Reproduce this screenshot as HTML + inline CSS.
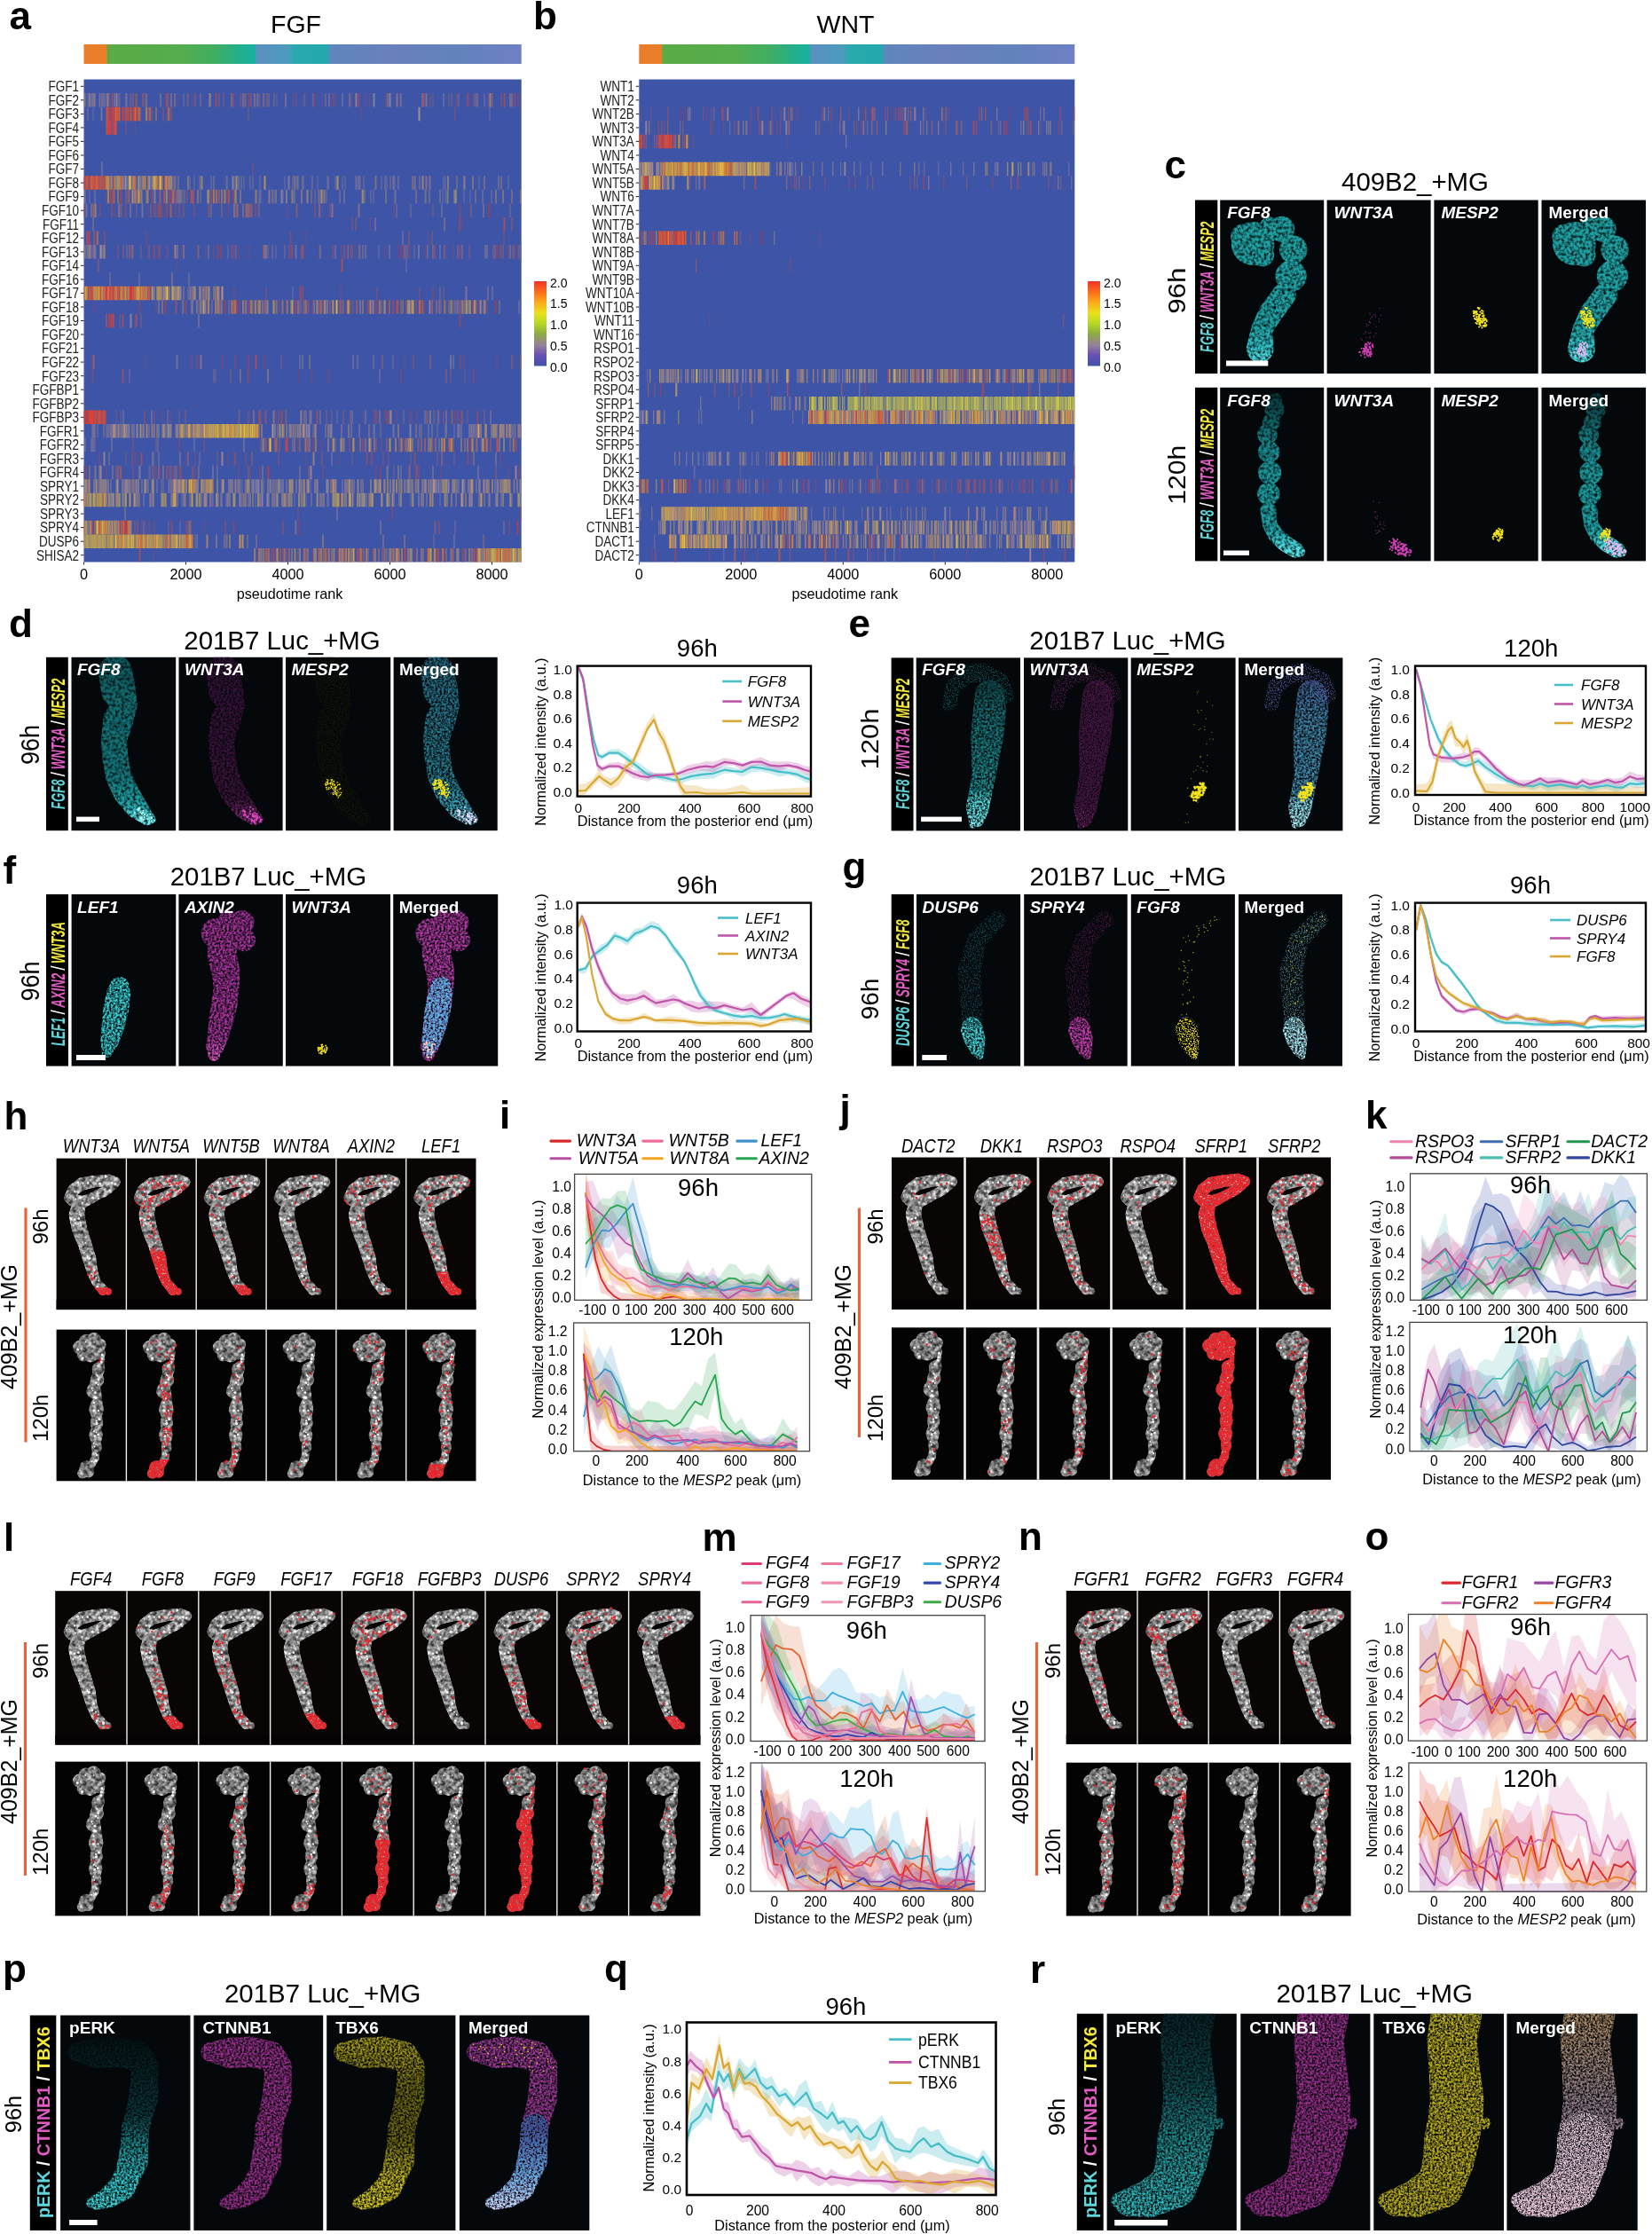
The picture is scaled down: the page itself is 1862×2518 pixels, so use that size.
<!DOCTYPE html><html><head><meta charset="utf-8"><title>Figure</title><style>html,body{margin:0;padding:0;background:#fff}svg{display:block}text{font-family:"Liberation Sans", sans-serif}</style></head><body><svg width="1862" height="2518" viewBox="0 0 1862 2518"><defs><filter id="hb" x="-1%" y="-3%" width="102%" height="106%"><feGaussianBlur stdDeviation="0.45 0"/></filter><linearGradient id="gac" x1="0" x2="1" y1="0" y2="0"><stop offset="0" stop-color="#e87d2a"/><stop offset="0.052" stop-color="#e87d2a"/><stop offset="0.054" stop-color="#5aab46"/><stop offset="0.22" stop-color="#55ad4c"/><stop offset="0.30" stop-color="#3fae62"/><stop offset="0.36" stop-color="#20b08e"/><stop offset="0.392" stop-color="#1ab0a0"/><stop offset="0.394" stop-color="#5b8fc0"/><stop offset="0.47" stop-color="#4a9cbc"/><stop offset="0.48" stop-color="#2aa8ae"/><stop offset="0.555" stop-color="#22a9ac"/><stop offset="0.565" stop-color="#5f86bd"/><stop offset="0.70" stop-color="#6a80bf"/><stop offset="0.85" stop-color="#6282bd"/><stop offset="1" stop-color="#6f80c4"/></linearGradient><linearGradient id="gbc" x1="0" x2="1" y1="0" y2="0"><stop offset="0" stop-color="#e87d2a"/><stop offset="0.052" stop-color="#e87d2a"/><stop offset="0.054" stop-color="#5aab46"/><stop offset="0.22" stop-color="#55ad4c"/><stop offset="0.30" stop-color="#3fae62"/><stop offset="0.36" stop-color="#20b08e"/><stop offset="0.392" stop-color="#1ab0a0"/><stop offset="0.394" stop-color="#5b8fc0"/><stop offset="0.47" stop-color="#4a9cbc"/><stop offset="0.48" stop-color="#2aa8ae"/><stop offset="0.555" stop-color="#22a9ac"/><stop offset="0.565" stop-color="#5f86bd"/><stop offset="0.70" stop-color="#6a80bf"/><stop offset="0.85" stop-color="#6282bd"/><stop offset="1" stop-color="#6f80c4"/></linearGradient><linearGradient id="lg1" x1="0" x2="0" y1="0" y2="1"><stop offset="0.000" stop-color="#f03228"/><stop offset="0.125" stop-color="#fa6e1e"/><stop offset="0.250" stop-color="#faaa1e"/><stop offset="0.375" stop-color="#ebe11e"/><stop offset="0.500" stop-color="#b4d728"/><stop offset="0.625" stop-color="#8caa46"/><stop offset="0.750" stop-color="#968296"/><stop offset="0.875" stop-color="#6950b4"/><stop offset="1.000" stop-color="#3e54a6"/></linearGradient><linearGradient id="lg2" x1="0" x2="0" y1="0" y2="1"><stop offset="0.000" stop-color="#f03228"/><stop offset="0.125" stop-color="#fa6e1e"/><stop offset="0.250" stop-color="#faaa1e"/><stop offset="0.375" stop-color="#ebe11e"/><stop offset="0.500" stop-color="#b4d728"/><stop offset="0.625" stop-color="#8caa46"/><stop offset="0.750" stop-color="#968296"/><stop offset="0.875" stop-color="#6950b4"/><stop offset="1.000" stop-color="#3e54a6"/></linearGradient><clipPath id="cp1"><rect x="650.7" y="750.6" width="263.3" height="147.0"/></clipPath><clipPath id="cp2"><rect x="1595.0" y="750.6" width="260.0" height="145.4"/></clipPath><clipPath id="cp3"><rect x="650.7" y="1017.6" width="263.3" height="144.9"/></clipPath><clipPath id="cp4"><rect x="1595.0" y="1017.6" width="260.0" height="144.9"/></clipPath><clipPath id="cp5"><rect x="774.0" y="2279.5" width="348.5" height="194.5"/></clipPath><clipPath id="cp6"><rect x="647.6" y="1323.4" width="267.2" height="142.0"/></clipPath><clipPath id="cp7"><rect x="646.6" y="1491.0" width="265.9" height="144.7"/></clipPath><clipPath id="cp8"><rect x="1589.5" y="1322.8" width="266.9" height="142.6"/></clipPath><clipPath id="cp9"><rect x="1588.9" y="1490.4" width="267.5" height="145.3"/></clipPath><clipPath id="cp10"><rect x="846.0" y="1820.7" width="264.0" height="141.8"/></clipPath><clipPath id="cp11"><rect x="846.0" y="1987.0" width="264.4" height="144.7"/></clipPath><clipPath id="cp12"><rect x="1587.4" y="1819.5" width="269.0" height="142.6"/></clipPath><clipPath id="cp13"><rect x="1587.9" y="1987.0" width="267.9" height="145.1"/></clipPath><filter id="sp" x="-10%" y="-5%" width="120%" height="110%" color-interpolation-filters="sRGB"><feTurbulence type="fractalNoise" baseFrequency="0.42" numOctaves="2" seed="4" result="n"/><feColorMatrix in="n" type="matrix" values="0 0 0 0 1 0 0 0 0 1 0 0 0 0 1 0 0 0 2.6 -0.72" result="m"/><feComposite in="SourceGraphic" in2="m" operator="in"/></filter><filter id="sf" x="-10%" y="-5%" width="120%" height="110%" color-interpolation-filters="sRGB"><feTurbulence type="fractalNoise" baseFrequency="0.3" numOctaves="2" seed="11" result="n"/><feColorMatrix in="n" type="matrix" values="0 0 0 0 1 0 0 0 0 1 0 0 0 0 1 0 0 0 2.2 -0.35" result="m"/><feComposite in="SourceGraphic" in2="m" operator="in"/></filter><filter id="sp2" x="-10%" y="-5%" width="120%" height="110%" color-interpolation-filters="sRGB"><feTurbulence type="fractalNoise" baseFrequency="0.7" numOctaves="2" seed="9" result="n"/><feColorMatrix in="n" type="matrix" values="0 0 0 0 1 0 0 0 0 1 0 0 0 0 1 0 0 0 5 -2.4" result="m"/><feComposite in="SourceGraphic" in2="m" operator="in"/></filter><filter id="sg" x="-5%" y="-5%" width="110%" height="110%" color-interpolation-filters="sRGB"><feTurbulence type="fractalNoise" baseFrequency="0.2" numOctaves="2" seed="7" result="n"/><feColorMatrix in="n" type="matrix" values="1.6 0 0 0 -0.3 1.6 0 0 0 -0.3 1.6 0 0 0 -0.3 0 0 0 0 1" result="m"/><feComposite in="SourceGraphic" in2="m" operator="arithmetic" k1="1.7" k2="0.25" k3="0" k4="0" result="t"/><feComposite in="t" in2="SourceGraphic" operator="in"/></filter><g id="c96"><circle cx="36.9" cy="49.0" r="24.4"/><circle cx="26.0" cy="41.0" r="14.0"/><circle cx="48.0" cy="62.0" r="13.0"/><circle cx="69.5" cy="32.7" r="14.5"/><circle cx="56.0" cy="31.0" r="12.0"/><circle cx="82.6" cy="55.8" r="15.8"/><circle cx="79.9" cy="85.6" r="17.6"/><circle cx="72.0" cy="107.0" r="13.6"/><circle cx="69.0" cy="111.1" r="13.6"/><circle cx="65.9" cy="115.3" r="13.6"/><circle cx="62.9" cy="119.4" r="13.6"/><circle cx="59.8" cy="123.6" r="13.6"/><circle cx="56.8" cy="127.7" r="13.6"/><circle cx="54.3" cy="132.2" r="13.2"/><circle cx="51.8" cy="136.8" r="12.8"/><circle cx="49.3" cy="141.3" r="12.4"/><circle cx="46.8" cy="145.8" r="12.0"/><circle cx="46.3" cy="151.2" r="12.8"/><circle cx="45.9" cy="156.7" r="13.7"/><circle cx="45.5" cy="162.1" r="14.6"/><circle cx="45.0" cy="167.5" r="15.4"/></g><g id="c96t"><circle cx="46.5" cy="150.0" r="12.0"/><circle cx="46.0" cy="155.8" r="13.0"/><circle cx="45.5" cy="161.7" r="14.0"/><circle cx="45.0" cy="167.5" r="15.0"/></g><g id="c120"><circle cx="62.0" cy="14.0" r="8.0"/><circle cx="61.3" cy="25.0" r="11.0"/><circle cx="57.5" cy="39.0" r="10.0"/><circle cx="53.2" cy="52.6" r="11.3"/><circle cx="55.0" cy="72.5" r="12.2"/><circle cx="55.9" cy="96.0" r="13.1"/><circle cx="54.5" cy="119.6" r="12.7"/><circle cx="54.1" cy="138.0" r="9.0"/><circle cx="54.5" cy="142.2" r="8.8"/><circle cx="55.0" cy="146.4" r="8.6"/><circle cx="55.5" cy="150.6" r="8.3"/><circle cx="55.9" cy="154.8" r="8.1"/><circle cx="58.3" cy="158.7" r="8.4"/><circle cx="60.7" cy="162.7" r="8.7"/><circle cx="63.1" cy="166.6" r="9.0"/><circle cx="66.4" cy="169.6" r="9.2"/><circle cx="69.8" cy="172.6" r="9.3"/><circle cx="73.1" cy="175.6" r="9.5"/><circle cx="77.0" cy="178.0" r="9.3"/><circle cx="80.9" cy="180.5" r="9.2"/><circle cx="84.8" cy="182.9" r="9.0"/><circle cx="90.0" cy="185.0" r="6.0"/></g><g id="d"><circle cx="49.5" cy="16.6" r="19.0"/><circle cx="50.4" cy="21.7" r="19.1"/><circle cx="51.2" cy="26.8" r="19.2"/><circle cx="52.0" cy="31.8" r="19.4"/><circle cx="52.9" cy="36.9" r="19.5"/><circle cx="55.2" cy="42.6" r="17.8"/><circle cx="57.4" cy="48.2" r="16.2"/><circle cx="59.7" cy="53.9" r="14.5"/><circle cx="57.4" cy="59.5" r="15.3"/><circle cx="55.2" cy="65.2" r="16.2"/><circle cx="52.9" cy="70.8" r="17.0"/><circle cx="51.6" cy="76.3" r="16.4"/><circle cx="50.3" cy="81.8" r="15.8"/><circle cx="49.1" cy="87.4" r="15.1"/><circle cx="47.8" cy="92.9" r="14.5"/><circle cx="48.2" cy="98.0" r="14.5"/><circle cx="48.6" cy="103.1" r="14.5"/><circle cx="49.1" cy="108.1" r="14.5"/><circle cx="49.5" cy="113.2" r="14.5"/><circle cx="50.4" cy="118.3" r="14.5"/><circle cx="51.2" cy="123.4" r="14.5"/><circle cx="52.0" cy="128.5" r="14.5"/><circle cx="52.9" cy="133.6" r="14.5"/><circle cx="55.0" cy="138.2" r="14.5"/><circle cx="57.1" cy="142.9" r="14.5"/><circle cx="59.3" cy="147.5" r="14.5"/><circle cx="61.4" cy="152.2" r="14.5"/><circle cx="64.3" cy="156.4" r="14.0"/><circle cx="67.3" cy="160.7" r="13.5"/><circle cx="70.2" cy="164.9" r="13.0"/><circle cx="73.2" cy="169.2" r="12.5"/><circle cx="77.2" cy="173.1" r="11.2"/><circle cx="81.1" cy="177.1" r="9.8"/><circle cx="85.1" cy="181.0" r="8.5"/><circle cx="90.2" cy="182.7" r="5.0"/></g><g id="e"><circle cx="82.8" cy="41.8" r="16.7"/><circle cx="82.8" cy="47.8" r="17.3"/><circle cx="82.8" cy="53.9" r="17.9"/><circle cx="82.8" cy="59.9" r="18.5"/><circle cx="82.2" cy="65.3" r="18.5"/><circle cx="81.7" cy="70.7" r="18.5"/><circle cx="81.1" cy="76.2" r="18.5"/><circle cx="80.6" cy="81.6" r="18.5"/><circle cx="80.0" cy="87.0" r="18.5"/><circle cx="79.6" cy="92.4" r="17.9"/><circle cx="79.1" cy="97.8" r="17.3"/><circle cx="78.7" cy="103.3" r="16.6"/><circle cx="78.2" cy="108.7" r="16.0"/><circle cx="77.8" cy="114.1" r="15.4"/><circle cx="77.2" cy="120.1" r="14.8"/><circle cx="76.6" cy="126.2" r="14.2"/><circle cx="76.0" cy="132.2" r="13.6"/><circle cx="74.9" cy="138.2" r="13.4"/><circle cx="73.9" cy="144.3" r="13.3"/><circle cx="72.8" cy="150.3" r="13.1"/><circle cx="71.6" cy="156.3" r="13.1"/><circle cx="70.4" cy="162.4" r="13.1"/><circle cx="69.2" cy="168.4" r="13.1"/><circle cx="68.5" cy="175.2" r="11.1"/><circle cx="67.8" cy="182.0" r="9.0"/><circle cx="64.2" cy="188.3" r="4.0"/></g><g id="eh"><circle cx="37.0" cy="52.0" r="8.0"/><circle cx="38.2" cy="47.0" r="8.2"/><circle cx="39.5" cy="42.0" r="8.5"/><circle cx="40.8" cy="37.0" r="8.8"/><circle cx="42.0" cy="32.0" r="9.0"/><circle cx="46.0" cy="28.5" r="9.2"/><circle cx="50.0" cy="25.0" r="9.5"/><circle cx="54.0" cy="21.5" r="9.8"/><circle cx="58.0" cy="18.0" r="10.0"/><circle cx="64.0" cy="17.7" r="10.3"/><circle cx="70.0" cy="17.3" r="10.7"/><circle cx="76.0" cy="17.0" r="11.0"/><circle cx="80.5" cy="19.8" r="11.0"/><circle cx="85.0" cy="22.5" r="11.0"/><circle cx="89.5" cy="25.2" r="11.0"/><circle cx="94.0" cy="28.0" r="11.0"/><circle cx="96.0" cy="32.7" r="10.7"/><circle cx="98.0" cy="37.3" r="10.3"/><circle cx="100.0" cy="42.0" r="10.0"/></g><g id="et"><circle cx="71.0" cy="158.0" r="13.0"/><circle cx="70.1" cy="163.2" r="13.1"/><circle cx="69.2" cy="168.4" r="13.1"/><circle cx="68.7" cy="172.9" r="11.7"/><circle cx="68.3" cy="177.5" r="10.4"/><circle cx="67.8" cy="182.0" r="9.0"/><circle cx="64.2" cy="188.3" r="4.0"/></g><g id="f"><circle cx="42.2" cy="44.0" r="17.0"/><circle cx="71.8" cy="31.5" r="13.4"/><circle cx="73.6" cy="51.2" r="13.0"/><circle cx="54.8" cy="27.0" r="9.8"/><circle cx="58.0" cy="45.0" r="14.0"/><circle cx="49.0" cy="62.0" r="16.5"/><circle cx="49.0" cy="69.1" r="16.5"/><circle cx="50.3" cy="75.1" r="16.3"/><circle cx="51.7" cy="81.0" r="16.2"/><circle cx="53.0" cy="87.0" r="16.0"/><circle cx="53.3" cy="93.0" r="15.4"/><circle cx="53.6" cy="98.9" r="14.9"/><circle cx="53.9" cy="104.9" r="14.3"/><circle cx="53.1" cy="110.9" r="14.5"/><circle cx="52.4" cy="116.8" r="14.6"/><circle cx="51.6" cy="122.8" r="14.8"/><circle cx="50.4" cy="128.8" r="14.5"/><circle cx="49.3" cy="134.7" r="14.2"/><circle cx="48.1" cy="140.7" r="13.9"/><circle cx="46.9" cy="146.7" r="13.3"/><circle cx="45.7" cy="152.6" r="12.6"/><circle cx="44.5" cy="158.6" r="12.0"/><circle cx="42.7" cy="165.3" r="11.2"/><circle cx="40.9" cy="172.0" r="10.3"/><circle cx="39.6" cy="181.0" r="7.0"/></g><g id="fl"><circle cx="54.0" cy="104.0" r="11.0"/><circle cx="53.0" cy="112.0" r="13.5"/><circle cx="52.0" cy="118.0" r="13.8"/><circle cx="51.0" cy="124.0" r="14.2"/><circle cx="50.0" cy="130.0" r="14.5"/><circle cx="49.0" cy="136.0" r="14.0"/><circle cx="48.0" cy="142.0" r="13.5"/><circle cx="47.0" cy="148.0" r="13.0"/><circle cx="45.7" cy="153.7" r="12.2"/><circle cx="44.3" cy="159.3" r="11.3"/><circle cx="43.0" cy="165.0" r="10.5"/><circle cx="41.5" cy="171.5" r="8.2"/><circle cx="40.0" cy="178.0" r="6.0"/></g><g id="ft"><circle cx="41.5" cy="170.0" r="9.0"/><circle cx="40.5" cy="175.0" r="8.0"/><circle cx="39.6" cy="180.0" r="7.0"/></g><g id="g"><circle cx="62.0" cy="148.0" r="10.0"/><circle cx="62.4" cy="152.3" r="12.5"/><circle cx="64.0" cy="157.7" r="12.2"/><circle cx="65.5" cy="163.1" r="12.0"/><circle cx="66.8" cy="168.4" r="10.2"/><circle cx="68.2" cy="173.8" r="8.5"/><circle cx="69.8" cy="177.9" r="6.2"/><circle cx="71.3" cy="181.9" r="4.0"/></g><g id="gb"><circle cx="62.8" cy="140.0" r="12.0"/><circle cx="62.4" cy="133.4" r="12.1"/><circle cx="61.9" cy="126.8" r="12.2"/><circle cx="61.5" cy="120.1" r="12.4"/><circle cx="61.0" cy="113.5" r="12.5"/><circle cx="60.6" cy="106.9" r="12.6"/><circle cx="60.2" cy="100.2" r="12.8"/><circle cx="59.7" cy="93.6" r="12.9"/><circle cx="59.3" cy="87.0" r="13.0"/><circle cx="60.8" cy="81.0" r="12.7"/><circle cx="62.3" cy="75.1" r="12.3"/><circle cx="63.8" cy="69.1" r="12.0"/><circle cx="65.2" cy="63.1" r="11.7"/><circle cx="66.7" cy="57.2" r="11.3"/><circle cx="68.2" cy="51.2" r="11.0"/><circle cx="72.7" cy="46.7" r="10.8"/><circle cx="77.2" cy="42.2" r="10.6"/><circle cx="81.6" cy="37.8" r="10.4"/><circle cx="86.1" cy="33.3" r="10.2"/><circle cx="90.6" cy="28.8" r="10.0"/></g><g id="p"><circle cx="19.3" cy="41.4" r="11.1"/><circle cx="26.7" cy="41.7" r="13.2"/><circle cx="34.2" cy="42.0" r="15.3"/><circle cx="41.6" cy="42.3" r="17.4"/><circle cx="49.1" cy="41.9" r="17.4"/><circle cx="56.5" cy="41.6" r="17.4"/><circle cx="64.0" cy="41.2" r="17.4"/><circle cx="71.5" cy="42.8" r="17.1"/><circle cx="78.9" cy="44.3" r="16.9"/><circle cx="86.4" cy="45.9" r="16.7"/><circle cx="90.9" cy="52.0" r="15.9"/><circle cx="95.4" cy="58.2" r="15.1"/><circle cx="95.1" cy="64.3" r="15.3"/><circle cx="94.8" cy="70.5" r="15.6"/><circle cx="94.4" cy="78.0" r="15.9"/><circle cx="94.1" cy="85.4" r="16.3"/><circle cx="93.7" cy="92.9" r="16.7"/><circle cx="91.5" cy="101.3" r="16.1"/><circle cx="89.2" cy="109.7" r="15.6"/><circle cx="87.0" cy="118.1" r="15.6"/><circle cx="84.7" cy="126.5" r="15.6"/><circle cx="84.2" cy="134.0" r="15.7"/><circle cx="83.8" cy="141.4" r="15.8"/><circle cx="83.3" cy="148.9" r="15.8"/><circle cx="82.6" cy="156.2" r="16.5"/><circle cx="81.9" cy="163.4" r="17.1"/><circle cx="79.7" cy="170.1" r="16.1"/><circle cx="77.4" cy="176.8" r="15.1"/><circle cx="74.8" cy="182.4" r="15.1"/><circle cx="72.2" cy="188.0" r="15.1"/><circle cx="69.6" cy="193.6" r="15.1"/><circle cx="64.8" cy="197.3" r="14.1"/><circle cx="59.9" cy="201.1" r="13.1"/><circle cx="55.1" cy="204.8" r="12.1"/><circle cx="48.4" cy="207.6" r="10.5"/><circle cx="41.6" cy="210.4" r="9.0"/><circle cx="34.9" cy="211.0" r="6.0"/></g><g id="pt"><circle cx="84.7" cy="126.5" r="15.6"/><circle cx="84.2" cy="134.0" r="15.7"/><circle cx="83.8" cy="141.4" r="15.8"/><circle cx="83.3" cy="148.9" r="15.8"/><circle cx="82.6" cy="156.2" r="16.5"/><circle cx="81.9" cy="163.4" r="17.1"/><circle cx="79.7" cy="170.1" r="16.1"/><circle cx="77.4" cy="176.8" r="15.1"/><circle cx="74.8" cy="182.4" r="15.1"/><circle cx="72.2" cy="188.0" r="15.1"/><circle cx="69.6" cy="193.6" r="15.1"/><circle cx="64.8" cy="197.3" r="14.1"/><circle cx="59.9" cy="201.1" r="13.1"/><circle cx="55.1" cy="204.8" r="12.1"/><circle cx="48.4" cy="207.6" r="10.5"/><circle cx="41.6" cy="210.4" r="9.0"/><circle cx="34.9" cy="211.0" r="6.0"/></g><g id="ph"><circle cx="19.3" cy="41.4" r="11.1"/><circle cx="26.7" cy="41.7" r="13.2"/><circle cx="34.2" cy="42.0" r="15.3"/><circle cx="41.6" cy="42.3" r="17.4"/><circle cx="49.1" cy="41.9" r="17.4"/><circle cx="56.5" cy="41.6" r="17.4"/><circle cx="64.0" cy="41.2" r="17.4"/><circle cx="71.5" cy="42.8" r="17.1"/><circle cx="78.9" cy="44.3" r="16.9"/><circle cx="86.4" cy="45.9" r="16.7"/><circle cx="90.9" cy="52.0" r="15.9"/><circle cx="95.4" cy="58.2" r="15.1"/></g><g id="r"><circle cx="93.3" cy="0.0" r="28.8"/><circle cx="91.6" cy="10.0" r="28.6"/><circle cx="89.9" cy="19.9" r="28.4"/><circle cx="88.2" cy="29.9" r="28.2"/><circle cx="88.9" cy="38.4" r="28.4"/><circle cx="89.6" cy="46.8" r="28.5"/><circle cx="90.3" cy="55.2" r="28.6"/><circle cx="91.0" cy="63.7" r="28.8"/><circle cx="91.7" cy="72.2" r="29.2"/><circle cx="92.5" cy="80.7" r="29.6"/><circle cx="93.2" cy="89.1" r="30.1"/><circle cx="93.9" cy="97.6" r="30.5"/><circle cx="93.1" cy="108.9" r="30.8"/><circle cx="92.2" cy="120.2" r="31.0"/><circle cx="90.0" cy="131.4" r="31.0"/><circle cx="87.7" cy="142.7" r="31.0"/><circle cx="86.0" cy="154.0" r="30.0"/><circle cx="84.3" cy="165.3" r="29.0"/><circle cx="81.5" cy="174.7" r="28.0"/><circle cx="78.6" cy="184.1" r="27.0"/><circle cx="75.8" cy="193.5" r="26.0"/><circle cx="66.4" cy="198.4" r="24.5"/><circle cx="57.0" cy="203.3" r="22.9"/><circle cx="47.6" cy="208.2" r="21.4"/><circle cx="36.3" cy="210.4" r="18.6"/><circle cx="25.0" cy="212.7" r="15.8"/><circle cx="13.8" cy="210.4" r="9.0"/><circle cx="125.0" cy="123.5" r="7.0"/></g><g id="rt"><circle cx="87.7" cy="142.7" r="31.0"/><circle cx="86.0" cy="154.0" r="30.0"/><circle cx="84.3" cy="165.3" r="29.0"/><circle cx="81.5" cy="174.7" r="28.0"/><circle cx="78.6" cy="184.1" r="27.0"/><circle cx="75.8" cy="193.5" r="26.0"/><circle cx="66.4" cy="198.4" r="24.5"/><circle cx="57.0" cy="203.3" r="22.9"/><circle cx="47.6" cy="208.2" r="21.4"/><circle cx="36.3" cy="210.4" r="18.6"/><circle cx="25.0" cy="212.7" r="15.8"/><circle cx="13.8" cy="210.4" r="9.0"/></g><clipPath id="pc1"><rect x="1375.2" y="225.5" width="117.0" height="195.6"/></clipPath><clipPath id="pc2"><rect x="1495.6" y="225.5" width="117.0" height="195.6"/></clipPath><clipPath id="pc3"><rect x="1616.4" y="225.5" width="117.3" height="195.6"/></clipPath><clipPath id="pc4"><rect x="1737.5" y="225.5" width="117.5" height="195.6"/></clipPath><clipPath id="pc5"><rect x="1375.2" y="436.8" width="117.0" height="195.6"/></clipPath><clipPath id="pc6"><rect x="1495.6" y="436.8" width="117.0" height="195.6"/></clipPath><clipPath id="pc7"><rect x="1616.4" y="436.8" width="117.3" height="195.6"/></clipPath><clipPath id="pc8"><rect x="1737.5" y="436.8" width="117.5" height="195.6"/></clipPath><linearGradient id="vg9" gradientUnits="userSpaceOnUse" x1="0" x2="0" y1="20" y2="185"><stop offset="0" stop-color="#1f9fa0"/><stop offset="0.75" stop-color="#1fa3a6"/><stop offset="0.9" stop-color="#34c4c8"/><stop offset="1" stop-color="#58e6ea"/></linearGradient><linearGradient id="vg10" gradientUnits="userSpaceOnUse" x1="0" x2="0" y1="10" y2="190"><stop offset="0" stop-color="#0a3a3e"/><stop offset="0.2" stop-color="#136a6e"/><stop offset="0.35" stop-color="#1a9093"/><stop offset="0.85" stop-color="#1fa3a6"/><stop offset="0.95" stop-color="#50e0e4"/><stop offset="1" stop-color="#60ecf0"/></linearGradient><clipPath id="pc11"><rect x="80.5" y="740.8" width="117.7" height="195.4"/></clipPath><clipPath id="pc12"><rect x="201.5" y="740.8" width="117.1" height="195.4"/></clipPath><clipPath id="pc13"><rect x="322.0" y="740.8" width="118.2" height="195.4"/></clipPath><clipPath id="pc14"><rect x="443.6" y="740.8" width="117.1" height="195.4"/></clipPath><linearGradient id="vg15" gradientUnits="userSpaceOnUse" x1="0" x2="0" y1="20" y2="185"><stop offset="0" stop-color="#0f5c60"/><stop offset="0.15" stop-color="#126c70"/><stop offset="0.7" stop-color="#14767a"/><stop offset="0.9" stop-color="#22a8ac"/><stop offset="1" stop-color="#6cecee"/></linearGradient><linearGradient id="vg16" gradientUnits="userSpaceOnUse" x1="0" x2="0" y1="20" y2="185"><stop offset="0" stop-color="#35103a"/><stop offset="0.85" stop-color="#3c123c"/><stop offset="1" stop-color="#a0308c"/></linearGradient><linearGradient id="vg17" gradientUnits="userSpaceOnUse" x1="0" x2="0" y1="20" y2="185"><stop offset="0" stop-color="#256f86"/><stop offset="0.7" stop-color="#25788a"/><stop offset="0.9" stop-color="#3aa8c0"/><stop offset="1" stop-color="#9adcf0"/></linearGradient><clipPath id="pc18"><rect x="1032.7" y="741.4" width="117.3" height="195.0"/></clipPath><clipPath id="pc19"><rect x="1154.0" y="741.4" width="117.3" height="195.0"/></clipPath><clipPath id="pc20"><rect x="1274.7" y="741.4" width="117.9" height="195.0"/></clipPath><clipPath id="pc21"><rect x="1396.0" y="741.4" width="117.4" height="195.0"/></clipPath><linearGradient id="vg22" gradientUnits="userSpaceOnUse" x1="0" x2="0" y1="20" y2="190"><stop offset="0" stop-color="#0a3c40"/><stop offset="0.25" stop-color="#146e72"/><stop offset="0.75" stop-color="#1a8e92"/><stop offset="0.83" stop-color="#50d8de"/><stop offset="1" stop-color="#80f0f4"/></linearGradient><linearGradient id="vg23" gradientUnits="userSpaceOnUse" x1="0" x2="0" y1="20" y2="190"><stop offset="0" stop-color="#5a1c54"/><stop offset="0.85" stop-color="#6a2062"/><stop offset="1" stop-color="#d040b8"/></linearGradient><linearGradient id="vg24" gradientUnits="userSpaceOnUse" x1="0" x2="0" y1="20" y2="190"><stop offset="0" stop-color="#3a5a90"/><stop offset="0.3" stop-color="#3f80a6"/><stop offset="0.78" stop-color="#3f8cae"/><stop offset="0.86" stop-color="#8fe0f0"/><stop offset="1" stop-color="#a8ecf6"/></linearGradient><clipPath id="pc25"><rect x="80.6" y="1008.0" width="117.7" height="193.6"/></clipPath><clipPath id="pc26"><rect x="201.4" y="1008.0" width="117.4" height="193.6"/></clipPath><clipPath id="pc27"><rect x="322.0" y="1008.0" width="118.0" height="193.6"/></clipPath><clipPath id="pc28"><rect x="443.2" y="1008.0" width="118.0" height="193.6"/></clipPath><linearGradient id="vg29" gradientUnits="userSpaceOnUse" x1="0" x2="0" y1="20" y2="185"><stop offset="0" stop-color="#a8329c"/><stop offset="0.85" stop-color="#a8329c"/><stop offset="1" stop-color="#ea60d0"/></linearGradient><clipPath id="pc30"><rect x="1033.0" y="1008.0" width="117.1" height="193.6"/></clipPath><clipPath id="pc31"><rect x="1154.2" y="1008.0" width="116.5" height="193.6"/></clipPath><clipPath id="pc32"><rect x="1274.8" y="1008.0" width="117.1" height="193.6"/></clipPath><clipPath id="pc33"><rect x="1396.0" y="1008.0" width="117.0" height="193.6"/></clipPath><clipPath id="pc34"><rect x="68.1" y="2271.5" width="146.4" height="242.5"/></clipPath><clipPath id="pc35"><rect x="218.4" y="2271.5" width="145.8" height="242.5"/></clipPath><clipPath id="pc36"><rect x="368.2" y="2271.5" width="145.2" height="242.5"/></clipPath><clipPath id="pc37"><rect x="517.9" y="2271.5" width="146.4" height="242.5"/></clipPath><linearGradient id="vg38" gradientUnits="userSpaceOnUse" x1="0" x2="0" y1="20" y2="225"><stop offset="0" stop-color="#041012"/><stop offset="0.45" stop-color="#0a3a3e"/><stop offset="0.62" stop-color="#1a8c90"/><stop offset="0.8" stop-color="#30c4c8"/><stop offset="1" stop-color="#44dce0"/></linearGradient><linearGradient id="vg39" gradientUnits="userSpaceOnUse" x1="0" x2="0" y1="20" y2="225"><stop offset="0" stop-color="#b0a41c"/><stop offset="0.3" stop-color="#6e6810"/><stop offset="0.6" stop-color="#6e6810"/><stop offset="0.8" stop-color="#c4b81e"/><stop offset="1" stop-color="#d8cc22"/></linearGradient><linearGradient id="vg40" gradientUnits="userSpaceOnUse" x1="0" x2="0" y1="130" y2="225"><stop offset="0" stop-color="#3060a0"/><stop offset="0.5" stop-color="#50b0e0"/><stop offset="1" stop-color="#d0f0ff"/></linearGradient><clipPath id="pc41"><rect x="1247.6" y="2269.7" width="146.2" height="244.3"/></clipPath><clipPath id="pc42"><rect x="1398.3" y="2269.7" width="146.1" height="244.3"/></clipPath><clipPath id="pc43"><rect x="1548.3" y="2269.7" width="146.7" height="244.3"/></clipPath><clipPath id="pc44"><rect x="1698.4" y="2269.7" width="147.3" height="244.3"/></clipPath><linearGradient id="vg45" gradientUnits="userSpaceOnUse" x1="0" x2="0" y1="0" y2="225"><stop offset="0" stop-color="#082428"/><stop offset="0.35" stop-color="#0d4a4e"/><stop offset="0.6" stop-color="#1b888a"/><stop offset="1" stop-color="#32bcc0"/></linearGradient><clipPath id="pc46"><rect x="1247.6" y="2269.7" width="146.2" height="244.3"/></clipPath><clipPath id="pc47"><rect x="1398.3" y="2269.7" width="146.1" height="244.3"/></clipPath><clipPath id="pc48"><rect x="1548.3" y="2269.7" width="146.7" height="244.3"/></clipPath><clipPath id="pc49"><rect x="1698.4" y="2269.7" width="147.3" height="244.3"/></clipPath><linearGradient id="vg50" gradientUnits="userSpaceOnUse" x1="0" x2="0" y1="0" y2="225"><stop offset="0" stop-color="#a88860"/><stop offset="0.45" stop-color="#907c88"/><stop offset="0.7" stop-color="#a890a8"/><stop offset="1" stop-color="#e0b8d0"/></linearGradient><filter id="rr" x="-5%" y="-5%" width="110%" height="110%" color-interpolation-filters="sRGB"><feTurbulence type="fractalNoise" baseFrequency="0.5" numOctaves="2" seed="3" result="n"/><feColorMatrix in="n" type="matrix" values="0 0 0 0 1 0 0 0 0 1 0 0 0 0 1 0 0 0 4 -0.85" result="m"/><feComposite in="SourceGraphic" in2="m" operator="in"/></filter><g id="E96"><g fill="#7c7c7c" filter="url(#sg)"><circle cx="17.0" cy="43.0" r="7.0"/><circle cx="18.3" cy="40.0" r="7.0"/><circle cx="19.7" cy="37.0" r="7.0"/><circle cx="21.0" cy="34.0" r="7.0"/><circle cx="24.0" cy="31.8" r="7.2"/><circle cx="27.0" cy="29.7" r="7.3"/><circle cx="30.0" cy="27.5" r="7.5"/><circle cx="33.0" cy="26.9" r="7.4"/><circle cx="36.0" cy="26.3" r="7.3"/><circle cx="39.0" cy="25.7" r="7.2"/><circle cx="42.0" cy="25.1" r="7.1"/><circle cx="45.0" cy="24.5" r="7.0"/><circle cx="48.0" cy="24.2" r="7.0"/><circle cx="51.0" cy="23.9" r="7.0"/><circle cx="54.0" cy="23.6" r="7.0"/><circle cx="57.0" cy="23.3" r="7.0"/><circle cx="60.0" cy="23.0" r="7.0"/><circle cx="64.0" cy="24.0" r="6.5"/><circle cx="68.0" cy="25.0" r="6.0"/><circle cx="68.0" cy="27.0" r="5.0"/><circle cx="65.2" cy="29.0" r="5.2"/><circle cx="62.5" cy="31.0" r="5.5"/><circle cx="59.8" cy="33.0" r="5.8"/><circle cx="57.0" cy="35.0" r="6.0"/><circle cx="53.8" cy="36.8" r="6.0"/><circle cx="50.5" cy="38.5" r="6.0"/><circle cx="47.2" cy="40.2" r="6.0"/><circle cx="44.0" cy="42.0" r="6.0"/><circle cx="41.0" cy="43.4" r="6.2"/><circle cx="38.0" cy="44.8" r="6.5"/><circle cx="35.0" cy="46.1" r="6.8"/><circle cx="32.0" cy="47.5" r="7.0"/><circle cx="29.0" cy="47.1" r="7.0"/><circle cx="26.0" cy="46.8" r="7.0"/><circle cx="23.0" cy="46.4" r="7.0"/><circle cx="20.0" cy="46.0" r="7.0"/><circle cx="27.0" cy="50.0" r="8.0"/><circle cx="26.4" cy="53.0" r="8.2"/><circle cx="25.7" cy="56.1" r="8.5"/><circle cx="25.0" cy="59.2" r="8.8"/><circle cx="24.4" cy="62.2" r="9.0"/><circle cx="25.0" cy="65.3" r="9.0"/><circle cx="25.6" cy="68.5" r="9.0"/><circle cx="26.3" cy="71.6" r="9.0"/><circle cx="26.9" cy="74.8" r="9.0"/><circle cx="27.5" cy="77.9" r="9.0"/><circle cx="28.6" cy="80.8" r="8.8"/><circle cx="29.6" cy="83.7" r="8.7"/><circle cx="30.6" cy="86.6" r="8.5"/><circle cx="31.7" cy="89.4" r="8.3"/><circle cx="32.8" cy="92.3" r="8.2"/><circle cx="33.8" cy="95.2" r="8.0"/><circle cx="34.8" cy="98.4" r="8.0"/><circle cx="35.7" cy="101.5" r="8.0"/><circle cx="36.7" cy="104.7" r="8.0"/><circle cx="37.6" cy="107.8" r="8.0"/><circle cx="38.6" cy="111.0" r="8.0"/><circle cx="39.4" cy="114.5" r="7.6"/><circle cx="40.2" cy="118.0" r="7.2"/><circle cx="40.9" cy="121.6" r="6.9"/><circle cx="41.7" cy="125.1" r="6.5"/><circle cx="42.9" cy="128.2" r="6.2"/><circle cx="44.0" cy="131.4" r="6.0"/><circle cx="45.2" cy="134.5" r="5.8"/><circle cx="46.4" cy="137.7" r="5.5"/><circle cx="48.4" cy="140.1" r="5.6"/><circle cx="50.3" cy="142.4" r="5.8"/><circle cx="52.3" cy="144.8" r="5.9"/><circle cx="54.3" cy="147.2" r="6.0"/><circle cx="60.0" cy="148.7" r="4.0"/></g><g fill="#fff" fill-opacity="0.9"><circle cx="28.8" cy="42.8" r="1.5"/><circle cx="55.1" cy="145.3" r="1.5"/><circle cx="31.4" cy="26.5" r="1.1"/><circle cx="30.9" cy="48.6" r="0.9"/><circle cx="42.5" cy="43.0" r="1.5"/><circle cx="34.5" cy="93.8" r="0.8"/><circle cx="38.8" cy="111.2" r="1.5"/><circle cx="47.9" cy="36.2" r="0.8"/><circle cx="61.6" cy="34.7" r="1.2"/><circle cx="49.0" cy="44.0" r="0.9"/><circle cx="30.6" cy="92.8" r="0.8"/><circle cx="67.8" cy="27.4" r="1.4"/><circle cx="13.6" cy="40.7" r="0.8"/><circle cx="29.3" cy="73.9" r="1.0"/><circle cx="41.1" cy="128.6" r="0.9"/><circle cx="22.4" cy="36.1" r="1.1"/><circle cx="32.9" cy="104.7" r="0.7"/><circle cx="25.9" cy="25.8" r="1.6"/><circle cx="57.2" cy="18.6" r="1.5"/><circle cx="20.9" cy="74.3" r="0.9"/><circle cx="44.2" cy="124.2" r="1.4"/><circle cx="31.8" cy="54.3" r="0.8"/><circle cx="22.5" cy="71.3" r="0.8"/><circle cx="23.2" cy="44.3" r="1.0"/><circle cx="22.5" cy="67.5" r="1.3"/><circle cx="27.5" cy="59.1" r="0.7"/><circle cx="55.0" cy="146.9" r="1.4"/><circle cx="28.8" cy="71.0" r="1.1"/><circle cx="37.1" cy="26.4" r="1.4"/><circle cx="26.8" cy="66.5" r="1.4"/><circle cx="57.0" cy="19.8" r="0.8"/><circle cx="36.7" cy="108.8" r="1.1"/><circle cx="64.0" cy="26.2" r="1.5"/><circle cx="47.7" cy="143.3" r="1.4"/><circle cx="42.4" cy="131.2" r="1.5"/><circle cx="50.5" cy="27.0" r="1.6"/><circle cx="46.4" cy="133.3" r="1.1"/><circle cx="49.1" cy="136.5" r="1.0"/></g></g><g id="E96r" fill="#e8262c"><circle cx="17.0" cy="43.0" r="7.0"/><circle cx="18.3" cy="40.0" r="7.0"/><circle cx="19.7" cy="37.0" r="7.0"/><circle cx="21.0" cy="34.0" r="7.0"/><circle cx="24.0" cy="31.8" r="7.2"/><circle cx="27.0" cy="29.7" r="7.3"/><circle cx="30.0" cy="27.5" r="7.5"/><circle cx="33.0" cy="26.9" r="7.4"/><circle cx="36.0" cy="26.3" r="7.3"/><circle cx="39.0" cy="25.7" r="7.2"/><circle cx="42.0" cy="25.1" r="7.1"/><circle cx="45.0" cy="24.5" r="7.0"/><circle cx="48.0" cy="24.2" r="7.0"/><circle cx="51.0" cy="23.9" r="7.0"/><circle cx="54.0" cy="23.6" r="7.0"/><circle cx="57.0" cy="23.3" r="7.0"/><circle cx="60.0" cy="23.0" r="7.0"/><circle cx="64.0" cy="24.0" r="6.5"/><circle cx="68.0" cy="25.0" r="6.0"/><circle cx="68.0" cy="27.0" r="5.0"/><circle cx="65.2" cy="29.0" r="5.2"/><circle cx="62.5" cy="31.0" r="5.5"/><circle cx="59.8" cy="33.0" r="5.8"/><circle cx="57.0" cy="35.0" r="6.0"/><circle cx="53.8" cy="36.8" r="6.0"/><circle cx="50.5" cy="38.5" r="6.0"/><circle cx="47.2" cy="40.2" r="6.0"/><circle cx="44.0" cy="42.0" r="6.0"/><circle cx="41.0" cy="43.4" r="6.2"/><circle cx="38.0" cy="44.8" r="6.5"/><circle cx="35.0" cy="46.1" r="6.8"/><circle cx="32.0" cy="47.5" r="7.0"/><circle cx="29.0" cy="47.1" r="7.0"/><circle cx="26.0" cy="46.8" r="7.0"/><circle cx="23.0" cy="46.4" r="7.0"/><circle cx="20.0" cy="46.0" r="7.0"/><circle cx="27.0" cy="50.0" r="8.0"/><circle cx="26.4" cy="53.0" r="8.2"/><circle cx="25.7" cy="56.1" r="8.5"/><circle cx="25.0" cy="59.2" r="8.8"/><circle cx="24.4" cy="62.2" r="9.0"/><circle cx="25.0" cy="65.3" r="9.0"/><circle cx="25.6" cy="68.5" r="9.0"/><circle cx="26.3" cy="71.6" r="9.0"/><circle cx="26.9" cy="74.8" r="9.0"/><circle cx="27.5" cy="77.9" r="9.0"/><circle cx="28.6" cy="80.8" r="8.8"/><circle cx="29.6" cy="83.7" r="8.7"/><circle cx="30.6" cy="86.6" r="8.5"/><circle cx="31.7" cy="89.4" r="8.3"/><circle cx="32.8" cy="92.3" r="8.2"/><circle cx="33.8" cy="95.2" r="8.0"/><circle cx="34.8" cy="98.4" r="8.0"/><circle cx="35.7" cy="101.5" r="8.0"/><circle cx="36.7" cy="104.7" r="8.0"/><circle cx="37.6" cy="107.8" r="8.0"/><circle cx="38.6" cy="111.0" r="8.0"/><circle cx="39.4" cy="114.5" r="7.6"/><circle cx="40.2" cy="118.0" r="7.2"/><circle cx="40.9" cy="121.6" r="6.9"/><circle cx="41.7" cy="125.1" r="6.5"/><circle cx="42.9" cy="128.2" r="6.2"/><circle cx="44.0" cy="131.4" r="6.0"/><circle cx="45.2" cy="134.5" r="5.8"/><circle cx="46.4" cy="137.7" r="5.5"/><circle cx="48.4" cy="140.1" r="5.6"/><circle cx="50.3" cy="142.4" r="5.8"/><circle cx="52.3" cy="144.8" r="5.9"/><circle cx="54.3" cy="147.2" r="6.0"/><circle cx="60.0" cy="148.7" r="4.0"/></g><g id="E120"><g fill="#707070" filter="url(#sg)"><circle cx="26.0" cy="19.0" r="8.0"/><circle cx="33.0" cy="12.0" r="8.0"/><circle cx="42.0" cy="10.0" r="8.0"/><circle cx="49.0" cy="16.0" r="7.0"/><circle cx="47.0" cy="25.0" r="8.0"/><circle cx="38.0" cy="27.0" r="9.0"/><circle cx="30.0" cy="28.0" r="7.0"/><circle cx="36.0" cy="18.0" r="9.0"/><circle cx="52.0" cy="28.0" r="2.5"/><circle cx="51.5" cy="32.0" r="2.8"/><circle cx="51.0" cy="36.0" r="3.0"/><circle cx="49.0" cy="39.5" r="5.2"/><circle cx="47.0" cy="43.0" r="7.5"/><circle cx="46.5" cy="46.5" r="6.8"/><circle cx="46.0" cy="50.0" r="6.0"/><circle cx="45.8" cy="53.0" r="7.0"/><circle cx="45.5" cy="56.0" r="8.0"/><circle cx="44.2" cy="59.0" r="7.0"/><circle cx="43.0" cy="62.0" r="6.0"/><circle cx="42.2" cy="65.0" r="7.2"/><circle cx="41.5" cy="68.0" r="8.5"/><circle cx="43.0" cy="70.7" r="7.3"/><circle cx="44.5" cy="73.3" r="6.2"/><circle cx="46.0" cy="76.0" r="5.0"/><circle cx="45.5" cy="79.5" r="6.0"/><circle cx="45.0" cy="83.0" r="7.0"/><circle cx="44.8" cy="86.0" r="7.8"/><circle cx="44.5" cy="89.0" r="8.5"/><circle cx="44.8" cy="93.0" r="7.2"/><circle cx="45.0" cy="97.0" r="6.0"/><circle cx="45.0" cy="100.5" r="6.8"/><circle cx="45.0" cy="104.0" r="7.5"/><circle cx="44.8" cy="107.5" r="6.5"/><circle cx="44.5" cy="111.0" r="5.5"/><circle cx="44.2" cy="114.5" r="6.8"/><circle cx="44.0" cy="118.0" r="8.0"/><circle cx="44.2" cy="122.0" r="6.8"/><circle cx="44.5" cy="126.0" r="5.5"/><circle cx="44.8" cy="129.0" r="5.8"/><circle cx="45.0" cy="132.0" r="6.0"/><circle cx="44.5" cy="135.0" r="5.2"/><circle cx="44.0" cy="138.0" r="4.5"/><circle cx="43.5" cy="141.0" r="4.8"/><circle cx="43.0" cy="144.0" r="5.0"/><circle cx="41.5" cy="147.0" r="4.8"/><circle cx="40.0" cy="150.0" r="4.5"/><circle cx="33.8" cy="155.0" r="8.7"/><circle cx="29.0" cy="161.0" r="6.0"/><circle cx="36.0" cy="160.0" r="6.0"/></g><g fill="#fff" fill-opacity="0.9"><circle cx="43.3" cy="70.0" r="1.4"/><circle cx="43.3" cy="75.0" r="1.5"/><circle cx="46.1" cy="51.4" r="1.0"/><circle cx="40.7" cy="67.5" r="0.7"/><circle cx="44.5" cy="114.8" r="0.9"/><circle cx="44.4" cy="58.9" r="1.4"/><circle cx="44.1" cy="75.8" r="1.5"/><circle cx="41.8" cy="90.0" r="1.5"/><circle cx="39.6" cy="147.6" r="1.0"/><circle cx="50.7" cy="31.9" r="1.5"/><circle cx="44.7" cy="101.8" r="1.3"/><circle cx="47.0" cy="90.2" r="1.2"/><circle cx="45.2" cy="140.3" r="1.2"/><circle cx="44.0" cy="138.6" r="0.9"/><circle cx="41.6" cy="127.1" r="0.9"/><circle cx="44.3" cy="146.7" r="1.6"/><circle cx="48.0" cy="53.4" r="0.8"/><circle cx="46.3" cy="39.8" r="1.1"/><circle cx="42.0" cy="75.6" r="1.2"/><circle cx="45.2" cy="50.1" r="1.0"/><circle cx="47.1" cy="55.4" r="1.3"/><circle cx="43.3" cy="118.8" r="1.3"/><circle cx="29.0" cy="31.4" r="1.6"/><circle cx="46.7" cy="61.0" r="1.1"/><circle cx="42.5" cy="119.8" r="0.8"/><circle cx="42.7" cy="130.9" r="0.9"/><circle cx="51.2" cy="27.3" r="1.5"/><circle cx="23.6" cy="21.2" r="1.5"/><circle cx="46.6" cy="117.4" r="1.5"/><circle cx="41.8" cy="81.3" r="1.1"/><circle cx="47.9" cy="100.0" r="1.6"/><circle cx="50.1" cy="35.4" r="1.6"/><circle cx="45.0" cy="104.7" r="1.6"/><circle cx="39.5" cy="65.1" r="1.1"/><circle cx="32.7" cy="12.8" r="0.9"/><circle cx="43.0" cy="5.0" r="0.7"/><circle cx="42.1" cy="113.6" r="1.1"/><circle cx="42.1" cy="12.9" r="0.8"/></g></g><g id="E120r" fill="#e8262c"><circle cx="26.0" cy="19.0" r="8.0"/><circle cx="33.0" cy="12.0" r="8.0"/><circle cx="42.0" cy="10.0" r="8.0"/><circle cx="49.0" cy="16.0" r="7.0"/><circle cx="47.0" cy="25.0" r="8.0"/><circle cx="38.0" cy="27.0" r="9.0"/><circle cx="30.0" cy="28.0" r="7.0"/><circle cx="36.0" cy="18.0" r="9.0"/><circle cx="52.0" cy="28.0" r="2.5"/><circle cx="51.5" cy="32.0" r="2.8"/><circle cx="51.0" cy="36.0" r="3.0"/><circle cx="49.0" cy="39.5" r="5.2"/><circle cx="47.0" cy="43.0" r="7.5"/><circle cx="46.5" cy="46.5" r="6.8"/><circle cx="46.0" cy="50.0" r="6.0"/><circle cx="45.8" cy="53.0" r="7.0"/><circle cx="45.5" cy="56.0" r="8.0"/><circle cx="44.2" cy="59.0" r="7.0"/><circle cx="43.0" cy="62.0" r="6.0"/><circle cx="42.2" cy="65.0" r="7.2"/><circle cx="41.5" cy="68.0" r="8.5"/><circle cx="43.0" cy="70.7" r="7.3"/><circle cx="44.5" cy="73.3" r="6.2"/><circle cx="46.0" cy="76.0" r="5.0"/><circle cx="45.5" cy="79.5" r="6.0"/><circle cx="45.0" cy="83.0" r="7.0"/><circle cx="44.8" cy="86.0" r="7.8"/><circle cx="44.5" cy="89.0" r="8.5"/><circle cx="44.8" cy="93.0" r="7.2"/><circle cx="45.0" cy="97.0" r="6.0"/><circle cx="45.0" cy="100.5" r="6.8"/><circle cx="45.0" cy="104.0" r="7.5"/><circle cx="44.8" cy="107.5" r="6.5"/><circle cx="44.5" cy="111.0" r="5.5"/><circle cx="44.2" cy="114.5" r="6.8"/><circle cx="44.0" cy="118.0" r="8.0"/><circle cx="44.2" cy="122.0" r="6.8"/><circle cx="44.5" cy="126.0" r="5.5"/><circle cx="44.8" cy="129.0" r="5.8"/><circle cx="45.0" cy="132.0" r="6.0"/><circle cx="44.5" cy="135.0" r="5.2"/><circle cx="44.0" cy="138.0" r="4.5"/><circle cx="43.5" cy="141.0" r="4.8"/><circle cx="43.0" cy="144.0" r="5.0"/><circle cx="41.5" cy="147.0" r="4.8"/><circle cx="40.0" cy="150.0" r="4.5"/><circle cx="33.8" cy="155.0" r="8.7"/><circle cx="29.0" cy="161.0" r="6.0"/><circle cx="36.0" cy="160.0" r="6.0"/></g><clipPath id="rc51"><rect x="62.0" y="1451.2" width="78.0" height="14.6"/></clipPath><clipPath id="rc52"><rect x="140.8" y="1410.4" width="78.0" height="55.4"/></clipPath><clipPath id="rc53"><rect x="142.8" y="1645.0" width="78.0" height="25.7"/></clipPath><clipPath id="rc54"><rect x="219.6" y="1448.3" width="78.0" height="17.5"/></clipPath><clipPath id="rc55"><rect x="456.1" y="1433.7" width="78.0" height="32.1"/></clipPath><clipPath id="rc56"><rect x="458.1" y="1650.2" width="78.0" height="20.5"/></clipPath><clipPath id="rc57"><rect x="1335.2" y="1319.5" width="78.0" height="145.7"/></clipPath><clipPath id="rc58"><rect x="1337.2" y="1497.8" width="78.0" height="171.0"/></clipPath><clipPath id="rc59"><rect x="142.4" y="1934.5" width="78.0" height="20.4"/></clipPath><clipPath id="rc60"><rect x="304.0" y="1931.5" width="78.0" height="23.3"/></clipPath><clipPath id="rc61"><rect x="386.8" y="2073.8" width="78.0" height="85.5"/></clipPath><clipPath id="rc62"><rect x="546.4" y="1937.4" width="78.0" height="17.5"/></clipPath><clipPath id="rc63"><rect x="548.4" y="2039.5" width="78.0" height="119.7"/></clipPath><clipPath id="rc64"><rect x="708.0" y="1934.5" width="78.0" height="20.4"/></clipPath></defs><rect x="94.5" y="50.0" width="493.2" height="22.0" fill="url(#gac)"/>
<rect x="94.5" y="89.5" width="493.2" height="544.0" fill="#3e54a6"/>
<g filter="url(#hb)" fill="none" stroke-width="15.54">
<path stroke="#a09090" d="M94.5 112.8h1M471.5 128.4h2M171.5 206.1h1m17 0h2M148.5 221.6h2M112.5 283.8h2m357 0h1M173.5 330.4h1m6 0h1m9 0h1M249.5 346.0h1m45 0h1m39 0h1m17 0h1m3 0h1m47 0h1m26 0h1M138.5 485.8h1m22 0h1m160 0h1m12 0h1m192 0h1m4 0h1m22 0h1m2 0h1M421.5 501.4h1m140 0h1M117.5 548.0h1m13 0h2m29 0h2m34 0h1m1 0h1m3 0h1m15 0h1m8 0h1m27 0h1m31 0h1m131 0h1m63 0h1m5 0h1m28 0h2m23 0h1m25 0h1m10 0h1M152.5 563.6h1m105 0h1m49 0h1m3 0h1m97 0h1m24 0h1m40 0h1m81 0h1m16 0h1M328.5 625.7h1m109 0h1"/>
<path stroke="#808090" d="M95.5 112.8h1M369.5 206.1h1m63 0h1M173.5 221.6h2m32 0h1m335 0h1M97.5 283.8h1m402 0h1M123.5 314.9h1M230.5 346.0h2m280 0h1M420.5 408.1h1M190.5 485.8h1m135 0h1m155 0h1M295.5 501.4h1M122.5 516.9h1m55 0h1M94.5 548.0h1m281 0h1m80 0h1m32 0h1M222.5 563.6h1m133 0h1M212.5 594.6h1m354 0h1M294.5 625.7h1m119 0h1m24 0h2m74 0h2"/>
<path stroke="#7070a0" d="M98.5 112.8h1m3 0h3m6 0h2m33 0h1m59 0h1m84 0h1m10 0h1m213 0h1M113.5 128.4h2m436 0h1M197.5 206.1h1m15 0h1m41 0h1m36 0h1m27 0h1m20 0h1m35 0h1m7 0h1m14 0h2m7 0h1m19 0h1m5 0h1m6 0h2m55 0h1m1 0h1m70 0h1M100.5 221.6h1m207 0h1m9 0h1m48 0h1m52 0h1m23 0h2m52 0h1m2 0h1m20 0h1M96.5 237.2h2m61 0h2M98.5 283.8h2m42 0h1m113 0h1m8 0h1m44 0h1m21 0h2m92 0h1m31 0h1m7 0h1m48 0h1m68 0h1M457.5 299.3h1M329.5 330.4h1M198.5 408.1h2M240.5 423.7h1M379.5 470.3h1M105.5 485.8h1m17 0h1m1 0h1m10 0h1m283 0h1m21 0h2m57 0h1m9 0h1m4 0h2m53 0h1m7 0h2M106.5 501.4h1M168.5 532.5h1m22 0h1m243 0h1M189.5 548.0h2m78 0h2m1 0h1m76 0h1m111 0h2m86 0h1m15 0h1M204.5 563.6h1m34 0h1m14 0h2m31 0h1m43 0h1m12 0h1m23 0h1m23 0h1m69 0h1m32 0h1M161.5 594.6h1m40 0h1m309 0h1"/>
<path stroke="#d0a060" d="M100.5 112.8h1M243.5 221.6h1M219.5 330.4h1M417.5 346.0h1M337.5 485.8h1m232 0h1M452.5 501.4h1m8 0h2M113.5 548.0h1M357.5 563.6h1M355.5 625.7h1m96 0h1m10 0h1m75 0h2m6 0h1m33 0h1"/>
<path stroke="#a08080" d="M105.5 112.8h1m8 0h1m65 0h1m54 0h1m24 0h1m313 0h1M158.5 206.1h1m32 0h1m212 0h1m159 0h1M198.5 221.6h1m107 0h1M102.5 237.2h1m170 0h1M500.5 252.7h1M101.5 283.8h1m94 0h2m289 0h1M193.5 314.9h1M213.5 330.4h1m2 0h1m15 0h1M178.5 346.0h1m37 0h1m27 0h1m130 0h1m110 0h1M223.5 361.5h1M348.5 408.1h1M270.5 423.7h1M104.5 485.8h1m32 0h1m6 0h1m19 0h2m5 0h1m27 0h1m6 0h2m11 0h1m99 0h1m9 0h1m54 0h1m30 0h1m115 0h1M331.5 501.4h1m14 0h1m64 0h1m39 0h1m38 0h1M100.5 532.5h1m11 0h2M116.5 548.0h1m22 0h1m4 0h1m57 0h1m107 0h1m95 0h1m1 0h1m87 0h1m76 0h2M168.5 563.6h1m38 0h1m5 0h1m6 0h1m43 0h1m14 0h1m39 0h3m57 0h1m61 0h2m96 0h1m5 0h1M232.5 610.2h2m197 0h1M354.5 625.7h1m21 0h1m49 0h1m49 0h1m32 0h1"/>
<path stroke="#908090" d="M106.5 112.8h1m13 0h2m8 0h2m164 0h1m73 0h1m29 0h2m34 0h1m1 0h2m35 0h1m75 0h2m23 0h1M135.5 206.1h1m34 0h1m22 0h1m131 0h1m8 0h1M95.5 221.6h1m99 0h1m8 0h1m48 0h1m110 0h1m22 0h1m107 0h1m16 0h1M106.5 237.2h2m170 0h1m3 0h1m261 0h1M104.5 252.7h1m317 0h1M106.5 283.8h1m41 0h1m262 0h1m26 0h1m107 0h1m1 0h1m25 0h1M202.5 330.4h2m2 0h1m7 0h1m2 0h1m28 0h1m302 0h1M215.5 346.0h1m67 0h1m17 0h1m213 0h1m6 0h1m17 0h1M340.5 408.1h1m61 0h1M170.5 470.3h1m167 0h2m4 0h1m15 0h1m191 0h1M124.5 485.8h1m35 0h1m6 0h1m18 0h1m4 0h2m132 0h1m12 0h1m7 0h1m19 0h1m6 0h1m30 0h1m110 0h1m3 0h1m10 0h1m34 0h2m10 0h1M102.5 501.4h1m22 0h1m331 0h1m36 0h1m12 0h1m34 0h1M116.5 516.9h2m53 0h1m30 0h1m330 0h1M111.5 532.5h1m44 0h1m21 0h1m158 0h1m98 0h1m50 0h1M111.5 548.0h1m6 0h2m4 0h1m17 0h2m2 0h1m12 0h1m47 0h1m13 0h1m8 0h1m105 0h2m3 0h1m56 0h1m3 0h2m21 0h1m26 0h1m69 0h1m6 0h2m1 0h1m24 0h1m9 0h1m17 0h2M132.5 563.6h2m3 0h1m33 0h1m20 0h1m6 0h1m26 0h1m5 0h1m12 0h1m3 0h1m19 0h2m31 0h1m25 0h1m67 0h2m14 0h1m17 0h1m12 0h1m84 0h2m20 0h1M140.5 579.1h1M428.5 594.6h1M252.5 610.2h1m35 0h1M445.5 625.7h1"/>
<path stroke="#9080a0" d="M116.5 112.8h1m11 0h1m12 0h1m251 0h1M114.5 190.5h1M156.5 206.1h1M359.5 237.2h1M114.5 283.8h1m276 0h1M205.5 346.0h1m277 0h2m99 0h1M146.5 361.5h2M427.5 470.3h1M150.5 485.8h1m49 0h1m129 0h1m9 0h1m6 0h2m213 0h1m12 0h1M274.5 501.4h1M558.5 516.9h1M239.5 532.5h1m109 0h2m187 0h1M152.5 548.0h2m125 0h1m3 0h1m3 0h1m28 0h1m5 0h1m10 0h1m11 0h1m10 0h2m9 0h2m25 0h1m89 0h1m19 0h2m34 0h1M206.5 563.6h1m37 0h1m49 0h2m4 0h2m147 0h1m71 0h1m42 0h1M379.5 579.1h1"/>
<path stroke="#8070a0" d="M118.5 112.8h1m14 0h1m401 0h1m9 0h1M291.5 221.6h1M373.5 237.2h2m71 0h1M103.5 283.8h1M524.5 330.4h2M514.5 346.0h1M442.5 408.1h1M145.5 423.7h1M224.5 516.9h1M183.5 548.0h1m319 0h1M238.5 563.6h1m70 0h1m155 0h1M432.5 625.7h1"/>
<path stroke="#906060" d="M122.5 112.8h1M190.5 128.4h1M169.5 237.2h1M285.5 346.0h1m187 0h1m36 0h1M130.5 532.5h1"/>
<path stroke="#905070" d="M125.5 112.8h2m35 0h1m23 0h2m73 0h2m139 0h1m1 0h1m45 0h1m116 0h2M512.5 128.4h1M141.5 143.9h1M284.5 190.5h1M192.5 221.6h2m45 0h1m15 0h1M141.5 237.2h1m30 0h1m5 0h1m18 0h1m20 0h1m15 0h1m52 0h1M396.5 252.7h1M107.5 268.2h1m459 0h1M132.5 283.8h1m40 0h1m89 0h1m76 0h2m63 0h1m48 0h2m127 0h1M299.5 330.4h1m124 0h1m47 0h1M197.5 346.0h2m64 0h1m11 0h1m4 0h2m64 0h2m42 0h1m146 0h1M137.5 361.5h2M280.5 408.1h1M137.5 423.7h2M173.5 470.3h1m119 0h1m5 0h1m13 0h1m42 0h2m63 0h1m93 0h1M149.5 501.4h1m152 0h1m152 0h1m33 0h1m90 0h2M148.5 516.9h1m9 0h2m153 0h1m105 0h1m11 0h1m5 0h1M131.5 532.5h1m2 0h1m14 0h1m51 0h1m266 0h2m1 0h1m112 0h1M335.5 579.1h1m250 0h1M167.5 594.6h1m25 0h1m379 0h1M156.5 625.7h2m149 0h2m14 0h1m167 0h1"/>
<path stroke="#806080" d="M134.5 112.8h1m116 0h1m256 0h1M171.5 221.6h1M149.5 283.8h1m8 0h1m20 0h1M206.5 346.0h1m70 0h1m18 0h1m45 0h1m71 0h1m33 0h1m47 0h1m21 0h1M158.5 361.5h1M242.5 423.7h1M298.5 470.3h1m74 0h1M175.5 501.4h1m401 0h1M443.5 532.5h1M151.5 594.6h1m37 0h1M335.5 625.7h1m27 0h1m158 0h1"/>
<path stroke="#807090" d="M142.5 112.8h1m132 0h1m32 0h1m33 0h1m9 0h1m93 0h2m31 0h2M98.5 128.4h1M224.5 206.1h1m12 0h1m43 0h1m2 0h1m44 0h1m5 0h1m67 0h1m19 0h1m42 0h2m11 0h2m2 0h2M407.5 221.6h1m9 0h1m60 0h1m74 0h1M237.5 237.2h1m53 0h1m111 0h2m57 0h1m111 0h1M107.5 283.8h1m193 0h1m18 0h1m135 0h1M211.5 330.4h1m14 0h1m268 0h1M338.5 346.0h1m44 0h1m144 0h1m15 0h1M225.5 408.1h2M188.5 470.3h1m118 0h2m39 0h3m87 0h1m15 0h1M103.5 485.8h1m5 0h1m87 0h1m154 0h1m139 0h1M177.5 501.4h1m199 0h1M172.5 516.9h1M106.5 532.5h2m24 0h1m63 0h1m1 0h1M110.5 548.0h1m70 0h1m285 0h1m55 0h1m54 0h2M338.5 563.6h2m236 0h1M219.5 610.2h1"/>
<path stroke="#805080" d="M147.5 112.8h1m185 0h1m192 0h2m52 0h1M154.5 221.6h1m41 0h2M134.5 237.2h1m5 0h1m140 0h1m8 0h1M416.5 252.7h1M164.5 268.2h1M188.5 283.8h1m71 0h2m113 0h1m8 0h1m9 0h2m121 0h2m39 0h1m6 0h1M314.5 346.0h1m16 0h3m50 0h2m32 0h1m52 0h1M522.5 408.1h1M512.5 470.3h1m5 0h1M429.5 501.4h1M219.5 516.9h1m192 0h2m3 0h1m109 0h1M94.5 532.5h1m41 0h1m155 0h1M159.5 594.6h1m3 0h1M290.5 625.7h1m19 0h1m68 0h1m10 0h1"/>
<path stroke="#a06060" d="M149.5 112.8h1m10 0h1m139 0h1M127.5 221.6h2m12 0h1m43 0h1M104.5 237.2h2m143 0h1m16 0h2m8 0h2m252 0h1M167.5 283.8h1m128 0h2M110.5 299.3h1M246.5 346.0h1m18 0h1m70 0h1m34 0h1m10 0h1m134 0h1M430.5 408.1h1m53 0h1m101 0h1M502.5 423.7h1M394.5 470.3h1m85 0h1m39 0h1M385.5 501.4h1m49 0h1m13 0h1m6 0h1M283.5 516.9h1M135.5 532.5h1m51 0h1m159 0h1M292.5 625.7h1m76 0h1m120 0h1m19 0h1"/>
<path stroke="#806070" d="M152.5 112.8h2m240 0h1m110 0h1m47 0h2M279.5 128.4h1M143.5 221.6h2m91 0h1M174.5 237.2h1m31 0h1m28 0h1m97 0h2m152 0h1M486.5 268.2h1M222.5 283.8h2m342 0h1M499.5 330.4h1M223.5 346.0h2m172 0h1m59 0h2M134.5 361.5h1M507.5 423.7h1M201.5 470.3h1m77 0h1m202 0h1m25 0h2M298.5 501.4h1m171 0h2m26 0h1M333.5 594.6h1M298.5 625.7h1m94 0h2m46 0h1m46 0h1"/>
<path stroke="#705080" d="M154.5 112.8h1m44 0h1m17 0h1m74 0h1m37 0h1m12 0h1m18 0h1m11 0h2m19 0h1m15 0h1m4 0h1m161 0h2M406.5 128.4h1M152.5 143.9h1M128.5 237.2h1m37 0h1m9 0h1m5 0h1m2 0h1m7 0h1m9 0h1m119 0h1m193 0h2M326.5 268.2h2m16 0h1m137 0h1M166.5 283.8h1m20 0h1m16 0h1m26 0h1m8 0h1m3 0h2m22 0h1m11 0h1m118 0h1m33 0h1m26 0h2M198.5 299.3h1M486.5 330.4h1m1 0h1M156.5 346.0h2m17 0h1m113 0h1m133 0h2m123 0h1M102.5 408.1h1m60 0h1m57 0h1m55 0h1m177 0h1m103 0h1m17 0h1M103.5 423.7h2M182.5 470.3h1m97 0h1m29 0h1m29 0h1m68 0h1m15 0h1m37 0h1m30 0h1m18 0h1M256.5 516.9h1m6 0h1m80 0h1m36 0h1m84 0h1m32 0h1m31 0h1M97.5 532.5h1m120 0h1m2 0h1m46 0h1m227 0h1M155.5 594.6h1m54 0h1m18 0h1m32 0h2M172.5 625.7h1m144 0h2"/>
<path stroke="#a08090" d="M164.5 112.8h1m27 0h1m3 0h1m76 0h1M152.5 206.1h1m8 0h1M146.5 237.2h1M95.5 283.8h1m103 0h1m99 0h1M170.5 330.4h1m12 0h2m12 0h1m1 0h1M439.5 470.3h2m61 0h1M121.5 485.8h1m4 0h1M104.5 501.4h1m243 0h1m37 0h1M249.5 516.9h2M126.5 532.5h1m56 0h1m396 0h2M194.5 548.0h1m4 0h1m31 0h1m236 0h1m78 0h1M169.5 563.6h1m192 0h1m188 0h1M384.5 625.7h2m145 0h1"/>
<path stroke="#906070" d="M188.5 112.8h1m22 0h1m7 0h1m26 0h1m29 0h1m5 0h1m267 0h1M179.5 221.6h2M153.5 237.2h1m37 0h2m72 0h1m13 0h2M400.5 252.7h1m175 0h1M460.5 268.2h1M138.5 283.8h1m189 0h1m10 0h1m47 0h1m140 0h1m26 0h1m1 0h1m19 0h1M341.5 346.0h1m22 0h1m29 0h1m47 0h1m52 0h1m25 0h1M104.5 408.1h2m210 0h1m259 0h1M259.5 423.7h1M208.5 470.3h1m158 0h1m18 0h1m158 0h1M314.5 501.4h1m222 0h1M492.5 516.9h1M171.5 532.5h1m107 0h1m180 0h2m96 0h1M213.5 594.6h2M321.5 625.7h1m82 0h2"/>
<path stroke="#805070" d="M189.5 112.8h1m89 0h2m72 0h1m23 0h1m56 0h1m90 0h1M167.5 128.4h1M119.5 221.6h1m14 0h3M177.5 237.2h1m2 0h2m5 0h2m254 0h1M172.5 283.8h1m201 0h1m113 0h1m21 0h1m61 0h1M263.5 330.4h1m119 0h1M186.5 346.0h1m21 0h2m23 0h1m18 0h1m140 0h1m28 0h1M517.5 361.5h2M222.5 408.1h1M278.5 423.7h2m70 0h1m19 0h1M191.5 470.3h1m243 0h2m9 0h1m14 0h1m7 0h1m20 0h1m46 0h2M335.5 501.4h1m18 0h1m98 0h1M209.5 516.9h1m316 0h1m36 0h1M96.5 532.5h1m22 0h1m73 0h2m7 0h1m78 0h1m290 0h1M173.5 594.6h1m18 0h1M495.5 625.7h1m24 0h2"/>
<path stroke="#706080" d="M210.5 112.8h1m86 0h1m13 0h1m172 0h1m2 0h1M205.5 221.6h1M135.5 237.2h2m64 0h1M396.5 283.8h1M362.5 346.0h1m63 0h1M523.5 423.7h1M130.5 470.3h1m4 0h1m132 0h2m51 0h2m203 0h1M293.5 501.4h2M141.5 516.9h1m102 0h1m151 0h1m65 0h1m48 0h1M167.5 532.5h1m5 0h1M489.5 594.6h2"/>
<path stroke="#907080" d="M225.5 112.8h1m140 0h1M439.5 206.1h1M474.5 485.8h1M211.5 516.9h1M148.5 548.0h2m411 0h1M377.5 563.6h1M544.5 610.2h1"/>
<path stroke="#b09070" d="M236.5 112.8h1M522.5 206.1h1M200.5 221.6h1m21 0h1m343 0h1M117.5 283.8h1M228.5 330.4h1M300.5 346.0h1m22 0h1m184 0h1M507.5 408.1h1M301.5 423.7h1M132.5 485.8h1m21 0h1m18 0h1m8 0h1m15 0h1m28 0h1m81 0h1m44 0h1m37 0h1m171 0h1M526.5 501.4h1M115.5 548.0h1m5 0h1m15 0h1m33 0h2m103 0h1m69 0h2m48 0h1m58 0h1m83 0h1M101.5 563.6h2m47 0h2m20 0h1m101 0h1m52 0h1m12 0h1m75 0h1m1 0h1m19 0h1M95.5 594.6h1m3 0h1M243.5 610.2h1M291.5 625.7h1m10 0h1m8 0h1m150 0h1"/>
<path stroke="#905060" d="M242.5 112.8h2m270 0h1M123.5 221.6h2M94.5 237.2h1m17 0h1M248.5 283.8h1m110 0h1M337.5 330.4h2M235.5 346.0h1m241 0h1M264.5 408.1h1m253 0h1M451.5 423.7h1M316.5 470.3h2M229.5 501.4h1M276.5 516.9h1M363.5 532.5h1M287.5 625.7h1"/>
<path stroke="#a05060" d="M270.5 112.8h1m205 0h2m55 0h1m30 0h1M170.5 128.4h1m12 0h1m4 0h1M190.5 221.6h1m19 0h1m5 0h1m20 0h1M125.5 237.2h1m53 0h1m103 0h1m70 0h1m16 0h1M517.5 252.7h1m49 0h2M117.5 268.2h1M325.5 283.8h1m163 0h1m73 0h1m15 0h1M384.5 299.3h2M340.5 330.4h1M352.5 346.0h1m115 0h1M152.5 361.5h2M287.5 408.1h2m176 0h1M162.5 470.3h1m128 0h2m130 0h1m75 0h1M299.5 501.4h1m93 0h1M264.5 516.9h1m97 0h1m104 0h1M203.5 532.5h1m12 0h1M154.5 594.6h1m54 0h1m43 0h1m64 0h1m175 0h1M300.5 625.7h1m4 0h1m223 0h1m6 0h2"/>
<path stroke="#b08080" d="M286.5 112.8h1m34 0h1M133.5 237.2h1M105.5 283.8h1m100 0h1M276.5 346.0h1M285.5 470.3h1M226.5 485.8h1m1 0h1m308 0h1M97.5 548.0h1m94 0h1m10 0h1m45 0h1m176 0h1m82 0h1M147.5 594.6h1M469.5 625.7h1"/>
<path stroke="#908080" d="M289.5 112.8h1m247 0h1M200.5 206.1h1m360 0h1M164.5 221.6h1m166 0h1m13 0h2m136 0h1m51 0h1M94.5 283.8h1m50 0h1m258 0h1M225.5 330.4h1M257.5 346.0h1m304 0h1M116.5 485.8h1m2 0h1m15 0h1m5 0h2m191 0h1m36 0h1m23 0h1M387.5 501.4h1M352.5 516.9h2M295.5 532.5h1M112.5 548.0h1m1 0h1m15 0h1m33 0h1m1 0h1m97 0h2m40 0h1m1 0h1m29 0h1m94 0h1m29 0h1m99 0h2M182.5 563.6h1m135 0h1m31 0h1m129 0h1m78 0h2M502.5 625.7h1m4 0h1"/>
<path stroke="#804070" d="M354.5 112.8h1M390.5 283.8h1m57 0h1m70 0h1M436.5 346.0h1M336.5 423.7h1M467.5 625.7h1"/>
<path stroke="#8080a0" d="M385.5 112.8h1m34 0h2m29 0h1m47 0h1M142.5 206.1h1m14 0h1m82 0h1m20 0h2m5 0h1m55 0h1m123 0h1m23 0h1m50 0h1M106.5 221.6h1m209 0h2m41 0h1m22 0h1M497.5 237.2h1M453.5 268.2h1M234.5 283.8h1m63 0h1m61 0h1m16 0h1m30 0h1m72 0h1m13 0h1m24 0h1M156.5 314.9h1m55 0h1M554.5 330.4h1M225.5 346.0h2m11 0h1m127 0h1m52 0h2m73 0h1m29 0h1M337.5 408.1h1m59 0h1m112 0h1M427.5 423.7h1M138.5 470.3h1m203 0h1m53 0h1m14 0h1m66 0h1m14 0h1M106.5 485.8h1m22 0h2m12 0h1m1 0h1m37 0h1m128 0h1m31 0h2m75 0h1m39 0h2m9 0h1m13 0h1m48 0h1M95.5 501.4h1M373.5 516.9h1M157.5 532.5h1m65 0h1m20 0h1m206 0h1M140.5 548.0h1m4 0h1m24 0h1m5 0h1m90 0h1m16 0h2m2 0h1m1 0h2m4 0h1m6 0h2m7 0h2m64 0h1m6 0h1m91 0h2m14 0h2m16 0h1m4 0h1m19 0h1m22 0h2M121.5 563.6h1m3 0h2m34 0h1m86 0h1m120 0h1m38 0h1m91 0h1m29 0h1M332.5 594.6h1M221.5 610.2h1m289 0h1"/>
<path stroke="#a04060" d="M583.5 112.8h1M125.5 221.6h1m44 0h1M146.5 283.8h1m30 0h1m149 0h1m123 0h1M402.5 346.0h1m10 0h1m29 0h1M250.5 408.1h1M533.5 423.7h1M201.5 501.4h1m328 0h1M151.5 516.9h1M179.5 532.5h1m9 0h1m111 0h2m125 0h1M441.5 579.1h1M582.5 594.6h2M341.5 625.7h1m10 0h1m146 0h2"/>
<path stroke="#6070a0" d="M104.5 128.4h1M218.5 206.1h1m6 0h1m106 0h1m24 0h1m47 0h1M292.5 221.6h2m235 0h1M586.5 283.8h1M488.5 470.3h1"/>
<path stroke="#d05040" d="M119.5 128.4h2M119.5 143.9h2m3 0h1m1 0h1M95.5 206.1h1m15 0h1m2 0h1m1 0h1M102.5 330.4h3m7 0h2m53 0h2M94.5 470.3h1m15 0h3M559.5 501.4h2M103.5 594.6h1M483.5 625.7h1m65 0h1"/>
<path stroke="#e05030" d="M121.5 128.4h1m9 0h2M129.5 143.9h2M96.5 206.1h1m1 0h1m5 0h2m4 0h1m4 0h1m1 0h1M184.5 221.6h1m32 0h1M118.5 330.4h1m8 0h2m4 0h1m8 0h1M119.5 361.5h1m6 0h1M99.5 470.3h1m14 0h1M102.5 594.6h1M315.5 625.7h1m65 0h1m20 0h1m163 0h1"/>
<path stroke="#e04030" d="M122.5 128.4h1m2 0h1m2 0h1m9 0h1m3 0h1M99.5 206.1h1M98.5 268.2h1M150.5 330.4h1M100.5 470.3h5m3 0h1m4 0h1M499.5 501.4h1"/>
<path stroke="#d04040" d="M124.5 128.4h1m1 0h2m9 0h1m1 0h1m9 0h1m3 0h1m12 0h1M121.5 143.9h3m3 0h1M94.5 206.1h1m5 0h1M101.5 330.4h1m21 0h1m10 0h1m3 0h1m26 0h1M122.5 361.5h1m4 0h1M98.5 470.3h1m16 0h1m1 0h2M322.5 501.4h2M546.5 625.7h1"/>
<path stroke="#e06030" d="M129.5 128.4h2M97.5 206.1h1m4 0h2m32 0h2M98.5 330.4h1M116.5 470.3h1M478.5 501.4h1M94.5 563.6h1M120.5 594.6h1M344.5 625.7h1m228 0h2"/>
<path stroke="#d06040" d="M133.5 128.4h2m6 0h1m5 0h1m9 0h1M101.5 206.1h1m5 0h3m3 0h1m74 0h1M94.5 330.4h1m50 0h1M163.5 610.2h1m45 0h1M299.5 625.7h1m268 0h2"/>
<path stroke="#c05040" d="M143.5 128.4h2M100.5 268.2h1M107.5 470.3h1"/>
<path stroke="#f05020" d="M146.5 128.4h1M106.5 206.1h1M148.5 330.4h2"/>
<path stroke="#f04020" d="M150.5 128.4h1M152.5 330.4h1M481.5 625.7h1"/>
<path stroke="#f06020" d="M151.5 128.4h2M262.5 346.0h1M138.5 594.6h2M158.5 610.2h2M559.5 625.7h2"/>
<path stroke="#e07030" d="M155.5 128.4h1M150.5 206.1h2M106.5 330.4h1m8 0h1M106.5 594.6h1m5 0h2m3 0h2M132.5 610.2h1"/>
<path stroke="#d07040" d="M156.5 128.4h1M177.5 206.1h1m4 0h1M143.5 330.4h1m13 0h1m3 0h2m3 0h1M298.5 346.0h1m61 0h1m77 0h1m36 0h1m15 0h1M405.5 501.4h1m54 0h1M111.5 594.6h1m18 0h1m15 0h1M136.5 610.2h1m66 0h1M325.5 625.7h1m60 0h1"/>
<path stroke="#e0b040" d="M164.5 128.4h1M187.5 221.6h1M378.5 346.0h2m149 0h1M189.5 485.8h1m39 0h2m2 0h1m2 0h1m21 0h1m26 0h1m1 0h1M500.5 501.4h1M205.5 548.0h1m3 0h1m27 0h1m40 0h1m167 0h1m55 0h1m65 0h1M118.5 563.6h1m8 0h1m55 0h1m59 0h1m149 0h2m7 0h1m81 0h1M116.5 594.6h1M103.5 610.2h1m10 0h1m5 0h1m5 0h1m18 0h1m1 0h2m29 0h1m15 0h1M489.5 625.7h1m60 0h1m3 0h2m8 0h2m9 0h1m9 0h1"/>
<path stroke="#b09050" d="M168.5 128.4h1M307.5 346.0h2M578.5 501.4h1"/>
<path stroke="#c08050" d="M175.5 128.4h1"/>
<path stroke="#d08040" d="M189.5 128.4h1M162.5 206.1h1M117.5 330.4h1M247.5 485.8h1m24 0h1M398.5 501.4h1M239.5 548.0h1M110.5 594.6h1M206.5 610.2h1M359.5 625.7h1m13 0h1"/>
<path stroke="#b05050" d="M192.5 128.4h1M359.5 346.0h1m86 0h2M321.5 501.4h1m101 0h1m61 0h1m60 0h2M407.5 625.7h1m13 0h1m112 0h1"/>
<path stroke="#f04030" d="M128.5 143.9h1M152.5 221.6h1M131.5 330.4h1"/>
<path stroke="#c06040" d="M112.5 206.1h1m5 0h1m8 0h2M505.5 501.4h2"/>
<path stroke="#e0a030" d="M119.5 206.1h1m11 0h1M151.5 221.6h1M95.5 330.4h2m13 0h2m13 0h1m4 0h1m22 0h2M463.5 346.0h1M264.5 485.8h1m11 0h2M133.5 610.2h1M361.5 625.7h1m20 0h1m99 0h1"/>
<path stroke="#f09030" d="M120.5 206.1h1"/>
<path stroke="#e0a040" d="M121.5 206.1h1M155.5 330.4h2M445.5 501.4h1M232.5 548.0h1"/>
<path stroke="#f09020" d="M122.5 206.1h1M215.5 610.2h1M570.5 625.7h1"/>
<path stroke="#b09080" d="M124.5 206.1h1m13 0h1m5 0h1m36 0h1M202.5 221.6h1m30 0h1M185.5 330.4h1m9 0h1m2 0h1m2 0h1m33 0h1M484.5 470.3h1M139.5 485.8h2m62 0h1m12 0h1m4 0h2m2 0h1m327 0h1M296.5 501.4h1M235.5 548.0h1m14 0h2m136 0h1m1 0h1m36 0h2m10 0h1m2 0h1m44 0h3m10 0h1M194.5 563.6h1m61 0h1m19 0h1m4 0h1m10 0h1m67 0h1m3 0h1m22 0h1m120 0h1M123.5 594.6h1M342.5 625.7h1m27 0h1m24 0h1"/>
<path stroke="#c09070" d="M125.5 206.1h1M100.5 283.8h1m15 0h1M242.5 330.4h1M260.5 346.0h1m280 0h1M127.5 485.8h2m102 0h1m62 0h1m46 0h2m198 0h1m43 0h1M141.5 548.0h1m53 0h3m24 0h1m131 0h1m19 0h2m67 0h1m31 0h1m51 0h1m16 0h1m3 0h1M154.5 563.6h1m76 0h1m4 0h1m282 0h2m10 0h1m10 0h1M131.5 594.6h1M446.5 625.7h2"/>
<path stroke="#c0b050" d="M129.5 206.1h1M234.5 221.6h1m278 0h1M176.5 330.4h1M269.5 485.8h1M567.5 501.4h1M134.5 563.6h1m128 0h1m114 0h1m30 0h1m54 0h1M100.5 610.2h1m83 0h1m11 0h1"/>
<path stroke="#e0a050" d="M132.5 206.1h1m16 0h1M365.5 346.0h1M538.5 485.8h2m7 0h1m25 0h1M218.5 548.0h1m335 0h1M98.5 563.6h1m10 0h1m86 0h2m231 0h1M154.5 610.2h1m17 0h1m7 0h1m12 0h1"/>
<path stroke="#d09060" d="M133.5 206.1h1M567.5 485.8h1M369.5 501.4h1m45 0h2M259.5 548.0h1m117 0h1m54 0h1M422.5 625.7h1m118 0h1"/>
<path stroke="#c0a050" d="M134.5 206.1h1M265.5 221.6h1M291.5 346.0h1m36 0h2m103 0h1m30 0h2m54 0h1M563.5 485.8h1M355.5 501.4h1m176 0h1M417.5 548.0h1M104.5 563.6h2m2 0h1m1 0h1m2 0h1m17 0h1m83 0h2m172 0h1M121.5 594.6h1M96.5 610.2h1m4 0h1m5 0h1m2 0h2m1 0h1m2 0h1m52 0h1m1 0h1m23 0h1m8 0h1m3 0h1m49 0h1M484.5 625.7h2m66 0h2m7 0h1m5 0h1m15 0h2"/>
<path stroke="#9090a0" d="M140.5 206.1h2m25 0h2M153.5 485.8h1m24 0h1m9 0h1m183 0h1M318.5 548.0h1m141 0h1M124.5 563.6h1m279 0h2m65 0h1m114 0h1"/>
<path stroke="#f0c040" d="M145.5 206.1h2m39 0h1M238.5 485.8h1M326.5 548.0h1M195.5 563.6h1M133.5 594.6h1M562.5 625.7h1"/>
<path stroke="#c09060" d="M147.5 206.1h1m63 0h1m168 0h1M339.5 221.6h1M231.5 330.4h1m12 0h2M245.5 346.0h1m162 0h1m124 0h2M133.5 485.8h1m80 0h1m2 0h2m5 0h1m102 0h1m27 0h1m13 0h1m78 0h1m125 0h1M548.5 501.4h1M100.5 548.0h1m118 0h1m172 0h2m88 0h1m29 0h1m53 0h1M130.5 563.6h1m250 0h1m2 0h2m88 0h1M125.5 594.6h2m9 0h1m6 0h1M269.5 610.2h2M296.5 625.7h1m177 0h1m97 0h1m6 0h2"/>
<path stroke="#d0b040" d="M155.5 206.1h1M287.5 346.0h1M223.5 485.8h1m26 0h3m8 0h2m2 0h1m2 0h1m9 0h2m1 0h2M397.5 501.4h1m99 0h1M226.5 548.0h1m101 0h1M114.5 594.6h2m12 0h1M95.5 610.2h1m2 0h1m26 0h1m11 0h1m3 0h1m18 0h1m21 0h1"/>
<path stroke="#d0a050" d="M160.5 206.1h1m11 0h3m17 0h1M155.5 221.6h2M181.5 330.4h1m4 0h1m47 0h1M273.5 346.0h1m117 0h1M209.5 485.8h1m1 0h3m40 0h4m297 0h1M96.5 548.0h1m2 0h1m55 0h1m56 0h2m100 0h1m27 0h1m79 0h1m13 0h1m22 0h1m19 0h1m18 0h1M97.5 563.6h1m24 0h1m62 0h1m125 0h1m64 0h1m74 0h1m49 0h1m72 0h1M97.5 594.6h1m47 0h1M94.5 610.2h1m4 0h1m9 0h1m12 0h1m4 0h1m7 0h1m4 0h1m14 0h1m9 0h2m8 0h3m10 0h1m3 0h1m14 0h1m5 0h2M286.5 625.7h1m110 0h2m99 0h1m58 0h1"/>
<path stroke="#e09030" d="M163.5 206.1h1M109.5 330.4h1M264.5 346.0h1M234.5 485.8h1m24 0h2M217.5 548.0h1m15 0h1M116.5 563.6h2M123.5 610.2h1m40 0h1M366.5 625.7h1"/>
<path stroke="#d09040" d="M166.5 206.1h1M100.5 330.4h1m28 0h1m10 0h2m9 0h1m25 0h1M282.5 346.0h1m144 0h1M288.5 485.8h3M519.5 501.4h1M234.5 548.0h1M111.5 563.6h1M156.5 610.2h2m15 0h2m11 0h1"/>
<path stroke="#d0b050" d="M175.5 206.1h1M408.5 221.6h1M178.5 330.4h1M237.5 485.8h1m5 0h1m5 0h1m3 0h1m13 0h1M201.5 548.0h1m34 0h1m186 0h1M221.5 563.6h1m103 0h1M96.5 594.6h1M102.5 610.2h1m1 0h1m3 0h1m9 0h1m24 0h2m4 0h2m17 0h1m36 0h1M545.5 625.7h1"/>
<path stroke="#e08030" d="M176.5 206.1h1M136.5 330.4h2m1 0h1m18 0h2m3 0h1M472.5 346.0h1m27 0h1M216.5 548.0h1M94.5 594.6h1m49 0h1M216.5 610.2h1M406.5 625.7h1"/>
<path stroke="#f0c030" d="M179.5 206.1h2M171.5 330.4h1m15 0h2m4 0h1M286.5 485.8h1M303.5 501.4h2M290.5 563.6h1m293 0h1M108.5 594.6h2M106.5 610.2h1m22 0h2m81 0h1M392.5 625.7h1"/>
<path stroke="#f06030" d="M185.5 206.1h1M120.5 330.4h3m9 0h1M185.5 610.2h1m24 0h2"/>
<path stroke="#f08020" d="M187.5 206.1h1M189.5 610.2h2"/>
<path stroke="#807080" d="M195.5 206.1h2m66 0h1m10 0h1M354.5 221.6h1m3 0h1M428.5 485.8h1M254.5 610.2h2"/>
<path stroke="#a08070" d="M226.5 206.1h2m103 0h1m132 0h1m10 0h2m68 0h1M153.5 221.6h1m5 0h1m205 0h1m102 0h1m107 0h1M229.5 330.4h1M290.5 346.0h1m254 0h2M170.5 485.8h1m297 0h1m33 0h1m54 0h2m24 0h1M417.5 501.4h1m105 0h1M150.5 548.0h1m117 0h1m70 0h1M123.5 563.6h1m32 0h1m36 0h1m14 0h1m20 0h1m42 0h1m50 0h1m91 0h1m70 0h2m25 0h1M455.5 610.2h1M293.5 625.7h1"/>
<path stroke="#707090" d="M254.5 206.1h1m113 0h1m19 0h1m55 0h1m94 0h1M488.5 610.2h1"/>
<path stroke="#a09070" d="M265.5 206.1h2M310.5 221.6h1m200 0h1M182.5 346.0h1m144 0h1m199 0h1M148.5 485.8h1m8 0h2m155 0h2m16 0h1M383.5 501.4h2M107.5 548.0h2m260 0h1m129 0h1m1 0h1m8 0h1m3 0h1m54 0h2M119.5 563.6h1m18 0h1m167 0h1m67 0h2M375.5 625.7h1"/>
<path stroke="#7080a0" d="M271.5 206.1h1M218.5 501.4h1"/>
<path stroke="#b09060" d="M297.5 206.1h2m233 0h1M158.5 221.6h1m98 0h1m12 0h1m90 0h2m195 0h1m27 0h1M196.5 330.4h1m21 0h1m21 0h1M344.5 346.0h1M176.5 485.8h1m140 0h2M438.5 501.4h2m103 0h2M280.5 548.0h1m20 0h1m23 0h1m123 0h1m1 0h1m98 0h1m21 0h1M140.5 563.6h1m4 0h2m137 0h1m32 0h1m99 0h1m85 0h1m20 0h1M272.5 610.2h2m89 0h1M346.5 625.7h1m6 0h1m107 0h1m52 0h1"/>
<path stroke="#808080" d="M340.5 206.1h1M479.5 221.6h1m23 0h2"/>
<path stroke="#907090" d="M351.5 206.1h1M302.5 221.6h2M306.5 283.8h1M497.5 516.9h1M471.5 548.0h1"/>
<path stroke="#c0a060" d="M379.5 206.1h1m124 0h1M322.5 221.6h1M224.5 330.4h1M228.5 346.0h2M239.5 485.8h2m305 0h1M294.5 548.0h1M407.5 563.6h1M122.5 594.6h1m6 0h1M131.5 610.2h1m35 0h1m33 0h2M337.5 625.7h1m190 0h1m14 0h1"/>
<path stroke="#908070" d="M422.5 206.1h1m91 0h1M287.5 221.6h2m39 0h2m20 0h1m59 0h1M311.5 346.0h1M291.5 485.8h1M278.5 610.2h1"/>
<path stroke="#f0b030" d="M121.5 221.6h1M105.5 330.4h1m1 0h1m6 0h1M392.5 346.0h1m66 0h1M273.5 485.8h1m9 0h2M508.5 501.4h1M206.5 548.0h1M95.5 563.6h1M101.5 594.6h1M198.5 610.2h2M538.5 625.7h1"/>
<path stroke="#b05060" d="M126.5 221.6h1M408.5 501.4h1M413.5 625.7h1"/>
<path stroke="#c09050" d="M132.5 221.6h1m131 0h1M356.5 346.0h1m178 0h1M464.5 501.4h1m66 0h1"/>
<path stroke="#b06050" d="M145.5 221.6h1M105.5 268.2h1M322.5 346.0h1M510.5 501.4h1m41 0h1M358.5 625.7h1m28 0h1m42 0h1m77 0h1m24 0h1"/>
<path stroke="#a08060" d="M165.5 221.6h2M331.5 625.7h2"/>
<path stroke="#f07030" d="M194.5 221.6h1M571.5 625.7h1"/>
<path stroke="#b04050" d="M214.5 221.6h1m41 0h1m5 0h1M185.5 346.0h1m67 0h1m12 0h1m207 0h1m10 0h1M345.5 501.4h1"/>
<path stroke="#a07060" d="M215.5 221.6h1m30 0h1M261.5 346.0h1m81 0h1m17 0h1m89 0h1m53 0h1M311.5 501.4h1m17 0h1m13 0h2m29 0h1m199 0h1M420.5 625.7h1m12 0h1"/>
<path stroke="#907070" d="M225.5 221.6h1M310.5 346.0h1m6 0h2m67 0h1M337.5 501.4h1M319.5 625.7h2m88 0h1"/>
<path stroke="#f0a020" d="M240.5 221.6h1M241.5 485.8h1M138.5 610.2h2m30 0h1M389.5 625.7h1m168 0h1"/>
<path stroke="#c04040" d="M244.5 221.6h1M99.5 330.4h1M124.5 361.5h2M97.5 470.3h1M134.5 594.6h2m5 0h2M563.5 625.7h1"/>
<path stroke="#e09040" d="M249.5 221.6h1M144.5 330.4h1"/>
<path stroke="#c09040" d="M252.5 221.6h1"/>
<path stroke="#904060" d="M258.5 221.6h1M550.5 237.2h2M247.5 283.8h1m231 0h1m80 0h1M557.5 346.0h2M297.5 408.1h1M433.5 470.3h1"/>
<path stroke="#a09060" d="M434.5 221.6h1M507.5 346.0h1M464.5 548.0h1"/>
<path stroke="#904070" d="M257.5 237.2h1m103 0h1M519.5 252.7h1M501.5 283.8h1M269.5 346.0h1m23 0h1m238 0h1M215.5 408.1h1M352.5 501.4h1m175 0h1M111.5 516.9h1M175.5 532.5h1m247 0h1M336.5 594.6h1"/>
<path stroke="#a09080" d="M263.5 237.2h1M221.5 346.0h1M448.5 532.5h1"/>
<path stroke="#c05050" d="M97.5 268.2h1M367.5 625.7h1"/>
<path stroke="#f08030" d="M109.5 268.2h1M160.5 330.4h1M548.5 625.7h1"/>
<path stroke="#d0a040" d="M97.5 330.4h1m10 0h1m26 0h1m28 0h1m14 0h1M202.5 485.8h1m2 0h1m14 0h1m11 0h1m13 0h1m1 0h1m14 0h1m16 0h1M227.5 548.0h1m10 0h1M114.5 563.6h1M121.5 610.2h1m20 0h1m9 0h1m26 0h1m1 0h1M312.5 625.7h1m99 0h1"/>
<path stroke="#f07020" d="M116.5 330.4h1"/>
<path stroke="#f03030" d="M119.5 330.4h1m6 0h1M105.5 470.3h1"/>
<path stroke="#f05030" d="M124.5 330.4h1M106.5 470.3h1M309.5 501.4h1M493.5 625.7h1"/>
<path stroke="#e03030" d="M146.5 330.4h2M95.5 470.3h2M140.5 594.6h1"/>
<path stroke="#e0c040" d="M194.5 330.4h1m5 0h1M525.5 346.0h1M204.5 485.8h1m30 0h1m6 0h1m27 0h2m2 0h2M375.5 501.4h1M100.5 563.6h1m40 0h1m82 0h1m111 0h1m5 0h1m76 0h1m16 0h1m104 0h1M97.5 610.2h1m17 0h1m8 0h1m36 0h1M556.5 625.7h1m20 0h2"/>
<path stroke="#c09080" d="M249.5 330.4h2M95.5 548.0h1M230.5 563.6h1"/>
<path stroke="#804080" d="M105.5 346.0h1M361.5 501.4h1"/>
<path stroke="#e0b050" d="M234.5 346.0h1M184.5 485.8h1M112.5 610.2h1m84 0h1"/>
<path stroke="#f0a030" d="M242.5 346.0h1m131 0h1M134.5 610.2h1m11 0h1m6 0h1M586.5 625.7h1"/>
<path stroke="#b07050" d="M247.5 346.0h1M310.5 501.4h1m163 0h1M364.5 625.7h1m70 0h1m6 0h2m4 0h2"/>
<path stroke="#b0a060" d="M292.5 346.0h1M459.5 501.4h1M244.5 548.0h1m225 0h1M181.5 563.6h1m4 0h1m75 0h1m303 0h1m16 0h1M459.5 625.7h1"/>
<path stroke="#b09090" d="M368.5 346.0h1M306.5 485.8h2M482.5 501.4h1M105.5 548.0h1m155 0h1m67 0h1"/>
<path stroke="#b07060" d="M401.5 346.0h1M486.5 501.4h1m49 0h1M524.5 625.7h1"/>
<path stroke="#e08040" d="M416.5 346.0h1"/>
<path stroke="#b06060" d="M429.5 346.0h1m93 0h1M301.5 625.7h1"/>
<path stroke="#b08050" d="M453.5 346.0h1"/>
<path stroke="#a090a0" d="M460.5 346.0h2"/>
<path stroke="#907060" d="M501.5 346.0h1"/>
<path stroke="#d05030" d="M109.5 470.3h1"/>
<path stroke="#e0b030" d="M244.5 485.8h2M214.5 548.0h2M112.5 563.6h1M119.5 594.6h1M105.5 610.2h1m11 0h1m44 0h1"/>
<path stroke="#f0b040" d="M266.5 485.8h1M531.5 548.0h1"/>
<path stroke="#b08070" d="M584.5 485.8h1M228.5 548.0h1m143 0h1M124.5 594.6h1"/>
<path stroke="#b0a050" d="M484.5 501.4h1"/>
<path stroke="#e0c030" d="M106.5 563.6h1m273 0h1"/>
<path stroke="#c04050" d="M455.5 625.7h2"/>
</g>
<text transform="translate(89.0 103.1) scale(0.83 1)" font-size="16.3" text-anchor="end" fill="#222">FGF1</text>
<line x1="91.0" y1="97.3" x2="94.5" y2="97.3" stroke="#222" stroke-width="1"/>
<text transform="translate(89.0 118.6) scale(0.83 1)" font-size="16.3" text-anchor="end" fill="#222">FGF2</text>
<line x1="91.0" y1="112.8" x2="94.5" y2="112.8" stroke="#222" stroke-width="1"/>
<text transform="translate(89.0 134.2) scale(0.83 1)" font-size="16.3" text-anchor="end" fill="#222">FGF3</text>
<line x1="91.0" y1="128.4" x2="94.5" y2="128.4" stroke="#222" stroke-width="1"/>
<text transform="translate(89.0 149.7) scale(0.83 1)" font-size="16.3" text-anchor="end" fill="#222">FGF4</text>
<line x1="91.0" y1="143.9" x2="94.5" y2="143.9" stroke="#222" stroke-width="1"/>
<text transform="translate(89.0 165.2) scale(0.83 1)" font-size="16.3" text-anchor="end" fill="#222">FGF5</text>
<line x1="91.0" y1="159.4" x2="94.5" y2="159.4" stroke="#222" stroke-width="1"/>
<text transform="translate(89.0 180.8) scale(0.83 1)" font-size="16.3" text-anchor="end" fill="#222">FGF6</text>
<line x1="91.0" y1="175.0" x2="94.5" y2="175.0" stroke="#222" stroke-width="1"/>
<text transform="translate(89.0 196.3) scale(0.83 1)" font-size="16.3" text-anchor="end" fill="#222">FGF7</text>
<line x1="91.0" y1="190.5" x2="94.5" y2="190.5" stroke="#222" stroke-width="1"/>
<text transform="translate(89.0 211.9) scale(0.83 1)" font-size="16.3" text-anchor="end" fill="#222">FGF8</text>
<line x1="91.0" y1="206.1" x2="94.5" y2="206.1" stroke="#222" stroke-width="1"/>
<text transform="translate(89.0 227.4) scale(0.83 1)" font-size="16.3" text-anchor="end" fill="#222">FGF9</text>
<line x1="91.0" y1="221.6" x2="94.5" y2="221.6" stroke="#222" stroke-width="1"/>
<text transform="translate(89.0 243.0) scale(0.83 1)" font-size="16.3" text-anchor="end" fill="#222">FGF10</text>
<line x1="91.0" y1="237.2" x2="94.5" y2="237.2" stroke="#222" stroke-width="1"/>
<text transform="translate(89.0 258.5) scale(0.83 1)" font-size="16.3" text-anchor="end" fill="#222">FGF11</text>
<line x1="91.0" y1="252.7" x2="94.5" y2="252.7" stroke="#222" stroke-width="1"/>
<text transform="translate(89.0 274.0) scale(0.83 1)" font-size="16.3" text-anchor="end" fill="#222">FGF12</text>
<line x1="91.0" y1="268.2" x2="94.5" y2="268.2" stroke="#222" stroke-width="1"/>
<text transform="translate(89.0 289.6) scale(0.83 1)" font-size="16.3" text-anchor="end" fill="#222">FGF13</text>
<line x1="91.0" y1="283.8" x2="94.5" y2="283.8" stroke="#222" stroke-width="1"/>
<text transform="translate(89.0 305.1) scale(0.83 1)" font-size="16.3" text-anchor="end" fill="#222">FGF14</text>
<line x1="91.0" y1="299.3" x2="94.5" y2="299.3" stroke="#222" stroke-width="1"/>
<text transform="translate(89.0 320.7) scale(0.83 1)" font-size="16.3" text-anchor="end" fill="#222">FGF16</text>
<line x1="91.0" y1="314.9" x2="94.5" y2="314.9" stroke="#222" stroke-width="1"/>
<text transform="translate(89.0 336.2) scale(0.83 1)" font-size="16.3" text-anchor="end" fill="#222">FGF17</text>
<line x1="91.0" y1="330.4" x2="94.5" y2="330.4" stroke="#222" stroke-width="1"/>
<text transform="translate(89.0 351.8) scale(0.83 1)" font-size="16.3" text-anchor="end" fill="#222">FGF18</text>
<line x1="91.0" y1="346.0" x2="94.5" y2="346.0" stroke="#222" stroke-width="1"/>
<text transform="translate(89.0 367.3) scale(0.83 1)" font-size="16.3" text-anchor="end" fill="#222">FGF19</text>
<line x1="91.0" y1="361.5" x2="94.5" y2="361.5" stroke="#222" stroke-width="1"/>
<text transform="translate(89.0 382.8) scale(0.83 1)" font-size="16.3" text-anchor="end" fill="#222">FGF20</text>
<line x1="91.0" y1="377.0" x2="94.5" y2="377.0" stroke="#222" stroke-width="1"/>
<text transform="translate(89.0 398.4) scale(0.83 1)" font-size="16.3" text-anchor="end" fill="#222">FGF21</text>
<line x1="91.0" y1="392.6" x2="94.5" y2="392.6" stroke="#222" stroke-width="1"/>
<text transform="translate(89.0 413.9) scale(0.83 1)" font-size="16.3" text-anchor="end" fill="#222">FGF22</text>
<line x1="91.0" y1="408.1" x2="94.5" y2="408.1" stroke="#222" stroke-width="1"/>
<text transform="translate(89.0 429.5) scale(0.83 1)" font-size="16.3" text-anchor="end" fill="#222">FGF23</text>
<line x1="91.0" y1="423.7" x2="94.5" y2="423.7" stroke="#222" stroke-width="1"/>
<text transform="translate(89.0 445.0) scale(0.83 1)" font-size="16.3" text-anchor="end" fill="#222">FGFBP1</text>
<line x1="91.0" y1="439.2" x2="94.5" y2="439.2" stroke="#222" stroke-width="1"/>
<text transform="translate(89.0 460.6) scale(0.83 1)" font-size="16.3" text-anchor="end" fill="#222">FGFBP2</text>
<line x1="91.0" y1="454.8" x2="94.5" y2="454.8" stroke="#222" stroke-width="1"/>
<text transform="translate(89.0 476.1) scale(0.83 1)" font-size="16.3" text-anchor="end" fill="#222">FGFBP3</text>
<line x1="91.0" y1="470.3" x2="94.5" y2="470.3" stroke="#222" stroke-width="1"/>
<text transform="translate(89.0 491.6) scale(0.83 1)" font-size="16.3" text-anchor="end" fill="#222">FGFR1</text>
<line x1="91.0" y1="485.8" x2="94.5" y2="485.8" stroke="#222" stroke-width="1"/>
<text transform="translate(89.0 507.2) scale(0.83 1)" font-size="16.3" text-anchor="end" fill="#222">FGFR2</text>
<line x1="91.0" y1="501.4" x2="94.5" y2="501.4" stroke="#222" stroke-width="1"/>
<text transform="translate(89.0 522.7) scale(0.83 1)" font-size="16.3" text-anchor="end" fill="#222">FGFR3</text>
<line x1="91.0" y1="516.9" x2="94.5" y2="516.9" stroke="#222" stroke-width="1"/>
<text transform="translate(89.0 538.3) scale(0.83 1)" font-size="16.3" text-anchor="end" fill="#222">FGFR4</text>
<line x1="91.0" y1="532.5" x2="94.5" y2="532.5" stroke="#222" stroke-width="1"/>
<text transform="translate(89.0 553.8) scale(0.83 1)" font-size="16.3" text-anchor="end" fill="#222">SPRY1</text>
<line x1="91.0" y1="548.0" x2="94.5" y2="548.0" stroke="#222" stroke-width="1"/>
<text transform="translate(89.0 569.4) scale(0.83 1)" font-size="16.3" text-anchor="end" fill="#222">SPRY2</text>
<line x1="91.0" y1="563.6" x2="94.5" y2="563.6" stroke="#222" stroke-width="1"/>
<text transform="translate(89.0 584.9) scale(0.83 1)" font-size="16.3" text-anchor="end" fill="#222">SPRY3</text>
<line x1="91.0" y1="579.1" x2="94.5" y2="579.1" stroke="#222" stroke-width="1"/>
<text transform="translate(89.0 600.4) scale(0.83 1)" font-size="16.3" text-anchor="end" fill="#222">SPRY4</text>
<line x1="91.0" y1="594.6" x2="94.5" y2="594.6" stroke="#222" stroke-width="1"/>
<text transform="translate(89.0 616.0) scale(0.83 1)" font-size="16.3" text-anchor="end" fill="#222">DUSP6</text>
<line x1="91.0" y1="610.2" x2="94.5" y2="610.2" stroke="#222" stroke-width="1"/>
<text transform="translate(89.0 631.5) scale(0.83 1)" font-size="16.3" text-anchor="end" fill="#222">SHISA2</text>
<line x1="91.0" y1="625.7" x2="94.5" y2="625.7" stroke="#222" stroke-width="1"/>
<line x1="94.5" y1="633.5" x2="94.5" y2="636.5" stroke="#222" stroke-width="1"/>
<text transform="translate(94.5 652.5)" font-size="16.3" text-anchor="middle">0</text>
<line x1="209.5" y1="633.5" x2="209.5" y2="636.5" stroke="#222" stroke-width="1"/>
<text transform="translate(209.5 652.5)" font-size="16.3" text-anchor="middle">2000</text>
<line x1="324.5" y1="633.5" x2="324.5" y2="636.5" stroke="#222" stroke-width="1"/>
<text transform="translate(324.5 652.5)" font-size="16.3" text-anchor="middle">4000</text>
<line x1="439.5" y1="633.5" x2="439.5" y2="636.5" stroke="#222" stroke-width="1"/>
<text transform="translate(439.5 652.5)" font-size="16.3" text-anchor="middle">6000</text>
<line x1="554.5" y1="633.5" x2="554.5" y2="636.5" stroke="#222" stroke-width="1"/>
<text transform="translate(554.5 652.5)" font-size="16.3" text-anchor="middle">8000</text>
<text transform="translate(326.5 674.5)" font-size="16.2" text-anchor="middle">pseudotime rank</text>
<text transform="translate(333.5 36.7)" font-size="28.5" text-anchor="middle">FGF</text>
<rect x="720.3" y="50.0" width="491.0" height="22.0" fill="url(#gbc)"/>
<rect x="720.3" y="89.5" width="491.0" height="544.0" fill="#3e54a6"/>
<g filter="url(#hb)" fill="none" stroke-width="15.54">
<path stroke="#705080" d="M722.3 128.4h1m73 0h1m17 0h1m54 0h2m8 0h2m55 0h2m18 0h1m24 0h1m4 0h1m20 0h1m61 0h1M741.3 143.9h2m72 0h1m29 0h1m90 0h1m46 0h1m35 0h2m28 0h1m32 0h1m89 0h1M781.3 159.4h1m104 0h1M891.3 206.1h1m296 0h1M845.3 268.2h1m77 0h1M799.3 361.5h1M1156.3 423.7h2M829.3 439.2h1M815.3 548.0h1m14 0h2m20 0h1m26 0h1m9 0h1m19 0h1m30 0h1m49 0h1m8 0h1m12 0h1m22 0h4m11 0h1m5 0h1m5 0h1m87 0h1m1 0h4m3 0h2m47 0h1M734.3 625.7h1m103 0h2m13 0h1m235 0h1m42 0h1"/>
<path stroke="#805080" d="M733.3 128.4h1m58 0h1m8 0h1m96 0h1m113 0h2m180 0h2M870.3 143.9h1m228 0h2M929.3 206.1h1m26 0h1m83 0h1m105 0h2M1073.3 423.7h2M1161.3 439.2h1M859.3 548.0h2m106 0h1m42 0h1m22 0h1m7 0h1m30 0h1m18 0h1m7 0h1m16 0h2m30 0h1M920.3 610.2h1m20 0h1m7 0h1m35 0h1M799.3 625.7h1m79 0h1m109 0h1m23 0h1"/>
<path stroke="#a05060" d="M752.3 128.4h1m60 0h1m74 0h1m111 0h1m153 0h1M895.3 206.1h1M1037.3 423.7h2m30 0h1m40 0h1m33 0h1m30 0h1m25 0h2m4 0h2M827.3 439.2h1m18 0h1m261 0h1M872.3 516.9h1M767.3 548.0h1m137 0h1m186 0h1m15 0h2m17 0h1M738.3 625.7h1m190 0h2"/>
<path stroke="#804070" d="M766.3 128.4h1m4 0h1m366 0h1M1192.3 143.9h1M857.3 268.2h2M836.3 548.0h1m339 0h1M1175.3 625.7h1"/>
<path stroke="#908090" d="M775.3 128.4h1m43 0h2m146 0h1m155 0h1M837.3 143.9h1m20 0h2m59 0h1m124 0h1m125 0h1m8 0h1M739.3 190.5h1m144 0h1m11 0h1m41 0h1m12 0h2m144 0h1m79 0h1M749.3 206.1h1m9 0h1M751.3 423.7h3m21 0h1m3 0h1m33 0h2m29 0h1m26 0h1m83 0h1m66 0h1m73 0h1m45 0h2m15 0h1m33 0h1M907.3 454.8h1M723.3 470.3h2m4 0h1m18 0h1m203 0h2m2 0h2m41 0h2m61 0h1m80 0h2m37 0h1m16 0h1m8 0h1M760.3 516.9h1m49 0h2m170 0h1m20 0h1m4 0h1m21 0h1m25 0h1m33 0h1m3 0h1m32 0h1m7 0h2m60 0h1M851.3 548.0h1m93 0h1m37 0h1m25 0h1m197 0h1M720.3 579.1h1m257 0h1m12 0h2m164 0h1M742.3 594.6h1m32 0h1m16 0h1m3 0h2m18 0h1m4 0h1m23 0h2m41 0h1m11 0h1m31 0h1m6 0h1m46 0h1m12 0h1m63 0h1m64 0h2m3 0h1m13 0h1m2 0h1m33 0h1M793.3 610.2h1m37 0h1m118 0h1m11 0h1m1 0h2m101 0h1m3 0h2m33 0h1m16 0h1m36 0h2m7 0h1m13 0h1m22 0h1"/>
<path stroke="#a08090" d="M777.3 128.4h1M1037.3 143.9h1M725.3 190.5h1m153 0h1M774.3 423.7h1m174 0h1M1171.3 439.2h1M896.3 454.8h2M928.3 470.3h1m17 0h1m13 0h1m65 0h1m46 0h1m76 0h1m58 0h1M1063.3 516.9h1m97 0h1m48 0h1M893.3 579.1h1m236 0h1M805.3 594.6h1m224 0h1m3 0h1m19 0h1M759.3 610.2h2m16 0h1m315 0h1m48 0h1M1160.3 625.7h2"/>
<path stroke="#7070a0" d="M804.3 128.4h1M766.3 143.9h1m55 0h1m149 0h2m153 0h1m68 0h1M867.3 190.5h1m25 0h1m53 0h1m21 0h1m11 0h1m53 0h1m21 0h1m146 0h1M787.3 206.1h2M729.3 423.7h1m203 0h2m40 0h1M889.3 454.8h1M725.3 470.3h1m64 0h1M792.3 516.9h1m3 0h1m43 0h1m6 0h1m195 0h1m102 0h2M795.3 548.0h1m48 0h1m33 0h1m1 0h1m30 0h1m45 0h1m27 0h1M721.3 579.1h1m192 0h1m13 0h2m69 0h1m178 0h1M802.3 594.6h1m57 0h1m50 0h1m110 0h2m35 0h1m74 0h1m14 0h1m15 0h1M737.3 610.2h1m300 0h1m31 0h1M815.3 625.7h1"/>
<path stroke="#905070" d="M815.3 128.4h1m110 0h1m70 0h1m17 0h1m1 0h1m85 0h1m106 0h1M827.3 143.9h1m137 0h1m99 0h1m30 0h2m33 0h1m25 0h1M725.3 159.4h2m12 0h2M850.3 206.1h2m329 0h1M736.3 268.2h1M1000.3 423.7h1m9 0h1m20 0h2M737.3 439.2h1M818.3 548.0h1m3 0h1m256 0h2m7 0h1m8 0h2m26 0h1m14 0h1m65 0h1M910.3 610.2h1m92 0h2M955.3 625.7h2m4 0h1m18 0h1"/>
<path stroke="#805070" d="M846.3 128.4h1m195 0h1m19 0h1m95 0h1M748.3 143.9h1m51 0h1m1 0h1m53 0h1m18 0h1m73 0h1m243 0h1M1025.3 206.1h1m37 0h1m54 0h1M890.3 299.3h1M1080.3 423.7h1m39 0h1M1106.3 439.2h2m33 0h1M816.3 548.0h1m18 0h1m112 0h2m25 0h1m4 0h1m6 0h3m26 0h1m4 0h3m31 0h1m9 0h1m37 0h2m17 0h1m13 0h1m46 0h2M891.3 610.2h1m16 0h1M760.3 625.7h1m291 0h1m123 0h1m22 0h2"/>
<path stroke="#904060" d="M853.3 128.4h1m119 0h1M1007.3 548.0h1"/>
<path stroke="#806070" d="M854.3 128.4h1m38 0h1M962.3 143.9h1m162 0h1M771.3 159.4h1M1030.3 206.1h1m58 0h1M731.3 268.2h1M1198.3 361.5h1M1111.3 423.7h1m80 0h1M835.3 439.2h1M834.3 548.0h1M927.3 610.2h1M941.3 625.7h1"/>
<path stroke="#8080a0" d="M883.3 128.4h2m134 0h2m155 0h1M885.3 143.9h2m63 0h2M953.3 159.4h1M887.3 190.5h1m2 0h1m180 0h1m49 0h1M757.3 206.1h1m434 0h1M830.3 423.7h1m5 0h2m103 0h2m30 0h1m32 0h1m4 0h1m113 0h1M968.3 439.2h1M789.3 454.8h1m85 0h1m8 0h1M721.3 470.3h1m299 0h1m69 0h1M773.3 516.9h1m24 0h2m19 0h2m109 0h1m146 0h1m30 0h1M1039.3 548.0h1m86 0h1M1064.3 579.1h2m42 0h2M773.3 594.6h1m5 0h1m11 0h1m17 0h1m10 0h1m32 0h1m35 0h1m32 0h1m74 0h1m62 0h1m54 0h2m14 0h1m7 0h1m14 0h1m2 0h1m2 0h2M918.3 610.2h1m51 0h1m28 0h2m18 0h2m63 0h1m63 0h2m47 0h1"/>
<path stroke="#a08080" d="M891.3 128.4h1m91 0h1m47 0h1m29 0h1M731.3 143.9h1m136 0h1m188 0h1M741.3 190.5h1m109 0h2m7 0h1m3 0h1m15 0h1m269 0h1m7 0h2M761.3 423.7h1m5 0h1m4 0h1m47 0h1m8 0h1m70 0h1m20 0h1m61 0h2m44 0h1m14 0h1m5 0h1M869.3 454.8h1M736.3 470.3h1m180 0h1m49 0h1m26 0h1m51 0h1m20 0h1m37 0h1m26 0h1m4 0h1m47 0h2m5 0h1M780.3 516.9h1m21 0h1m68 0h1m108 0h1m171 0h1m27 0h1M934.3 548.0h2m72 0h1M763.3 579.1h2m140 0h2m2 0h1m67 0h1m122 0h2m42 0h1M744.3 594.6h1m69 0h1m16 0h1m22 0h1m11 0h1m28 0h1m23 0h2m80 0h1m23 0h1m18 0h1m31 0h1m1 0h1m14 0h1m64 0h2m13 0h1m17 0h1m6 0h1m8 0h1M784.3 610.2h2m30 0h1m56 0h2m69 0h1m8 0h1m105 0h1m55 0h1m51 0h1m42 0h1M997.3 625.7h1"/>
<path stroke="#807090" d="M928.3 128.4h2m3 0h1m172 0h1m65 0h1M840.3 143.9h2m104 0h1m30 0h1m4 0h1m57 0h1m42 0h1M878.3 190.5h1m206 0h1m77 0h1M784.3 206.1h1m115 0h1m306 0h1M1068.3 423.7h1m128 0h2m1 0h1M879.3 454.8h2m9 0h1M787.3 470.3h1m105 0h1M800.3 516.9h2m3 0h2m5 0h1m20 0h2m1 0h1m15 0h1m10 0h1m3 0h1m172 0h1M819.3 548.0h1m12 0h1m20 0h1M950.3 579.1h1m52 0h1m22 0h1m105 0h2m14 0h1m21 0h1m1 0h1M766.3 594.6h1m70 0h1m67 0h2m31 0h1m1 0h1m104 0h2m19 0h1M837.3 610.2h1m209 0h1m49 0h2"/>
<path stroke="#a06060" d="M947.3 128.4h1m37 0h1m37 0h1m2 0h1m83 0h1M752.3 143.9h1m235 0h1m88 0h2M793.3 206.1h2m117 0h1m226 0h1M720.3 268.2h1m73 0h1M1019.3 423.7h1m50 0h2m132 0h3M730.3 439.2h1m156 0h1m60 0h1m210 0h1M988.3 532.5h1M720.3 548.0h1m1 0h2m65 0h1m14 0h1m176 0h1m75 0h1m24 0h1m7 0h1m72 0h1m25 0h1m1 0h1M882.3 610.2h2m45 0h1m8 0h2"/>
<path stroke="#906060" d="M975.3 128.4h1M769.3 143.9h1m391 0h1M983.3 206.1h1M877.3 625.7h2"/>
<path stroke="#a04060" d="M982.3 128.4h1M970.3 143.9h1m162 0h2m27 0h1M733.3 268.2h2m68 0h2M1195.3 423.7h2M744.3 439.2h1m230 0h1M1210.3 532.5h1M761.3 625.7h1"/>
<path stroke="#905060" d="M1009.3 128.4h1m94 0h1m51 0h2M855.3 143.9h1m10 0h1m12 0h1m138 0h1M963.3 206.1h1M787.3 548.0h1m15 0h1m142 0h1m227 0h1"/>
<path stroke="#9080a0" d="M1030.3 128.4h1M727.3 143.9h2M891.3 190.5h1M1046.3 206.1h1M746.3 423.7h1m16 0h1m29 0h1m32 0h1m13 0h1m24 0h1m32 0h1m46 0h1m6 0h1m56 0h1M1022.3 470.3h2m7 0h1m19 0h1m25 0h1m12 0h1m28 0h1m10 0h1m2 0h1m26 0h1m9 0h1m32 0h1M1006.3 516.9h1m24 0h1m25 0h1m52 0h2M799.3 548.0h1m40 0h1m89 0h2M767.3 594.6h2m21 0h1m21 0h1m4 0h1m145 0h1m101 0h1m34 0h1m7 0h1M846.3 610.2h1m10 0h2m38 0h1m90 0h2m47 0h1m35 0h1m34 0h1m95 0h1"/>
<path stroke="#808090" d="M1040.3 128.4h1M1150.3 143.9h1m30 0h1M994.3 190.5h1M751.3 206.1h1M872.3 268.2h1M750.3 423.7h1m112 0h1m114 0h1m111 0h1m73 0h1m21 0h1M883.3 454.8h1M727.3 470.3h1M1193.3 516.9h1M821.3 548.0h1m75 0h2m61 0h1M734.3 579.1h1M785.3 594.6h2m177 0h1m104 0h2m105 0h2m5 0h1M1103.3 610.2h1M1007.3 625.7h1"/>
<path stroke="#706080" d="M1065.3 128.4h1M922.3 143.9h2m192 0h2M777.3 206.1h1m255 0h1M834.3 268.2h1M1034.3 423.7h1M821.3 439.2h1M834.3 532.5h1"/>
<path stroke="#906070" d="M1066.3 128.4h1M831.3 143.9h1m189 0h2m27 0h1m158 0h1M737.3 159.4h1m19 0h1m2 0h2M1195.3 206.1h1M809.3 268.2h2m17 0h1M784.3 299.3h1M1085.3 423.7h1m7 0h1m67 0h1M805.3 439.2h1m386 0h1M788.3 548.0h1m19 0h1m249 0h1m70 0h1M884.3 610.2h1m28 0h1m16 0h1m63 0h1M827.3 625.7h2"/>
<path stroke="#806080" d="M745.3 143.9h1m142 0h2m269 0h1M728.3 159.4h1M897.3 206.1h1m79 0h1M723.3 268.2h1m3 0h2M1114.3 423.7h1M730.3 548.0h1m42 0h1m217 0h1M887.3 610.2h1m72 0h1M890.3 625.7h1"/>
<path stroke="#908080" d="M832.3 143.9h1M926.3 190.5h1m35 0h1m51 0h1m97 0h1m52 0h1m13 0h1m4 0h1M855.3 423.7h1m47 0h1m191 0h1m80 0h1M878.3 454.8h1m21 0h2M765.3 516.9h1m71 0h2m131 0h1m4 0h1m98 0h1m25 0h1m13 0h1m36 0h1m44 0h1M893.3 548.0h1M1032.3 579.1h1m6 0h1m2 0h1m63 0h1m53 0h2M819.3 594.6h1m19 0h2m40 0h1m22 0h1m84 0h1m18 0h1m1 0h1m30 0h1m46 0h1m35 0h1M850.3 610.2h1m156 0h2m60 0h1m58 0h1m12 0h1m39 0h1"/>
<path stroke="#a09080" d="M998.3 143.9h1m154 0h1M1182.3 423.7h1M911.3 610.2h1"/>
<path stroke="#b08080" d="M1183.3 143.9h1M734.3 190.5h2m97 0h1m24 0h1M850.3 423.7h1m297 0h1M921.3 470.3h1m25 0h1m210 0h1M889.3 516.9h1m194 0h1m82 0h1M939.3 548.0h1M1155.3 594.6h1m31 0h1M814.3 610.2h2m65 0h1m135 0h1m30 0h1m160 0h1"/>
<path stroke="#f06020" d="M720.3 159.4h1M780.3 190.5h1M763.3 268.2h1M1015.3 470.3h1m179 0h1"/>
<path stroke="#c04040" d="M721.3 159.4h1m1 0h1m22 0h1M914.3 470.3h1"/>
<path stroke="#f05030" d="M722.3 159.4h1m25 0h1M969.3 470.3h1"/>
<path stroke="#e05030" d="M742.3 159.4h1m1 0h1m4 0h1M744.3 268.2h1m33 0h1M974.3 470.3h2m14 0h1M745.3 548.0h2"/>
<path stroke="#d05040" d="M743.3 159.4h1M726.3 206.1h1M760.3 268.2h1m6 0h1M964.3 470.3h1m33 0h1M881.3 516.9h2m3 0h1M728.3 548.0h1"/>
<path stroke="#d04040" d="M745.3 159.4h1m8 0h1M727.3 206.1h3M750.3 268.2h2m2 0h1m2 0h1M885.3 516.9h1m27 0h1"/>
<path stroke="#f03030" d="M747.3 159.4h1"/>
<path stroke="#d06040" d="M750.3 159.4h1M746.3 190.5h1m74 0h1M724.3 206.1h2M748.3 268.2h2m5 0h1M950.3 470.3h2m57 0h1m8 0h1m123 0h1M866.3 579.1h1m2 0h1"/>
<path stroke="#f05020" d="M751.3 159.4h1M742.3 268.2h2m20 0h2m2 0h3"/>
<path stroke="#f04030" d="M752.3 159.4h2M929.3 470.3h1"/>
<path stroke="#e04030" d="M755.3 159.4h2M744.3 206.1h1M912.3 470.3h1m2 0h1m24 0h1m24 0h1M1014.3 610.2h1"/>
<path stroke="#c05050" d="M759.3 159.4h1"/>
<path stroke="#c08050" d="M764.3 159.4h1M1139.3 423.7h1M892.3 610.2h2"/>
<path stroke="#e0a030" d="M765.3 159.4h1M943.3 470.3h1m67 0h1m124 0h1M884.3 516.9h1M770.3 548.0h1M856.3 579.1h2m23 0h1M767.3 610.2h1"/>
<path stroke="#b05050" d="M769.3 159.4h1M1057.3 423.7h1m51 0h1M753.3 548.0h1M943.3 610.2h1m35 0h2m3 0h1"/>
<path stroke="#e09030" d="M773.3 159.4h2M765.3 190.5h1m13 0h1M739.3 268.2h1m53 0h1M1017.3 470.3h1m14 0h1m26 0h1m19 0h1m48 0h1M811.3 579.1h2m1 0h1m48 0h1M1210.3 594.6h1"/>
<path stroke="#d0a060" d="M721.3 190.5h1m106 0h1M886.3 423.7h2m91 0h1m80 0h1m31 0h1M968.3 470.3h1m68 0h1m69 0h1m8 0h2M915.3 516.9h1M800.3 579.1h1m35 0h1m9 0h2m4 0h1m41 0h1M952.3 594.6h1m100 0h1m17 0h2M1031.3 610.2h1m36 0h1m130 0h1"/>
<path stroke="#c09060" d="M723.3 190.5h1m108 0h1m5 0h1m9 0h1M733.3 206.1h2m7 0h2m14 0h1M732.3 423.7h1m121 0h1m20 0h1m12 0h1m27 0h1m103 0h1m85 0h1m55 0h1M945.3 470.3h1m49 0h1M922.3 516.9h1m28 0h2m63 0h1m33 0h1m10 0h1m25 0h2m10 0h1M745.3 579.1h1m5 0h2m9 0h1m6 0h1m1 0h1m4 0h1m28 0h1m15 0h1m1 0h3m3 0h2m8 0h4m45 0h1m8 0h1M935.3 594.6h2m20 0h1m7 0h1m8 0h2m24 0h1m12 0h1m107 0h1m67 0h2m17 0h1M786.3 610.2h1m25 0h1m29 0h1m8 0h1m13 0h2m130 0h1m51 0h1m12 0h2m35 0h2"/>
<path stroke="#c0a060" d="M724.3 190.5h1M722.3 206.1h2m29 0h1M927.3 470.3h1m6 0h1m271 0h1M909.3 516.9h1m192 0h1M765.3 579.1h1m24 0h2m42 0h1m10 0h1M1026.3 594.6h1m70 0h1M923.3 610.2h1m155 0h1"/>
<path stroke="#d0a050" d="M726.3 190.5h3m33 0h1m96 0h1m2 0h2M731.3 206.1h1m14 0h1M764.3 423.7h1m367 0h1m13 0h1M978.3 470.3h1m1 0h1m62 0h1m5 0h1m49 0h2m8 0h1m51 0h1M898.3 516.9h1m9 0h1m25 0h1m10 0h1m26 0h1m24 0h2m1 0h1m38 0h1m8 0h1m79 0h1M772.3 579.1h1m4 0h1m2 0h1m4 0h2m14 0h1m15 0h2m12 0h1m1 0h1m55 0h2M844.3 594.6h1m191 0h1m62 0h1m105 0h1M754.3 610.2h2m25 0h1m57 0h1m77 0h1m48 0h1m49 0h1m13 0h1m35 0h1m38 0h1m44 0h2"/>
<path stroke="#a09090" d="M729.3 190.5h3m10 0h1M788.3 423.7h1m18 0h1m17 0h1m5 0h1m138 0h2m9 0h1m51 0h1m22 0h1m8 0h1m64 0h1M741.3 470.3h1m206 0h1m47 0h1m91 0h1m23 0h2m8 0h1m3 0h1M1142.3 516.9h2M899.3 594.6h1m23 0h1m10 0h1m69 0h1m105 0h2m31 0h1M778.3 610.2h2m155 0h1m256 0h1"/>
<path stroke="#c09070" d="M732.3 190.5h1m121 0h1m2 0h1M721.3 206.1h1M755.3 423.7h1m1 0h1m144 0h1m36 0h1m99 0h2m4 0h1m33 0h1M933.3 470.3h1m28 0h2m171 0h1m17 0h1m21 0h1m11 0h3m6 0h1M1025.3 516.9h1M749.3 579.1h1m6 0h4m27 0h3m113 0h1M778.3 594.6h1m28 0h2m15 0h1m76 0h1m82 0h1m92 0h1m85 0h1m37 0h1m4 0h1M789.3 610.2h1m7 0h1m11 0h2m16 0h2m78 0h1m118 0h1m6 0h1m10 0h1m9 0h1m40 0h1m8 0h1m69 0h1"/>
<path stroke="#b09080" d="M733.3 190.5h1m6 0h1m3 0h1m85 0h2m4 0h1m29 0h1M747.3 206.1h1m4 0h1M796.3 423.7h1m3 0h1m56 0h1m103 0h1m6 0h1m103 0h1m50 0h2m35 0h1M742.3 470.3h1m175 0h1m19 0h1m2 0h1m46 0h1m24 0h1m26 0h1m19 0h1m5 0h1m2 0h2m13 0h1m19 0h1m9 0h1m62 0h2M918.3 516.9h1m43 0h2m85 0h1m88 0h1M754.3 579.1h1m132 0h1m3 0h2m2 0h1m3 0h1m8 0h1M755.3 594.6h1m8 0h1m22 0h2m38 0h2m7 0h1m24 0h1m65 0h1m216 0h1m43 0h1M783.3 610.2h1m8 0h1m13 0h1m68 0h2m57 0h1m121 0h1m44 0h1m94 0h1m8 0h1"/>
<path stroke="#d08040" d="M745.3 190.5h1m35 0h2m1 0h1m17 0h1m19 0h1M1185.3 423.7h1M1027.3 470.3h1m73 0h1M763.3 548.0h1M776.3 610.2h1m14 0h1m209 0h1"/>
<path stroke="#c0a050" d="M747.3 190.5h1m52 0h1m24 0h1m314 0h2M818.3 423.7h1m3 0h1m280 0h1m37 0h1M936.3 470.3h1m48 0h1m1 0h1m92 0h2m47 0h1M1010.3 516.9h1M724.3 548.0h1M748.3 579.1h1m17 0h1m17 0h1m22 0h1m35 0h1m58 0h1M798.3 594.6h2m55 0h1m91 0h1m39 0h2m51 0h1m16 0h1m137 0h1M799.3 610.2h2m10 0h1m68 0h1m18 0h1m75 0h1m29 0h1m21 0h1m129 0h1m19 0h1"/>
<path stroke="#f08030" d="M748.3 190.5h1m17 0h1M1047.3 470.3h1M880.3 516.9h1M770.3 579.1h1m96 0h1M889.3 610.2h1m35 0h2"/>
<path stroke="#d07040" d="M749.3 190.5h1m48 0h1m25 0h1M745.3 268.2h1M920.3 470.3h1m103 0h1m102 0h1M897.3 516.9h1m4 0h1M803.3 579.1h1m28 0h1m53 0h1"/>
<path stroke="#f0b020" d="M750.3 190.5h1M1034.3 470.3h1"/>
<path stroke="#e0b040" d="M751.3 190.5h1m3 0h1m12 0h1m9 0h1m7 0h3m21 0h5m12 0h1m6 0h1m7 0h2m2 0h1M815.3 423.7h1m138 0h1m160 0h1m58 0h1M926.3 470.3h1m44 0h1m7 0h1m48 0h1m56 0h1M899.3 516.9h1m6 0h1m94 0h1m113 0h1m53 0h1m29 0h1M759.3 548.0h2M755.3 579.1h1m19 0h1m7 0h1m20 0h1m10 0h2M908.3 594.6h1m45 0h2m38 0h2m9 0h1m180 0h1m12 0h1M768.3 610.2h2m12 0h1m7 0h1m88 0h1m211 0h1m67 0h1m15 0h1m3 0h2"/>
<path stroke="#d0b040" d="M752.3 190.5h1m8 0h1m34 0h1M1007.3 423.7h2M1033.3 470.3h1m4 0h2m8 0h1m19 0h1m5 0h2m2 0h1m24 0h1m19 0h2m27 0h1m20 0h1m10 0h1M900.3 516.9h2m1 0h2m154 0h1m99 0h1M746.3 579.1h1m34 0h1m26 0h1m98 0h1M937.3 594.6h1m259 0h1M761.3 610.2h1m41 0h1m273 0h2"/>
<path stroke="#d09040" d="M753.3 190.5h2m30 0h1m3 0h2m10 0h1M772.3 268.2h1m39 0h1M1017.3 423.7h1m181 0h1M976.3 470.3h1m31 0h1M826.3 579.1h2m20 0h1m11 0h1m1 0h1m7 0h1m5 0h1m1 0h1M756.3 610.2h1m16 0h2"/>
<path stroke="#d0a040" d="M756.3 190.5h3m10 0h1m36 0h1m30 0h1m9 0h1m13 0h1M739.3 206.1h2M1151.3 423.7h1M924.3 470.3h2m103 0h1m33 0h1m67 0h1m42 0h1M773.3 579.1h2m21 0h1m23 0h1m7 0h1m29 0h2M1200.3 594.6h1M766.3 610.2h1m40 0h2m248 0h1"/>
<path stroke="#e07030" d="M759.3 190.5h1m15 0h2m15 0h1M982.3 470.3h1m222 0h1M905.3 516.9h1m5 0h2M1002.3 610.2h1"/>
<path stroke="#f0b030" d="M760.3 190.5h1m10 0h2m18 0h1m2 0h2M732.3 206.1h1M1062.3 423.7h1M923.3 470.3h1m30 0h1m50 0h1m92 0h1m42 0h1m6 0h2m21 0h2m31 0h1M792.3 579.1h1"/>
<path stroke="#e08030" d="M763.3 190.5h1m33 0h1m18 0h2M919.3 470.3h1m50 0h1m15 0h1m49 0h1m55 0h1M879.3 516.9h1M865.3 579.1h1m11 0h1m5 0h1"/>
<path stroke="#d0b050" d="M764.3 190.5h1m8 0h2m8 0h1m19 0h1m25 0h1M743.3 423.7h1m40 0h2m151 0h1m19 0h1m68 0h1m21 0h1m26 0h1m21 0h2M1093.3 470.3h1m1 0h1m15 0h1M877.3 516.9h1m146 0h1M782.3 579.1h1m30 0h1M774.3 594.6h1m203 0h1M787.3 610.2h1m6 0h1m106 0h1"/>
<path stroke="#f07020" d="M767.3 190.5h1m50 0h1M752.3 268.2h2M961.3 470.3h1m90 0h1m34 0h1M910.3 516.9h1M861.3 579.1h1"/>
<path stroke="#f0c030" d="M770.3 190.5h1m38 0h1m39 0h2m2 0h1M736.3 206.1h2M1002.3 423.7h1M1179.3 470.3h2M750.3 579.1h1m100 0h1M1203.3 594.6h1M770.3 610.2h2m32 0h1m359 0h1"/>
<path stroke="#f0a030" d="M777.3 190.5h1M1013.3 423.7h1M1191.3 470.3h1M806.3 579.1h1m2 0h1m58 0h1m2 0h2m11 0h1"/>
<path stroke="#e0b030" d="M793.3 190.5h1M935.3 470.3h1m30 0h1m14 0h1m89 0h2m23 0h1m5 0h1M802.3 579.1h1m46 0h2M802.3 610.2h1"/>
<path stroke="#f06030" d="M799.3 190.5h1M931.3 470.3h2m56 0h1"/>
<path stroke="#e0c040" d="M804.3 190.5h1m51 0h1M741.3 206.1h1M1149.3 423.7h1M911.3 470.3h1m4 0h1m20 0h1m11 0h1m23 0h1m46 0h1m135 0h1m33 0h1m6 0h2m11 0h1M888.3 516.9h1M753.3 579.1h1m24 0h2m17 0h1m37 0h1m19 0h1m40 0h1M1091.3 594.6h1"/>
<path stroke="#f08020" d="M805.3 190.5h1"/>
<path stroke="#f0c040" d="M807.3 190.5h1m7 0h1M1153.3 423.7h1M944.3 470.3h1M1112.3 516.9h1M1178.3 594.6h1"/>
<path stroke="#e0a040" d="M808.3 190.5h1M955.3 470.3h1M822.3 579.1h1m21 0h1m28 0h2"/>
<path stroke="#f09030" d="M819.3 190.5h1M766.3 548.0h1"/>
<path stroke="#f0a020" d="M820.3 190.5h1M738.3 206.1h1M942.3 470.3h1M853.3 579.1h1m10 0h1M795.3 610.2h2"/>
<path stroke="#e06030" d="M823.3 190.5h1M756.3 268.2h1m1 0h1M991.3 470.3h3m41 0h1M772.3 548.0h1M879.3 579.1h2m4 0h1"/>
<path stroke="#c0b050" d="M826.3 190.5h1m17 0h2M1188.3 423.7h1M1013.3 454.8h1m132 0h3M939.3 470.3h1M878.3 516.9h1m15 0h1M793.3 579.1h2m4 0h1M1202.3 610.2h1"/>
<path stroke="#d09060" d="M835.3 190.5h1m4 0h1M1003.3 470.3h2m142 0h1M834.3 594.6h2m305 0h1m9 0h1M1082.3 610.2h1m7 0h1"/>
<path stroke="#b09070" d="M839.3 190.5h1m63 0h1M735.3 206.1h1m38 0h2M781.3 423.7h1m64 0h1m57 0h1m4 0h1m125 0h1m68 0h2M761.3 439.2h2M743.3 470.3h1m228 0h1m37 0h1m33 0h1m10 0h1m62 0h1m19 0h1M1173.3 516.9h1m17 0h1M969.3 548.0h1M747.3 579.1h1m12 0h2m6 0h1m389 0h1M772.3 594.6h1m86 0h1m30 0h1m24 0h1m1 0h1m58 0h1m40 0h1m1 0h2m68 0h2m28 0h1m12 0h1m31 0h1m10 0h1m18 0h1M772.3 610.2h1m25 0h1m48 0h1m173 0h2m123 0h1"/>
<path stroke="#e0b050" d="M855.3 190.5h1M728.3 470.3h1m254 0h1m80 0h1m41 0h1m100 0h1M1075.3 516.9h1M1032.3 594.6h1m160 0h1m10 0h1M817.3 610.2h2m112 0h1m58 0h1"/>
<path stroke="#e0c030" d="M865.3 190.5h1M937.3 516.9h1M810.3 579.1h1"/>
<path stroke="#a08070" d="M875.3 190.5h1m13 0h1m140 0h1M802.3 423.7h1m67 0h1m34 0h1m59 0h1m156 0h1m56 0h1M872.3 454.8h2M940.3 516.9h1m25 0h2m50 0h1m170 0h1M983.3 579.1h1m38 0h1m156 0h1M838.3 594.6h1m30 0h1m61 0h1m27 0h1m49 0h1m71 0h2m1 0h1M869.3 610.2h1m103 0h1m76 0h1m59 0h1m47 0h1m7 0h1"/>
<path stroke="#907080" d="M916.3 190.5h1m194 0h1M838.3 206.1h1m47 0h1M810.3 423.7h1m115 0h1M1123.3 579.1h1M1138.3 594.6h1M1136.3 610.2h2"/>
<path stroke="#707090" d="M1041.3 190.5h1M832.3 454.8h1M904.3 470.3h1M854.3 516.9h1M933.3 579.1h1m37 0h1m43 0h1m135 0h1"/>
<path stroke="#808080" d="M1110.3 190.5h1"/>
<path stroke="#8070a0" d="M1123.3 190.5h2M748.3 423.7h1m41 0h1m3 0h1M964.3 516.9h2m71 0h1m47 0h1m71 0h2M782.3 532.5h1M837.3 548.0h1m347 0h1M1070.3 579.1h1M862.3 594.6h2m281 0h1M1043.3 610.2h1m95 0h2M977.3 625.7h1"/>
<path stroke="#b0a060" d="M1135.3 190.5h1M969.3 423.7h1m77 0h1m13 0h1M1020.3 516.9h1m144 0h1m13 0h1M801.3 594.6h1M1034.3 610.2h1m99 0h2m26 0h1"/>
<path stroke="#a09070" d="M1147.3 190.5h1M1076.3 423.7h2M926.3 516.9h1m27 0h2m51 0h1m52 0h1m30 0h1M771.3 594.6h1m17 0h1m75 0h1m36 0h1m80 0h1m1 0h1m69 0h1M861.3 610.2h1m264 0h1"/>
<path stroke="#907090" d="M1175.3 190.5h1M939.3 579.1h1M944.3 594.6h1"/>
<path stroke="#908070" d="M1183.3 190.5h1M1194.3 423.7h1M876.3 454.8h1M803.3 516.9h1M941.3 579.1h1M829.3 610.2h1"/>
<path stroke="#904070" d="M905.3 206.1h1m135 0h1M1054.3 423.7h1m33 0h2M866.3 439.2h1m21 0h1M776.3 548.0h2m86 0h1m45 0h1m8 0h1m33 0h1m24 0h1m225 0h1"/>
<path stroke="#b06050" d="M725.3 268.2h1m59 0h1M1030.3 423.7h1m53 0h1"/>
<path stroke="#a09060" d="M726.3 268.2h1M747.3 423.7h1m364 0h1m50 0h1M764.3 470.3h1M953.3 516.9h1M924.3 594.6h1m18 0h1m106 0h1M1051.3 610.2h1"/>
<path stroke="#d05030" d="M746.3 268.2h2"/>
<path stroke="#e03030" d="M761.3 268.2h2"/>
<path stroke="#c06040" d="M766.3 268.2h1M1097.3 470.3h1m57 0h1M765.3 548.0h1M882.3 579.1h1"/>
<path stroke="#d03040" d="M771.3 268.2h1"/>
<path stroke="#b06060" d="M784.3 268.2h1M1082.3 423.7h1M933.3 610.2h1"/>
<path stroke="#c09040" d="M787.3 268.2h1"/>
<path stroke="#b07050" d="M814.3 268.2h2m11 0h1M1126.3 423.7h1m57 0h1M768.3 548.0h1"/>
<path stroke="#b04050" d="M829.3 268.2h1M1134.3 423.7h2"/>
<path stroke="#b08050" d="M830.3 268.2h1M1059.3 423.7h1M725.3 548.0h1"/>
<path stroke="#b09060" d="M745.3 423.7h1m13 0h1m51 0h1m33 0h1m10 0h1m71 0h2m5 0h1m26 0h1m24 0h1m40 0h1m37 0h2m82 0h1M847.3 470.3h1M1021.3 516.9h1m149 0h1m15 0h2M762.3 548.0h1M767.3 579.1h1m323 0h1M748.3 594.6h2m9 0h1m66 0h1m47 0h2m6 0h1m2 0h1m55 0h2M835.3 610.2h1m210 0h1m108 0h2"/>
<path stroke="#a090a0" d="M821.3 423.7h1M1168.3 470.3h2M992.3 516.9h1M942.3 610.2h1m39 0h1"/>
<path stroke="#e0a050" d="M974.3 423.7h1m183 0h1M958.3 470.3h1M1181.3 516.9h2M854.3 579.1h1M1085.3 594.6h1m106 0h1M1171.3 610.2h2"/>
<path stroke="#b05060" d="M1001.3 423.7h1m97 0h1"/>
<path stroke="#b09050" d="M1014.3 423.7h1m157 0h1m18 0h1M1085.3 610.2h2"/>
<path stroke="#c09050" d="M1064.3 423.7h1m113 0h1M869.3 516.9h1"/>
<path stroke="#907070" d="M1100.3 423.7h2"/>
<path stroke="#b08070" d="M1170.3 423.7h1M1153.3 516.9h1m23 0h1m5 0h1M1142.3 579.1h2M757.3 610.2h2"/>
<path stroke="#b07060" d="M1173.3 423.7h1M892.3 516.9h1M726.3 548.0h1"/>
<path stroke="#9090a0" d="M1177.3 423.7h1M1042.3 470.3h1m10 0h1m11 0h1m99 0h1m34 0h1M1175.3 516.9h1M747.3 594.6h1m100 0h1m69 0h1m39 0h1m69 0h1m20 0h1m44 0h1M859.3 610.2h1"/>
<path stroke="#a07060" d="M1187.3 423.7h1"/>
<path stroke="#807080" d="M906.3 454.8h1M821.3 516.9h1"/>
<path stroke="#d0d040" d="M912.3 454.8h1m27 0h1m15 0h1m25 0h1m11 0h1m11 0h1m17 0h2m1 0h1m3 0h2m11 0h1m1 0h1m24 0h1m11 0h2m55 0h2m16 0h2m6 0h3m3 0h1m6 0h1m13 0h1m1 0h1m9 0h2"/>
<path stroke="#c0c050" d="M914.3 454.8h3m2 0h1m3 0h1m11 0h1m2 0h2m1 0h1m7 0h1m9 0h1m2 0h4m4 0h1m3 0h1m1 0h1m3 0h1m3 0h2m4 0h1m8 0h2m1 0h1m9 0h1m3 0h1m1 0h1m2 0h1m12 0h2m1 0h3m7 0h1m2 0h2m1 0h3m4 0h1m3 0h1m7 0h1m1 0h3m2 0h1m7 0h2m8 0h2m13 0h1m3 0h1m1 0h1m1 0h1m1 0h1m3 0h2m2 0h1m2 0h3m2 0h2m9 0h2m2 0h1m1 0h1m1 0h1m15 0h1m3 0h2m3 0h1m2 0h1m3 0h2m9 0h2m1 0h2m5 0h1"/>
<path stroke="#d0c040" d="M917.3 454.8h1m48 0h1m44 0h1m3 0h1m20 0h1m52 0h2m32 0h1m84 0h1"/>
<path stroke="#b0b060" d="M918.3 454.8h1m3 0h1m1 0h1m17 0h2m34 0h1m7 0h3m2 0h3m4 0h1m2 0h1m1 0h1m3 0h2m5 0h1m5 0h1m2 0h1m2 0h1m3 0h1m2 0h1m6 0h1m1 0h1m18 0h1m7 0h2m14 0h1m5 0h1m8 0h2m2 0h1m1 0h1m2 0h3m12 0h1m4 0h1m6 0h2m14 0h1m18 0h1m15 0h1m6 0h1m1 0h2"/>
<path stroke="#e0d040" d="M925.3 454.8h1m3 0h1m49 0h1m37 0h1m81 0h1m2 0h1m88 0h2m16 0h1"/>
<path stroke="#d0c050" d="M926.3 454.8h1m5 0h1m38 0h1m3 0h1m65 0h1m3 0h1m34 0h1m64 0h1m10 0h1m27 0h1"/>
<path stroke="#b0b050" d="M934.3 454.8h1m2 0h1m8 0h1m11 0h1m18 0h1m5 0h1m5 0h1m6 0h1m13 0h1m32 0h1m8 0h1m5 0h1m4 0h1m3 0h2m12 0h2m9 0h1m28 0h1m20 0h2m16 0h1m2 0h2m15 0h2m4 0h1m1 0h1m9 0h1m3 0h1m4 0h1"/>
<path stroke="#a0a070" d="M951.3 454.8h1m121 0h1m31 0h1m8 0h1m2 0h1m51 0h2"/>
<path stroke="#a0a060" d="M955.3 454.8h1m4 0h2m5 0h2m3 0h1m36 0h1m9 0h1m2 0h1m5 0h1m20 0h1m15 0h1m11 0h2m7 0h1m6 0h1m2 0h1m10 0h1m7 0h1m45 0h2m12 0h1m7 0h1"/>
<path stroke="#a0b060" d="M957.3 454.8h1m46 0h1m24 0h1m27 0h1m1 0h1m2 0h1m31 0h2m7 0h1m9 0h1m11 0h1m5 0h2m11 0h1m9 0h1m10 0h1m33 0h1"/>
<path stroke="#d09070" d="M740.3 470.3h1M765.3 594.6h1"/>
<path stroke="#e08040" d="M913.3 470.3h1"/>
<path stroke="#f09020" d="M922.3 470.3h1m61 0h1m60 0h1m4 0h1m150 0h2M819.3 579.1h1m17 0h1"/>
<path stroke="#e09040" d="M1006.3 470.3h2M875.3 579.1h1"/>
<path stroke="#c09080" d="M1012.3 470.3h1M746.3 594.6h1"/>
<path stroke="#f07030" d="M1163.3 470.3h1M883.3 516.9h1M912.3 610.2h1"/>
<path stroke="#6070a0" d="M786.3 516.9h2"/>
<path stroke="#b0a050" d="M1072.3 516.9h1M739.3 548.0h1M1053.3 610.2h1m149 0h1"/>
<path stroke="#c07050" d="M729.3 548.0h1"/>
<path stroke="#804080" d="M903.3 548.0h1"/>
<path stroke="#b09090" d="M897.3 594.6h1m32 0h1m106 0h2m23 0h1M834.3 610.2h1"/>
<path stroke="#b08060" d="M957.3 610.2h2"/>
</g>
<text transform="translate(714.8 103.1) scale(0.83 1)" font-size="16.3" text-anchor="end" fill="#222">WNT1</text>
<line x1="716.8" y1="97.3" x2="720.3" y2="97.3" stroke="#222" stroke-width="1"/>
<text transform="translate(714.8 118.6) scale(0.83 1)" font-size="16.3" text-anchor="end" fill="#222">WNT2</text>
<line x1="716.8" y1="112.8" x2="720.3" y2="112.8" stroke="#222" stroke-width="1"/>
<text transform="translate(714.8 134.2) scale(0.83 1)" font-size="16.3" text-anchor="end" fill="#222">WNT2B</text>
<line x1="716.8" y1="128.4" x2="720.3" y2="128.4" stroke="#222" stroke-width="1"/>
<text transform="translate(714.8 149.7) scale(0.83 1)" font-size="16.3" text-anchor="end" fill="#222">WNT3</text>
<line x1="716.8" y1="143.9" x2="720.3" y2="143.9" stroke="#222" stroke-width="1"/>
<text transform="translate(714.8 165.2) scale(0.83 1)" font-size="16.3" text-anchor="end" fill="#222">WNT3A</text>
<line x1="716.8" y1="159.4" x2="720.3" y2="159.4" stroke="#222" stroke-width="1"/>
<text transform="translate(714.8 180.8) scale(0.83 1)" font-size="16.3" text-anchor="end" fill="#222">WNT4</text>
<line x1="716.8" y1="175.0" x2="720.3" y2="175.0" stroke="#222" stroke-width="1"/>
<text transform="translate(714.8 196.3) scale(0.83 1)" font-size="16.3" text-anchor="end" fill="#222">WNT5A</text>
<line x1="716.8" y1="190.5" x2="720.3" y2="190.5" stroke="#222" stroke-width="1"/>
<text transform="translate(714.8 211.9) scale(0.83 1)" font-size="16.3" text-anchor="end" fill="#222">WNT5B</text>
<line x1="716.8" y1="206.1" x2="720.3" y2="206.1" stroke="#222" stroke-width="1"/>
<text transform="translate(714.8 227.4) scale(0.83 1)" font-size="16.3" text-anchor="end" fill="#222">WNT6</text>
<line x1="716.8" y1="221.6" x2="720.3" y2="221.6" stroke="#222" stroke-width="1"/>
<text transform="translate(714.8 243.0) scale(0.83 1)" font-size="16.3" text-anchor="end" fill="#222">WNT7A</text>
<line x1="716.8" y1="237.2" x2="720.3" y2="237.2" stroke="#222" stroke-width="1"/>
<text transform="translate(714.8 258.5) scale(0.83 1)" font-size="16.3" text-anchor="end" fill="#222">WNT7B</text>
<line x1="716.8" y1="252.7" x2="720.3" y2="252.7" stroke="#222" stroke-width="1"/>
<text transform="translate(714.8 274.0) scale(0.83 1)" font-size="16.3" text-anchor="end" fill="#222">WNT8A</text>
<line x1="716.8" y1="268.2" x2="720.3" y2="268.2" stroke="#222" stroke-width="1"/>
<text transform="translate(714.8 289.6) scale(0.83 1)" font-size="16.3" text-anchor="end" fill="#222">WNT8B</text>
<line x1="716.8" y1="283.8" x2="720.3" y2="283.8" stroke="#222" stroke-width="1"/>
<text transform="translate(714.8 305.1) scale(0.83 1)" font-size="16.3" text-anchor="end" fill="#222">WNT9A</text>
<line x1="716.8" y1="299.3" x2="720.3" y2="299.3" stroke="#222" stroke-width="1"/>
<text transform="translate(714.8 320.7) scale(0.83 1)" font-size="16.3" text-anchor="end" fill="#222">WNT9B</text>
<line x1="716.8" y1="314.9" x2="720.3" y2="314.9" stroke="#222" stroke-width="1"/>
<text transform="translate(714.8 336.2) scale(0.83 1)" font-size="16.3" text-anchor="end" fill="#222">WNT10A</text>
<line x1="716.8" y1="330.4" x2="720.3" y2="330.4" stroke="#222" stroke-width="1"/>
<text transform="translate(714.8 351.8) scale(0.83 1)" font-size="16.3" text-anchor="end" fill="#222">WNT10B</text>
<line x1="716.8" y1="346.0" x2="720.3" y2="346.0" stroke="#222" stroke-width="1"/>
<text transform="translate(714.8 367.3) scale(0.83 1)" font-size="16.3" text-anchor="end" fill="#222">WNT11</text>
<line x1="716.8" y1="361.5" x2="720.3" y2="361.5" stroke="#222" stroke-width="1"/>
<text transform="translate(714.8 382.8) scale(0.83 1)" font-size="16.3" text-anchor="end" fill="#222">WNT16</text>
<line x1="716.8" y1="377.0" x2="720.3" y2="377.0" stroke="#222" stroke-width="1"/>
<text transform="translate(714.8 398.4) scale(0.83 1)" font-size="16.3" text-anchor="end" fill="#222">RSPO1</text>
<line x1="716.8" y1="392.6" x2="720.3" y2="392.6" stroke="#222" stroke-width="1"/>
<text transform="translate(714.8 413.9) scale(0.83 1)" font-size="16.3" text-anchor="end" fill="#222">RSPO2</text>
<line x1="716.8" y1="408.1" x2="720.3" y2="408.1" stroke="#222" stroke-width="1"/>
<text transform="translate(714.8 429.5) scale(0.83 1)" font-size="16.3" text-anchor="end" fill="#222">RSPO3</text>
<line x1="716.8" y1="423.7" x2="720.3" y2="423.7" stroke="#222" stroke-width="1"/>
<text transform="translate(714.8 445.0) scale(0.83 1)" font-size="16.3" text-anchor="end" fill="#222">RSPO4</text>
<line x1="716.8" y1="439.2" x2="720.3" y2="439.2" stroke="#222" stroke-width="1"/>
<text transform="translate(714.8 460.6) scale(0.83 1)" font-size="16.3" text-anchor="end" fill="#222">SFRP1</text>
<line x1="716.8" y1="454.8" x2="720.3" y2="454.8" stroke="#222" stroke-width="1"/>
<text transform="translate(714.8 476.1) scale(0.83 1)" font-size="16.3" text-anchor="end" fill="#222">SFRP2</text>
<line x1="716.8" y1="470.3" x2="720.3" y2="470.3" stroke="#222" stroke-width="1"/>
<text transform="translate(714.8 491.6) scale(0.83 1)" font-size="16.3" text-anchor="end" fill="#222">SFRP4</text>
<line x1="716.8" y1="485.8" x2="720.3" y2="485.8" stroke="#222" stroke-width="1"/>
<text transform="translate(714.8 507.2) scale(0.83 1)" font-size="16.3" text-anchor="end" fill="#222">SFRP5</text>
<line x1="716.8" y1="501.4" x2="720.3" y2="501.4" stroke="#222" stroke-width="1"/>
<text transform="translate(714.8 522.7) scale(0.83 1)" font-size="16.3" text-anchor="end" fill="#222">DKK1</text>
<line x1="716.8" y1="516.9" x2="720.3" y2="516.9" stroke="#222" stroke-width="1"/>
<text transform="translate(714.8 538.3) scale(0.83 1)" font-size="16.3" text-anchor="end" fill="#222">DKK2</text>
<line x1="716.8" y1="532.5" x2="720.3" y2="532.5" stroke="#222" stroke-width="1"/>
<text transform="translate(714.8 553.8) scale(0.83 1)" font-size="16.3" text-anchor="end" fill="#222">DKK3</text>
<line x1="716.8" y1="548.0" x2="720.3" y2="548.0" stroke="#222" stroke-width="1"/>
<text transform="translate(714.8 569.4) scale(0.83 1)" font-size="16.3" text-anchor="end" fill="#222">DKK4</text>
<line x1="716.8" y1="563.6" x2="720.3" y2="563.6" stroke="#222" stroke-width="1"/>
<text transform="translate(714.8 584.9) scale(0.83 1)" font-size="16.3" text-anchor="end" fill="#222">LEF1</text>
<line x1="716.8" y1="579.1" x2="720.3" y2="579.1" stroke="#222" stroke-width="1"/>
<text transform="translate(714.8 600.4) scale(0.83 1)" font-size="16.3" text-anchor="end" fill="#222">CTNNB1</text>
<line x1="716.8" y1="594.6" x2="720.3" y2="594.6" stroke="#222" stroke-width="1"/>
<text transform="translate(714.8 616.0) scale(0.83 1)" font-size="16.3" text-anchor="end" fill="#222">DACT1</text>
<line x1="716.8" y1="610.2" x2="720.3" y2="610.2" stroke="#222" stroke-width="1"/>
<text transform="translate(714.8 631.5) scale(0.83 1)" font-size="16.3" text-anchor="end" fill="#222">DACT2</text>
<line x1="716.8" y1="625.7" x2="720.3" y2="625.7" stroke="#222" stroke-width="1"/>
<line x1="720.3" y1="633.5" x2="720.3" y2="636.5" stroke="#222" stroke-width="1"/>
<text transform="translate(720.3 652.5)" font-size="16.3" text-anchor="middle">0</text>
<line x1="835.3" y1="633.5" x2="835.3" y2="636.5" stroke="#222" stroke-width="1"/>
<text transform="translate(835.3 652.5)" font-size="16.3" text-anchor="middle">2000</text>
<line x1="950.3" y1="633.5" x2="950.3" y2="636.5" stroke="#222" stroke-width="1"/>
<text transform="translate(950.3 652.5)" font-size="16.3" text-anchor="middle">4000</text>
<line x1="1065.3" y1="633.5" x2="1065.3" y2="636.5" stroke="#222" stroke-width="1"/>
<text transform="translate(1065.3 652.5)" font-size="16.3" text-anchor="middle">6000</text>
<line x1="1180.3" y1="633.5" x2="1180.3" y2="636.5" stroke="#222" stroke-width="1"/>
<text transform="translate(1180.3 652.5)" font-size="16.3" text-anchor="middle">8000</text>
<text transform="translate(952.3 674.5)" font-size="16.2" text-anchor="middle">pseudotime rank</text>
<text transform="translate(953.0 36.7)" font-size="28.5" text-anchor="middle">WNT</text>
<rect x="602.0" y="317.0" width="14.0" height="95.5" fill="url(#lg1)"/>
<text transform="translate(620.0 323.5)" font-size="14">2.0</text>
<text transform="translate(620.0 347.4)" font-size="14">1.5</text>
<text transform="translate(620.0 371.2)" font-size="14">1.0</text>
<text transform="translate(620.0 395.1)" font-size="14">0.5</text>
<text transform="translate(620.0 419.0)" font-size="14">0.0</text>
<rect x="1226.0" y="317.0" width="14.0" height="95.5" fill="url(#lg2)"/>
<text transform="translate(1244.0 323.5)" font-size="14">2.0</text>
<text transform="translate(1244.0 347.4)" font-size="14">1.5</text>
<text transform="translate(1244.0 371.2)" font-size="14">1.0</text>
<text transform="translate(1244.0 395.1)" font-size="14">0.5</text>
<text transform="translate(1244.0 419.0)" font-size="14">0.0</text>
<path d="M651.7 747.3L657.9 764.8L664.1 804.9L669.2 829.2L674.4 848.4L678.5 850.3L686.7 845.0L697.0 844.0L705.3 848.4L713.5 856.3L721.7 860.7L729.9 866.9L738.2 872.0L750.5 874.7L760.8 876.8L769.0 872.7L779.3 870.5L791.7 867.2L804.0 866.0L816.4 863.1L826.7 865.0L837.0 867.5L847.3 862.5L857.5 860.5L867.8 863.0L878.1 864.7L888.4 866.6L898.7 868.2L906.9 872.0L914.1 873.1L914.1 883.3L906.9 881.4L898.7 875.9L888.4 873.8L878.1 875.5L867.8 871.7L857.5 869.6L847.3 870.4L837.0 875.5L826.7 871.4L816.4 871.8L804.0 877.6L791.7 878.3L779.3 879.0L769.0 882.6L760.8 882.2L750.5 881.1L738.2 878.1L729.9 877.9L721.7 870.3L713.5 865.2L705.3 857.6L697.0 851.6L686.7 850.9L678.5 856.3L674.4 856.8L669.2 839.1L664.1 810.3L657.9 771.9L651.7 753.9Z" fill="#48bec8" fill-opacity="0.28" clip-path="url(#cp1)"/>
<path d="M651.7 747.3L656.9 760.6L662.0 796.7L668.2 835.3L673.4 859.7L678.5 863.7L686.7 860.0L697.0 859.0L705.3 861.8L713.5 868.0L721.7 869.0L729.9 870.0L738.2 870.9L750.5 871.0L764.9 869.2L775.2 862.4L787.6 860.2L795.8 857.9L804.0 858.8L816.4 854.3L826.7 856.0L837.0 860.3L847.3 856.8L857.5 853.2L867.8 857.9L878.1 858.6L888.4 858.3L898.7 859.9L906.9 863.2L914.1 864.2L914.1 874.5L906.9 872.5L898.7 867.7L888.4 865.6L878.1 869.3L867.8 866.5L857.5 862.4L847.3 864.7L837.0 868.3L826.7 862.4L816.4 863.0L804.0 870.4L795.8 869.1L787.6 868.7L775.2 872.3L764.9 874.6L750.5 877.4L738.2 877.1L729.9 881.0L721.7 878.6L713.5 876.9L705.3 871.0L697.0 866.6L686.7 865.9L678.5 869.7L673.4 868.1L668.2 845.3L662.0 802.0L656.9 767.8L651.7 753.9Z" fill="#be55aa" fill-opacity="0.28" clip-path="url(#cp1)"/>
<path d="M651.7 884.1L660.0 882.9L668.2 878.0L675.4 865.9L680.6 874.9L688.8 877.2L697.0 873.4L705.3 857.1L713.5 854.6L721.7 832.7L729.9 814.1L737.1 803.5L742.3 819.9L748.5 827.6L754.6 843.4L760.8 867.1L767.0 880.2L772.1 884.7L785.5 885.6L795.8 888.8L816.4 889.7L837.0 884.3L847.3 891.0L914.1 886.9L914.1 898.3L847.3 898.4L837.0 899.0L816.4 898.0L795.8 903.0L785.5 900.5L772.1 898.1L767.0 894.4L760.8 879.8L754.6 860.2L748.5 843.6L742.3 832.5L737.1 814.7L729.9 824.8L721.7 848.3L713.5 863.4L705.3 873.2L697.0 885.4L688.8 889.4L680.6 885.3L675.4 879.8L668.2 887.1L660.0 894.9L651.7 899.5Z" fill="#daa832" fill-opacity="0.28" clip-path="url(#cp1)"/>
<path d="M651.7 751.5L657.9 767.9L664.1 807.0L669.2 833.8L674.4 851.3L678.5 853.3L686.7 848.6L697.0 848.6L705.3 854.4L713.5 860.1L721.7 866.7L729.9 872.9L738.2 874.9L750.5 877.0L760.8 879.5L769.0 878.0L779.3 874.9L791.7 872.9L804.0 871.8L816.4 867.7L826.7 869.2L837.0 869.8L847.3 864.6L857.5 865.7L867.8 867.7L878.1 869.8L888.4 870.8L898.7 872.9L906.9 876.6L914.1 878.6" fill="none" stroke="#48bec8" stroke-width="2.2" stroke-linejoin="round" clip-path="url(#cp1)"/>
<path d="M651.7 751.5L656.9 763.8L662.0 798.8L668.2 839.9L673.4 862.6L678.5 866.7L686.7 863.6L697.0 863.6L705.3 867.7L713.5 871.8L721.7 874.9L729.9 876.0L738.2 873.9L750.5 873.3L764.9 871.8L775.2 867.7L787.6 864.6L795.8 863.6L804.0 864.6L816.4 858.9L826.7 860.1L837.0 862.6L847.3 858.9L857.5 858.5L867.8 862.6L878.1 863.6L888.4 862.6L898.7 864.6L906.9 867.7L914.1 869.8" fill="none" stroke="#be55aa" stroke-width="2.2" stroke-linejoin="round" clip-path="url(#cp1)"/>
<path d="M651.7 891.4L660.0 891.0L668.2 882.1L675.4 874.9L680.6 879.0L688.8 884.2L697.0 877.0L705.3 864.6L713.5 858.5L721.7 839.9L729.9 821.4L737.1 811.1L742.3 825.5L748.5 835.8L754.6 852.3L760.8 870.8L767.0 886.3L772.1 893.5L785.5 893.0L795.8 894.5L816.4 894.5L837.0 893.0L847.3 894.5L914.1 894.5" fill="none" stroke="#daa832" stroke-width="2.2" stroke-linejoin="round" clip-path="url(#cp1)"/>
<rect x="650.7" y="750.6" width="263.3" height="147.0" fill="none" stroke="#000" stroke-width="2.4"/>
<text transform="translate(785.8 740.0)" font-size="27.5" text-anchor="middle">96h</text>
<text transform="translate(645.0 760.4)" font-size="15.5" text-anchor="end">1.0</text>
<text transform="translate(645.0 787.9)" font-size="15.5" text-anchor="end">0.8</text>
<text transform="translate(645.0 815.4)" font-size="15.5" text-anchor="end">0.6</text>
<text transform="translate(645.0 842.8)" font-size="15.5" text-anchor="end">0.4</text>
<text transform="translate(645.0 870.3)" font-size="15.5" text-anchor="end">0.2</text>
<text transform="translate(645.0 897.8)" font-size="15.5" text-anchor="end">0.0</text>
<text transform="translate(651.7 915.5)" font-size="15.5" text-anchor="middle">0</text>
<text transform="translate(709.0 915.5)" font-size="15.5" text-anchor="middle">200</text>
<text transform="translate(777.7 915.5)" font-size="15.5" text-anchor="middle">400</text>
<text transform="translate(844.4 915.5)" font-size="15.5" text-anchor="middle">600</text>
<text transform="translate(917.0 915.5)" font-size="15.5" text-anchor="end">800</text>
<text transform="translate(614.5 836.1) rotate(-90)" font-size="16.3" text-anchor="middle">Normalized intensity (a.u.)</text>
<text transform="translate(783.4 931.1)" font-size="16.3" text-anchor="middle">Distance from the posterior end (μm)</text>
<line x1="814.3" y1="768.0" x2="836.0" y2="768.0" stroke="#48bec8" stroke-width="2.6"/>
<text transform="translate(842.7 774.0)" font-size="17" font-style="italic">FGF8</text>
<line x1="814.3" y1="790.6" x2="836.0" y2="790.6" stroke="#be55aa" stroke-width="2.6"/>
<text transform="translate(842.7 796.6)" font-size="17" font-style="italic">WNT3A</text>
<line x1="814.3" y1="812.8" x2="836.0" y2="812.8" stroke="#daa832" stroke-width="2.6"/>
<text transform="translate(842.7 818.8)" font-size="17" font-style="italic">MESP2</text>
<path d="M1596.1 750.4L1604.3 779.2L1612.6 809.0L1620.8 827.1L1629.0 843.3L1637.3 852.4L1645.5 858.0L1651.7 858.6L1657.8 855.6L1666.1 853.6L1674.3 858.7L1686.6 866.9L1699.0 877.1L1711.3 881.9L1719.6 882.6L1727.8 880.9L1736.0 878.8L1744.3 880.6L1758.7 878.3L1769.0 881.6L1777.2 883.6L1783.4 883.0L1791.6 886.2L1801.9 881.0L1812.2 880.5L1820.4 882.2L1828.6 883.4L1836.9 878.5L1845.1 879.2L1854.4 877.2L1854.4 887.5L1845.1 888.6L1836.9 886.2L1828.6 890.7L1820.4 893.0L1812.2 889.2L1801.9 890.1L1791.6 894.1L1783.4 891.0L1777.2 890.0L1769.0 890.3L1758.7 890.0L1744.3 891.7L1736.0 887.2L1727.8 890.8L1719.6 888.0L1711.3 888.3L1699.0 883.3L1686.6 877.9L1674.3 868.3L1666.1 862.5L1657.8 864.8L1651.7 866.2L1645.5 863.9L1637.3 858.4L1629.0 851.6L1620.8 837.0L1612.6 814.4L1604.3 786.3L1596.1 757.0Z" fill="#48bec8" fill-opacity="0.28" clip-path="url(#cp2)"/>
<path d="M1596.1 752.5L1601.2 769.6L1606.4 803.4L1611.5 835.2L1615.6 847.7L1624.9 851.5L1637.3 851.8L1649.6 848.3L1655.8 848.7L1661.9 842.2L1667.1 842.5L1674.3 850.8L1686.6 862.6L1699.0 873.2L1711.3 879.5L1717.5 879.2L1727.8 878.7L1736.0 875.3L1744.3 876.4L1758.7 876.5L1769.0 879.3L1777.2 880.9L1783.4 876.6L1791.6 878.4L1801.9 879.3L1812.2 876.2L1820.4 877.8L1828.6 876.5L1836.9 869.5L1845.1 872.7L1854.4 874.0L1854.4 883.1L1845.1 880.8L1836.9 877.7L1828.6 885.4L1820.4 886.3L1812.2 883.5L1801.9 884.8L1791.6 887.4L1783.4 885.2L1777.2 890.2L1769.0 888.0L1758.7 885.9L1744.3 887.5L1736.0 882.0L1727.8 884.7L1717.5 888.6L1711.3 886.5L1699.0 879.2L1686.6 869.6L1674.3 857.9L1667.1 849.9L1661.9 852.1L1655.8 856.5L1649.6 856.2L1637.3 859.4L1624.9 859.4L1615.6 855.2L1611.5 842.1L1606.4 813.0L1601.2 777.4L1596.1 757.4Z" fill="#be55aa" fill-opacity="0.28" clip-path="url(#cp2)"/>
<path d="M1596.1 884.2L1608.4 882.7L1614.6 870.9L1620.8 846.8L1627.0 827.0L1632.1 815.1L1636.2 811.2L1640.3 827.4L1645.5 833.2L1649.6 835.8L1653.7 826.1L1656.8 838.8L1661.9 861.7L1668.1 875.4L1674.3 883.0L1686.6 883.3L1854.4 887.1L1854.4 903.9L1686.6 900.3L1674.3 902.5L1668.1 885.2L1661.9 874.4L1656.8 852.0L1653.7 844.5L1649.6 849.3L1645.5 841.8L1640.3 841.9L1636.2 826.8L1632.1 831.9L1627.0 840.4L1620.8 861.9L1614.6 890.3L1608.4 895.7L1596.1 901.9Z" fill="#daa832" fill-opacity="0.28" clip-path="url(#cp2)"/>
<path d="M1596.1 754.5L1604.3 782.3L1612.6 811.1L1620.8 831.7L1629.0 846.1L1637.3 855.4L1645.5 861.6L1651.7 863.2L1657.8 861.6L1666.1 857.4L1674.3 864.6L1686.6 872.9L1699.0 880.1L1711.3 884.2L1719.6 885.2L1727.8 886.3L1736.0 883.2L1744.3 886.3L1758.7 884.2L1769.0 886.3L1777.2 887.7L1783.4 885.2L1791.6 888.3L1801.9 886.3L1812.2 885.2L1820.4 887.3L1828.6 887.7L1836.9 883.2L1845.1 883.8L1854.4 882.8" fill="none" stroke="#48bec8" stroke-width="2.2" stroke-linejoin="round" clip-path="url(#cp2)"/>
<path d="M1596.1 754.5L1601.2 772.0L1606.4 807.0L1611.5 839.9L1615.6 850.2L1624.9 853.9L1637.3 854.8L1649.6 853.3L1655.8 851.3L1661.9 847.1L1667.1 847.1L1674.3 853.3L1686.6 866.7L1699.0 877.0L1711.3 883.2L1717.5 885.2L1727.8 881.1L1736.0 877.4L1744.3 882.1L1758.7 880.1L1769.0 882.1L1777.2 884.2L1783.4 880.1L1791.6 884.2L1801.9 882.1L1812.2 879.0L1820.4 882.1L1828.6 880.7L1836.9 875.3L1845.1 878.0L1854.4 877.4" fill="none" stroke="#be55aa" stroke-width="2.2" stroke-linejoin="round" clip-path="url(#cp2)"/>
<path d="M1596.1 891.4L1608.4 891.8L1614.6 881.1L1620.8 852.3L1627.0 835.8L1632.1 823.5L1636.2 819.4L1640.3 831.7L1645.5 836.9L1649.6 842.0L1653.7 834.8L1656.8 844.1L1661.9 868.8L1668.1 881.1L1674.3 892.4L1686.6 893.5L1854.4 893.5" fill="none" stroke="#daa832" stroke-width="2.2" stroke-linejoin="round" clip-path="url(#cp2)"/>
<rect x="1595.0" y="750.6" width="260.0" height="145.4" fill="none" stroke="#000" stroke-width="2.4"/>
<text transform="translate(1725.7 740.0)" font-size="27.5" text-anchor="middle">120h</text>
<text transform="translate(1589.0 760.0)" font-size="15.5" text-anchor="end">1.0</text>
<text transform="translate(1589.0 787.7)" font-size="15.5" text-anchor="end">0.8</text>
<text transform="translate(1589.0 815.4)" font-size="15.5" text-anchor="end">0.6</text>
<text transform="translate(1589.0 843.1)" font-size="15.5" text-anchor="end">0.4</text>
<text transform="translate(1589.0 870.8)" font-size="15.5" text-anchor="end">0.2</text>
<text transform="translate(1589.0 898.5)" font-size="15.5" text-anchor="end">0.0</text>
<text transform="translate(1596.0 914.5)" font-size="15.5" text-anchor="middle">0</text>
<text transform="translate(1639.3 914.5)" font-size="15.5" text-anchor="middle">200</text>
<text transform="translate(1691.2 914.5)" font-size="15.5" text-anchor="middle">400</text>
<text transform="translate(1743.2 914.5)" font-size="15.5" text-anchor="middle">600</text>
<text transform="translate(1795.7 914.5)" font-size="15.5" text-anchor="middle">800</text>
<text transform="translate(1860.0 914.5)" font-size="15.5" text-anchor="end">1000</text>
<text transform="translate(1554.5 835.3) rotate(-90)" font-size="16.3" text-anchor="middle">Normalized intensity (a.u.)</text>
<text transform="translate(1726.0 929.5)" font-size="16.3" text-anchor="middle">Distance from the posterior end (μm)</text>
<line x1="1752.0" y1="772.0" x2="1773.0" y2="772.0" stroke="#48bec8" stroke-width="2.6"/>
<text transform="translate(1782.0 778.0)" font-size="17" font-style="italic">FGF8</text>
<line x1="1752.0" y1="793.5" x2="1773.0" y2="793.5" stroke="#be55aa" stroke-width="2.6"/>
<text transform="translate(1782.0 799.5)" font-size="17" font-style="italic">WNT3A</text>
<line x1="1752.0" y1="815.0" x2="1773.0" y2="815.0" stroke="#daa832" stroke-width="2.6"/>
<text transform="translate(1782.0 821.0)" font-size="17" font-style="italic">MESP2</text>
<path d="M651.7 1091.3L660.0 1088.7L668.2 1073.9L676.4 1065.4L684.7 1060.8L692.9 1049.6L699.1 1054.2L707.3 1056.6L715.5 1047.1L723.8 1045.3L734.1 1038.0L742.3 1040.7L750.5 1051.0L758.8 1064.8L764.9 1070.1L771.1 1080.8L777.3 1093.6L783.5 1105.1L789.6 1117.0L797.9 1127.4L806.1 1133.1L816.4 1139.2L826.7 1142.3L837.0 1143.6L847.3 1139.1L857.5 1145.1L867.8 1144.5L878.1 1143.0L884.3 1140.8L892.5 1143.3L902.8 1144.7L914.1 1147.5L914.1 1156.0L902.8 1152.9L892.5 1151.3L884.3 1145.0L878.1 1147.2L867.8 1149.9L857.5 1151.1L847.3 1148.3L837.0 1148.3L826.7 1149.3L816.4 1144.2L806.1 1141.2L797.9 1137.5L789.6 1126.2L783.5 1115.3L777.3 1099.6L771.1 1085.6L764.9 1078.8L758.8 1072.8L750.5 1058.1L742.3 1049.2L734.1 1047.1L723.8 1052.3L715.5 1056.8L707.3 1065.8L699.1 1060.9L692.9 1058.8L684.7 1069.7L676.4 1076.2L668.2 1079.8L660.0 1097.3L651.7 1096.8Z" fill="#48bec8" fill-opacity="0.28" clip-path="url(#cp3)"/>
<path d="M651.7 1041.3L655.9 1029.3L661.0 1040.2L667.2 1061.9L674.4 1084.5L682.6 1101.9L690.8 1116.3L699.1 1120.5L707.3 1120.8L717.6 1120.4L725.8 1115.2L732.0 1119.6L739.2 1126.3L748.5 1126.1L758.8 1120.3L764.9 1124.4L771.1 1128.1L779.3 1127.6L787.6 1130.1L795.8 1128.1L806.1 1129.1L816.4 1129.6L826.7 1132.9L837.0 1135.4L847.3 1129.4L857.5 1141.0L865.8 1134.5L878.1 1126.0L886.4 1119.7L894.6 1116.6L902.8 1121.2L914.1 1126.3L914.1 1136.9L902.8 1131.4L894.6 1126.6L886.4 1124.9L878.1 1131.3L865.8 1141.3L857.5 1148.4L847.3 1140.8L837.0 1141.2L826.7 1141.6L816.4 1135.9L806.1 1139.4L795.8 1140.8L787.6 1141.5L779.3 1140.3L771.1 1135.5L764.9 1130.4L758.8 1131.2L748.5 1136.0L739.2 1135.1L732.0 1130.2L725.8 1126.6L717.6 1129.1L707.3 1133.0L699.1 1131.8L690.8 1124.7L682.6 1113.3L674.4 1095.7L667.2 1075.5L661.0 1047.5L655.9 1040.0L651.7 1048.3Z" fill="#be55aa" fill-opacity="0.28" clip-path="url(#cp3)"/>
<path d="M651.7 1040.8L655.9 1030.3L661.0 1052.2L667.2 1095.6L674.4 1126.9L682.6 1139.0L690.8 1145.6L699.1 1147.6L709.4 1146.2L717.6 1146.1L725.8 1141.8L732.0 1144.5L739.2 1148.5L754.6 1145.3L771.1 1147.6L787.6 1151.1L806.1 1149.7L816.4 1149.0L837.0 1149.6L847.3 1150.2L857.5 1151.9L865.8 1153.4L878.1 1145.8L888.4 1145.3L898.7 1145.9L906.9 1146.9L914.1 1149.7L914.1 1156.1L906.9 1152.8L898.7 1150.7L888.4 1152.7L878.1 1153.0L865.8 1157.4L857.5 1159.1L847.3 1156.9L837.0 1155.8L816.4 1156.7L806.1 1155.2L787.6 1157.3L771.1 1152.8L754.6 1154.1L739.2 1152.5L732.0 1151.1L725.8 1148.1L717.6 1151.2L709.4 1154.0L699.1 1154.5L690.8 1151.9L682.6 1145.4L674.4 1131.3L667.2 1099.5L661.0 1059.6L655.9 1037.5L651.7 1047.7Z" fill="#daa832" fill-opacity="0.28" clip-path="url(#cp3)"/>
<path d="M651.7 1093.6L660.0 1091.5L668.2 1077.1L676.4 1071.0L684.7 1064.8L692.9 1054.5L699.1 1056.6L707.3 1060.7L715.5 1052.4L723.8 1049.4L734.1 1043.8L742.3 1046.3L750.5 1054.5L758.8 1066.8L764.9 1075.1L771.1 1083.3L777.3 1095.7L783.5 1110.1L789.6 1122.4L797.9 1132.7L806.1 1138.9L816.4 1142.0L826.7 1144.6L837.0 1146.1L847.3 1145.0L857.5 1147.5L867.8 1147.1L878.1 1145.0L884.3 1143.0L892.5 1145.5L902.8 1148.1L914.1 1150.2" fill="none" stroke="#48bec8" stroke-width="2.2" stroke-linejoin="round" clip-path="url(#cp3)"/>
<path d="M651.7 1044.2L655.9 1032.9L661.0 1044.2L667.2 1068.9L674.4 1089.5L682.6 1108.0L690.8 1119.3L699.1 1125.5L707.3 1127.6L717.6 1125.5L725.8 1122.4L732.0 1126.5L739.2 1130.6L748.5 1128.6L758.8 1126.5L764.9 1127.6L771.1 1130.6L779.3 1133.7L787.6 1136.8L795.8 1134.8L806.1 1136.4L816.4 1133.1L826.7 1135.8L837.0 1138.5L847.3 1136.8L857.5 1144.0L865.8 1137.8L878.1 1128.6L886.4 1122.4L894.6 1119.3L902.8 1125.5L914.1 1129.6" fill="none" stroke="#be55aa" stroke-width="2.2" stroke-linejoin="round" clip-path="url(#cp3)"/>
<path d="M651.7 1044.2L655.9 1033.9L661.0 1056.6L667.2 1097.7L674.4 1128.6L682.6 1143.0L690.8 1148.1L699.1 1150.2L709.4 1150.2L717.6 1148.1L725.8 1146.1L732.0 1147.5L739.2 1150.2L754.6 1149.6L771.1 1150.8L787.6 1152.9L806.1 1153.7L816.4 1152.9L837.0 1153.3L847.3 1153.7L857.5 1156.4L865.8 1154.9L878.1 1150.2L888.4 1148.8L898.7 1148.1L906.9 1150.2L914.1 1152.3" fill="none" stroke="#daa832" stroke-width="2.2" stroke-linejoin="round" clip-path="url(#cp3)"/>
<rect x="650.7" y="1017.6" width="263.3" height="144.9" fill="none" stroke="#000" stroke-width="2.4"/>
<text transform="translate(785.8 1006.5)" font-size="27.5" text-anchor="middle">96h</text>
<text transform="translate(646.0 1025.0)" font-size="15.5" text-anchor="end">1.0</text>
<text transform="translate(646.0 1052.8)" font-size="15.5" text-anchor="end">0.8</text>
<text transform="translate(646.0 1080.6)" font-size="15.5" text-anchor="end">0.6</text>
<text transform="translate(646.0 1108.4)" font-size="15.5" text-anchor="end">0.4</text>
<text transform="translate(646.0 1136.2)" font-size="15.5" text-anchor="end">0.2</text>
<text transform="translate(646.0 1164.0)" font-size="15.5" text-anchor="end">0.0</text>
<text transform="translate(651.7 1181.0)" font-size="15.5" text-anchor="middle">0</text>
<text transform="translate(709.0 1181.0)" font-size="15.5" text-anchor="middle">200</text>
<text transform="translate(777.7 1181.0)" font-size="15.5" text-anchor="middle">400</text>
<text transform="translate(844.4 1181.0)" font-size="15.5" text-anchor="middle">600</text>
<text transform="translate(917.0 1181.0)" font-size="15.5" text-anchor="end">800</text>
<text transform="translate(614.5 1102.0) rotate(-90)" font-size="16.3" text-anchor="middle">Normalized intensity (a.u.)</text>
<text transform="translate(783.4 1196.0)" font-size="16.3" text-anchor="middle">Distance from the posterior end (μm)</text>
<line x1="809.0" y1="1034.5" x2="832.0" y2="1034.5" stroke="#48bec8" stroke-width="2.6"/>
<text transform="translate(840.0 1040.5)" font-size="17" font-style="italic">LEF1</text>
<line x1="809.0" y1="1054.5" x2="832.0" y2="1054.5" stroke="#be55aa" stroke-width="2.6"/>
<text transform="translate(840.0 1060.5)" font-size="17" font-style="italic">AXIN2</text>
<line x1="809.0" y1="1075.0" x2="832.0" y2="1075.0" stroke="#daa832" stroke-width="2.6"/>
<text transform="translate(840.0 1081.0)" font-size="17" font-style="italic">WNT3A</text>
<path d="M1596.1 1046.1L1601.2 1017.0L1606.4 1030.6L1612.6 1054.8L1618.7 1071.6L1624.9 1081.5L1632.1 1087.1L1639.3 1094.1L1647.5 1106.1L1655.8 1117.3L1664.0 1129.4L1670.2 1136.2L1678.4 1143.5L1686.6 1147.2L1696.9 1149.5L1711.3 1150.3L1727.8 1151.1L1748.4 1152.1L1769.0 1151.0L1781.3 1154.7L1789.5 1156.3L1801.9 1154.6L1820.4 1154.9L1841.0 1153.7L1854.4 1152.9L1854.4 1157.1L1841.0 1159.4L1820.4 1159.7L1801.9 1158.4L1789.5 1160.9L1781.3 1158.9L1769.0 1156.8L1748.4 1157.3L1727.8 1157.0L1711.3 1155.2L1696.9 1154.7L1686.6 1153.5L1678.4 1146.7L1670.2 1140.2L1664.0 1135.1L1655.8 1120.9L1647.5 1110.5L1639.3 1100.4L1632.1 1089.9L1624.9 1086.7L1618.7 1076.7L1612.6 1058.3L1606.4 1036.2L1601.2 1023.2L1596.1 1049.8Z" fill="#48bec8" fill-opacity="0.28" clip-path="url(#cp4)"/>
<path d="M1596.1 1047.0L1601.2 1019.0L1606.4 1035.8L1612.6 1072.1L1618.7 1104.3L1624.9 1120.9L1633.1 1128.8L1641.4 1135.7L1649.6 1138.9L1657.8 1134.7L1666.1 1134.3L1674.3 1138.3L1682.5 1139.4L1690.8 1143.7L1699.0 1145.9L1709.3 1141.3L1719.6 1146.7L1729.9 1147.5L1740.2 1147.6L1748.4 1150.6L1758.7 1150.5L1771.0 1150.2L1779.3 1152.1L1785.4 1151.3L1791.6 1145.3L1797.8 1143.3L1806.0 1145.4L1820.4 1144.5L1834.8 1144.5L1847.2 1144.2L1854.4 1145.0L1854.4 1150.7L1847.2 1149.3L1834.8 1149.6L1820.4 1150.0L1806.0 1150.8L1797.8 1147.9L1791.6 1148.8L1785.4 1156.9L1779.3 1157.5L1771.0 1156.0L1758.7 1155.9L1748.4 1156.5L1740.2 1154.6L1729.9 1151.6L1719.6 1150.4L1709.3 1147.1L1699.0 1150.2L1690.8 1147.4L1682.5 1143.8L1674.3 1142.8L1666.1 1139.0L1657.8 1140.9L1649.6 1143.8L1641.4 1140.7L1633.1 1133.5L1624.9 1125.8L1618.7 1109.0L1612.6 1076.4L1606.4 1041.8L1601.2 1023.9L1596.1 1050.1Z" fill="#be55aa" fill-opacity="0.28" clip-path="url(#cp4)"/>
<path d="M1596.1 1047.0L1601.2 1019.0L1606.4 1035.8L1612.6 1072.1L1618.7 1098.2L1624.9 1109.6L1633.1 1117.5L1641.4 1122.4L1649.6 1129.0L1657.8 1130.6L1666.1 1133.5L1674.3 1138.3L1682.5 1140.4L1690.8 1145.1L1699.0 1146.5L1709.3 1141.7L1719.6 1146.7L1729.9 1146.2L1740.2 1147.2L1748.4 1150.0L1758.7 1149.1L1771.0 1149.6L1779.3 1151.5L1785.4 1151.3L1791.6 1147.0L1797.8 1145.3L1806.0 1147.5L1820.4 1147.0L1834.8 1145.5L1847.2 1145.8L1854.4 1146.0L1854.4 1151.7L1847.2 1150.9L1834.8 1150.6L1820.4 1152.5L1806.0 1152.8L1797.8 1149.9L1791.6 1150.4L1785.4 1156.9L1779.3 1156.9L1771.0 1155.4L1758.7 1154.5L1748.4 1155.9L1740.2 1154.2L1729.9 1150.4L1719.6 1150.4L1709.3 1147.5L1699.0 1150.8L1690.8 1148.9L1682.5 1144.8L1674.3 1142.8L1666.1 1138.1L1657.8 1136.8L1649.6 1133.9L1641.4 1127.3L1633.1 1122.2L1624.9 1114.5L1618.7 1102.9L1612.6 1076.4L1606.4 1041.8L1601.2 1023.9L1596.1 1050.1Z" fill="#daa832" fill-opacity="0.28" clip-path="url(#cp4)"/>
<path d="M1596.1 1048.3L1601.2 1020.5L1606.4 1033.9L1612.6 1056.6L1618.7 1075.1L1624.9 1084.3L1632.1 1088.5L1639.3 1097.7L1647.5 1108.0L1655.8 1119.3L1664.0 1131.7L1670.2 1138.9L1678.4 1145.0L1686.6 1150.2L1696.9 1152.9L1711.3 1152.9L1727.8 1154.3L1748.4 1154.9L1769.0 1154.3L1781.3 1156.4L1789.5 1158.4L1801.9 1157.0L1820.4 1156.4L1841.0 1157.4L1854.4 1155.8" fill="none" stroke="#48bec8" stroke-width="2.2" stroke-linejoin="round" clip-path="url(#cp4)"/>
<path d="M1596.1 1048.3L1601.2 1020.5L1606.4 1038.0L1612.6 1075.1L1618.7 1105.9L1624.9 1122.4L1633.1 1130.6L1641.4 1138.9L1649.6 1140.5L1657.8 1137.8L1666.1 1137.2L1674.3 1139.9L1682.5 1142.0L1690.8 1146.1L1699.0 1148.1L1709.3 1145.0L1719.6 1148.1L1729.9 1148.8L1740.2 1151.2L1748.4 1152.9L1758.7 1152.3L1771.0 1152.3L1779.3 1154.3L1785.4 1154.9L1791.6 1147.1L1797.8 1145.0L1806.0 1148.1L1820.4 1147.1L1834.8 1148.1L1847.2 1147.5L1854.4 1147.1" fill="none" stroke="#be55aa" stroke-width="2.2" stroke-linejoin="round" clip-path="url(#cp4)"/>
<path d="M1596.1 1048.3L1601.2 1020.5L1606.4 1038.0L1612.6 1075.1L1618.7 1099.8L1624.9 1111.1L1633.1 1119.3L1641.4 1125.5L1649.6 1130.6L1657.8 1133.7L1666.1 1136.4L1674.3 1139.9L1682.5 1143.0L1690.8 1147.5L1699.0 1148.8L1709.3 1145.5L1719.6 1148.1L1729.9 1147.5L1740.2 1150.8L1748.4 1152.3L1758.7 1150.8L1771.0 1151.6L1779.3 1153.7L1785.4 1154.9L1791.6 1148.8L1797.8 1147.1L1806.0 1150.2L1820.4 1149.6L1834.8 1149.2L1847.2 1149.2L1854.4 1148.1" fill="none" stroke="#daa832" stroke-width="2.2" stroke-linejoin="round" clip-path="url(#cp4)"/>
<rect x="1595.0" y="1017.6" width="260.0" height="144.9" fill="none" stroke="#000" stroke-width="2.4"/>
<text transform="translate(1725.0 1006.5)" font-size="27.5" text-anchor="middle">96h</text>
<text transform="translate(1589.0 1025.5)" font-size="15.5" text-anchor="end">1.0</text>
<text transform="translate(1589.0 1053.3)" font-size="15.5" text-anchor="end">0.8</text>
<text transform="translate(1589.0 1081.1)" font-size="15.5" text-anchor="end">0.6</text>
<text transform="translate(1589.0 1108.9)" font-size="15.5" text-anchor="end">0.4</text>
<text transform="translate(1589.0 1136.7)" font-size="15.5" text-anchor="end">0.2</text>
<text transform="translate(1589.0 1164.5)" font-size="15.5" text-anchor="end">0.0</text>
<text transform="translate(1596.0 1181.0)" font-size="15.5" text-anchor="middle">0</text>
<text transform="translate(1653.5 1181.0)" font-size="15.5" text-anchor="middle">200</text>
<text transform="translate(1720.5 1181.0)" font-size="15.5" text-anchor="middle">400</text>
<text transform="translate(1788.0 1181.0)" font-size="15.5" text-anchor="middle">600</text>
<text transform="translate(1860.0 1181.0)" font-size="15.5" text-anchor="end">800</text>
<text transform="translate(1554.5 1102.0) rotate(-90)" font-size="16.3" text-anchor="middle">Normalized intensity (a.u.)</text>
<text transform="translate(1726.0 1196.0)" font-size="16.3" text-anchor="middle">Distance from the posterior end (μm)</text>
<line x1="1747.0" y1="1037.0" x2="1770.0" y2="1037.0" stroke="#48bec8" stroke-width="2.6"/>
<text transform="translate(1777.0 1043.0)" font-size="17" font-style="italic">DUSP6</text>
<line x1="1747.0" y1="1057.5" x2="1770.0" y2="1057.5" stroke="#be55aa" stroke-width="2.6"/>
<text transform="translate(1777.0 1063.5)" font-size="17" font-style="italic">SPRY4</text>
<line x1="1747.0" y1="1078.0" x2="1770.0" y2="1078.0" stroke="#daa832" stroke-width="2.6"/>
<text transform="translate(1777.0 1084.0)" font-size="17" font-style="italic">FGF8</text>
<path d="M773.8 2400.3L779.4 2379.2L789.1 2370.2L796.1 2354.3L801.6 2366.7L810.0 2318.4L815.6 2341.3L821.1 2327.2L826.7 2339.0L833.1 2319.2L839.2 2327.0L844.8 2331.8L850.9 2321.0L857.3 2339.8L864.3 2342.9L869.9 2339.7L878.2 2358.2L885.2 2352.7L894.9 2364.5L900.5 2350.5L908.8 2344.1L917.2 2370.2L925.5 2367.4L932.5 2381.6L938.1 2368.3L945.0 2387.4L950.6 2386.2L959.0 2387.3L965.9 2389.0L974.3 2401.5L981.2 2394.2L986.8 2391.4L993.8 2383.8L1000.7 2395.8L1009.1 2409.8L1017.4 2410.7L1025.8 2418.3L1034.1 2398.9L1041.1 2396.6L1049.5 2402.7L1057.8 2399.5L1067.6 2417.1L1075.9 2420.5L1087.0 2425.8L1095.4 2428.9L1102.4 2432.7L1107.9 2422.6L1114.9 2431.2L1121.9 2443.3L1121.9 2465.3L1114.9 2457.0L1107.9 2437.4L1102.4 2443.4L1095.4 2441.9L1087.0 2441.0L1075.9 2438.1L1067.6 2437.0L1057.8 2432.3L1049.5 2428.8L1041.1 2426.6L1034.1 2428.2L1025.8 2434.3L1017.4 2429.7L1009.1 2438.2L1000.7 2417.8L993.8 2407.8L986.8 2422.3L981.2 2425.8L974.3 2414.6L965.9 2410.8L959.0 2414.5L950.6 2399.7L945.0 2402.4L938.1 2397.7L932.5 2404.5L925.5 2396.7L917.2 2383.7L908.8 2375.6L900.5 2373.8L894.9 2377.6L885.2 2364.5L878.2 2374.8L869.9 2360.9L864.3 2369.2L857.3 2352.1L850.9 2347.2L844.8 2352.0L839.2 2348.0L833.1 2349.4L826.7 2361.0L821.1 2351.4L815.6 2356.8L810.0 2343.5L801.6 2391.6L796.1 2386.4L789.1 2393.6L779.4 2402.3L773.8 2426.3Z" fill="#48bec8" fill-opacity="0.28" clip-path="url(#cp5)"/>
<path d="M773.8 2320.2L778.0 2311.3L784.9 2318.5L791.9 2322.7L798.8 2341.4L804.4 2352.1L810.0 2349.6L815.6 2369.0L821.1 2370.0L826.7 2389.6L830.9 2388.5L836.4 2404.5L844.8 2399.6L851.8 2410.1L858.7 2417.0L867.1 2423.7L874.0 2437.4L883.8 2438.3L892.1 2439.1L897.7 2434.3L906.1 2437.2L914.4 2444.4L922.8 2442.4L931.1 2451.5L936.7 2444.2L945.0 2450.3L956.2 2452.9L967.3 2445.9L978.5 2452.8L992.4 2452.8L1006.3 2447.1L1020.2 2446.4L1034.1 2453.7L1048.1 2447.8L1062.0 2451.3L1075.9 2449.2L1089.8 2451.7L1103.8 2443.0L1121.9 2447.1L1121.9 2467.6L1103.8 2463.5L1089.8 2463.5L1075.9 2465.4L1062.0 2471.9L1048.1 2472.4L1034.1 2470.2L1020.2 2463.1L1006.3 2472.1L992.4 2463.0L978.5 2461.7L967.3 2460.8L956.2 2464.8L945.0 2461.4L936.7 2464.1L931.1 2459.4L922.8 2464.6L914.4 2459.5L906.1 2451.1L897.7 2458.9L892.1 2448.7L883.8 2453.5L874.0 2448.6L867.1 2438.6L858.7 2433.3L851.8 2426.8L844.8 2413.5L836.4 2415.2L830.9 2410.1L826.7 2402.2L821.1 2391.3L815.6 2382.8L810.0 2356.9L804.4 2368.8L798.8 2356.4L791.9 2341.6L784.9 2335.4L778.0 2333.4L773.8 2341.9Z" fill="#be55aa" fill-opacity="0.28" clip-path="url(#cp5)"/>
<path d="M773.8 2385.9L779.4 2335.9L787.7 2342.3L796.1 2318.4L803.0 2331.7L810.8 2292.2L815.6 2326.9L821.1 2316.6L826.7 2340.7L833.1 2324.3L839.2 2335.5L844.8 2342.7L851.8 2343.0L858.7 2356.5L867.1 2361.7L875.4 2372.5L883.8 2385.5L892.1 2390.3L899.1 2385.4L906.1 2386.9L913.0 2384.3L920.0 2402.0L928.3 2404.9L936.7 2409.2L945.0 2411.0L952.0 2414.9L960.4 2423.2L967.9 2404.1L974.3 2425.2L981.2 2434.8L988.2 2432.1L994.6 2423.6L1002.1 2436.8L1009.1 2440.7L1014.6 2448.0L1025.8 2447.9L1036.9 2452.2L1048.1 2447.0L1062.0 2451.4L1075.9 2444.8L1089.8 2447.0L1103.8 2451.2L1114.9 2454.1L1121.9 2459.0L1121.9 2477.9L1114.9 2471.8L1103.8 2465.3L1089.8 2464.8L1075.9 2472.7L1062.0 2466.5L1048.1 2473.7L1036.9 2470.2L1025.8 2470.5L1014.6 2462.2L1009.1 2466.7L1002.1 2452.8L994.6 2444.0L988.2 2453.6L981.2 2454.5L974.3 2444.7L967.9 2428.9L960.4 2432.6L952.0 2433.8L945.0 2426.8L936.7 2418.4L928.3 2420.8L920.0 2417.2L913.0 2403.8L906.1 2412.5L899.1 2395.8L892.1 2408.9L883.8 2400.9L875.4 2386.1L867.1 2385.3L858.7 2367.0L851.8 2362.9L844.8 2356.3L839.2 2355.9L833.1 2343.7L826.7 2366.9L821.1 2332.2L815.6 2338.0L810.8 2316.6L803.0 2346.9L796.1 2342.3L787.7 2361.3L779.4 2351.8L773.8 2401.4Z" fill="#daa832" fill-opacity="0.28" clip-path="url(#cp5)"/>
<path d="M773.8 2412.9L779.4 2393.4L789.1 2385.1L796.1 2371.1L801.6 2380.9L810.0 2334.9L815.6 2346.1L821.1 2337.7L826.7 2355.8L833.1 2332.2L839.2 2343.3L844.8 2337.7L850.9 2331.6L857.3 2347.5L864.3 2354.4L869.9 2351.7L878.2 2362.8L885.2 2360.0L894.9 2372.5L900.5 2367.0L908.8 2358.6L917.2 2376.7L925.5 2382.3L932.5 2387.9L938.1 2380.9L945.0 2393.4L950.6 2390.6L959.0 2403.2L965.9 2396.2L974.3 2408.7L981.2 2411.5L986.8 2407.3L993.8 2392.0L1000.7 2412.9L1009.1 2421.3L1017.4 2424.1L1025.8 2425.4L1034.1 2415.7L1041.1 2410.1L1049.5 2419.9L1057.8 2415.7L1067.6 2425.4L1075.9 2429.6L1087.0 2432.4L1095.4 2435.2L1102.4 2438.0L1107.9 2431.0L1114.9 2443.5L1121.9 2447.7" fill="none" stroke="#48bec8" stroke-width="2.3" stroke-linejoin="round" clip-path="url(#cp5)"/>
<path d="M773.8 2329.4L778.0 2321.6L784.9 2329.4L791.9 2334.9L798.8 2351.7L804.4 2364.2L810.0 2353.0L815.6 2376.7L821.1 2382.3L826.7 2399.0L830.9 2400.4L836.4 2408.7L844.8 2407.3L851.8 2415.7L858.7 2425.4L867.1 2432.4L874.0 2440.8L883.8 2443.5L892.1 2444.9L897.7 2446.3L906.1 2447.7L914.4 2449.1L922.8 2453.3L931.1 2456.1L936.7 2453.3L945.0 2454.7L956.2 2456.1L967.3 2457.5L978.5 2458.0L992.4 2458.0L1006.3 2459.7L1020.2 2458.0L1034.1 2459.7L1048.1 2460.3L1062.0 2459.7L1075.9 2458.9L1089.8 2456.9L1103.8 2455.2L1121.9 2456.9" fill="none" stroke="#be55aa" stroke-width="2.3" stroke-linejoin="round" clip-path="url(#cp5)"/>
<path d="M773.8 2396.2L779.4 2347.5L787.7 2354.4L796.1 2332.2L803.0 2343.3L810.8 2305.7L815.6 2330.8L821.1 2325.2L826.7 2354.4L833.1 2334.9L839.2 2348.9L844.8 2347.5L851.8 2351.7L858.7 2362.8L867.1 2371.1L875.4 2382.3L883.8 2389.2L892.1 2396.2L899.1 2392.0L906.1 2400.4L913.0 2396.2L920.0 2407.3L928.3 2417.1L936.7 2414.3L945.0 2421.3L952.0 2419.9L960.4 2426.8L967.9 2417.1L974.3 2431.0L981.2 2440.8L988.2 2446.3L994.6 2436.6L1002.1 2443.5L1009.1 2454.7L1014.6 2457.5L1025.8 2458.9L1036.9 2458.0L1048.1 2460.8L1062.0 2462.5L1075.9 2458.9L1089.8 2460.3L1103.8 2458.0L1114.9 2461.6L1121.9 2464.4" fill="none" stroke="#daa832" stroke-width="2.3" stroke-linejoin="round" clip-path="url(#cp5)"/>
<rect x="774" y="2279.5" width="348.5" height="194.5" fill="none" stroke="#000" stroke-width="2.6"/>
<text transform="translate(953.4 2271.0)" font-size="27.5" text-anchor="middle">96h</text>
<text transform="translate(768.0 2292.3)" font-size="15.4" text-anchor="end">1.0</text>
<text transform="translate(768.0 2328.5)" font-size="15.4" text-anchor="end">0.8</text>
<text transform="translate(768.0 2364.7)" font-size="15.4" text-anchor="end">0.6</text>
<text transform="translate(768.0 2400.9)" font-size="15.4" text-anchor="end">0.4</text>
<text transform="translate(768.0 2437.1)" font-size="15.4" text-anchor="end">0.2</text>
<text transform="translate(768.0 2473.3)" font-size="15.4" text-anchor="end">0.0</text>
<text transform="translate(777.1 2496.5)" font-size="15.6" text-anchor="middle">0</text>
<text transform="translate(854.0 2496.5)" font-size="15.6" text-anchor="middle">200</text>
<text transform="translate(940.0 2496.5)" font-size="15.6" text-anchor="middle">400</text>
<text transform="translate(1026.3 2496.5)" font-size="15.6" text-anchor="middle">600</text>
<text transform="translate(1112.7 2496.5)" font-size="15.6" text-anchor="middle">800</text>
<text transform="translate(737.0 2376.0) rotate(-90)" font-size="16.3" text-anchor="middle">Normalized intensity (a.u.)</text>
<text transform="translate(938.0 2513.7)" font-size="16.3" text-anchor="middle">Distance from the posterior end (μm)</text>
<line x1="1002.0" y1="2298.7" x2="1027.5" y2="2298.7" stroke="#48bec8" stroke-width="2.8"/>
<text transform="translate(1035.0 2305.5) scale(0.9 1)" font-size="19.5">pERK</text>
<line x1="1002.0" y1="2324.4" x2="1027.5" y2="2324.4" stroke="#be55aa" stroke-width="2.8"/>
<text transform="translate(1035.0 2331.2) scale(0.9 1)" font-size="19.5">CTNNB1</text>
<line x1="1002.0" y1="2347.5" x2="1027.5" y2="2347.5" stroke="#daa832" stroke-width="2.8"/>
<text transform="translate(1035.0 2354.3) scale(0.9 1)" font-size="19.5">TBX6</text>
<path d="M660.0 1329.1L665.1 1365.0L671.3 1400.5L677.5 1435.6L684.7 1447.0L691.9 1450.0L699.1 1456.8L713.5 1458.9L734.1 1458.9L750.5 1456.2L760.8 1453.3L769.0 1455.9L775.2 1461.0L900.8 1457.5L900.8 1465.4L775.2 1465.4L769.0 1465.4L760.8 1464.7L750.5 1465.4L734.1 1465.4L713.5 1465.4L699.1 1465.4L691.9 1465.4L684.7 1459.6L677.5 1457.8L671.3 1429.5L665.1 1407.6L660.0 1367.1Z" fill="#d72828" fill-opacity="0.2" clip-path="url(#cp6)"/>
<path d="M660.0 1317.5L666.1 1348.4L672.3 1383.0L680.6 1406.6L688.8 1415.4L697.0 1434.0L705.3 1428.5L713.5 1446.1L721.7 1451.1L734.1 1456.2L742.3 1458.5L750.5 1449.7L760.8 1451.0L775.2 1457.9L795.8 1455.3L816.4 1456.7L878.1 1456.8L900.8 1457.1L900.8 1465.4L878.1 1465.4L816.4 1465.4L795.8 1465.4L775.2 1465.4L760.8 1465.4L750.5 1465.4L742.3 1465.4L734.1 1465.4L721.7 1465.1L713.5 1461.9L705.3 1455.4L697.0 1449.3L688.8 1442.4L680.6 1447.9L672.3 1430.9L666.1 1407.1L660.0 1375.2Z" fill="#f5a51e" fill-opacity="0.2" clip-path="url(#cp6)"/>
<path d="M660.0 1332.1L668.2 1330.6L678.5 1357.5L688.8 1359.9L697.0 1375.1L705.3 1370.3L713.5 1380.7L721.7 1401.4L729.9 1419.6L738.2 1431.6L746.4 1437.8L754.6 1437.0L764.9 1440.4L775.2 1419.5L783.5 1437.6L793.7 1441.5L804.0 1427.9L812.3 1448.9L820.5 1456.7L828.7 1450.7L837.0 1440.3L847.3 1447.9L857.5 1447.3L865.8 1429.8L876.1 1445.5L886.4 1444.2L892.5 1443.6L900.8 1443.4L900.8 1457.9L892.5 1459.8L886.4 1462.3L876.1 1458.3L865.8 1457.2L857.5 1460.3L847.3 1465.4L837.0 1462.3L828.7 1465.4L820.5 1465.4L812.3 1464.7L804.0 1453.9L793.7 1464.3L783.5 1459.5L775.2 1443.3L764.9 1456.6L754.6 1453.1L746.4 1451.9L738.2 1461.2L729.9 1457.9L721.7 1436.4L713.5 1415.6L705.3 1411.5L697.0 1419.8L688.8 1392.5L678.5 1398.0L668.2 1394.3L660.0 1359.5Z" fill="#b950a5" fill-opacity="0.2" clip-path="url(#cp6)"/>
<path d="M660.0 1321.7L666.1 1349.3L674.4 1375.4L682.6 1410.1L690.8 1410.3L697.0 1425.1L705.3 1427.8L713.5 1429.6L721.7 1435.9L732.0 1442.9L742.3 1436.4L754.6 1445.3L764.9 1442.8L775.2 1437.5L785.5 1445.3L795.8 1438.6L806.1 1446.4L816.4 1442.8L826.7 1441.2L837.0 1443.8L847.3 1442.3L857.5 1446.2L865.8 1432.6L874.0 1441.6L884.3 1449.0L892.5 1440.2L900.8 1443.0L900.8 1461.5L892.5 1462.9L884.3 1460.9L874.0 1465.4L865.8 1451.5L857.5 1457.6L847.3 1462.5L837.0 1462.3L826.7 1459.0L816.4 1462.4L806.1 1460.6L795.8 1455.7L785.5 1460.1L775.2 1457.2L764.9 1457.0L754.6 1465.2L742.3 1454.0L732.0 1458.6L721.7 1457.4L713.5 1449.8L705.3 1450.7L697.0 1448.0L690.8 1452.1L682.6 1427.6L674.4 1429.4L666.1 1393.3L660.0 1367.2Z" fill="#eb6e96" fill-opacity="0.2" clip-path="url(#cp6)"/>
<path d="M660.0 1419.8L669.2 1373.3L678.5 1368.7L686.7 1367.9L695.0 1347.5L704.2 1357.5L713.5 1325.9L721.7 1365.5L729.9 1388.8L736.1 1420.2L742.3 1430.9L752.6 1440.6L760.8 1443.7L769.0 1435.8L781.4 1436.0L793.7 1439.3L804.0 1436.2L814.3 1442.1L824.6 1448.3L837.0 1443.1L847.3 1440.4L857.5 1444.2L865.8 1439.5L876.1 1452.0L884.3 1446.2L891.5 1438.6L896.6 1445.6L900.8 1446.7L900.8 1464.5L896.6 1465.4L891.5 1454.2L884.3 1465.4L876.1 1465.4L865.8 1458.3L857.5 1465.4L847.3 1461.0L837.0 1457.0L824.6 1464.0L814.3 1463.7L804.0 1464.3L793.7 1463.5L781.4 1454.2L769.0 1455.2L760.8 1455.3L752.6 1456.7L742.3 1455.7L736.1 1455.2L729.9 1429.2L721.7 1418.1L713.5 1390.2L704.2 1399.4L695.0 1392.6L686.7 1407.0L678.5 1406.2L669.2 1418.0L660.0 1440.5Z" fill="#4191cd" fill-opacity="0.2" clip-path="url(#cp6)"/>
<path d="M660.0 1370.2L669.2 1362.3L678.5 1350.5L687.8 1351.2L696.0 1342.4L705.3 1342.1L710.4 1359.3L715.5 1404.8L722.7 1422.3L734.1 1416.8L742.3 1433.5L750.5 1434.0L758.8 1434.8L767.0 1434.5L775.2 1432.7L784.5 1438.9L793.7 1432.9L803.0 1447.6L812.3 1437.1L821.5 1424.6L828.7 1424.9L839.0 1437.1L848.3 1434.8L857.5 1438.3L865.8 1424.4L875.0 1437.7L884.3 1447.7L891.5 1446.7L900.8 1438.9L900.8 1460.2L891.5 1465.4L884.3 1460.7L875.0 1460.7L865.8 1446.4L857.5 1460.3L848.3 1459.0L839.0 1455.9L828.7 1454.9L821.5 1451.2L812.3 1458.2L803.0 1458.2L793.7 1455.5L784.5 1456.9L775.2 1450.5L767.0 1455.3L758.8 1457.3L750.5 1452.3L742.3 1452.5L734.1 1455.4L722.7 1438.4L715.5 1425.5L710.4 1397.1L705.3 1382.8L696.0 1380.6L687.8 1377.9L678.5 1405.7L669.2 1401.3L660.0 1431.0Z" fill="#28a550" fill-opacity="0.2" clip-path="url(#cp6)"/>
<path d="M660.0 1344.4L665.1 1383.5L671.3 1420.5L677.5 1441.1L684.7 1453.5L691.9 1460.7L699.1 1464.8L713.5 1465.4L734.1 1465.4L750.5 1462.7L760.8 1461.3L769.0 1463.7L775.2 1465.4L900.8 1465.4" fill="none" stroke="#d72828" stroke-width="1.8" stroke-linejoin="round" clip-path="url(#cp6)"/>
<path d="M660.0 1344.4L666.1 1375.3L672.3 1402.0L680.6 1422.6L688.8 1434.9L697.0 1441.1L705.3 1445.2L713.5 1455.5L721.7 1458.6L734.1 1461.7L742.3 1464.8L750.5 1458.6L760.8 1460.7L775.2 1464.8L795.8 1463.7L816.4 1465.0L878.1 1464.2L900.8 1465.0" fill="none" stroke="#f5a51e" stroke-width="1.8" stroke-linejoin="round" clip-path="url(#cp6)"/>
<path d="M660.0 1348.5L668.2 1360.8L678.5 1369.1L688.8 1379.4L697.0 1391.7L705.3 1401.0L713.5 1405.1L721.7 1422.6L729.9 1438.0L738.2 1443.2L746.4 1446.3L754.6 1448.3L764.9 1447.3L775.2 1434.9L783.5 1443.2L793.7 1449.3L804.0 1444.2L812.3 1456.5L820.5 1463.7L828.7 1458.6L837.0 1453.5L847.3 1455.5L857.5 1453.5L865.8 1446.3L876.1 1454.5L886.4 1452.4L892.5 1448.3L900.8 1453.5" fill="none" stroke="#b950a5" stroke-width="1.8" stroke-linejoin="round" clip-path="url(#cp6)"/>
<path d="M660.0 1346.4L666.1 1375.3L674.4 1402.0L682.6 1418.5L690.8 1428.8L697.0 1434.9L705.3 1441.1L713.5 1440.1L721.7 1445.2L732.0 1450.4L742.3 1449.3L754.6 1454.5L764.9 1450.4L775.2 1450.4L785.5 1451.4L795.8 1450.4L806.1 1453.5L816.4 1454.5L826.7 1453.5L837.0 1451.4L847.3 1454.5L857.5 1452.4L865.8 1444.2L874.0 1453.5L884.3 1454.5L892.5 1452.4L900.8 1454.5" fill="none" stroke="#eb6e96" stroke-width="1.8" stroke-linejoin="round" clip-path="url(#cp6)"/>
<path d="M660.0 1428.8L669.2 1402.0L678.5 1386.6L686.7 1387.6L695.0 1379.4L704.2 1367.0L713.5 1356.7L721.7 1385.5L729.9 1416.4L736.1 1437.0L742.3 1444.2L752.6 1448.3L760.8 1450.4L769.0 1447.3L781.4 1449.3L793.7 1452.4L804.0 1450.4L814.3 1454.5L824.6 1452.4L837.0 1449.3L847.3 1451.4L857.5 1452.4L865.8 1450.4L876.1 1457.6L884.3 1454.5L891.5 1447.3L896.6 1454.5L900.8 1452.4" fill="none" stroke="#4191cd" stroke-width="1.8" stroke-linejoin="round" clip-path="url(#cp6)"/>
<path d="M660.0 1402.0L669.2 1391.7L678.5 1375.3L687.8 1361.9L696.0 1358.4L705.3 1361.9L710.4 1387.6L715.5 1414.4L722.7 1430.8L734.1 1437.0L742.3 1440.1L750.5 1443.2L758.8 1444.2L767.0 1446.3L775.2 1440.7L784.5 1445.2L793.7 1446.3L803.0 1452.4L812.3 1446.3L821.5 1440.7L828.7 1441.1L839.0 1446.9L848.3 1445.6L857.5 1447.7L865.8 1437.0L875.0 1448.3L884.3 1452.4L891.5 1454.5L900.8 1452.4" fill="none" stroke="#28a550" stroke-width="1.8" stroke-linejoin="round" clip-path="url(#cp6)"/>
<rect x="647.6" y="1323.4" width="267.2" height="142.0" fill="none" stroke="#444" stroke-width="1.3"/>
<text transform="translate(787.0 1347.5)" font-size="27.5" text-anchor="middle">96h</text>
<text transform="translate(644.0 1343.4)" font-size="15.6" text-anchor="end">1.0</text>
<text transform="translate(644.0 1368.4)" font-size="15.6" text-anchor="end">0.8</text>
<text transform="translate(644.0 1393.4)" font-size="15.6" text-anchor="end">0.6</text>
<text transform="translate(644.0 1418.3)" font-size="15.6" text-anchor="end">0.4</text>
<text transform="translate(644.0 1443.3)" font-size="15.6" text-anchor="end">0.2</text>
<text transform="translate(644.0 1468.3)" font-size="15.6" text-anchor="end">0.0</text>
<text transform="translate(667.8 1481.8)" font-size="15.6" text-anchor="middle">-100</text>
<text transform="translate(694.3 1481.8)" font-size="15.6" text-anchor="middle">0</text>
<text transform="translate(717.0 1481.8)" font-size="15.6" text-anchor="middle">100</text>
<text transform="translate(749.7 1481.8)" font-size="15.6" text-anchor="middle">200</text>
<text transform="translate(782.8 1481.8)" font-size="15.6" text-anchor="middle">300</text>
<text transform="translate(816.4 1481.8)" font-size="15.6" text-anchor="middle">400</text>
<text transform="translate(849.3 1481.8)" font-size="15.6" text-anchor="middle">500</text>
<text transform="translate(881.8 1481.8)" font-size="15.6" text-anchor="middle">600</text>
<path d="M657.9 1537.1L666.1 1552.4L673.4 1569.1L681.6 1532.2L690.8 1544.5L701.1 1561.3L711.4 1585.9L720.7 1591.3L729.9 1578.8L742.3 1580.7L751.6 1588.3L759.8 1589.0L767.0 1580.8L775.2 1569.2L783.5 1556.7L790.7 1562.8L797.9 1531.8L806.1 1524.6L813.3 1574.4L820.5 1589.5L828.7 1604.7L835.9 1598.0L844.2 1615.3L852.4 1620.8L859.6 1624.9L867.8 1625.3L875.0 1614.4L882.2 1598.2L890.5 1611.1L898.7 1615.4L898.7 1632.6L890.5 1627.7L882.2 1624.3L875.0 1631.7L867.8 1635.7L859.6 1635.7L852.4 1634.6L844.2 1629.7L835.9 1624.4L828.7 1627.2L820.5 1628.7L813.3 1617.3L806.1 1568.1L797.9 1600.7L790.7 1595.2L783.5 1593.9L775.2 1613.9L767.0 1611.6L759.8 1627.6L751.6 1619.8L742.3 1612.6L729.9 1623.0L720.7 1625.8L711.4 1606.8L701.1 1599.7L690.8 1591.7L681.6 1599.0L673.4 1600.4L666.1 1587.9L657.9 1566.9Z" fill="#28a550" fill-opacity="0.2" clip-path="url(#cp7)"/>
<path d="M657.9 1582.3L666.1 1538.9L674.4 1517.2L681.6 1531.0L688.8 1515.7L697.0 1545.3L705.3 1573.6L713.5 1607.3L721.7 1603.9L729.9 1611.5L738.2 1614.7L746.4 1607.5L758.8 1620.3L771.1 1614.2L783.5 1615.1L795.8 1617.3L808.2 1616.7L820.5 1618.5L832.8 1622.6L845.2 1612.4L857.5 1623.9L869.9 1616.3L882.2 1627.1L890.5 1623.7L898.7 1623.3L898.7 1635.7L890.5 1633.2L882.2 1635.6L869.9 1635.7L857.5 1634.2L845.2 1632.7L832.8 1632.3L820.5 1629.9L808.2 1635.7L795.8 1631.2L783.5 1629.2L771.1 1635.7L758.8 1635.7L746.4 1635.7L738.2 1627.9L729.9 1635.7L721.7 1635.7L713.5 1629.0L705.3 1606.3L697.0 1581.3L688.8 1573.4L681.6 1559.6L674.4 1564.8L666.1 1583.2L657.9 1619.4Z" fill="#4191cd" fill-opacity="0.2" clip-path="url(#cp7)"/>
<path d="M657.9 1513.5L665.1 1536.7L673.4 1573.7L681.6 1548.5L688.8 1554.9L697.0 1599.5L705.3 1605.0L713.5 1591.9L721.7 1587.4L732.0 1612.2L742.3 1611.9L754.6 1610.8L764.9 1610.7L775.2 1618.3L787.6 1608.8L804.0 1606.8L816.4 1616.7L832.8 1622.1L845.2 1619.7L857.5 1624.4L869.9 1627.4L882.2 1613.7L890.5 1617.9L898.7 1606.9L898.7 1632.8L890.5 1635.7L882.2 1635.7L869.9 1635.7L857.5 1635.7L845.2 1635.7L832.8 1634.2L816.4 1635.7L804.0 1633.7L787.6 1632.4L775.2 1635.7L764.9 1623.3L754.6 1634.4L742.3 1626.9L732.0 1625.9L721.7 1621.8L713.5 1625.8L705.3 1623.5L697.0 1621.8L688.8 1606.7L681.6 1599.1L673.4 1607.2L665.1 1590.8L657.9 1548.5Z" fill="#eb6e96" fill-opacity="0.2" clip-path="url(#cp7)"/>
<path d="M657.9 1513.6L665.1 1521.9L673.4 1546.4L681.6 1546.1L688.8 1545.2L697.0 1582.2L705.3 1603.5L713.5 1600.2L721.7 1602.9L729.9 1614.7L738.2 1600.7L750.5 1610.0L762.9 1610.7L775.2 1608.5L787.6 1614.4L804.0 1612.2L816.4 1614.2L832.8 1615.7L845.2 1623.9L857.5 1621.2L869.9 1620.3L882.2 1625.3L890.5 1615.5L898.7 1626.4L898.7 1635.7L890.5 1635.7L882.2 1635.7L869.9 1635.7L857.5 1635.7L845.2 1631.9L832.8 1634.4L816.4 1635.7L804.0 1631.6L787.6 1632.7L775.2 1633.3L762.9 1635.7L750.5 1629.2L738.2 1622.8L729.9 1626.2L721.7 1634.6L713.5 1627.8L705.3 1618.9L697.0 1623.2L688.8 1591.8L681.6 1586.0L673.4 1614.5L665.1 1570.3L657.9 1566.2Z" fill="#b950a5" fill-opacity="0.2" clip-path="url(#cp7)"/>
<path d="M657.9 1492.5L665.1 1516.5L672.3 1538.8L680.6 1564.9L688.8 1585.2L697.0 1607.5L705.3 1592.4L713.5 1607.0L721.7 1613.9L729.9 1620.2L738.2 1629.4L750.5 1630.1L775.2 1631.8L783.5 1624.9L791.7 1627.4L804.0 1623.1L812.3 1627.2L828.7 1626.3L845.2 1627.5L898.7 1629.1L898.7 1635.7L845.2 1635.7L828.7 1635.7L812.3 1635.7L804.0 1635.7L791.7 1635.7L783.5 1634.7L775.2 1635.7L750.5 1635.7L738.2 1635.7L729.9 1635.7L721.7 1630.5L713.5 1633.7L705.3 1624.9L697.0 1628.6L688.8 1615.2L680.6 1602.5L672.3 1589.0L665.1 1562.0L657.9 1537.6Z" fill="#f5a51e" fill-opacity="0.2" clip-path="url(#cp7)"/>
<path d="M657.9 1509.0L662.0 1569.5L666.1 1608.8L672.3 1620.5L680.6 1628.8L688.8 1629.5L898.7 1630.9L898.7 1635.7L688.8 1635.7L680.6 1635.7L672.3 1635.7L666.1 1634.8L662.0 1613.4L657.9 1559.1Z" fill="#d72828" fill-opacity="0.2" clip-path="url(#cp7)"/>
<path d="M657.9 1553.8L666.1 1573.3L673.4 1580.5L681.6 1567.2L690.8 1575.4L701.1 1583.6L711.4 1597.0L720.7 1602.1L729.9 1601.1L742.3 1602.1L751.6 1601.1L759.8 1607.3L767.0 1603.2L775.2 1590.8L783.5 1579.5L790.7 1583.6L797.9 1567.2L806.1 1549.7L813.3 1599.1L820.5 1609.4L828.7 1616.6L835.9 1612.4L844.2 1621.7L852.4 1631.0L859.6 1628.9L867.8 1631.0L875.0 1623.8L882.2 1616.6L890.5 1620.7L898.7 1625.8" fill="none" stroke="#28a550" stroke-width="1.8" stroke-linejoin="round" clip-path="url(#cp7)"/>
<path d="M657.9 1597.0L666.1 1557.9L674.4 1551.7L681.6 1543.1L688.8 1546.6L697.0 1562.0L705.3 1586.7L713.5 1613.5L721.7 1619.6L729.9 1623.8L738.2 1619.6L746.4 1622.7L758.8 1627.9L771.1 1624.8L783.5 1622.7L795.8 1625.8L808.2 1624.8L820.5 1625.8L832.8 1626.8L845.2 1624.8L857.5 1629.9L869.9 1628.9L882.2 1632.0L890.5 1627.9L898.7 1632.0" fill="none" stroke="#4191cd" stroke-width="1.8" stroke-linejoin="round" clip-path="url(#cp7)"/>
<path d="M657.9 1525.0L665.1 1553.8L673.4 1585.7L681.6 1578.5L688.8 1586.7L697.0 1609.4L705.3 1611.4L713.5 1603.2L721.7 1607.3L732.0 1617.6L742.3 1619.6L754.6 1618.6L764.9 1617.6L775.2 1629.9L787.6 1623.8L804.0 1621.7L816.4 1627.9L832.8 1629.9L845.2 1625.8L857.5 1634.0L869.9 1633.0L882.2 1625.8L890.5 1628.9L898.7 1619.6" fill="none" stroke="#eb6e96" stroke-width="1.8" stroke-linejoin="round" clip-path="url(#cp7)"/>
<path d="M657.9 1531.1L665.1 1557.9L673.4 1580.5L681.6 1574.4L688.8 1578.5L697.0 1605.2L705.3 1610.4L713.5 1614.5L721.7 1617.6L729.9 1621.7L738.2 1617.6L750.5 1623.8L762.9 1623.8L775.2 1622.7L787.6 1626.8L804.0 1623.8L816.4 1626.8L832.8 1624.8L845.2 1627.9L857.5 1629.9L869.9 1631.0L882.2 1629.9L890.5 1626.8L898.7 1629.9" fill="none" stroke="#b950a5" stroke-width="1.8" stroke-linejoin="round" clip-path="url(#cp7)"/>
<path d="M657.9 1525.0L665.1 1541.4L672.3 1570.3L680.6 1580.5L688.8 1607.3L697.0 1614.5L705.3 1611.4L713.5 1617.6L721.7 1625.8L729.9 1631.0L738.2 1634.5L750.5 1635.7L775.2 1635.7L783.5 1629.9L791.7 1634.0L804.0 1631.0L812.3 1635.1L828.7 1632.0L845.2 1634.0L898.7 1635.3" fill="none" stroke="#f5a51e" stroke-width="1.8" stroke-linejoin="round" clip-path="url(#cp7)"/>
<path d="M657.9 1526.0L662.0 1586.7L666.1 1623.8L672.3 1629.9L680.6 1634.0L688.8 1635.5L898.7 1635.7" fill="none" stroke="#d72828" stroke-width="1.8" stroke-linejoin="round" clip-path="url(#cp7)"/>
<rect x="646.6" y="1491.0" width="265.9" height="144.7" fill="none" stroke="#444" stroke-width="1.3"/>
<text transform="translate(784.8 1515.7)" font-size="27.5" text-anchor="middle">120h</text>
<text transform="translate(639.5 1506.3)" font-size="15.6" text-anchor="end">1.2</text>
<text transform="translate(639.5 1528.3)" font-size="15.6" text-anchor="end">1.0</text>
<text transform="translate(639.5 1550.4)" font-size="15.6" text-anchor="end">0.8</text>
<text transform="translate(639.5 1572.4)" font-size="15.6" text-anchor="end">0.6</text>
<text transform="translate(639.5 1594.5)" font-size="15.6" text-anchor="end">0.4</text>
<text transform="translate(639.5 1616.5)" font-size="15.6" text-anchor="end">0.2</text>
<text transform="translate(639.5 1638.6)" font-size="15.6" text-anchor="end">0.0</text>
<text transform="translate(671.9 1652.2)" font-size="15.6" text-anchor="middle">0</text>
<text transform="translate(718.0 1652.2)" font-size="15.6" text-anchor="middle">200</text>
<text transform="translate(775.2 1652.2)" font-size="15.6" text-anchor="middle">400</text>
<text transform="translate(829.1 1652.2)" font-size="15.6" text-anchor="middle">600</text>
<text transform="translate(884.7 1652.2)" font-size="15.6" text-anchor="middle">800</text>
<text transform="translate(780.0 1674.0)" font-size="16.3" text-anchor="middle">Distance to the <tspan font-style="italic">MESP2</tspan> peak (μm)</text>
<text transform="translate(611.5 1475.7) rotate(-90)" font-size="16.3" text-anchor="middle">Normalized expression level (a.u.)</text>
<line x1="620.9" y1="1286.1" x2="642.5" y2="1286.1" stroke="#d72828" stroke-width="3.1" stroke-linecap="round"/>
<text transform="translate(649.7 1291.9)" font-size="19.5" font-style="italic">WNT3A</text>
<line x1="620.9" y1="1305.7" x2="642.5" y2="1305.7" stroke="#b950a5" stroke-width="3.1" stroke-linecap="round"/>
<text transform="translate(651.7 1311.5)" font-size="19.5" font-style="italic">WNT5A</text>
<line x1="724.8" y1="1286.1" x2="746.4" y2="1286.1" stroke="#eb6e96" stroke-width="3.1" stroke-linecap="round"/>
<text transform="translate(753.6 1291.9)" font-size="19.5" font-style="italic">WNT5B</text>
<line x1="724.8" y1="1305.7" x2="746.4" y2="1305.7" stroke="#f5a51e" stroke-width="3.1" stroke-linecap="round"/>
<text transform="translate(754.6 1311.5)" font-size="19.5" font-style="italic">WNT8A</text>
<line x1="830.8" y1="1286.1" x2="852.4" y2="1286.1" stroke="#4191cd" stroke-width="3.1" stroke-linecap="round"/>
<text transform="translate(857.5 1291.9)" font-size="19.5" font-style="italic">LEF1</text>
<line x1="830.8" y1="1305.7" x2="852.4" y2="1305.7" stroke="#28a550" stroke-width="3.1" stroke-linecap="round"/>
<text transform="translate(855.5 1311.5)" font-size="19.5" font-style="italic">AXIN2</text>
<path d="M1602.3 1455.9L1612.6 1449.8L1624.9 1442.9L1637.3 1440.7L1649.6 1400.8L1659.9 1361.8L1668.1 1347.1L1674.3 1326.1L1682.5 1346.6L1691.8 1345.1L1701.0 1349.7L1709.3 1370.6L1719.6 1390.8L1727.8 1422.0L1736.0 1435.2L1744.3 1438.4L1754.6 1447.6L1764.8 1448.2L1781.3 1453.7L1797.8 1443.5L1810.1 1446.3L1826.6 1450.2L1844.1 1448.3L1844.1 1460.9L1826.6 1464.8L1810.1 1465.4L1797.8 1465.4L1781.3 1465.4L1764.8 1465.4L1754.6 1465.4L1744.3 1465.4L1736.0 1455.3L1727.8 1459.2L1719.6 1432.7L1709.3 1424.9L1701.0 1405.6L1691.8 1409.8L1682.5 1379.7L1674.3 1388.3L1668.1 1396.1L1659.9 1420.5L1649.6 1454.2L1637.3 1460.8L1624.9 1465.4L1612.6 1465.4L1602.3 1465.4Z" fill="#3246a0" fill-opacity="0.2" clip-path="url(#cp8)"/>
<path d="M1602.3 1444.2L1614.6 1439.9L1629.0 1425.1L1641.4 1409.8L1651.7 1401.7L1661.9 1370.6L1674.3 1357.3L1686.6 1364.2L1699.0 1386.2L1709.3 1384.3L1719.6 1393.2L1727.8 1381.3L1736.0 1366.3L1745.3 1327.9L1753.5 1355.3L1762.8 1342.8L1772.1 1365.1L1781.3 1342.1L1790.6 1369.5L1799.8 1357.4L1809.1 1332.2L1818.4 1335.9L1826.6 1323.0L1834.8 1330.5L1844.1 1351.7L1844.1 1384.7L1834.8 1372.2L1826.6 1376.6L1818.4 1402.9L1809.1 1407.8L1799.8 1397.1L1790.6 1427.3L1781.3 1422.0L1772.1 1418.7L1762.8 1411.0L1753.5 1403.8L1745.3 1414.8L1736.0 1423.1L1727.8 1444.0L1719.6 1420.3L1709.3 1438.8L1699.0 1438.1L1686.6 1442.1L1674.3 1415.5L1661.9 1420.6L1651.7 1443.7L1641.4 1453.1L1629.0 1452.5L1614.6 1463.6L1602.3 1465.4Z" fill="#3c6eb4" fill-opacity="0.2" clip-path="url(#cp8)"/>
<path d="M1602.3 1390.3L1612.6 1410.9L1629.0 1366.2L1637.3 1414.3L1647.5 1440.3L1655.8 1432.5L1664.0 1423.2L1674.3 1404.5L1682.5 1403.2L1692.8 1384.6L1701.0 1396.2L1711.3 1397.4L1719.6 1386.4L1727.8 1371.3L1736.0 1340.0L1745.3 1336.6L1753.5 1362.9L1762.8 1348.8L1772.1 1363.7L1781.3 1363.5L1790.6 1344.4L1799.8 1380.0L1809.1 1365.7L1818.4 1349.2L1826.6 1372.2L1834.8 1349.4L1844.1 1347.9L1844.1 1420.1L1834.8 1423.1L1826.6 1435.4L1818.4 1428.8L1809.1 1403.1L1799.8 1431.2L1790.6 1422.0L1781.3 1433.8L1772.1 1407.2L1762.8 1399.6L1753.5 1428.4L1745.3 1409.1L1736.0 1426.3L1727.8 1421.4L1719.6 1444.5L1711.3 1437.0L1701.0 1453.0L1692.8 1454.4L1682.5 1442.5L1674.3 1441.4L1664.0 1461.2L1655.8 1459.4L1647.5 1465.4L1637.3 1445.7L1629.0 1438.0L1612.6 1435.6L1602.3 1457.0Z" fill="#4bbeb4" fill-opacity="0.2" clip-path="url(#cp8)"/>
<path d="M1602.3 1413.9L1612.6 1402.7L1620.8 1392.6L1629.0 1418.1L1637.3 1398.7L1645.5 1401.5L1655.8 1406.1L1666.1 1411.6L1674.3 1390.0L1686.6 1395.5L1699.0 1381.5L1709.3 1377.8L1717.5 1345.3L1727.8 1355.2L1736.0 1372.2L1745.3 1365.3L1753.5 1338.9L1762.8 1356.3L1772.1 1359.1L1781.3 1353.4L1789.5 1367.4L1799.8 1352.3L1809.1 1347.8L1818.4 1378.1L1826.6 1375.8L1834.8 1372.8L1844.1 1360.3L1844.1 1407.9L1834.8 1428.0L1826.6 1437.1L1818.4 1409.7L1809.1 1417.8L1799.8 1423.7L1789.5 1428.6L1781.3 1423.5L1772.1 1414.2L1762.8 1428.1L1753.5 1410.9L1745.3 1423.7L1736.0 1432.1L1727.8 1444.1L1717.5 1421.9L1709.3 1442.4L1699.0 1449.9L1686.6 1445.7L1674.3 1451.1L1666.1 1458.0L1655.8 1450.0L1645.5 1441.0L1637.3 1448.9L1629.0 1461.8L1620.8 1450.5L1612.6 1443.9L1602.3 1455.4Z" fill="#f082af" fill-opacity="0.2" clip-path="url(#cp8)"/>
<path d="M1602.3 1394.8L1610.5 1412.3L1618.7 1396.4L1629.0 1388.5L1637.3 1395.0L1645.5 1405.4L1655.8 1416.7L1666.1 1434.0L1674.3 1438.0L1682.5 1436.8L1691.8 1409.6L1701.0 1430.0L1709.3 1421.1L1719.6 1417.6L1727.8 1400.6L1736.0 1376.2L1745.3 1358.6L1753.5 1367.6L1762.8 1383.0L1772.1 1376.6L1781.3 1391.0L1789.5 1412.2L1799.8 1371.1L1808.1 1419.5L1816.3 1436.5L1826.6 1441.4L1834.8 1433.7L1844.1 1419.5L1844.1 1465.4L1834.8 1463.0L1826.6 1460.3L1816.3 1461.0L1808.1 1463.6L1799.8 1421.4L1789.5 1448.5L1781.3 1433.5L1772.1 1431.6L1762.8 1456.3L1753.5 1431.2L1745.3 1400.9L1736.0 1443.2L1727.8 1447.6L1719.6 1463.9L1709.3 1453.0L1701.0 1454.1L1691.8 1437.8L1682.5 1465.4L1674.3 1460.6L1666.1 1455.7L1655.8 1459.9L1645.5 1451.6L1637.3 1439.6L1629.0 1420.8L1618.7 1432.6L1610.5 1436.9L1602.3 1435.4Z" fill="#b44b96" fill-opacity="0.2" clip-path="url(#cp8)"/>
<path d="M1602.3 1456.2L1612.6 1438.4L1629.0 1423.6L1637.3 1431.9L1647.5 1457.5L1655.8 1446.6L1666.1 1425.8L1674.3 1431.8L1682.5 1454.1L1690.8 1436.8L1701.0 1419.6L1709.3 1426.5L1719.6 1398.2L1727.8 1405.5L1736.0 1407.5L1745.3 1378.3L1753.5 1354.0L1762.8 1358.4L1772.1 1363.0L1781.3 1368.9L1790.6 1373.8L1799.8 1391.1L1809.1 1359.9L1817.3 1341.2L1826.6 1401.4L1834.8 1398.7L1844.1 1406.1L1844.1 1453.8L1834.8 1446.3L1826.6 1447.9L1817.3 1413.7L1809.1 1430.4L1799.8 1426.1L1790.6 1439.8L1781.3 1421.5L1772.1 1415.7L1762.8 1412.4L1753.5 1414.3L1745.3 1427.5L1736.0 1453.2L1727.8 1448.9L1719.6 1445.4L1709.3 1449.5L1701.0 1452.7L1690.8 1465.4L1682.5 1465.4L1674.3 1465.4L1666.1 1453.6L1655.8 1465.4L1647.5 1465.4L1637.3 1463.9L1629.0 1452.6L1612.6 1465.4L1602.3 1465.4Z" fill="#239650" fill-opacity="0.2" clip-path="url(#cp8)"/>
<path d="M1602.3 1464.8L1612.6 1461.7L1624.9 1456.5L1637.3 1447.3L1649.6 1430.8L1659.9 1404.1L1668.1 1375.3L1674.3 1356.7L1682.5 1359.8L1691.8 1367.0L1701.0 1387.6L1709.3 1408.2L1719.6 1418.5L1727.8 1430.8L1736.0 1445.2L1744.3 1455.5L1754.6 1455.9L1764.8 1458.6L1781.3 1460.0L1797.8 1456.5L1810.1 1460.0L1826.6 1458.6L1844.1 1455.1" fill="none" stroke="#3246a0" stroke-width="1.8" stroke-linejoin="round" clip-path="url(#cp8)"/>
<path d="M1602.3 1453.5L1614.6 1446.3L1629.0 1439.0L1641.4 1434.9L1651.7 1420.5L1661.9 1406.1L1674.3 1402.0L1686.6 1401.6L1699.0 1399.5L1709.3 1408.2L1719.6 1406.1L1727.8 1399.9L1736.0 1385.5L1745.3 1371.1L1753.5 1379.4L1762.8 1372.8L1772.1 1381.4L1781.3 1381.0L1790.6 1383.5L1799.8 1373.2L1809.1 1365.0L1818.4 1359.8L1826.6 1353.6L1834.8 1353.6L1844.1 1367.0" fill="none" stroke="#3c6eb4" stroke-width="1.8" stroke-linejoin="round" clip-path="url(#cp8)"/>
<path d="M1602.3 1419.5L1612.6 1424.6L1629.0 1409.2L1637.3 1431.8L1647.5 1453.5L1655.8 1446.3L1664.0 1432.9L1674.3 1416.4L1682.5 1430.8L1692.8 1416.4L1701.0 1422.6L1711.3 1412.3L1719.6 1404.1L1727.8 1393.8L1736.0 1385.5L1745.3 1381.4L1753.5 1391.7L1762.8 1377.3L1772.1 1389.7L1781.3 1388.6L1790.6 1388.6L1799.8 1408.2L1809.1 1381.4L1818.4 1387.6L1826.6 1396.9L1834.8 1387.6L1844.1 1382.5" fill="none" stroke="#4bbeb4" stroke-width="1.8" stroke-linejoin="round" clip-path="url(#cp8)"/>
<path d="M1602.3 1430.8L1612.6 1420.5L1620.8 1422.6L1629.0 1432.9L1637.3 1424.6L1645.5 1413.3L1655.8 1422.6L1666.1 1430.8L1674.3 1418.5L1686.6 1416.4L1699.0 1414.4L1709.3 1402.0L1717.5 1386.6L1727.8 1399.9L1736.0 1402.0L1745.3 1383.5L1753.5 1382.5L1762.8 1391.7L1772.1 1395.8L1781.3 1391.7L1789.5 1402.0L1799.8 1385.5L1809.1 1381.4L1818.4 1391.7L1826.6 1403.0L1834.8 1392.7L1844.1 1393.8" fill="none" stroke="#f082af" stroke-width="1.8" stroke-linejoin="round" clip-path="url(#cp8)"/>
<path d="M1602.3 1418.5L1610.5 1423.6L1618.7 1416.4L1629.0 1407.1L1637.3 1418.5L1645.5 1428.8L1655.8 1430.8L1666.1 1441.1L1674.3 1448.3L1682.5 1445.2L1691.8 1427.7L1701.0 1446.3L1709.3 1439.0L1719.6 1437.0L1727.8 1428.8L1736.0 1412.3L1745.3 1383.5L1753.5 1399.9L1762.8 1419.5L1772.1 1408.2L1781.3 1423.6L1789.5 1424.6L1799.8 1404.1L1808.1 1439.0L1816.3 1448.3L1826.6 1450.4L1834.8 1452.4L1844.1 1443.2" fill="none" stroke="#b44b96" stroke-width="1.8" stroke-linejoin="round" clip-path="url(#cp8)"/>
<path d="M1602.3 1464.8L1612.6 1455.5L1629.0 1439.0L1637.3 1451.4L1647.5 1463.7L1655.8 1453.5L1666.1 1441.1L1674.3 1449.3L1682.5 1458.6L1690.8 1447.3L1701.0 1441.1L1709.3 1439.0L1719.6 1429.8L1727.8 1428.8L1736.0 1430.8L1745.3 1412.3L1753.5 1391.7L1762.8 1388.6L1772.1 1385.5L1781.3 1396.9L1790.6 1409.2L1799.8 1405.1L1809.1 1387.6L1817.3 1383.1L1826.6 1413.3L1834.8 1420.5L1844.1 1430.8" fill="none" stroke="#239650" stroke-width="1.8" stroke-linejoin="round" clip-path="url(#cp8)"/>
<rect x="1589.5" y="1322.8" width="266.9" height="142.6" fill="none" stroke="#444" stroke-width="1.3"/>
<text transform="translate(1725.0 1344.8)" font-size="27.5" text-anchor="middle">96h</text>
<text transform="translate(1583.3 1343.4)" font-size="15.6" text-anchor="end">1.0</text>
<text transform="translate(1583.3 1368.4)" font-size="15.6" text-anchor="end">0.8</text>
<text transform="translate(1583.3 1393.4)" font-size="15.6" text-anchor="end">0.6</text>
<text transform="translate(1583.3 1418.3)" font-size="15.6" text-anchor="end">0.4</text>
<text transform="translate(1583.3 1443.3)" font-size="15.6" text-anchor="end">0.2</text>
<text transform="translate(1583.3 1468.3)" font-size="15.6" text-anchor="end">0.0</text>
<text transform="translate(1607.4 1482.2)" font-size="15.6" text-anchor="middle">-100</text>
<text transform="translate(1634.2 1482.2)" font-size="15.6" text-anchor="middle">0</text>
<text transform="translate(1656.8 1482.2)" font-size="15.6" text-anchor="middle">100</text>
<text transform="translate(1689.7 1482.2)" font-size="15.6" text-anchor="middle">200</text>
<text transform="translate(1722.7 1482.2)" font-size="15.6" text-anchor="middle">300</text>
<text transform="translate(1755.6 1482.2)" font-size="15.6" text-anchor="middle">400</text>
<text transform="translate(1788.9 1482.2)" font-size="15.6" text-anchor="middle">500</text>
<text transform="translate(1821.9 1482.2)" font-size="15.6" text-anchor="middle">600</text>
<path d="M1601.2 1595.8L1610.5 1614.9L1620.8 1613.8L1633.1 1604.0L1645.5 1592.0L1655.8 1583.6L1666.1 1537.7L1674.3 1531.6L1682.5 1534.7L1692.8 1514.6L1701.0 1504.4L1710.3 1491.7L1719.6 1535.9L1727.8 1531.1L1737.1 1550.3L1745.3 1524.3L1753.5 1501.6L1762.8 1532.4L1772.1 1521.0L1781.3 1493.7L1789.5 1524.0L1797.8 1543.7L1807.0 1558.6L1816.3 1531.6L1825.6 1523.8L1834.8 1506.0L1844.1 1521.8L1844.1 1572.8L1834.8 1577.6L1825.6 1571.5L1816.3 1586.8L1807.0 1596.9L1797.8 1622.7L1789.5 1593.6L1781.3 1565.9L1772.1 1588.9L1762.8 1586.0L1753.5 1577.6L1745.3 1580.2L1737.1 1585.4L1727.8 1597.6L1719.6 1590.7L1710.3 1555.9L1701.0 1578.7L1692.8 1575.3L1682.5 1584.7L1674.3 1597.2L1666.1 1600.7L1655.8 1626.9L1645.5 1630.5L1633.1 1635.7L1620.8 1635.4L1610.5 1634.0L1601.2 1635.7Z" fill="#4bbeb4" fill-opacity="0.2" clip-path="url(#cp9)"/>
<path d="M1601.2 1582.7L1608.4 1589.8L1618.7 1574.9L1633.1 1538.7L1645.5 1530.9L1653.7 1546.6L1664.0 1543.6L1674.3 1550.3L1684.6 1550.2L1694.9 1571.7L1703.1 1539.5L1711.3 1514.0L1719.6 1517.1L1727.8 1539.6L1736.0 1565.8L1745.3 1540.9L1753.5 1535.9L1762.8 1533.8L1772.1 1514.5L1781.3 1508.6L1789.5 1514.8L1797.8 1551.4L1807.0 1549.8L1816.3 1538.6L1825.6 1538.8L1834.8 1504.0L1844.1 1532.2L1844.1 1582.1L1834.8 1578.4L1825.6 1586.2L1816.3 1609.3L1807.0 1595.5L1797.8 1600.3L1789.5 1546.7L1781.3 1575.8L1772.1 1573.2L1762.8 1575.5L1753.5 1600.0L1745.3 1607.2L1736.0 1622.3L1727.8 1616.3L1719.6 1604.0L1711.3 1579.7L1703.1 1602.0L1694.9 1608.3L1684.6 1612.7L1674.3 1600.9L1664.0 1599.0L1653.7 1612.7L1645.5 1582.5L1633.1 1587.5L1618.7 1624.3L1608.4 1617.8L1601.2 1612.7Z" fill="#3c6eb4" fill-opacity="0.2" clip-path="url(#cp9)"/>
<path d="M1601.2 1601.1L1610.5 1618.9L1620.8 1552.9L1633.1 1525.6L1645.5 1519.0L1655.8 1541.8L1664.0 1580.7L1674.3 1598.9L1684.6 1617.3L1694.9 1622.2L1707.2 1625.4L1719.6 1626.5L1727.8 1608.4L1736.0 1585.5L1742.2 1593.1L1750.4 1604.6L1760.7 1615.7L1772.1 1614.8L1781.3 1624.6L1789.5 1630.4L1797.8 1624.9L1810.1 1620.4L1826.6 1624.6L1834.8 1615.2L1844.1 1604.4L1844.1 1635.7L1834.8 1635.7L1826.6 1635.7L1810.1 1635.7L1797.8 1635.7L1789.5 1635.7L1781.3 1635.7L1772.1 1635.7L1760.7 1635.7L1750.4 1631.8L1742.2 1633.1L1736.0 1618.0L1727.8 1635.7L1719.6 1635.7L1707.2 1635.7L1694.9 1635.6L1684.6 1630.8L1674.3 1635.7L1664.0 1619.5L1655.8 1597.6L1645.5 1587.1L1633.1 1604.6L1620.8 1606.9L1610.5 1635.7L1601.2 1624.4Z" fill="#3246a0" fill-opacity="0.2" clip-path="url(#cp9)"/>
<path d="M1601.2 1572.1L1609.5 1528.0L1616.7 1515.2L1624.9 1544.1L1633.1 1530.6L1641.4 1576.8L1649.6 1531.8L1655.8 1596.1L1664.0 1601.8L1674.3 1588.5L1684.6 1581.5L1694.9 1612.4L1703.1 1570.0L1711.3 1530.9L1719.6 1525.2L1727.8 1585.5L1736.0 1598.4L1745.3 1632.6L1753.5 1578.6L1758.7 1536.3L1764.8 1574.2L1773.1 1614.0L1781.3 1581.9L1789.5 1571.5L1797.8 1612.0L1806.0 1605.4L1814.2 1620.6L1822.5 1609.0L1828.6 1597.7L1836.9 1610.7L1844.1 1575.8L1844.1 1616.9L1836.9 1630.4L1828.6 1627.1L1822.5 1628.2L1814.2 1635.7L1806.0 1629.4L1797.8 1630.0L1789.5 1616.3L1781.3 1615.7L1773.1 1630.0L1764.8 1626.8L1758.7 1615.6L1753.5 1607.7L1745.3 1635.7L1736.0 1630.9L1727.8 1626.1L1719.6 1582.0L1711.3 1602.3L1703.1 1614.7L1694.9 1633.4L1684.6 1621.5L1674.3 1626.8L1664.0 1632.8L1655.8 1629.5L1649.6 1601.6L1641.4 1626.4L1633.1 1604.9L1624.9 1607.8L1616.7 1600.4L1609.5 1576.5L1601.2 1621.3Z" fill="#b44b96" fill-opacity="0.2" clip-path="url(#cp9)"/>
<path d="M1601.2 1565.6L1610.5 1603.8L1620.8 1579.2L1633.1 1547.3L1641.4 1572.9L1649.6 1549.1L1657.8 1538.3L1666.1 1548.7L1674.3 1558.4L1682.5 1571.2L1692.8 1571.5L1703.1 1576.1L1711.3 1556.7L1719.6 1567.3L1727.8 1592.3L1736.0 1597.5L1745.3 1574.8L1753.5 1527.6L1762.8 1530.7L1772.1 1533.5L1781.3 1511.1L1789.5 1560.8L1797.8 1577.3L1807.0 1538.2L1816.3 1537.0L1825.6 1518.9L1834.8 1517.6L1844.1 1528.5L1844.1 1575.2L1834.8 1573.9L1825.6 1590.5L1816.3 1614.6L1807.0 1594.1L1797.8 1604.2L1789.5 1611.8L1781.3 1588.7L1772.1 1584.1L1762.8 1605.0L1753.5 1586.3L1745.3 1613.1L1736.0 1622.4L1727.8 1627.0L1719.6 1615.9L1711.3 1594.4L1703.1 1617.9L1692.8 1629.9L1682.5 1616.8L1674.3 1617.2L1666.1 1611.8L1657.8 1609.6L1649.6 1601.6L1641.4 1608.4L1633.1 1611.3L1620.8 1619.0L1610.5 1625.8L1601.2 1616.5Z" fill="#f082af" fill-opacity="0.2" clip-path="url(#cp9)"/>
<path d="M1601.2 1600.9L1610.5 1605.0L1618.7 1616.4L1627.0 1589.8L1633.1 1550.7L1645.5 1560.7L1661.9 1576.7L1670.2 1577.2L1680.5 1592.2L1690.8 1586.9L1701.0 1555.2L1711.3 1534.3L1719.6 1534.4L1727.8 1573.8L1736.0 1530.3L1744.3 1529.9L1750.4 1567.0L1758.7 1573.1L1766.9 1551.3L1775.1 1530.8L1782.3 1532.5L1789.5 1571.8L1797.8 1600.7L1806.0 1577.2L1814.2 1607.5L1822.5 1597.7L1828.6 1567.5L1836.9 1557.5L1844.1 1547.1L1844.1 1617.6L1836.9 1615.4L1828.6 1615.2L1822.5 1622.4L1814.2 1635.7L1806.0 1624.1L1797.8 1626.8L1789.5 1622.9L1782.3 1582.6L1775.1 1595.3L1766.9 1608.4L1758.7 1626.4L1750.4 1606.9L1744.3 1583.7L1736.0 1585.9L1727.8 1597.8L1719.6 1564.8L1711.3 1588.8L1701.0 1612.8L1690.8 1628.7L1680.5 1632.2L1670.2 1609.6L1661.9 1616.5L1645.5 1621.4L1633.1 1619.0L1627.0 1632.2L1618.7 1635.4L1610.5 1630.2L1601.2 1635.7Z" fill="#239650" fill-opacity="0.2" clip-path="url(#cp9)"/>
<path d="M1601.2 1615.5L1610.5 1625.8L1620.8 1619.6L1633.1 1617.6L1645.5 1607.3L1655.8 1599.1L1666.1 1574.4L1674.3 1562.0L1682.5 1553.8L1692.8 1553.8L1701.0 1543.5L1710.3 1532.2L1719.6 1551.7L1727.8 1570.3L1737.1 1566.1L1745.3 1557.9L1753.5 1545.6L1762.8 1551.7L1772.1 1545.6L1781.3 1536.3L1789.5 1557.9L1797.8 1580.5L1807.0 1572.3L1816.3 1564.1L1825.6 1555.8L1834.8 1547.6L1844.1 1538.4" fill="none" stroke="#4bbeb4" stroke-width="1.8" stroke-linejoin="round" clip-path="url(#cp9)"/>
<path d="M1601.2 1599.1L1608.4 1607.3L1618.7 1590.8L1633.1 1574.4L1645.5 1569.2L1653.7 1570.3L1664.0 1576.4L1674.3 1575.4L1684.6 1567.2L1694.9 1584.7L1703.1 1576.4L1711.3 1558.9L1719.6 1562.0L1727.8 1574.4L1736.0 1588.8L1745.3 1578.5L1753.5 1564.1L1762.8 1560.0L1772.1 1551.7L1781.3 1537.3L1789.5 1533.2L1797.8 1568.2L1807.0 1574.4L1816.3 1566.1L1825.6 1560.0L1834.8 1545.6L1844.1 1553.8" fill="none" stroke="#3c6eb4" stroke-width="1.8" stroke-linejoin="round" clip-path="url(#cp9)"/>
<path d="M1601.2 1615.5L1610.5 1627.9L1620.8 1586.7L1633.1 1560.0L1645.5 1562.0L1655.8 1574.4L1664.0 1599.1L1674.3 1617.6L1684.6 1625.8L1694.9 1631.0L1707.2 1629.9L1719.6 1631.6L1727.8 1619.6L1736.0 1609.4L1742.2 1605.2L1750.4 1619.6L1760.7 1628.9L1772.1 1625.8L1781.3 1629.9L1789.5 1635.1L1797.8 1634.0L1810.1 1631.0L1826.6 1629.9L1834.8 1625.8L1844.1 1619.6" fill="none" stroke="#3246a0" stroke-width="1.8" stroke-linejoin="round" clip-path="url(#cp9)"/>
<path d="M1601.2 1586.7L1609.5 1543.5L1616.7 1557.9L1624.9 1582.6L1633.1 1566.1L1641.4 1590.8L1649.6 1574.4L1655.8 1615.5L1664.0 1613.5L1674.3 1599.1L1684.6 1608.3L1694.9 1627.9L1703.1 1599.1L1711.3 1575.4L1719.6 1568.2L1727.8 1597.0L1736.0 1615.5L1745.3 1636.1L1753.5 1597.0L1758.7 1579.5L1764.8 1603.2L1773.1 1623.8L1781.3 1605.2L1789.5 1594.9L1797.8 1623.8L1806.0 1613.5L1814.2 1625.8L1822.5 1617.6L1828.6 1608.3L1836.9 1621.7L1844.1 1591.9" fill="none" stroke="#b44b96" stroke-width="1.8" stroke-linejoin="round" clip-path="url(#cp9)"/>
<path d="M1601.2 1597.0L1610.5 1613.5L1620.8 1594.9L1633.1 1582.6L1641.4 1588.8L1649.6 1574.4L1657.8 1564.1L1666.1 1578.5L1674.3 1588.8L1682.5 1599.1L1692.8 1597.0L1703.1 1590.8L1711.3 1580.5L1719.6 1580.5L1727.8 1603.2L1736.0 1607.3L1745.3 1586.7L1753.5 1566.1L1762.8 1562.0L1772.1 1555.8L1781.3 1547.6L1789.5 1578.5L1797.8 1590.8L1807.0 1580.5L1816.3 1578.5L1825.6 1553.8L1834.8 1551.7L1844.1 1555.8" fill="none" stroke="#f082af" stroke-width="1.8" stroke-linejoin="round" clip-path="url(#cp9)"/>
<path d="M1601.2 1619.6L1610.5 1621.7L1618.7 1627.9L1627.0 1611.4L1633.1 1588.8L1645.5 1589.8L1661.9 1589.8L1670.2 1588.8L1680.5 1603.2L1690.8 1597.0L1701.0 1590.8L1711.3 1574.4L1719.6 1551.7L1727.8 1586.7L1736.0 1570.3L1744.3 1562.0L1750.4 1582.6L1758.7 1588.8L1766.9 1576.4L1775.1 1562.0L1782.3 1561.0L1789.5 1586.7L1797.8 1611.4L1806.0 1603.2L1814.2 1624.8L1822.5 1613.5L1828.6 1592.9L1836.9 1590.8L1844.1 1580.5" fill="none" stroke="#239650" stroke-width="1.8" stroke-linejoin="round" clip-path="url(#cp9)"/>
<rect x="1588.9" y="1490.4" width="267.5" height="145.3" fill="none" stroke="#444" stroke-width="1.3"/>
<text transform="translate(1724.7 1513.7)" font-size="27.5" text-anchor="middle">120h</text>
<text transform="translate(1583.3 1505.6)" font-size="15.6" text-anchor="end">1.2</text>
<text transform="translate(1583.3 1527.8)" font-size="15.6" text-anchor="end">1.0</text>
<text transform="translate(1583.3 1549.9)" font-size="15.6" text-anchor="end">0.8</text>
<text transform="translate(1583.3 1572.1)" font-size="15.6" text-anchor="end">0.6</text>
<text transform="translate(1583.3 1594.3)" font-size="15.6" text-anchor="end">0.4</text>
<text transform="translate(1583.3 1616.4)" font-size="15.6" text-anchor="end">0.2</text>
<text transform="translate(1583.3 1638.6)" font-size="15.6" text-anchor="end">0.0</text>
<text transform="translate(1616.3 1652.0)" font-size="15.6" text-anchor="middle">0</text>
<text transform="translate(1662.6 1652.0)" font-size="15.6" text-anchor="middle">200</text>
<text transform="translate(1717.9 1652.0)" font-size="15.6" text-anchor="middle">400</text>
<text transform="translate(1772.7 1652.0)" font-size="15.6" text-anchor="middle">600</text>
<text transform="translate(1828.2 1652.0)" font-size="15.6" text-anchor="middle">800</text>
<text transform="translate(1726.5 1672.5)" font-size="16.3" text-anchor="middle">Distance to the <tspan font-style="italic">MESP2</tspan> peak (μm)</text>
<text transform="translate(1555.5 1475.7) rotate(-90)" font-size="16.3" text-anchor="middle">Normalized expression level (a.u.)</text>
<line x1="1567.7" y1="1286.8" x2="1591.0" y2="1286.8" stroke="#f082af" stroke-width="3.1" stroke-linecap="round"/>
<text transform="translate(1595.0 1292.6)" font-size="19.5" font-style="italic">RSPO3</text>
<line x1="1567.7" y1="1304.9" x2="1591.0" y2="1304.9" stroke="#b44b96" stroke-width="3.1" stroke-linecap="round"/>
<text transform="translate(1595.0 1310.7)" font-size="19.5" font-style="italic">RSPO4</text>
<line x1="1669.2" y1="1286.8" x2="1692.8" y2="1286.8" stroke="#3c6eb4" stroke-width="3.1" stroke-linecap="round"/>
<text transform="translate(1696.5 1292.6)" font-size="19.5" font-style="italic">SFRP1</text>
<line x1="1669.2" y1="1304.9" x2="1692.8" y2="1304.9" stroke="#4bbeb4" stroke-width="3.1" stroke-linecap="round"/>
<text transform="translate(1696.5 1310.7)" font-size="19.5" font-style="italic">SFRP2</text>
<line x1="1766.9" y1="1286.8" x2="1790.6" y2="1286.8" stroke="#239650" stroke-width="3.1" stroke-linecap="round"/>
<text transform="translate(1793.2 1292.6)" font-size="19.5" font-style="italic">DACT2</text>
<line x1="1766.9" y1="1304.9" x2="1790.6" y2="1304.9" stroke="#3246a0" stroke-width="3.1" stroke-linecap="round"/>
<text transform="translate(1793.2 1310.7)" font-size="19.5" font-style="italic">DKK1</text>
<path d="M857.9 1822.7L866.1 1836.6L876.4 1864.3L886.7 1894.0L895.0 1905.1L903.2 1905.6L911.4 1893.7L919.7 1905.6L929.9 1894.5L938.2 1883.4L946.4 1879.4L954.6 1886.5L964.9 1907.5L973.2 1909.1L982.4 1908.0L991.7 1913.5L999.9 1911.1L1008.2 1920.0L1017.4 1879.4L1026.7 1915.3L1037.0 1915.4L1045.2 1909.4L1053.4 1915.4L1063.7 1906.1L1074.0 1909.2L1082.2 1910.6L1090.5 1923.9L1098.7 1923.1L1098.7 1947.1L1090.5 1954.2L1082.2 1941.7L1074.0 1941.3L1063.7 1948.8L1053.4 1945.1L1045.2 1949.3L1037.0 1942.3L1026.7 1946.0L1017.4 1927.3L1008.2 1939.0L999.9 1936.4L991.7 1944.4L982.4 1940.3L973.2 1947.1L964.9 1929.7L954.6 1930.2L946.4 1922.0L938.2 1927.3L929.9 1946.2L919.7 1930.3L911.4 1941.1L903.2 1926.5L895.0 1933.4L886.7 1928.6L876.4 1909.2L866.1 1876.7L857.9 1856.2Z" fill="#3cafe1" fill-opacity="0.2" clip-path="url(#cp10)"/>
<path d="M857.9 1883.8L866.1 1841.8L874.4 1820.3L882.6 1829.2L892.9 1833.3L901.1 1833.6L907.3 1861.9L913.5 1896.3L919.7 1901.0L929.9 1908.9L938.2 1925.6L946.4 1923.0L954.6 1921.6L964.9 1929.4L973.2 1941.6L982.4 1913.9L991.7 1933.9L999.9 1902.9L1009.2 1920.5L1018.4 1917.2L1026.7 1938.9L1037.0 1927.4L1045.2 1944.7L1053.4 1941.6L1063.7 1930.7L1074.0 1939.6L1082.2 1938.8L1089.4 1918.5L1098.7 1943.7L1098.7 1962.5L1089.4 1954.5L1082.2 1959.0L1074.0 1955.0L1063.7 1952.2L1053.4 1958.8L1045.2 1957.5L1037.0 1951.6L1026.7 1962.5L1018.4 1943.6L1009.2 1957.1L999.9 1947.8L991.7 1952.4L982.4 1951.2L973.2 1955.2L964.9 1954.4L954.6 1940.0L946.4 1945.2L938.2 1953.5L929.9 1942.1L919.7 1950.0L913.5 1934.9L907.3 1913.1L901.1 1902.1L892.9 1881.8L882.6 1884.5L874.4 1872.9L866.1 1898.3L857.9 1923.5Z" fill="#e16432" fill-opacity="0.2" clip-path="url(#cp10)"/>
<path d="M857.9 1811.2L866.1 1819.6L876.4 1832.7L886.7 1866.1L897.0 1892.9L905.3 1915.2L911.4 1927.1L919.7 1935.3L929.9 1938.5L938.2 1933.6L946.4 1932.3L954.6 1923.0L964.9 1936.4L973.2 1940.1L982.4 1940.3L991.7 1948.2L999.9 1949.3L1008.2 1948.0L1017.4 1946.3L1026.7 1952.2L1037.0 1949.0L1045.2 1944.8L1053.4 1939.6L1063.7 1946.0L1074.0 1952.5L1082.2 1954.5L1090.5 1948.9L1098.7 1954.5L1098.7 1962.5L1090.5 1962.5L1082.2 1962.5L1074.0 1962.5L1063.7 1962.5L1053.4 1962.5L1045.2 1958.0L1037.0 1961.7L1026.7 1962.5L1017.4 1961.8L1008.2 1961.1L999.9 1958.7L991.7 1962.5L982.4 1962.5L973.2 1954.6L964.9 1954.1L954.6 1946.1L946.4 1957.2L938.2 1951.2L929.9 1950.7L919.7 1950.3L911.4 1945.0L905.3 1933.0L897.0 1931.9L886.7 1908.1L876.4 1898.1L866.1 1885.3L857.9 1851.5Z" fill="#3caa46" fill-opacity="0.2" clip-path="url(#cp10)"/>
<path d="M857.9 1809.6L866.1 1835.3L876.4 1858.9L886.7 1894.6L895.0 1912.0L903.2 1932.3L911.4 1941.3L919.7 1937.8L929.9 1942.4L938.2 1945.2L946.4 1951.6L954.6 1949.4L964.9 1948.1L973.2 1947.7L982.4 1942.3L991.7 1952.8L999.9 1950.0L1016.4 1951.3L1037.0 1955.7L1057.5 1955.3L1078.1 1950.4L1090.5 1952.7L1098.7 1952.3L1098.7 1962.5L1090.5 1962.5L1078.1 1962.5L1057.5 1962.5L1037.0 1962.5L1016.4 1962.5L999.9 1962.5L991.7 1962.5L982.4 1962.5L973.2 1962.5L964.9 1962.5L954.6 1960.5L946.4 1962.4L938.2 1962.5L929.9 1962.5L919.7 1960.6L911.4 1961.1L903.2 1948.4L895.0 1934.0L886.7 1931.7L876.4 1921.3L866.1 1900.4L857.9 1878.4Z" fill="#3246aa" fill-opacity="0.2" clip-path="url(#cp10)"/>
<path d="M857.9 1827.9L864.1 1838.0L872.3 1883.0L880.6 1897.2L886.7 1935.1L892.9 1952.4L899.1 1952.5L913.5 1955.7L921.7 1952.4L929.9 1944.9L938.2 1956.4L954.6 1954.0L964.9 1956.8L1098.7 1957.7L1098.7 1962.5L964.9 1962.5L954.6 1962.5L938.2 1962.5L929.9 1961.4L921.7 1962.5L913.5 1962.5L899.1 1962.5L892.9 1960.5L886.7 1956.7L880.6 1944.6L872.3 1929.8L864.1 1904.6L857.9 1856.2Z" fill="#dc3232" fill-opacity="0.2" clip-path="url(#cp10)"/>
<path d="M857.9 1821.9L866.1 1840.4L876.4 1871.5L884.7 1895.9L892.9 1919.5L901.1 1931.4L907.3 1923.3L911.4 1911.8L917.6 1907.8L923.8 1932.9L932.0 1940.6L942.3 1945.5L954.6 1942.7L964.9 1941.1L975.2 1946.0L995.8 1945.6L1017.4 1951.0L1026.7 1891.7L1033.9 1920.7L1041.1 1944.1L1053.4 1950.3L1078.1 1948.3L1098.7 1951.4L1098.7 1962.5L1078.1 1962.5L1053.4 1962.5L1041.1 1962.5L1033.9 1949.3L1026.7 1938.0L1017.4 1962.5L995.8 1962.5L975.2 1962.5L964.9 1961.9L954.6 1957.2L942.3 1961.0L932.0 1962.5L923.8 1954.8L917.6 1945.4L911.4 1940.2L907.3 1951.1L901.1 1950.3L892.9 1941.0L884.7 1936.4L876.4 1928.1L866.1 1901.0L857.9 1864.4Z" fill="#a050aa" fill-opacity="0.2" clip-path="url(#cp10)"/>
<path d="M857.9 1806.8L866.1 1854.8L876.4 1885.0L886.7 1912.6L895.0 1923.9L905.3 1947.4L917.6 1947.8L934.1 1942.9L946.4 1944.2L964.9 1938.4L971.1 1906.0L982.4 1915.7L991.7 1941.0L999.9 1949.4L1016.4 1947.3L1037.0 1948.7L1057.5 1951.1L1063.7 1931.6L1078.1 1936.5L1090.5 1933.8L1098.7 1947.9L1098.7 1959.5L1090.5 1962.5L1078.1 1961.1L1063.7 1956.2L1057.5 1961.7L1037.0 1962.5L1016.4 1960.6L999.9 1961.6L991.7 1958.7L982.4 1941.6L971.1 1951.7L964.9 1958.1L946.4 1962.5L934.1 1962.5L917.6 1961.6L905.3 1962.5L895.0 1958.8L886.7 1943.5L876.4 1914.1L866.1 1890.7L857.9 1853.7Z" fill="#eb6e96" fill-opacity="0.2" clip-path="url(#cp10)"/>
<path d="M857.9 1826.2L866.1 1844.7L874.4 1867.4L882.6 1886.0L890.8 1928.0L897.0 1937.7L905.3 1940.9L913.5 1939.2L929.9 1955.3L954.6 1950.8L975.2 1955.2L1016.4 1955.4L1098.7 1953.5L1098.7 1962.5L1016.4 1962.5L975.2 1962.5L954.6 1962.5L929.9 1962.5L913.5 1959.6L905.3 1952.1L897.0 1961.2L890.8 1956.7L882.6 1928.7L874.4 1923.8L866.1 1876.2L857.9 1868.8Z" fill="#f08caa" fill-opacity="0.2" clip-path="url(#cp10)"/>
<path d="M857.9 1841.7L866.1 1864.4L876.4 1889.1L886.7 1905.5L895.0 1914.8L903.2 1915.8L911.4 1912.7L919.7 1916.8L929.9 1916.8L938.2 1907.6L946.4 1911.7L954.6 1914.8L964.9 1918.9L973.2 1923.0L982.4 1919.9L991.7 1931.3L999.9 1928.2L1008.2 1928.2L1017.4 1906.6L1026.7 1928.2L1037.0 1930.2L1045.2 1930.2L1053.4 1927.1L1063.7 1924.0L1074.0 1929.2L1082.2 1933.3L1090.5 1936.4L1098.7 1932.3" fill="none" stroke="#3cafe1" stroke-width="1.8" stroke-linejoin="round" clip-path="url(#cp10)"/>
<path d="M857.9 1895.2L866.1 1872.6L874.4 1854.1L882.6 1858.2L892.9 1859.2L901.1 1866.4L907.3 1884.9L913.5 1907.6L919.7 1922.0L929.9 1930.2L938.2 1937.4L946.4 1930.2L954.6 1931.3L964.9 1936.4L973.2 1947.7L982.4 1928.2L991.7 1940.5L999.9 1922.0L1009.2 1938.5L1018.4 1929.2L1026.7 1947.7L1037.0 1944.6L1045.2 1950.8L1053.4 1948.7L1063.7 1943.6L1074.0 1944.6L1082.2 1947.7L1089.4 1938.5L1098.7 1952.9" fill="none" stroke="#e16432" stroke-width="1.8" stroke-linejoin="round" clip-path="url(#cp10)"/>
<path d="M857.9 1839.7L866.1 1854.1L876.4 1866.4L886.7 1887.0L897.0 1905.5L905.3 1924.0L911.4 1936.4L919.7 1944.6L929.9 1943.6L938.2 1940.5L946.4 1938.5L954.6 1938.0L964.9 1944.6L973.2 1948.7L982.4 1952.9L991.7 1955.9L999.9 1953.9L1008.2 1954.9L1017.4 1957.0L1026.7 1955.9L1037.0 1957.0L1045.2 1953.9L1053.4 1949.8L1063.7 1957.0L1074.0 1958.0L1082.2 1959.0L1090.5 1957.0L1098.7 1960.1" fill="none" stroke="#3caa46" stroke-width="1.8" stroke-linejoin="round" clip-path="url(#cp10)"/>
<path d="M857.9 1841.7L866.1 1868.5L876.4 1891.1L886.7 1909.6L895.0 1926.1L903.2 1938.5L911.4 1948.7L919.7 1951.8L929.9 1954.9L938.2 1957.0L946.4 1957.0L954.6 1954.9L964.9 1957.0L973.2 1958.0L982.4 1952.9L991.7 1957.0L999.9 1960.1L1016.4 1960.1L1037.0 1960.1L1057.5 1960.7L1078.1 1960.7L1090.5 1959.0L1098.7 1960.7" fill="none" stroke="#3246aa" stroke-width="1.8" stroke-linejoin="round" clip-path="url(#cp10)"/>
<path d="M857.9 1841.7L864.1 1872.6L872.3 1897.3L880.6 1924.0L886.7 1944.6L892.9 1957.0L899.1 1962.1L913.5 1962.1L921.7 1959.0L929.9 1955.9L938.2 1961.1L954.6 1959.0L964.9 1961.5L1098.7 1961.5" fill="none" stroke="#dc3232" stroke-width="1.8" stroke-linejoin="round" clip-path="url(#cp10)"/>
<path d="M857.9 1841.7L866.1 1866.4L876.4 1893.2L884.7 1915.8L892.9 1934.3L901.1 1942.6L907.3 1930.2L911.4 1923.0L917.6 1928.2L923.8 1942.6L932.0 1950.8L942.3 1950.8L954.6 1949.8L964.9 1952.9L975.2 1954.9L995.8 1957.0L1017.4 1959.0L1026.7 1912.7L1033.9 1934.3L1041.1 1952.9L1053.4 1959.0L1078.1 1959.0L1098.7 1959.0" fill="none" stroke="#a050aa" stroke-width="1.8" stroke-linejoin="round" clip-path="url(#cp10)"/>
<path d="M857.9 1839.7L866.1 1868.5L876.4 1897.3L886.7 1922.0L895.0 1940.5L905.3 1952.9L917.6 1957.0L934.1 1954.9L946.4 1950.8L964.9 1947.7L971.1 1930.2L982.4 1926.1L991.7 1950.8L999.9 1954.9L1016.4 1957.0L1037.0 1957.0L1057.5 1954.9L1063.7 1944.6L1078.1 1942.6L1090.5 1947.7L1098.7 1952.9" fill="none" stroke="#eb6e96" stroke-width="1.8" stroke-linejoin="round" clip-path="url(#cp10)"/>
<path d="M857.9 1837.6L866.1 1862.3L874.4 1889.1L882.6 1913.8L890.8 1936.4L897.0 1948.7L905.3 1946.7L913.5 1950.8L929.9 1959.0L954.6 1959.0L975.2 1959.0L1016.4 1959.0L1098.7 1960.1" fill="none" stroke="#f08caa" stroke-width="1.8" stroke-linejoin="round" clip-path="url(#cp10)"/>
<rect x="846.0" y="1820.7" width="264.0" height="141.8" fill="none" stroke="#444" stroke-width="1.3"/>
<text transform="translate(976.8 1846.9)" font-size="27.5" text-anchor="middle">96h</text>
<text transform="translate(839.4 1840.1)" font-size="15.6" text-anchor="end">1.0</text>
<text transform="translate(839.4 1865.2)" font-size="15.6" text-anchor="end">0.8</text>
<text transform="translate(839.4 1890.3)" font-size="15.6" text-anchor="end">0.6</text>
<text transform="translate(839.4 1915.4)" font-size="15.6" text-anchor="end">0.4</text>
<text transform="translate(839.4 1940.5)" font-size="15.6" text-anchor="end">0.2</text>
<text transform="translate(839.4 1965.6)" font-size="15.6" text-anchor="end">0.0</text>
<text transform="translate(865.1 1978.8)" font-size="15.6" text-anchor="middle">-100</text>
<text transform="translate(891.9 1978.8)" font-size="15.6" text-anchor="middle">0</text>
<text transform="translate(914.5 1978.8)" font-size="15.6" text-anchor="middle">100</text>
<text transform="translate(947.4 1978.8)" font-size="15.6" text-anchor="middle">200</text>
<text transform="translate(980.4 1978.8)" font-size="15.6" text-anchor="middle">300</text>
<text transform="translate(1013.9 1978.8)" font-size="15.6" text-anchor="middle">400</text>
<text transform="translate(1046.2 1978.8)" font-size="15.6" text-anchor="middle">500</text>
<text transform="translate(1079.8 1978.8)" font-size="15.6" text-anchor="middle">600</text>
<path d="M857.9 1997.7L866.1 2040.1L874.4 2063.2L880.6 2048.2L888.8 2040.4L897.0 2063.0L905.3 2077.7L913.5 2075.3L921.7 2070.0L929.9 2047.9L936.1 2041.1L944.4 2049.2L950.5 2056.6L958.8 2036.0L967.0 2038.3L973.2 2033.1L981.4 2027.0L987.6 2071.4L993.7 2056.0L999.9 2067.5L1006.1 2043.9L1012.3 2040.5L1020.5 2076.4L1028.7 2082.9L1037.0 2080.0L1045.2 2065.2L1052.4 2089.5L1059.6 2095.4L1067.8 2090.6L1076.1 2097.8L1084.3 2078.4L1090.5 2074.5L1098.7 2094.1L1098.7 2117.2L1090.5 2106.0L1084.3 2122.3L1076.1 2130.6L1067.8 2123.9L1059.6 2116.5L1052.4 2125.8L1045.2 2124.9L1037.0 2118.5L1028.7 2122.0L1020.5 2124.2L1012.3 2098.9L1006.1 2109.9L999.9 2121.0L993.7 2112.2L987.6 2098.1L981.4 2101.2L973.2 2096.2L967.0 2097.6L958.8 2095.6L950.5 2104.5L944.4 2115.7L936.1 2082.8L929.9 2114.9L921.7 2100.6L913.5 2104.2L905.3 2122.0L897.0 2109.8L888.8 2100.7L880.6 2102.0L874.4 2097.0L866.1 2092.9L857.9 2062.2Z" fill="#3cafe1" fill-opacity="0.2" clip-path="url(#cp11)"/>
<path d="M857.9 2039.6L864.1 1992.8L872.3 2021.2L880.6 2023.0L888.8 2016.3L897.0 2062.2L905.3 2064.5L913.5 2048.6L921.7 2078.3L934.1 2084.5L942.3 2071.5L950.5 2082.3L960.8 2096.1L971.1 2087.2L981.4 2088.3L987.6 2067.2L997.9 2045.6L1006.1 2094.0L1013.3 2102.7L1020.5 2088.2L1028.7 2071.5L1037.0 2083.5L1045.2 2088.9L1055.5 2112.9L1065.8 2115.8L1076.1 2118.6L1084.3 2121.1L1098.7 2121.8L1098.7 2131.7L1084.3 2131.7L1076.1 2131.7L1065.8 2131.7L1055.5 2131.7L1045.2 2117.7L1037.0 2117.6L1028.7 2108.6L1020.5 2121.7L1013.3 2129.5L1006.1 2113.1L997.9 2096.4L987.6 2117.8L981.4 2127.3L971.1 2118.3L960.8 2114.5L950.5 2116.1L942.3 2111.8L934.1 2115.8L921.7 2112.3L913.5 2102.7L905.3 2095.0L897.0 2113.8L888.8 2095.6L880.6 2067.0L872.3 2081.7L864.1 2058.0L857.9 2087.8Z" fill="#e16432" fill-opacity="0.2" clip-path="url(#cp11)"/>
<path d="M857.9 1989.6L865.1 2036.1L872.3 2083.7L880.6 2085.4L888.8 2121.4L897.0 2124.8L929.9 2126.2L934.1 2090.8L942.3 2082.5L950.5 2122.9L975.2 2125.1L995.8 2124.4L1013.3 2121.1L1020.5 2080.0L1028.7 2105.1L1037.0 2106.2L1044.6 2035.8L1051.4 2085.2L1057.5 2113.3L1065.8 2123.2L1078.1 2122.9L1098.7 2124.5L1098.7 2131.7L1078.1 2131.7L1065.8 2131.7L1057.5 2131.7L1051.4 2128.8L1044.6 2081.7L1037.0 2131.7L1028.7 2128.7L1020.5 2114.3L1013.3 2131.7L995.8 2131.7L975.2 2131.7L950.5 2131.7L942.3 2125.8L934.1 2115.7L929.9 2131.7L897.0 2131.7L888.8 2131.7L880.6 2125.0L872.3 2112.0L865.1 2084.7L857.9 2035.7Z" fill="#dc3232" fill-opacity="0.2" clip-path="url(#cp11)"/>
<path d="M857.9 1987.5L866.1 1999.1L874.4 2033.0L880.6 2030.9L888.8 2040.4L897.0 2046.2L905.3 2054.3L913.5 2040.1L921.7 2043.6L929.9 2040.8L938.2 2062.8L946.4 2070.4L954.6 2071.1L962.9 2094.2L971.1 2088.8L979.3 2082.0L987.6 2075.7L995.8 2068.8L1004.0 2078.2L1013.3 2099.6L1020.5 2093.8L1028.7 2103.1L1037.0 2105.3L1047.3 2102.0L1057.5 2114.8L1065.8 2118.9L1076.1 2102.7L1084.3 2100.8L1098.7 2114.0L1098.7 2131.7L1084.3 2131.7L1076.1 2131.7L1065.8 2131.7L1057.5 2131.7L1047.3 2129.2L1037.0 2131.7L1028.7 2127.5L1020.5 2131.7L1013.3 2124.8L1004.0 2124.4L995.8 2116.6L987.6 2108.7L979.3 2123.0L971.1 2118.8L962.9 2125.8L954.6 2112.7L946.4 2114.6L938.2 2106.6L929.9 2107.8L921.7 2113.8L913.5 2110.2L905.3 2106.9L897.0 2101.9L888.8 2109.5L880.6 2090.6L874.4 2093.9L866.1 2076.5L857.9 2057.9Z" fill="#e13c6e" fill-opacity="0.2" clip-path="url(#cp11)"/>
<path d="M857.9 1986.8L865.1 2018.8L874.4 2029.0L880.6 2067.9L888.8 2024.1L897.0 2071.9L905.3 2031.5L913.5 2026.9L921.7 2031.5L929.9 2049.7L938.2 2071.9L946.4 2079.0L954.6 2089.4L962.9 2097.5L971.1 2108.7L981.4 2110.8L995.8 2105.7L1006.1 2105.2L1016.4 2113.5L1026.7 2111.9L1037.0 2108.6L1047.3 2108.2L1057.5 2116.9L1065.8 2113.8L1076.1 2117.1L1082.2 2051.5L1088.4 2119.1L1094.6 2075.1L1098.7 2047.1L1098.7 2093.8L1094.6 2107.3L1088.4 2131.7L1082.2 2122.5L1076.1 2131.7L1065.8 2131.7L1057.5 2131.7L1047.3 2131.7L1037.0 2131.7L1026.7 2124.8L1016.4 2131.7L1006.1 2125.2L995.8 2127.1L981.4 2131.4L971.1 2126.1L962.9 2126.0L954.6 2115.8L946.4 2112.5L938.2 2107.4L929.9 2110.1L921.7 2110.9L913.5 2085.9L905.3 2113.5L897.0 2100.8L888.8 2099.4L880.6 2110.3L874.4 2114.5L865.1 2088.0L857.9 2037.6Z" fill="#a050aa" fill-opacity="0.2" clip-path="url(#cp11)"/>
<path d="M857.9 1976.0L865.1 2020.0L873.4 2035.7L881.6 2029.3L888.8 2080.2L897.0 2105.3L905.3 2095.6L911.4 2102.6L921.7 2109.7L929.9 2111.1L936.1 2100.1L944.4 2110.0L950.5 2123.2L960.8 2110.4L973.2 2101.6L981.4 2117.5L991.7 2119.1L1004.0 2111.3L1013.3 2113.6L1024.6 2118.7L1037.0 2122.3L1047.3 2124.1L1057.5 2122.6L1065.8 2116.1L1078.1 2117.4L1088.4 2113.8L1098.7 2106.3L1098.7 2131.7L1088.4 2131.7L1078.1 2131.7L1065.8 2131.7L1057.5 2131.7L1047.3 2131.7L1037.0 2131.7L1024.6 2131.7L1013.3 2130.9L1004.0 2131.7L991.7 2131.7L981.4 2130.6L973.2 2124.2L960.8 2131.7L950.5 2131.7L944.4 2131.7L936.1 2131.4L929.9 2131.7L921.7 2127.5L911.4 2130.5L905.3 2128.8L897.0 2128.4L888.8 2130.3L881.6 2114.5L873.4 2106.4L865.1 2079.3L857.9 2049.9Z" fill="#3246aa" fill-opacity="0.2" clip-path="url(#cp11)"/>
<path d="M857.9 2017.3L866.1 2090.2L874.4 2107.6L880.6 2076.6L888.8 2047.3L897.0 2104.8L905.3 2119.0L913.5 2116.8L929.9 2126.9L1098.7 2124.6L1098.7 2131.7L929.9 2131.7L913.5 2131.7L905.3 2131.7L897.0 2124.6L888.8 2103.7L880.6 2112.1L874.4 2127.7L866.1 2116.9L857.9 2095.2Z" fill="#f08caa" fill-opacity="0.2" clip-path="url(#cp11)"/>
<path d="M857.9 2025.8L865.1 1994.2L872.3 2026.8L880.6 2048.0L888.8 2058.7L897.0 2092.3L905.3 2087.3L913.5 2104.4L921.7 2111.2L934.1 2103.1L942.3 2090.6L952.6 2109.5L962.9 2106.6L973.2 2118.9L985.5 2122.0L1004.0 2118.1L1016.4 2121.6L1098.7 2120.0L1098.7 2131.7L1016.4 2131.7L1004.0 2131.7L985.5 2131.7L973.2 2131.7L962.9 2128.1L952.6 2131.7L942.3 2122.5L934.1 2129.9L921.7 2131.7L913.5 2128.8L905.3 2123.1L897.0 2126.2L888.8 2107.2L880.6 2097.4L872.3 2102.3L865.1 2066.7L857.9 2079.7Z" fill="#eb8232" fill-opacity="0.2" clip-path="url(#cp11)"/>
<path d="M857.9 2017.9L866.1 2057.0L874.4 2077.6L880.6 2085.8L888.8 2073.5L897.0 2085.8L905.3 2092.0L913.5 2087.9L921.7 2081.7L929.9 2073.5L936.1 2066.3L944.4 2070.4L950.5 2071.4L958.8 2061.1L967.0 2062.2L973.2 2062.2L981.4 2069.4L987.6 2085.8L993.7 2089.9L999.9 2083.8L1006.1 2074.5L1012.3 2078.6L1020.5 2094.1L1028.7 2095.1L1037.0 2092.0L1045.2 2092.0L1052.4 2110.5L1059.6 2106.4L1067.8 2107.4L1076.1 2106.4L1084.3 2098.2L1090.5 2089.9L1098.7 2102.3" fill="none" stroke="#3cafe1" stroke-width="1.8" stroke-linejoin="round" clip-path="url(#cp11)"/>
<path d="M857.9 2061.1L864.1 2017.9L872.3 2063.2L880.6 2048.8L888.8 2050.8L897.0 2079.7L905.3 2083.8L913.5 2081.7L921.7 2092.0L934.1 2098.2L942.3 2092.0L950.5 2102.3L960.8 2105.4L971.1 2098.2L981.4 2103.3L987.6 2089.9L997.9 2083.8L1006.1 2102.3L1013.3 2114.6L1020.5 2108.5L1028.7 2100.2L1037.0 2106.4L1045.2 2110.5L1055.5 2127.0L1065.8 2129.0L1076.1 2124.9L1084.3 2129.0L1098.7 2130.7" fill="none" stroke="#e16432" stroke-width="1.8" stroke-linejoin="round" clip-path="url(#cp11)"/>
<path d="M857.9 2017.9L865.1 2052.9L872.3 2101.3L880.6 2102.3L888.8 2131.1L897.0 2131.5L929.9 2131.5L934.1 2106.4L942.3 2104.4L950.5 2131.5L975.2 2131.5L995.8 2129.0L1013.3 2131.1L1020.5 2102.3L1028.7 2114.6L1037.0 2120.8L1044.6 2048.8L1051.4 2108.5L1057.5 2127.0L1065.8 2129.0L1078.1 2131.1L1098.7 2131.1" fill="none" stroke="#dc3232" stroke-width="1.8" stroke-linejoin="round" clip-path="url(#cp11)"/>
<path d="M857.9 2028.2L866.1 2032.3L874.4 2071.4L880.6 2071.4L888.8 2065.3L897.0 2081.7L905.3 2075.5L913.5 2077.6L921.7 2081.7L929.9 2077.6L938.2 2083.8L946.4 2092.0L954.6 2098.2L962.9 2103.3L971.1 2102.3L979.3 2094.1L987.6 2092.0L995.8 2096.1L1004.0 2094.1L1013.3 2112.6L1020.5 2114.6L1028.7 2118.8L1037.0 2120.8L1047.3 2118.8L1057.5 2127.0L1065.8 2127.0L1076.1 2118.8L1084.3 2118.8L1098.7 2120.8" fill="none" stroke="#e13c6e" stroke-width="1.8" stroke-linejoin="round" clip-path="url(#cp11)"/>
<path d="M857.9 2022.0L865.1 2046.7L874.4 2071.4L880.6 2081.7L888.8 2065.3L897.0 2089.9L905.3 2073.5L913.5 2061.1L921.7 2071.4L929.9 2081.7L938.2 2089.9L946.4 2096.1L954.6 2106.4L962.9 2114.6L971.1 2116.7L981.4 2120.8L995.8 2120.8L1006.1 2114.6L1016.4 2120.8L1026.7 2118.8L1037.0 2120.8L1047.3 2122.9L1057.5 2124.9L1065.8 2126.0L1076.1 2127.0L1082.2 2087.9L1088.4 2124.9L1094.6 2094.1L1098.7 2080.7" fill="none" stroke="#a050aa" stroke-width="1.8" stroke-linejoin="round" clip-path="url(#cp11)"/>
<path d="M857.9 2017.9L865.1 2052.9L873.4 2076.6L881.6 2071.4L888.8 2102.3L897.0 2117.7L905.3 2114.6L911.4 2113.6L921.7 2120.8L929.9 2124.9L936.1 2118.8L944.4 2124.9L950.5 2129.0L960.8 2123.9L973.2 2116.7L981.4 2126.0L991.7 2127.0L1004.0 2120.8L1013.3 2124.9L1024.6 2129.0L1037.0 2128.0L1047.3 2129.0L1057.5 2130.1L1065.8 2129.0L1078.1 2130.1L1088.4 2124.9L1098.7 2122.9" fill="none" stroke="#3246aa" stroke-width="1.8" stroke-linejoin="round" clip-path="url(#cp11)"/>
<path d="M857.9 2061.1L866.1 2106.4L874.4 2116.7L880.6 2094.1L888.8 2081.7L897.0 2118.8L905.3 2124.9L913.5 2129.0L929.9 2130.7L1098.7 2131.1" fill="none" stroke="#f08caa" stroke-width="1.8" stroke-linejoin="round" clip-path="url(#cp11)"/>
<path d="M857.9 2057.0L865.1 2028.2L872.3 2065.3L880.6 2077.6L888.8 2089.9L897.0 2112.6L905.3 2106.4L913.5 2118.8L921.7 2122.9L934.1 2114.6L942.3 2106.4L952.6 2119.8L962.9 2120.8L973.2 2124.9L985.5 2127.0L1004.0 2129.0L1016.4 2130.7L1098.7 2131.1" fill="none" stroke="#eb8232" stroke-width="1.8" stroke-linejoin="round" clip-path="url(#cp11)"/>
<rect x="846.0" y="1987.0" width="264.4" height="144.7" fill="none" stroke="#444" stroke-width="1.3"/>
<text transform="translate(976.8 2014.2)" font-size="27.5" text-anchor="middle">120h</text>
<text transform="translate(839.4 2002.5)" font-size="15.6" text-anchor="end">1.2</text>
<text transform="translate(839.4 2024.6)" font-size="15.6" text-anchor="end">1.0</text>
<text transform="translate(839.4 2046.7)" font-size="15.6" text-anchor="end">0.8</text>
<text transform="translate(839.4 2068.8)" font-size="15.6" text-anchor="end">0.6</text>
<text transform="translate(839.4 2090.9)" font-size="15.6" text-anchor="end">0.4</text>
<text transform="translate(839.4 2113.0)" font-size="15.6" text-anchor="end">0.2</text>
<text transform="translate(839.4 2135.1)" font-size="15.6" text-anchor="end">0.0</text>
<text transform="translate(872.9 2148.6)" font-size="15.6" text-anchor="middle">0</text>
<text transform="translate(919.2 2148.6)" font-size="15.6" text-anchor="middle">200</text>
<text transform="translate(974.6 2148.6)" font-size="15.6" text-anchor="middle">400</text>
<text transform="translate(1029.3 2148.6)" font-size="15.6" text-anchor="middle">600</text>
<text transform="translate(1084.9 2148.6)" font-size="15.6" text-anchor="middle">800</text>
<text transform="translate(973.0 2168.0)" font-size="16.3" text-anchor="middle">Distance to the <tspan font-style="italic">MESP2</tspan> peak (μm)</text>
<text transform="translate(811.5 1970.3) rotate(-90)" font-size="16.3" text-anchor="middle">Normalized expression level (a.u.)</text>
<line x1="836.9" y1="1762.5" x2="857.5" y2="1762.5" stroke="#e13c6e" stroke-width="3.1" stroke-linecap="round"/>
<text transform="translate(863.0 1768.3)" font-size="19.3" font-style="italic">FGF4</text>
<line x1="836.9" y1="1784.1" x2="857.5" y2="1784.1" stroke="#eb6e96" stroke-width="3.1" stroke-linecap="round"/>
<text transform="translate(863.0 1789.9)" font-size="19.3" font-style="italic">FGF8</text>
<line x1="836.9" y1="1805.7" x2="857.5" y2="1805.7" stroke="#e6648c" stroke-width="3.1" stroke-linecap="round"/>
<text transform="translate(863.0 1811.5)" font-size="19.3" font-style="italic">FGF9</text>
<line x1="926.9" y1="1762.5" x2="948.5" y2="1762.5" stroke="#eb7896" stroke-width="3.1" stroke-linecap="round"/>
<text transform="translate(954.6 1768.3)" font-size="19.3" font-style="italic">FGF17</text>
<line x1="926.9" y1="1784.1" x2="948.5" y2="1784.1" stroke="#f08caa" stroke-width="3.1" stroke-linecap="round"/>
<text transform="translate(954.6 1789.9)" font-size="19.3" font-style="italic">FGF19</text>
<line x1="926.9" y1="1805.7" x2="948.5" y2="1805.7" stroke="#f096b4" stroke-width="3.1" stroke-linecap="round"/>
<text transform="translate(954.6 1811.5)" font-size="19.3" font-style="italic">FGFBP3</text>
<line x1="1042.1" y1="1762.5" x2="1059.6" y2="1762.5" stroke="#3cafe1" stroke-width="3.1" stroke-linecap="round"/>
<text transform="translate(1064.7 1768.3)" font-size="19.3" font-style="italic">SPRY2</text>
<line x1="1042.1" y1="1784.1" x2="1059.6" y2="1784.1" stroke="#3246aa" stroke-width="3.1" stroke-linecap="round"/>
<text transform="translate(1064.7 1789.9)" font-size="19.3" font-style="italic">SPRY4</text>
<line x1="1042.1" y1="1805.7" x2="1059.6" y2="1805.7" stroke="#3caa46" stroke-width="3.1" stroke-linecap="round"/>
<text transform="translate(1064.7 1811.5)" font-size="19.3" font-style="italic">DUSP6</text>
<path d="M1599.8 1899.9L1608.4 1898.8L1617.7 1896.9L1627.0 1874.2L1636.2 1864.7L1645.5 1866.2L1653.7 1795.1L1663.0 1812.8L1672.2 1879.5L1681.5 1909.0L1690.8 1881.2L1699.0 1890.9L1708.3 1886.0L1717.5 1881.5L1726.8 1911.1L1735.0 1908.2L1744.3 1914.6L1753.5 1931.1L1762.8 1891.4L1771.4 1881.2L1780.3 1916.1L1789.5 1902.4L1798.8 1905.2L1807.7 1877.0L1816.3 1907.3L1825.6 1935.9L1834.8 1943.3L1844.1 1922.4L1844.1 1962.1L1834.8 1957.4L1825.6 1961.8L1816.3 1935.3L1807.7 1955.3L1798.8 1943.2L1789.5 1945.3L1780.3 1949.0L1771.4 1940.1L1762.8 1938.2L1753.5 1962.1L1744.3 1961.1L1735.0 1942.5L1726.8 1943.1L1717.5 1951.8L1708.3 1930.2L1699.0 1952.5L1690.8 1952.5L1681.5 1962.1L1672.2 1922.6L1663.0 1877.4L1653.7 1870.3L1645.5 1912.7L1636.2 1940.5L1627.0 1931.0L1617.7 1941.7L1608.4 1956.4L1599.8 1945.7Z" fill="#dc282d" fill-opacity="0.2" clip-path="url(#cp12)"/>
<path d="M1599.8 1926.8L1608.4 1916.4L1617.7 1916.2L1627.0 1927.7L1636.2 1942.7L1645.5 1935.4L1653.7 1935.2L1663.0 1907.0L1672.2 1896.2L1681.5 1895.6L1690.8 1896.9L1699.0 1845.7L1708.3 1849.0L1717.5 1851.2L1726.8 1863.6L1735.0 1873.2L1744.3 1851.6L1753.5 1837.7L1762.8 1879.2L1771.4 1844.3L1780.3 1842.7L1789.5 1861.7L1798.8 1870.9L1807.7 1826.1L1816.3 1816.5L1825.6 1826.7L1834.8 1842.3L1844.1 1864.5L1844.1 1924.9L1834.8 1919.0L1825.6 1902.2L1816.3 1884.0L1807.7 1907.1L1798.8 1932.5L1789.5 1926.4L1780.3 1900.9L1771.4 1904.5L1762.8 1930.1L1753.5 1911.8L1744.3 1904.9L1735.0 1956.0L1726.8 1934.1L1717.5 1928.5L1708.3 1912.7L1699.0 1925.1L1690.8 1937.6L1681.5 1948.1L1672.2 1962.1L1663.0 1948.6L1653.7 1962.1L1645.5 1959.1L1636.2 1962.1L1627.0 1962.1L1617.7 1949.7L1608.4 1948.8L1599.8 1957.9Z" fill="#d76eaf" fill-opacity="0.2" clip-path="url(#cp12)"/>
<path d="M1599.8 1832.3L1608.4 1829.5L1617.7 1815.4L1627.0 1882.3L1636.2 1897.7L1645.5 1871.4L1653.7 1909.0L1663.0 1896.5L1672.2 1874.4L1681.5 1905.8L1690.8 1876.1L1699.0 1908.0L1708.3 1893.3L1717.5 1940.7L1726.8 1936.8L1735.0 1901.2L1744.3 1903.8L1753.5 1917.9L1762.8 1953.4L1771.4 1952.9L1780.3 1941.1L1789.5 1916.6L1798.8 1924.9L1807.7 1913.1L1816.3 1933.1L1825.6 1947.5L1834.8 1918.6L1844.1 1928.3L1844.1 1962.1L1834.8 1962.1L1825.6 1962.1L1816.3 1956.5L1807.7 1956.0L1798.8 1947.6L1789.5 1953.0L1780.3 1961.3L1771.4 1962.1L1762.8 1962.1L1753.5 1959.8L1744.3 1960.1L1735.0 1945.9L1726.8 1962.1L1717.5 1962.1L1708.3 1936.9L1699.0 1949.7L1690.8 1928.2L1681.5 1940.6L1672.2 1957.4L1663.0 1940.9L1653.7 1934.4L1645.5 1948.0L1636.2 1958.9L1627.0 1952.4L1617.7 1888.5L1608.4 1892.3L1599.8 1910.3Z" fill="#9646a0" fill-opacity="0.2" clip-path="url(#cp12)"/>
<path d="M1599.8 1832.2L1608.4 1849.5L1617.7 1828.3L1627.0 1807.8L1636.2 1833.5L1645.5 1837.7L1653.7 1841.6L1663.0 1864.1L1672.2 1884.2L1681.5 1896.8L1690.8 1917.2L1699.0 1900.3L1708.3 1875.0L1717.5 1903.7L1726.8 1890.7L1735.0 1945.0L1744.3 1936.9L1753.5 1936.3L1762.8 1908.4L1771.4 1913.5L1780.3 1885.5L1789.5 1901.8L1798.8 1908.4L1807.7 1900.4L1816.3 1930.4L1825.6 1915.8L1834.8 1936.5L1844.1 1953.3L1844.1 1962.1L1834.8 1957.3L1825.6 1960.3L1816.3 1955.6L1807.7 1962.1L1798.8 1962.1L1789.5 1958.8L1780.3 1951.4L1771.4 1957.5L1762.8 1953.7L1753.5 1958.4L1744.3 1960.4L1735.0 1960.5L1726.8 1945.3L1717.5 1955.1L1708.3 1929.5L1699.0 1955.4L1690.8 1961.8L1681.5 1958.4L1672.2 1940.0L1663.0 1938.2L1653.7 1916.7L1645.5 1900.0L1636.2 1903.6L1627.0 1884.1L1617.7 1896.4L1608.4 1920.9L1599.8 1918.1Z" fill="#eb8228" fill-opacity="0.2" clip-path="url(#cp12)"/>
<path d="M1599.8 1924.0L1608.4 1915.8L1617.7 1910.7L1627.0 1915.8L1636.2 1901.4L1645.5 1882.9L1653.7 1837.6L1663.0 1856.1L1672.2 1903.5L1681.5 1931.3L1690.8 1913.8L1699.0 1915.8L1708.3 1904.5L1717.5 1915.8L1726.8 1931.3L1735.0 1926.1L1744.3 1931.3L1753.5 1942.6L1762.8 1926.1L1771.4 1908.6L1780.3 1927.1L1789.5 1933.3L1798.8 1930.2L1807.7 1910.7L1816.3 1924.0L1825.6 1944.6L1834.8 1949.8L1844.1 1940.5" fill="none" stroke="#dc282d" stroke-width="1.8" stroke-linejoin="round" clip-path="url(#cp12)"/>
<path d="M1599.8 1942.6L1608.4 1938.5L1617.7 1937.4L1627.0 1945.7L1636.2 1949.8L1645.5 1950.8L1653.7 1946.7L1663.0 1937.4L1672.2 1926.1L1681.5 1915.8L1690.8 1911.7L1699.0 1887.0L1708.3 1894.2L1717.5 1879.8L1726.8 1901.4L1735.0 1903.5L1744.3 1889.1L1753.5 1883.9L1762.8 1908.6L1771.4 1876.7L1780.3 1861.3L1789.5 1880.8L1798.8 1887.0L1807.7 1872.6L1816.3 1859.2L1825.6 1870.5L1834.8 1866.4L1844.1 1895.2" fill="none" stroke="#d76eaf" stroke-width="1.8" stroke-linejoin="round" clip-path="url(#cp12)"/>
<path d="M1599.8 1880.8L1608.4 1870.5L1617.7 1863.3L1627.0 1899.4L1636.2 1915.8L1645.5 1915.8L1653.7 1921.0L1663.0 1915.8L1672.2 1909.6L1681.5 1926.1L1690.8 1909.6L1699.0 1922.0L1708.3 1924.0L1717.5 1952.9L1726.8 1953.3L1735.0 1932.3L1744.3 1931.3L1753.5 1942.6L1762.8 1959.0L1771.4 1962.1L1780.3 1954.9L1789.5 1940.5L1798.8 1934.3L1807.7 1933.3L1816.3 1946.7L1825.6 1958.0L1834.8 1938.5L1844.1 1937.4" fill="none" stroke="#9646a0" stroke-width="1.8" stroke-linejoin="round" clip-path="url(#cp12)"/>
<path d="M1599.8 1881.9L1608.4 1884.9L1617.7 1878.8L1627.0 1847.9L1636.2 1860.3L1645.5 1880.8L1653.7 1883.9L1663.0 1898.3L1672.2 1901.4L1681.5 1919.9L1690.8 1932.3L1699.0 1929.2L1708.3 1915.8L1717.5 1929.2L1726.8 1922.0L1735.0 1951.8L1744.3 1951.8L1753.5 1944.6L1762.8 1930.2L1771.4 1925.1L1780.3 1910.7L1789.5 1914.8L1798.8 1932.3L1807.7 1933.3L1816.3 1940.5L1825.6 1931.3L1834.8 1946.7L1844.1 1959.0" fill="none" stroke="#eb8228" stroke-width="1.8" stroke-linejoin="round" clip-path="url(#cp12)"/>
<rect x="1587.4" y="1819.5" width="269.0" height="142.6" fill="none" stroke="#444" stroke-width="1.3"/>
<text transform="translate(1725.2 1843.4)" font-size="27.5" text-anchor="middle">96h</text>
<text transform="translate(1581.7 1840.5)" font-size="15.6" text-anchor="end">1.0</text>
<text transform="translate(1581.7 1865.6)" font-size="15.6" text-anchor="end">0.8</text>
<text transform="translate(1581.7 1890.7)" font-size="15.6" text-anchor="end">0.6</text>
<text transform="translate(1581.7 1915.9)" font-size="15.6" text-anchor="end">0.4</text>
<text transform="translate(1581.7 1941.0)" font-size="15.6" text-anchor="end">0.2</text>
<text transform="translate(1581.7 1966.1)" font-size="15.6" text-anchor="end">0.0</text>
<text transform="translate(1606.0 1979.8)" font-size="15.6" text-anchor="middle">-100</text>
<text transform="translate(1632.7 1979.8)" font-size="15.6" text-anchor="middle">0</text>
<text transform="translate(1655.8 1979.8)" font-size="15.6" text-anchor="middle">100</text>
<text transform="translate(1688.7 1979.8)" font-size="15.6" text-anchor="middle">200</text>
<text transform="translate(1721.2 1979.8)" font-size="15.6" text-anchor="middle">300</text>
<text transform="translate(1754.6 1979.8)" font-size="15.6" text-anchor="middle">400</text>
<text transform="translate(1787.5 1979.8)" font-size="15.6" text-anchor="middle">500</text>
<text transform="translate(1820.4 1979.8)" font-size="15.6" text-anchor="middle">600</text>
<path d="M1599.8 1992.9L1608.4 2009.1L1616.7 2012.3L1622.8 2028.8L1631.1 2029.9L1639.3 2035.3L1647.5 2042.8L1655.8 2058.7L1664.0 2083.5L1672.2 2081.0L1680.5 2091.7L1686.6 2110.2L1694.9 2038.1L1703.1 2041.3L1710.3 2055.1L1717.5 2053.0L1725.7 2040.0L1734.0 2093.4L1741.2 2085.1L1749.4 2035.7L1757.6 2063.0L1764.8 2082.7L1772.1 2088.0L1779.3 2065.9L1788.5 2103.2L1795.7 2073.0L1804.0 2088.8L1812.2 2102.8L1819.4 2087.5L1827.6 2073.1L1834.8 2077.0L1844.1 2097.0L1844.1 2131.1L1834.8 2114.9L1827.6 2123.6L1819.4 2131.0L1812.2 2128.3L1804.0 2120.0L1795.7 2118.3L1788.5 2129.9L1779.3 2120.8L1772.1 2132.1L1764.8 2112.7L1757.6 2102.7L1749.4 2120.4L1741.2 2115.0L1734.0 2128.6L1725.7 2119.4L1717.5 2112.3L1710.3 2090.7L1703.1 2093.3L1694.9 2129.0L1686.6 2132.1L1680.5 2132.1L1672.2 2124.8L1664.0 2118.7L1655.8 2122.2L1647.5 2100.6L1639.3 2112.3L1631.1 2093.1L1622.8 2090.7L1616.7 2106.2L1608.4 2069.9L1599.8 2062.1Z" fill="#dc282d" fill-opacity="0.2" clip-path="url(#cp13)"/>
<path d="M1599.8 2049.4L1607.4 2014.9L1615.6 2033.8L1622.8 2022.0L1631.1 2005.7L1639.3 2056.1L1647.5 2073.6L1655.8 2095.9L1664.0 2087.7L1672.2 2038.6L1680.5 2036.6L1686.6 2000.3L1694.9 2047.8L1703.1 2066.2L1710.3 2071.7L1717.5 2104.2L1725.7 2051.6L1734.0 2090.7L1741.2 2034.0L1748.4 2033.6L1756.6 2079.1L1764.8 2102.9L1772.1 2099.4L1779.3 2106.2L1788.5 2110.0L1795.7 2109.9L1804.0 2104.0L1812.2 2103.2L1819.4 2105.9L1827.6 2099.1L1834.8 2103.3L1844.1 2106.8L1844.1 2132.1L1834.8 2132.1L1827.6 2132.1L1819.4 2126.9L1812.2 2132.1L1804.0 2132.1L1795.7 2132.1L1788.5 2132.1L1779.3 2132.1L1772.1 2132.1L1764.8 2129.0L1756.6 2106.1L1748.4 2084.7L1741.2 2081.7L1734.0 2132.1L1725.7 2100.7L1717.5 2132.1L1710.3 2117.0L1703.1 2116.9L1694.9 2097.2L1686.6 2086.2L1680.5 2096.7L1672.2 2118.1L1664.0 2125.2L1655.8 2125.2L1647.5 2114.1L1639.3 2114.2L1631.1 2066.4L1622.8 2101.1L1615.6 2119.7L1607.4 2069.3L1599.8 2091.2Z" fill="#eb8228" fill-opacity="0.2" clip-path="url(#cp13)"/>
<path d="M1599.8 2069.9L1608.4 2096.6L1616.7 2110.0L1622.8 2069.3L1631.1 2032.5L1639.3 2003.7L1646.5 2002.5L1653.7 2035.9L1661.9 2103.9L1670.2 2127.4L1679.4 2047.2L1686.6 2061.6L1693.8 2123.6L1826.6 2121.2L1834.8 2113.9L1844.1 2088.2L1844.1 2122.5L1834.8 2132.1L1826.6 2132.1L1693.8 2132.1L1686.6 2131.8L1679.4 2089.2L1670.2 2132.1L1661.9 2128.3L1653.7 2123.5L1646.5 2064.3L1639.3 2083.2L1631.1 2125.8L1622.8 2127.1L1616.7 2132.1L1608.4 2132.1L1599.8 2132.1Z" fill="#9646a0" fill-opacity="0.2" clip-path="url(#cp13)"/>
<path d="M1599.8 2050.3L1608.4 2071.4L1616.7 2093.2L1622.8 2101.3L1631.1 2118.7L1639.3 2109.6L1647.5 2094.7L1655.8 2083.9L1664.0 2088.6L1672.2 2074.6L1680.5 2072.9L1686.6 2062.2L1692.8 2066.4L1701.0 2052.0L1710.3 2029.5L1717.5 2034.5L1725.7 2036.4L1734.0 2020.7L1741.2 2058.6L1749.4 1993.9L1757.6 2015.8L1766.9 2001.2L1777.2 2019.6L1787.5 2031.2L1795.7 2052.6L1804.0 2074.2L1812.2 2016.2L1819.4 2051.8L1827.6 2041.8L1834.8 2058.0L1844.1 2085.3L1844.1 2130.2L1834.8 2096.0L1827.6 2126.5L1819.4 2111.3L1812.2 2090.9L1804.0 2125.3L1795.7 2129.7L1787.5 2071.7L1777.2 2068.1L1766.9 2083.9L1757.6 2071.3L1749.4 2057.3L1741.2 2121.6L1734.0 2115.9L1725.7 2127.0L1717.5 2106.4L1710.3 2114.5L1701.0 2111.5L1692.8 2116.5L1686.6 2121.8L1680.5 2116.4L1672.2 2121.8L1664.0 2129.7L1655.8 2130.3L1647.5 2126.6L1639.3 2125.3L1631.1 2132.1L1622.8 2132.1L1616.7 2132.1L1608.4 2114.0L1599.8 2114.4Z" fill="#d76eaf" fill-opacity="0.2" clip-path="url(#cp13)"/>
<path d="M1599.8 2030.3L1608.4 2046.7L1616.7 2059.1L1622.8 2069.4L1631.1 2065.3L1639.3 2060.1L1647.5 2086.9L1655.8 2094.1L1664.0 2102.3L1672.2 2105.4L1680.5 2112.6L1686.6 2118.8L1694.9 2083.8L1703.1 2077.6L1710.3 2070.4L1717.5 2092.0L1725.7 2069.4L1734.0 2108.5L1741.2 2104.4L1749.4 2073.1L1757.6 2081.7L1764.8 2102.3L1772.1 2107.4L1779.3 2095.1L1788.5 2121.8L1795.7 2098.2L1804.0 2109.5L1812.2 2120.8L1819.4 2101.3L1827.6 2104.4L1834.8 2098.2L1844.1 2110.5" fill="none" stroke="#dc282d" stroke-width="1.8" stroke-linejoin="round" clip-path="url(#cp13)"/>
<path d="M1599.8 2071.4L1607.4 2047.8L1615.6 2073.5L1622.8 2067.3L1631.1 2034.4L1639.3 2071.4L1647.5 2094.1L1655.8 2106.4L1664.0 2108.5L1672.2 2081.7L1680.5 2061.1L1686.6 2050.8L1694.9 2081.7L1703.1 2092.0L1710.3 2094.1L1717.5 2119.8L1725.7 2081.7L1734.0 2108.5L1741.2 2065.3L1748.4 2048.8L1756.6 2092.0L1764.8 2112.6L1772.1 2120.8L1779.3 2119.8L1788.5 2122.9L1795.7 2124.9L1804.0 2120.8L1812.2 2119.8L1819.4 2115.7L1827.6 2116.7L1834.8 2119.8L1844.1 2123.9" fill="none" stroke="#eb8228" stroke-width="1.8" stroke-linejoin="round" clip-path="url(#cp13)"/>
<path d="M1599.8 2100.2L1608.4 2112.6L1616.7 2124.9L1622.8 2083.8L1631.1 2075.5L1639.3 2057.0L1646.5 2043.6L1653.7 2073.5L1661.9 2114.6L1670.2 2132.1L1679.4 2070.4L1686.6 2098.2L1693.8 2132.1L1826.6 2132.1L1834.8 2124.9L1844.1 2108.5" fill="none" stroke="#9646a0" stroke-width="1.8" stroke-linejoin="round" clip-path="url(#cp13)"/>
<path d="M1599.8 2077.6L1608.4 2098.2L1616.7 2112.6L1622.8 2120.8L1631.1 2124.9L1639.3 2117.7L1647.5 2108.5L1655.8 2108.5L1664.0 2104.4L1672.2 2098.2L1680.5 2092.0L1686.6 2085.8L1692.8 2092.0L1701.0 2081.7L1710.3 2071.4L1717.5 2077.6L1725.7 2078.6L1734.0 2073.5L1741.2 2075.5L1749.4 2041.6L1757.6 2043.6L1766.9 2045.1L1777.2 2045.7L1787.5 2052.9L1795.7 2088.9L1804.0 2092.0L1812.2 2068.3L1819.4 2083.8L1827.6 2085.8L1834.8 2073.5L1844.1 2110.5" fill="none" stroke="#d76eaf" stroke-width="1.8" stroke-linejoin="round" clip-path="url(#cp13)"/>
<rect x="1587.9" y="1987.0" width="267.9" height="145.1" fill="none" stroke="#444" stroke-width="1.3"/>
<text transform="translate(1724.7 2014.2)" font-size="27.5" text-anchor="middle">120h</text>
<text transform="translate(1581.7 2002.5)" font-size="15.6" text-anchor="end">1.2</text>
<text transform="translate(1581.7 2024.6)" font-size="15.6" text-anchor="end">1.0</text>
<text transform="translate(1581.7 2046.7)" font-size="15.6" text-anchor="end">0.8</text>
<text transform="translate(1581.7 2068.8)" font-size="15.6" text-anchor="end">0.6</text>
<text transform="translate(1581.7 2090.9)" font-size="15.6" text-anchor="end">0.4</text>
<text transform="translate(1581.7 2113.0)" font-size="15.6" text-anchor="end">0.2</text>
<text transform="translate(1581.7 2135.1)" font-size="15.6" text-anchor="end">0.0</text>
<text transform="translate(1616.3 2148.6)" font-size="15.6" text-anchor="middle">0</text>
<text transform="translate(1662.6 2148.6)" font-size="15.6" text-anchor="middle">200</text>
<text transform="translate(1717.9 2148.6)" font-size="15.6" text-anchor="middle">400</text>
<text transform="translate(1772.7 2148.6)" font-size="15.6" text-anchor="middle">600</text>
<text transform="translate(1828.2 2148.6)" font-size="15.6" text-anchor="middle">800</text>
<text transform="translate(1720.5 2168.5)" font-size="16.3" text-anchor="middle">Distance to the <tspan font-style="italic">MESP2</tspan> peak (μm)</text>
<text transform="translate(1551.5 1970.5) rotate(-90)" font-size="16.3" text-anchor="middle">Normalized expression level (a.u.)</text>
<line x1="1625.9" y1="1784.1" x2="1645.5" y2="1784.1" stroke="#dc282d" stroke-width="3.1" stroke-linecap="round"/>
<text transform="translate(1647.5 1789.9)" font-size="19.5" font-style="italic">FGFR1</text>
<line x1="1625.9" y1="1806.7" x2="1645.5" y2="1806.7" stroke="#d76eaf" stroke-width="3.1" stroke-linecap="round"/>
<text transform="translate(1647.5 1812.5)" font-size="19.5" font-style="italic">FGFR2</text>
<line x1="1730.3" y1="1784.1" x2="1750.0" y2="1784.1" stroke="#9646a0" stroke-width="3.1" stroke-linecap="round"/>
<text transform="translate(1752.5 1789.9)" font-size="19.5" font-style="italic">FGFR3</text>
<line x1="1730.3" y1="1806.7" x2="1750.0" y2="1806.7" stroke="#eb8228" stroke-width="3.1" stroke-linecap="round"/>
<text transform="translate(1752.5 1812.5)" font-size="19.5" font-style="italic">FGFR4</text>
<rect x="1375.2" y="225.5" width="117.0" height="195.6" fill="#05080a"/>
<rect x="1495.6" y="225.5" width="117.0" height="195.6" fill="#05080a"/>
<rect x="1616.4" y="225.5" width="117.3" height="195.6" fill="#05080a"/>
<rect x="1737.5" y="225.5" width="117.5" height="195.6" fill="#05080a"/>
<rect x="1347.0" y="225.5" width="25.3" height="195.6" fill="#000"/>
<text transform="translate(1367.5 397.0) rotate(-90) scale(0.6 1)" font-size="22" font-weight="bold" font-style="italic" xml:space="preserve"><tspan fill="#5fd6dc">FGF8</tspan><tspan fill="#fff"> / </tspan><tspan fill="#e05cc4">WNT3A</tspan><tspan fill="#fff"> / </tspan><tspan fill="#f4e93a">MESP2</tspan></text>
<rect x="1375.2" y="436.8" width="117.0" height="195.6" fill="#05080a"/>
<rect x="1495.6" y="436.8" width="117.0" height="195.6" fill="#05080a"/>
<rect x="1616.4" y="436.8" width="117.3" height="195.6" fill="#05080a"/>
<rect x="1737.5" y="436.8" width="117.5" height="195.6" fill="#05080a"/>
<rect x="1347.0" y="436.8" width="25.3" height="195.6" fill="#000"/>
<text transform="translate(1367.5 608.3) rotate(-90) scale(0.6 1)" font-size="22" font-weight="bold" font-style="italic" xml:space="preserve"><tspan fill="#5fd6dc">FGF8</tspan><tspan fill="#fff"> / </tspan><tspan fill="#e05cc4">WNT3A</tspan><tspan fill="#fff"> / </tspan><tspan fill="#f4e93a">MESP2</tspan></text>
<g clip-path="url(#pc1)"><g transform="translate(1375.2 225.5)"><g fill="url(#vg9)" filter="url(#sf)"><use href="#c96"/></g></g></g>
<path d="M1543.5 400.0h0M1539.0 391.3h0M1542.6 394.2h0M1536.9 396.0h0M1539.2 387.4h0M1538.8 390.4h0M1547.1 388.3h0M1539.3 392.2h0M1537.6 394.1h0M1536.1 396.1h0M1541.0 400.4h0M1547.5 391.5h0M1544.7 397.3h0M1542.0 385.9h0M1543.5 388.1h0M1545.3 395.9h0M1540.9 389.0h0M1546.3 389.6h0M1540.5 388.1h0M1539.6 395.6h0M1539.8 391.7h0M1544.7 386.5h0M1543.2 387.4h0M1547.4 390.2h0M1541.6 394.0h0M1546.9 389.6h0M1540.6 393.1h0M1542.4 395.7h0M1545.4 399.7h0M1538.5 388.8h0M1539.7 394.7h0M1542.7 394.2h0M1533.9 400.5h0M1543.9 399.1h0M1538.6 395.6h0M1546.1 398.5h0M1537.7 399.5h0M1539.1 392.0h0M1538.4 398.5h0M1540.4 398.7h0M1547.0 389.7h0M1538.4 402.7h0M1537.7 393.2h0M1545.0 393.7h0M1536.0 398.1h0M1543.1 390.7h0M1532.9 396.7h0M1540.4 391.3h0M1542.3 396.1h0M1539.8 387.4h0M1537.8 394.1h0M1540.9 399.5h0M1532.0 397.1h0M1543.3 397.4h0M1544.1 392.3h0M1534.7 392.7h0M1542.4 395.4h0M1542.4 401.4h0M1544.6 401.7h0M1540.5 398.1h0M1540.5 398.2h0M1538.4 392.7h0M1543.9 397.0h0M1538.9 392.5h0M1538.1 396.7h0M1546.7 389.5h0M1536.9 393.0h0M1532.3 396.6h0M1541.1 397.2h0M1540.6 396.7h0M1545.2 393.5h0M1540.3 395.8h0M1537.1 392.8h0M1540.8 397.5h0M1544.1 390.8h0" stroke="#d640b8" stroke-width="1.9" stroke-linecap="round" fill="none"/>
<path d="M1546.4 357.3h0M1537.1 376.1h0M1551.0 375.7h0M1543.7 363.2h0M1534.0 381.9h0M1539.2 374.3h0M1544.0 353.4h0M1542.6 375.8h0M1554.6 359.8h0M1550.2 354.8h0M1540.3 365.5h0M1543.4 362.1h0M1544.4 363.6h0M1550.6 357.2h0M1544.8 359.0h0M1535.4 383.1h0M1540.6 367.8h0M1539.6 380.2h0M1543.9 379.9h0M1555.3 347.5h0M1539.2 373.8h0M1554.4 362.6h0M1548.8 379.2h0M1544.8 374.9h0M1550.9 368.2h0M1544.1 380.3h0M1548.1 355.1h0M1542.4 366.6h0M1556.4 355.1h0M1546.4 357.6h0" stroke="#8a2a7a" stroke-width="1.2" stroke-linecap="round" fill="none"/>
<path d="M1664.8 365.0h0M1667.4 355.0h0M1662.9 352.4h0M1668.6 364.2h0M1667.5 347.4h0M1667.9 359.9h0M1672.3 358.5h0M1670.0 361.8h0M1675.7 362.2h0M1670.9 356.2h0M1668.1 365.4h0M1664.6 358.0h0M1670.7 363.1h0M1660.7 350.7h0M1671.7 367.1h0M1663.9 354.6h0M1666.0 359.6h0M1674.5 359.6h0M1661.0 352.9h0M1667.1 368.5h0M1675.6 361.1h0M1668.3 361.2h0M1661.6 355.5h0M1665.1 361.5h0M1671.6 350.8h0M1666.9 348.2h0M1673.9 363.8h0M1665.0 353.9h0M1675.5 366.4h0M1665.8 346.9h0M1665.1 362.3h0M1668.3 351.6h0M1669.7 362.0h0M1671.8 367.2h0M1667.4 364.7h0M1667.0 358.3h0M1662.0 359.1h0M1671.5 353.4h0M1670.8 353.0h0M1669.2 359.0h0M1672.8 367.8h0M1662.0 353.2h0M1670.4 369.4h0M1670.0 353.1h0M1664.6 351.0h0M1667.7 363.5h0M1668.6 363.6h0M1674.6 360.0h0M1666.9 354.7h0M1666.5 356.6h0M1663.3 359.9h0M1672.6 355.6h0M1673.7 366.5h0M1667.4 359.1h0M1674.0 364.4h0M1667.9 359.7h0M1663.5 364.0h0M1668.9 367.0h0M1663.0 351.1h0M1664.2 357.1h0M1672.4 356.5h0M1669.8 362.4h0M1674.5 367.7h0M1673.8 359.1h0M1667.4 360.1h0M1667.3 365.6h0M1668.3 361.1h0M1671.8 362.1h0M1670.0 350.0h0M1671.2 363.7h0M1671.0 359.5h0M1668.8 364.1h0M1667.0 361.2h0M1664.4 351.9h0M1672.0 356.6h0M1665.8 362.8h0M1673.3 361.0h0M1668.3 360.0h0M1666.9 358.2h0M1668.3 354.8h0M1671.5 360.1h0M1661.4 356.4h0M1672.2 356.1h0M1661.5 350.7h0M1661.0 356.3h0M1664.8 360.2h0M1672.9 366.9h0M1666.0 360.2h0M1667.2 356.8h0M1668.0 355.1h0" stroke="#f2e21b" stroke-width="2.1" stroke-linecap="round" fill="none"/>
<g clip-path="url(#pc4)"><g transform="translate(1737.5 225.5)"><g fill="url(#vg9)" filter="url(#sf)"><use href="#c96"/></g></g></g>
<path d="M1785.9 365.0h0M1788.5 355.0h0M1784.0 352.4h0M1789.7 364.2h0M1788.6 347.4h0M1789.0 359.9h0M1793.4 358.5h0M1791.1 361.8h0M1796.8 362.2h0M1792.0 356.2h0M1789.2 365.4h0M1785.7 358.0h0M1791.8 363.1h0M1781.8 350.7h0M1792.8 367.1h0M1785.0 354.6h0M1787.1 359.6h0M1795.6 359.6h0M1782.1 352.9h0M1788.2 368.5h0M1796.7 361.1h0M1789.4 361.2h0M1782.7 355.5h0M1786.2 361.5h0M1792.7 350.8h0M1788.0 348.2h0M1795.0 363.8h0M1786.1 353.9h0M1796.6 366.4h0M1786.9 346.9h0M1786.2 362.3h0M1789.4 351.6h0M1790.8 362.0h0M1792.9 367.2h0M1788.5 364.7h0M1788.1 358.3h0M1783.1 359.1h0M1792.6 353.4h0M1791.9 353.0h0M1790.3 359.0h0M1793.9 367.8h0M1783.1 353.2h0M1791.5 369.4h0M1791.1 353.1h0M1785.7 351.0h0M1788.8 363.5h0M1789.7 363.6h0M1795.7 360.0h0M1788.0 354.7h0M1787.6 356.6h0M1784.4 359.9h0M1793.7 355.6h0M1794.8 366.5h0M1788.5 359.1h0M1795.1 364.4h0M1789.0 359.7h0M1784.6 364.0h0M1790.0 367.0h0M1784.1 351.1h0M1785.3 357.1h0M1793.5 356.5h0M1790.9 362.4h0M1795.6 367.7h0M1794.9 359.1h0M1788.5 360.1h0M1788.4 365.6h0M1789.4 361.1h0M1792.9 362.1h0M1791.1 350.0h0M1792.3 363.7h0M1792.1 359.5h0M1789.9 364.1h0M1788.1 361.2h0M1785.5 351.9h0M1793.1 356.6h0M1786.9 362.8h0M1794.4 361.0h0M1789.4 360.0h0M1788.0 358.2h0M1789.4 354.8h0M1792.6 360.1h0M1782.5 356.4h0M1793.3 356.1h0M1782.6 350.7h0M1782.1 356.3h0M1785.9 360.2h0M1794.0 366.9h0M1787.1 360.2h0M1788.3 356.8h0M1789.1 355.1h0" stroke="#f2e21b" stroke-width="2.1" stroke-linecap="round" fill="none"/>
<path d="M1785.4 400.0h0M1780.9 391.3h0M1784.5 394.2h0M1778.8 396.0h0M1781.1 387.4h0M1780.7 390.4h0M1789.0 388.3h0M1781.2 392.2h0M1779.5 394.1h0M1778.0 396.1h0M1782.9 400.4h0M1789.4 391.5h0M1786.6 397.3h0M1783.9 385.9h0M1785.4 388.1h0M1787.2 395.9h0M1782.8 389.0h0M1788.2 389.6h0M1782.4 388.1h0M1781.5 395.6h0M1781.7 391.7h0M1786.6 386.5h0M1785.1 387.4h0M1789.3 390.2h0M1783.5 394.0h0M1788.8 389.6h0M1782.5 393.1h0M1784.3 395.7h0M1787.3 399.7h0M1780.4 388.8h0M1781.6 394.7h0M1784.6 394.2h0M1775.8 400.5h0M1785.8 399.1h0M1780.5 395.6h0M1788.0 398.5h0M1779.6 399.5h0M1781.0 392.0h0M1780.3 398.5h0M1782.3 398.7h0M1788.9 389.7h0M1780.3 402.7h0M1779.6 393.2h0M1786.9 393.7h0M1777.9 398.1h0M1785.0 390.7h0M1774.8 396.7h0M1782.3 391.3h0M1784.2 396.1h0M1781.7 387.4h0M1779.7 394.1h0M1782.8 399.5h0M1773.9 397.1h0M1785.2 397.4h0M1786.0 392.3h0M1776.6 392.7h0M1784.3 395.4h0M1784.3 401.4h0M1786.5 401.7h0M1782.4 398.1h0M1782.4 398.2h0M1780.3 392.7h0M1785.8 397.0h0M1780.8 392.5h0M1780.0 396.7h0" stroke="#e9b8f0" stroke-width="1.9" stroke-linecap="round" fill="none"/>
<rect x="1382.0" y="406.5" width="47.3" height="6.0" fill="#fff"/>
<g clip-path="url(#pc5)"><g transform="translate(1375.2 436.8)"><g fill="url(#vg10)" filter="url(#sf)"><use href="#c120"/></g></g></g>
<path d="M1580.0 612.9h0M1575.2 608.1h0M1571.7 610.9h0M1566.7 618.9h0M1581.9 620.8h0M1571.0 608.9h0M1581.8 613.4h0M1576.2 614.7h0M1585.8 622.0h0M1572.5 617.2h0M1578.9 613.8h0M1569.9 615.2h0M1579.1 623.6h0M1583.1 615.2h0M1585.3 620.4h0M1575.6 621.1h0M1566.3 610.2h0M1569.1 620.2h0M1584.9 619.7h0M1585.3 620.6h0M1575.9 612.4h0M1590.1 622.3h0M1575.4 624.6h0M1587.7 622.4h0M1578.8 619.3h0M1583.9 624.3h0M1580.8 617.2h0M1581.3 618.6h0M1573.0 619.1h0M1584.3 617.5h0M1570.0 617.8h0M1577.8 611.0h0M1583.5 619.6h0M1576.8 616.7h0M1589.9 622.7h0M1582.8 615.1h0M1588.7 625.8h0M1573.0 609.6h0M1580.5 621.5h0M1571.4 611.8h0M1573.9 617.9h0M1573.9 610.4h0M1589.1 619.9h0M1581.1 616.0h0M1584.5 619.1h0M1579.2 624.4h0M1581.3 621.3h0M1572.2 612.9h0M1582.7 624.6h0M1586.7 622.3h0M1578.3 613.8h0M1576.2 624.6h0M1582.4 616.3h0M1584.7 618.5h0M1575.3 616.4h0M1578.6 623.3h0M1582.9 614.1h0M1576.9 624.7h0M1582.8 625.6h0M1590.5 621.1h0M1572.9 616.2h0M1585.3 617.7h0M1570.4 607.4h0M1570.5 611.8h0M1584.4 625.4h0M1580.2 618.5h0M1570.8 613.6h0M1577.2 623.0h0M1579.1 613.2h0M1578.6 617.7h0M1585.6 618.6h0M1567.7 616.1h0M1568.5 611.8h0M1585.3 619.7h0M1584.8 614.1h0M1585.9 618.4h0M1585.1 622.9h0M1584.3 618.4h0M1582.5 615.2h0M1577.4 620.3h0M1581.0 619.9h0M1572.5 613.9h0M1568.4 616.8h0M1572.7 623.1h0M1581.1 624.0h0M1584.3 626.7h0M1582.1 624.9h0M1572.8 614.5h0M1575.5 619.8h0M1584.4 618.3h0" stroke="#d640b8" stroke-width="2.1" stroke-linecap="round" fill="none"/>
<path d="M1553.9 597.9h0M1555.6 598.9h0M1549.0 590.0h0M1550.6 597.7h0M1549.2 577.7h0M1551.3 601.4h0M1559.0 596.3h0M1556.0 590.2h0M1554.0 597.5h0M1552.0 584.6h0M1552.7 600.6h0M1557.3 595.1h0M1555.4 591.4h0M1548.0 565.2h0M1558.8 591.0h0M1559.7 596.2h0M1561.1 592.3h0M1555.1 588.0h0M1552.4 581.9h0M1550.5 576.4h0M1552.5 593.1h0M1554.1 599.2h0M1550.6 583.1h0M1554.6 566.6h0M1559.9 588.6h0" stroke="#7a2a6a" stroke-width="1.2" stroke-linecap="round" fill="none"/>
<path d="M1692.9 598.9h0M1691.7 606.0h0M1686.9 597.8h0M1691.6 605.0h0M1688.1 608.5h0M1688.8 602.2h0M1684.7 600.8h0M1684.5 602.4h0M1693.1 605.7h0M1687.7 601.3h0M1687.1 598.5h0M1683.7 601.8h0M1693.3 601.9h0M1684.7 601.2h0M1690.9 596.9h0M1689.0 601.4h0M1686.9 601.3h0M1686.5 599.2h0M1689.4 603.9h0M1685.4 603.9h0M1692.1 602.2h0M1689.4 603.7h0M1689.1 601.9h0M1687.9 598.4h0M1691.7 602.7h0M1692.4 606.0h0M1689.8 602.4h0M1693.3 600.2h0M1684.6 601.4h0M1688.0 602.0h0M1683.2 607.5h0M1692.9 601.2h0M1693.3 597.2h0M1689.3 595.7h0M1692.0 599.4h0M1690.6 608.0h0M1683.3 604.5h0M1690.1 601.4h0M1688.5 598.3h0M1686.2 600.1h0M1682.5 605.6h0M1688.3 601.4h0M1689.7 599.0h0M1691.7 603.7h0M1687.1 605.3h0M1683.8 602.3h0M1689.5 599.1h0M1686.1 602.6h0M1693.6 598.9h0M1693.2 602.5h0M1688.0 600.1h0M1690.6 606.2h0M1686.9 600.3h0M1689.4 609.7h0M1692.3 602.3h0" stroke="#f2e21b" stroke-width="2.1" stroke-linecap="round" fill="none"/>
<g clip-path="url(#pc8)"><g transform="translate(1737.5 436.8)"><g fill="url(#vg10)" filter="url(#sf)"><use href="#c120"/></g></g></g>
<path d="M1814.0 598.9h0M1812.8 606.0h0M1808.0 597.8h0M1812.7 605.0h0M1809.2 608.5h0M1809.9 602.2h0M1805.8 600.8h0M1805.6 602.4h0M1814.2 605.7h0M1808.8 601.3h0M1808.2 598.5h0M1804.8 601.8h0M1814.4 601.9h0M1805.8 601.2h0M1812.0 596.9h0M1810.1 601.4h0M1808.0 601.3h0M1807.6 599.2h0M1810.5 603.9h0M1806.5 603.9h0M1813.2 602.2h0M1810.5 603.7h0M1810.2 601.9h0M1809.0 598.4h0M1812.8 602.7h0M1813.5 606.0h0M1810.9 602.4h0M1814.4 600.2h0M1805.7 601.4h0M1809.1 602.0h0M1804.3 607.5h0M1814.0 601.2h0M1814.4 597.2h0M1810.4 595.7h0M1813.1 599.4h0M1811.7 608.0h0M1804.4 604.5h0M1811.2 601.4h0M1809.6 598.3h0M1807.3 600.1h0M1803.6 605.6h0M1809.4 601.4h0M1810.8 599.0h0M1812.8 603.7h0M1808.2 605.3h0M1804.9 602.3h0M1810.6 599.1h0M1807.2 602.6h0M1814.7 598.9h0M1814.3 602.5h0M1809.1 600.1h0M1811.7 606.2h0M1808.0 600.3h0M1810.5 609.7h0M1813.4 602.3h0" stroke="#f2e21b" stroke-width="2.1" stroke-linecap="round" fill="none"/>
<path d="M1821.9 612.9h0M1817.1 608.1h0M1813.6 610.9h0M1808.6 618.9h0M1823.8 620.8h0M1812.9 608.9h0M1823.7 613.4h0M1818.1 614.7h0M1827.7 622.0h0M1814.4 617.2h0M1820.8 613.8h0M1811.8 615.2h0M1821.0 623.6h0M1825.0 615.2h0M1827.2 620.4h0M1817.5 621.1h0M1808.2 610.2h0M1811.0 620.2h0M1826.8 619.7h0M1827.2 620.6h0M1817.8 612.4h0M1832.0 622.3h0M1817.3 624.6h0M1829.6 622.4h0M1820.7 619.3h0M1825.8 624.3h0M1822.7 617.2h0M1823.2 618.6h0M1814.9 619.1h0M1826.2 617.5h0M1811.9 617.8h0M1819.7 611.0h0M1825.4 619.6h0M1818.7 616.7h0M1831.8 622.7h0M1824.7 615.1h0M1830.6 625.8h0M1814.9 609.6h0M1822.4 621.5h0M1813.3 611.8h0M1815.8 617.9h0M1815.8 610.4h0M1831.0 619.9h0M1823.0 616.0h0M1826.4 619.1h0M1821.1 624.4h0M1823.2 621.3h0M1814.1 612.9h0M1824.6 624.6h0M1828.6 622.3h0M1820.2 613.8h0M1818.1 624.6h0M1824.3 616.3h0M1826.6 618.5h0M1817.2 616.4h0M1820.5 623.3h0M1824.8 614.1h0M1818.8 624.7h0M1824.7 625.6h0M1832.4 621.1h0M1814.8 616.2h0M1827.2 617.7h0M1812.3 607.4h0M1812.4 611.8h0M1826.3 625.4h0M1822.1 618.5h0M1812.7 613.6h0M1819.1 623.0h0M1821.0 613.2h0M1820.5 617.7h0M1827.5 618.6h0M1809.6 616.1h0M1810.4 611.8h0M1827.2 619.7h0M1826.7 614.1h0M1827.8 618.4h0M1827.0 622.9h0M1826.2 618.4h0M1824.4 615.2h0M1819.3 620.3h0" stroke="#e9b8f0" stroke-width="2.1" stroke-linecap="round" fill="none"/>
<rect x="1379.0" y="620.5" width="29.0" height="5.5" fill="#fff"/>
<text transform="translate(1383.2 246.4)" font-size="19" font-weight="bold" font-style="italic" fill="#fff">FGF8</text>
<text transform="translate(1503.6 246.4)" font-size="19" font-weight="bold" font-style="italic" fill="#fff">WNT3A</text>
<text transform="translate(1624.4 246.4)" font-size="19" font-weight="bold" font-style="italic" fill="#fff">MESP2</text>
<text transform="translate(1745.5 246.4)" font-size="19" font-weight="bold" fill="#fff">Merged</text>
<text transform="translate(1383.2 457.7)" font-size="19" font-weight="bold" font-style="italic" fill="#fff">FGF8</text>
<text transform="translate(1503.6 457.7)" font-size="19" font-weight="bold" font-style="italic" fill="#fff">WNT3A</text>
<text transform="translate(1624.4 457.7)" font-size="19" font-weight="bold" font-style="italic" fill="#fff">MESP2</text>
<text transform="translate(1745.5 457.7)" font-size="19" font-weight="bold" fill="#fff">Merged</text>
<text transform="translate(1595.0 214.6)" font-size="29.4" text-anchor="middle">409B2_+MG</text>
<text transform="translate(1336.0 327.7) rotate(-90) scale(1.1 1)" font-size="28.5" text-anchor="middle">96h</text>
<text transform="translate(1336.0 535.2) rotate(-90) scale(1.06 1)" font-size="28.5" text-anchor="middle">120h</text>
<rect x="80.5" y="740.8" width="117.7" height="195.4" fill="#05080a"/>
<rect x="201.5" y="740.8" width="117.1" height="195.4" fill="#05080a"/>
<rect x="322.0" y="740.8" width="118.2" height="195.4" fill="#05080a"/>
<rect x="443.6" y="740.8" width="117.1" height="195.4" fill="#05080a"/>
<rect x="52.0" y="740.8" width="24.8" height="195.4" fill="#000"/>
<text transform="translate(72.5 912.0) rotate(-90) scale(0.6 1)" font-size="22" font-weight="bold" font-style="italic" xml:space="preserve"><tspan fill="#5fd6dc">FGF8</tspan><tspan fill="#fff"> / </tspan><tspan fill="#e05cc4">WNT3A</tspan><tspan fill="#fff"> / </tspan><tspan fill="#f4e93a">MESP2</tspan></text>
<g clip-path="url(#pc11)"><g transform="translate(80.5 740.8)"><g fill="url(#vg15)" filter="url(#sf)"><use href="#d"/></g></g></g>
<g clip-path="url(#pc12)"><g transform="translate(201.5 740.8)"><g fill="url(#vg16)" filter="url(#sp)"><use href="#d"/></g></g></g>
<path d="M169.3 917.7h0M160.3 923.4h0M162.7 921.4h0M171.0 922.5h0M166.1 923.0h0M155.0 912.4h0M162.9 918.0h0M156.6 913.0h0M161.3 915.9h0M156.2 913.8h0M157.9 921.6h0M170.9 925.3h0M156.1 910.9h0M159.4 922.0h0M157.5 911.1h0M159.7 917.0h0M170.9 921.4h0M158.6 923.5h0M160.0 921.2h0M151.9 916.1h0M161.7 924.0h0M161.5 913.8h0M158.2 915.6h0M165.7 919.8h0M160.7 916.5h0" stroke="#b0f6f6" stroke-width="2.1" stroke-linecap="round" fill="none"/>
<path d="M286.1 926.1h0M284.6 920.0h0M279.3 920.0h0M284.9 917.5h0M294.4 923.5h0M284.3 924.4h0M287.4 919.3h0M273.4 914.3h0M287.1 920.1h0M281.8 909.8h0M287.3 920.6h0M289.5 924.3h0M275.9 915.6h0M293.2 925.9h0M274.9 913.2h0M275.9 917.4h0M289.1 924.0h0M294.5 924.1h0M287.1 916.3h0M289.6 917.4h0M285.7 920.0h0M279.8 920.5h0M292.6 921.3h0M274.9 919.1h0M276.3 914.4h0M289.2 922.5h0M293.7 925.0h0M284.9 918.7h0M286.0 925.2h0M275.4 914.4h0M283.4 923.7h0M287.0 927.7h0M289.8 920.2h0M282.2 914.1h0M293.5 923.6h0M286.6 924.5h0M294.3 924.2h0M288.7 919.4h0M285.2 912.0h0M282.3 917.2h0M289.3 923.5h0M283.8 925.5h0M277.0 918.8h0M278.3 921.3h0M290.3 921.8h0" stroke="#e048c4" stroke-width="2.0" stroke-linecap="round" fill="none"/>
<path d="M370.6 889.3h0M372.0 883.1h0M373.7 886.0h0M372.1 888.0h0M374.1 884.2h0M379.4 893.3h0M372.9 882.3h0M374.4 879.2h0M377.2 884.7h0M368.6 889.4h0M384.8 893.2h0M368.9 880.1h0M374.3 879.0h0M370.4 879.7h0M383.9 893.5h0M377.7 894.7h0M378.2 893.4h0M367.5 885.0h0M375.5 880.9h0M380.3 896.7h0M375.1 885.9h0M368.6 879.1h0M375.9 883.9h0M376.9 894.7h0M382.5 889.8h0M375.2 881.5h0M376.0 880.3h0M374.1 882.3h0M379.5 891.6h0M376.0 890.7h0M377.1 887.5h0M377.0 891.9h0M377.7 892.7h0M379.6 894.8h0M378.8 886.8h0M369.2 880.3h0M378.0 888.3h0M369.4 880.4h0M379.0 888.8h0M375.7 881.3h0M383.6 895.7h0M372.7 882.9h0M369.9 887.4h0M375.9 893.4h0M381.4 898.9h0M366.3 883.8h0M382.4 896.9h0M375.7 895.3h0M372.7 879.3h0M373.0 887.2h0M373.6 894.1h0M376.3 882.2h0M373.3 884.9h0M367.6 884.3h0M376.0 885.4h0M377.2 890.4h0M373.2 881.3h0M369.4 881.9h0M374.5 886.4h0M368.1 881.5h0M376.2 885.0h0M377.8 888.4h0M380.9 884.9h0M382.6 884.2h0M382.4 897.1h0M374.8 885.1h0M380.0 890.0h0M367.9 887.8h0M373.3 887.3h0M380.3 882.0h0M369.8 883.4h0M368.8 883.1h0M379.5 895.5h0M379.2 887.4h0M381.6 893.3h0M383.6 888.8h0M375.1 888.8h0M379.3 890.7h0M379.6 891.8h0M369.0 884.4h0" stroke="#f2e21b" stroke-width="2.0" stroke-linecap="round" fill="none"/>
<g clip-path="url(#pc13)"><g transform="translate(322.0 740.8)"><g fill="#161604" filter="url(#sp2)"><use href="#d"/></g></g></g>
<g clip-path="url(#pc14)"><g transform="translate(443.6 740.8)"><g fill="url(#vg17)" filter="url(#sp)"><use href="#d"/></g></g></g>
<path d="M492.2 889.3h0M493.6 883.1h0M495.3 886.0h0M493.7 888.0h0M495.7 884.2h0M501.0 893.3h0M494.5 882.3h0M496.0 879.2h0M498.8 884.7h0M490.2 889.4h0M506.4 893.2h0M490.5 880.1h0M495.9 879.0h0M492.0 879.7h0M505.5 893.5h0M499.3 894.7h0M499.8 893.4h0M489.1 885.0h0M497.1 880.9h0M501.9 896.7h0M496.7 885.9h0M490.2 879.1h0M497.5 883.9h0M498.5 894.7h0M504.1 889.8h0M496.8 881.5h0M497.6 880.3h0M495.7 882.3h0M501.1 891.6h0M497.6 890.7h0M498.7 887.5h0M498.6 891.9h0M499.3 892.7h0M501.2 894.8h0M500.4 886.8h0M490.8 880.3h0M499.6 888.3h0M491.0 880.4h0M500.6 888.8h0M497.3 881.3h0M505.2 895.7h0M494.3 882.9h0M491.5 887.4h0M497.5 893.4h0M503.0 898.9h0M487.9 883.8h0M504.0 896.9h0M497.3 895.3h0M494.3 879.3h0M494.6 887.2h0M495.2 894.1h0M497.9 882.2h0M494.9 884.9h0M489.2 884.3h0M497.6 885.4h0M498.8 890.4h0M494.8 881.3h0M491.0 881.9h0M496.1 886.4h0M489.7 881.5h0M497.8 885.0h0M499.4 888.4h0M502.5 884.9h0M504.2 884.2h0M504.0 897.1h0M496.4 885.1h0M501.6 890.0h0M489.5 887.8h0M494.9 887.3h0M501.9 882.0h0M491.4 883.4h0M490.4 883.1h0M501.1 895.5h0M500.8 887.4h0M503.2 893.3h0M505.2 888.8h0M496.7 888.8h0M500.9 890.7h0M501.2 891.8h0M490.6 884.4h0" stroke="#f2e21b" stroke-width="2.0" stroke-linecap="round" fill="none"/>
<path d="M528.2 926.1h0M526.7 920.0h0M521.4 920.0h0M527.0 917.5h0M536.5 923.5h0M526.4 924.4h0M529.5 919.3h0M515.5 914.3h0M529.2 920.1h0M523.9 909.8h0M529.4 920.6h0M531.6 924.3h0M518.0 915.6h0M535.3 925.9h0M517.0 913.2h0M518.0 917.4h0M531.2 924.0h0M536.6 924.1h0M529.2 916.3h0M531.7 917.4h0M527.8 920.0h0M521.9 920.5h0M534.7 921.3h0M517.0 919.1h0M518.4 914.4h0M531.3 922.5h0M535.8 925.0h0M527.0 918.7h0M528.1 925.2h0M517.5 914.4h0M525.5 923.7h0M529.1 927.7h0M531.9 920.2h0M524.3 914.1h0M535.6 923.6h0" stroke="#f0d8ff" stroke-width="2.1" stroke-linecap="round" fill="none"/>
<rect x="86.0" y="920.6" width="26.0" height="5.5" fill="#fff"/>
<text transform="translate(87.0 761.3)" font-size="19" font-weight="bold" font-style="italic" fill="#fff">FGF8</text>
<text transform="translate(208.0 761.3)" font-size="19" font-weight="bold" font-style="italic" fill="#fff">WNT3A</text>
<text transform="translate(328.5 761.3)" font-size="19" font-weight="bold" font-style="italic" fill="#fff">MESP2</text>
<text transform="translate(450.1 761.3)" font-size="19" font-weight="bold" fill="#fff">Merged</text>
<text transform="translate(318.0 732.0)" font-size="29.4" text-anchor="middle">201B7 Luc_+MG</text>
<text transform="translate(43.8 839.6) rotate(-90) scale(0.9 1)" font-size="30" text-anchor="middle">96h</text>
<rect x="1032.7" y="741.4" width="117.3" height="195.0" fill="#05080a"/>
<rect x="1154.0" y="741.4" width="117.3" height="195.0" fill="#05080a"/>
<rect x="1274.7" y="741.4" width="117.9" height="195.0" fill="#05080a"/>
<rect x="1396.0" y="741.4" width="117.4" height="195.0" fill="#05080a"/>
<rect x="1004.6" y="741.4" width="24.9" height="195.0" fill="#000"/>
<text transform="translate(1025.0 912.0) rotate(-90) scale(0.6 1)" font-size="22" font-weight="bold" font-style="italic" xml:space="preserve"><tspan fill="#5fd6dc">FGF8</tspan><tspan fill="#fff"> / </tspan><tspan fill="#e05cc4">WNT3A</tspan><tspan fill="#fff"> / </tspan><tspan fill="#f4e93a">MESP2</tspan></text>
<g clip-path="url(#pc18)"><g transform="translate(1032.7 741.4)"><g fill="url(#vg22)" filter="url(#sp)"><use href="#e"/></g></g></g>
<g clip-path="url(#pc18)"><g transform="translate(1032.7 741.4)"><g fill="#0f4a4e" filter="url(#sp2)"><use href="#eh"/></g></g></g>
<g clip-path="url(#pc19)"><g transform="translate(1154.0 741.4)"><g fill="url(#vg23)" filter="url(#sp2)" opacity="0.95"><use href="#e"/></g></g></g>
<g clip-path="url(#pc19)"><g transform="translate(1154.0 741.4)"><g fill="#3a1238" filter="url(#sp)"><use href="#e"/></g></g></g>
<g clip-path="url(#pc19)"><g transform="translate(1154.0 741.4)"><g fill="#4a1846" filter="url(#sp2)"><use href="#eh"/></g></g></g>
<path d="M1346.9 893.6h0M1352.4 887.7h0M1356.0 884.0h0M1343.2 896.6h0M1347.1 895.2h0M1354.3 896.1h0M1349.1 887.2h0M1348.1 894.2h0M1357.6 888.0h0M1353.3 883.5h0M1359.0 888.0h0M1355.3 896.0h0M1357.0 891.1h0M1352.5 887.6h0M1344.7 892.6h0M1351.3 888.4h0M1347.8 892.9h0M1349.1 897.3h0M1343.1 898.1h0M1349.3 893.6h0M1345.1 899.1h0M1351.8 887.4h0M1354.1 887.9h0M1353.8 896.2h0M1356.1 887.4h0M1347.7 895.0h0M1345.6 902.0h0M1351.9 893.9h0M1356.2 884.9h0M1350.0 896.3h0M1356.3 893.9h0M1351.7 890.4h0M1343.6 896.9h0M1345.1 895.1h0M1343.7 894.8h0M1350.5 887.2h0M1351.6 892.9h0M1355.2 883.9h0M1357.2 888.2h0M1357.2 888.0h0M1357.4 888.7h0M1356.5 890.8h0M1356.5 888.0h0M1343.4 896.7h0M1356.9 889.5h0M1356.0 882.8h0M1348.2 893.9h0M1353.4 890.9h0M1357.5 890.7h0M1352.7 882.8h0M1350.3 895.3h0M1353.8 887.2h0M1352.9 883.4h0M1352.1 893.0h0M1352.8 896.4h0M1352.8 892.4h0M1357.3 890.1h0M1350.9 890.3h0M1348.8 899.3h0M1356.0 891.6h0M1346.9 888.5h0M1348.4 892.9h0M1345.9 895.5h0M1354.9 885.3h0M1348.2 902.4h0M1347.3 898.4h0M1357.1 891.0h0M1356.6 883.2h0M1356.2 886.9h0M1351.4 898.8h0M1357.5 886.8h0M1344.6 894.3h0M1356.4 893.8h0M1348.3 894.4h0M1355.8 888.3h0M1346.4 887.0h0M1349.7 887.2h0M1345.6 894.7h0M1342.9 897.0h0M1350.9 892.9h0M1357.3 888.1h0M1349.5 893.4h0M1355.6 884.3h0M1350.7 887.7h0M1350.7 899.2h0" stroke="#f2e21b" stroke-width="2.7" stroke-linecap="round" fill="none"/>
<path d="M1357.5 819.0h0M1353.7 865.5h0M1353.5 890.9h0M1359.2 810.1h0M1360.0 838.3h0M1345.3 869.6h0M1350.2 904.1h0M1350.8 779.0h0M1358.0 822.3h0M1360.1 869.7h0M1354.5 888.1h0M1353.1 853.6h0M1365.8 825.5h0M1340.4 897.2h0M1351.3 822.5h0M1349.8 800.9h0M1360.8 851.3h0M1356.1 868.7h0M1353.0 821.1h0M1357.0 887.0h0M1342.4 877.6h0M1351.0 899.5h0M1366.6 795.1h0M1353.1 852.4h0M1345.9 816.8h0M1350.8 803.1h0M1349.5 780.8h0M1363.6 833.0h0M1360.9 863.7h0M1339.4 926.8h0M1345.4 895.3h0M1356.1 859.0h0M1338.5 888.2h0M1350.1 863.3h0M1367.3 833.1h0M1348.2 868.0h0M1337.9 917.6h0M1336.3 927.6h0M1360.7 790.9h0M1354.1 800.6h0" stroke="#a09a18" stroke-width="1.2" stroke-linecap="round" fill="none"/>
<g clip-path="url(#pc21)"><g transform="translate(1396.0 741.4)"><g fill="url(#vg24)" filter="url(#sp)"><use href="#e"/></g></g></g>
<g clip-path="url(#pc21)"><g transform="translate(1396.0 741.4)"><g fill="#4a4a88" filter="url(#sp2)"><use href="#eh"/></g></g></g>
<path d="M1468.2 893.6h0M1473.7 887.7h0M1477.3 884.0h0M1464.5 896.6h0M1468.4 895.2h0M1475.6 896.1h0M1470.4 887.2h0M1469.4 894.2h0M1478.9 888.0h0M1474.6 883.5h0M1480.3 888.0h0M1476.6 896.0h0M1478.3 891.1h0M1473.8 887.6h0M1466.0 892.6h0M1472.6 888.4h0M1469.1 892.9h0M1470.4 897.3h0M1464.4 898.1h0M1470.6 893.6h0M1466.4 899.1h0M1473.1 887.4h0M1475.4 887.9h0M1475.1 896.2h0M1477.4 887.4h0M1469.0 895.0h0M1466.9 902.0h0M1473.2 893.9h0M1477.5 884.9h0M1471.3 896.3h0M1477.6 893.9h0M1473.0 890.4h0M1464.9 896.9h0M1466.4 895.1h0M1465.0 894.8h0M1471.8 887.2h0M1472.9 892.9h0M1476.5 883.9h0M1478.5 888.2h0M1478.5 888.0h0M1478.7 888.7h0M1477.8 890.8h0M1477.8 888.0h0M1464.7 896.7h0M1478.2 889.5h0M1477.3 882.8h0M1469.5 893.9h0M1474.7 890.9h0M1478.8 890.7h0M1474.0 882.8h0M1471.6 895.3h0M1475.1 887.2h0M1474.2 883.4h0M1473.4 893.0h0M1474.1 896.4h0M1474.1 892.4h0M1478.6 890.1h0M1472.2 890.3h0M1470.1 899.3h0M1477.3 891.6h0M1468.2 888.5h0M1469.7 892.9h0M1467.2 895.5h0M1476.2 885.3h0M1469.5 902.4h0M1468.6 898.4h0M1478.4 891.0h0M1477.9 883.2h0M1477.5 886.9h0M1472.7 898.8h0M1478.8 886.8h0M1465.9 894.3h0M1477.7 893.8h0M1469.6 894.4h0M1477.1 888.3h0M1467.7 887.0h0M1471.0 887.2h0M1466.9 894.7h0M1464.2 897.0h0M1472.2 892.9h0M1478.6 888.1h0M1470.8 893.4h0M1476.9 884.3h0M1472.0 887.7h0M1472.0 899.2h0" stroke="#f2e21b" stroke-width="2.7" stroke-linecap="round" fill="none"/>
<rect x="1038.1" y="920.6" width="45.8" height="5.5" fill="#fff"/>
<text transform="translate(1039.2 761.3)" font-size="19" font-weight="bold" font-style="italic" fill="#fff">FGF8</text>
<text transform="translate(1160.5 761.3)" font-size="19" font-weight="bold" font-style="italic" fill="#fff">WNT3A</text>
<text transform="translate(1281.2 761.3)" font-size="19" font-weight="bold" font-style="italic" fill="#fff">MESP2</text>
<text transform="translate(1402.5 761.3)" font-size="19" font-weight="bold" fill="#fff">Merged</text>
<text transform="translate(1271.0 732.0)" font-size="29.4" text-anchor="middle">201B7 Luc_+MG</text>
<text transform="translate(990.4 833.0) rotate(-90) scale(1.1 1)" font-size="28" text-anchor="middle">120h</text>
<rect x="80.6" y="1008.0" width="117.7" height="193.6" fill="#05080a"/>
<rect x="201.4" y="1008.0" width="117.4" height="193.6" fill="#05080a"/>
<rect x="322.0" y="1008.0" width="118.0" height="193.6" fill="#05080a"/>
<rect x="443.2" y="1008.0" width="118.0" height="193.6" fill="#05080a"/>
<rect x="52.0" y="1008.0" width="25.0" height="193.6" fill="#000"/>
<text transform="translate(72.5 1179.0) rotate(-90) scale(0.6 1)" font-size="22" font-weight="bold" font-style="italic" xml:space="preserve"><tspan fill="#5fd6dc">LEF1</tspan><tspan fill="#fff"> / </tspan><tspan fill="#e05cc4">AXIN2</tspan><tspan fill="#fff"> / </tspan><tspan fill="#f4e93a">WNT3A</tspan></text>
<g clip-path="url(#pc25)"><g transform="translate(80.6 1008.0)"><g fill="#38cfd4" filter="url(#sp)"><use href="#fl"/></g></g></g>
<g clip-path="url(#pc26)"><g transform="translate(201.4 1008.0)"><g fill="url(#vg29)" filter="url(#sp)"><use href="#f"/></g></g></g>
<path d="M358.8 1183.6h0M362.7 1180.8h0M359.0 1181.7h0M366.4 1186.5h0M366.1 1185.8h0M361.0 1182.3h0M367.1 1186.0h0M362.1 1184.8h0M359.9 1186.8h0M362.9 1179.2h0M368.3 1181.2h0M364.9 1184.3h0M368.2 1183.6h0M362.0 1180.6h0M363.2 1180.3h0M360.7 1183.0h0M361.7 1185.7h0M368.8 1181.4h0M364.3 1179.7h0M358.5 1180.7h0M365.5 1184.0h0M362.9 1181.1h0M362.8 1185.7h0M365.4 1184.3h0M358.9 1184.4h0M362.9 1187.8h0M365.9 1182.1h0M362.3 1177.7h0M367.5 1184.2h0M367.0 1178.5h0M362.8 1181.9h0M358.6 1183.2h0M368.3 1181.9h0M358.6 1183.0h0M363.2 1183.2h0M360.3 1180.9h0M366.3 1185.8h0M368.1 1180.3h0M368.4 1181.0h0M359.6 1181.3h0M363.9 1185.1h0M361.7 1187.4h0M364.8 1184.1h0M363.3 1177.3h0M361.5 1181.6h0" stroke="#f2e21b" stroke-width="1.8" stroke-linecap="round" fill="none"/>
<g clip-path="url(#pc28)"><g transform="translate(443.2 1008.0)"><g fill="#b238a4" filter="url(#sp)"><use href="#f"/></g></g></g>
<g clip-path="url(#pc28)"><g transform="translate(443.2 1008.0)" style="mix-blend-mode:screen"><g fill="#52b8e8" filter="url(#sp)"><use href="#fl"/></g></g></g>
<path d="M487.3 1176.7h0M486.2 1185.5h0M486.1 1188.8h0M486.5 1178.9h0M483.6 1183.1h0M479.4 1177.2h0M488.6 1171.6h0M480.5 1179.5h0M487.2 1177.6h0M480.0 1179.9h0M481.3 1176.8h0M481.4 1189.1h0M478.0 1176.5h0M479.1 1180.8h0M481.6 1176.1h0M488.6 1185.6h0M482.1 1183.8h0M486.6 1183.2h0M484.0 1175.8h0M487.3 1180.9h0M481.6 1191.5h0M480.2 1175.1h0M487.5 1186.5h0M477.1 1183.3h0M480.6 1174.3h0M483.2 1191.7h0M482.4 1185.4h0M486.2 1191.6h0M482.2 1181.0h0M490.0 1176.9h0" stroke="#ffd0c0" stroke-width="2.0" stroke-linecap="round" fill="none"/>
<rect x="85.9" y="1189.0" width="33.0" height="6.0" fill="#fff"/>
<text transform="translate(87.1 1029.0)" font-size="19" font-weight="bold" font-style="italic" fill="#fff">LEF1</text>
<text transform="translate(207.9 1029.0)" font-size="19" font-weight="bold" font-style="italic" fill="#fff">AXIN2</text>
<text transform="translate(328.5 1029.0)" font-size="19" font-weight="bold" font-style="italic" fill="#fff">WNT3A</text>
<text transform="translate(449.7 1029.0)" font-size="19" font-weight="bold" fill="#fff">Merged</text>
<text transform="translate(302.4 998.3)" font-size="29.4" text-anchor="middle">201B7 Luc_+MG</text>
<text transform="translate(43.8 1106.0) rotate(-90) scale(0.9 1)" font-size="30" text-anchor="middle">96h</text>
<rect x="1033.0" y="1008.0" width="117.1" height="193.6" fill="#05080a"/>
<rect x="1154.2" y="1008.0" width="116.5" height="193.6" fill="#05080a"/>
<rect x="1274.8" y="1008.0" width="117.1" height="193.6" fill="#05080a"/>
<rect x="1396.0" y="1008.0" width="117.0" height="193.6" fill="#05080a"/>
<rect x="1004.7" y="1008.0" width="25.2" height="193.6" fill="#000"/>
<text transform="translate(1025.0 1179.0) rotate(-90) scale(0.6 1)" font-size="22" font-weight="bold" font-style="italic" xml:space="preserve"><tspan fill="#5fd6dc">DUSP6</tspan><tspan fill="#fff"> / </tspan><tspan fill="#e05cc4">SPRY4</tspan><tspan fill="#fff"> / </tspan><tspan fill="#f4e93a">FGF8</tspan></text>
<g clip-path="url(#pc30)"><g transform="translate(1033.0 1008.0)"><g fill="#45d6da" filter="url(#sp)"><use href="#g"/></g></g></g>
<g clip-path="url(#pc30)"><g transform="translate(1033.0 1008.0)"><g fill="#12404a" filter="url(#sp2)"><use href="#gb"/></g></g></g>
<g clip-path="url(#pc31)"><g transform="translate(1154.2 1008.0)"><g fill="#c840b0" filter="url(#sp)"><use href="#g"/></g></g></g>
<g clip-path="url(#pc31)"><g transform="translate(1154.2 1008.0)"><g fill="#40143c" filter="url(#sp2)"><use href="#gb"/></g></g></g>
<g clip-path="url(#pc32)"><g transform="translate(1274.8 1008.0)"><g fill="#e0d020" filter="url(#sp2)"><use href="#g"/></g></g></g>
<path d="M1341.9 1190.5h0M1340.7 1183.8h0M1336.1 1181.4h0M1338.1 1149.2h0M1333.7 1157.2h0M1344.6 1165.0h0M1337.8 1170.8h0M1341.6 1160.5h0M1347.8 1182.2h0M1345.8 1173.8h0M1348.1 1191.9h0M1340.5 1162.6h0M1344.3 1167.6h0M1334.0 1153.7h0M1335.8 1159.1h0M1330.0 1165.1h0M1347.1 1188.6h0M1342.0 1165.7h0M1340.5 1187.9h0M1341.8 1151.3h0M1345.9 1187.6h0M1335.5 1149.1h0M1346.1 1159.5h0M1342.0 1182.0h0M1343.2 1184.9h0M1341.4 1177.1h0M1345.2 1187.9h0M1348.5 1191.3h0M1344.9 1168.9h0M1347.0 1184.0h0M1345.2 1183.0h0M1345.9 1188.3h0M1339.9 1170.5h0M1345.7 1189.2h0M1332.6 1168.7h0M1345.3 1191.3h0M1340.3 1153.9h0M1333.5 1168.8h0M1348.1 1177.7h0M1339.9 1162.4h0M1333.9 1160.0h0M1330.0 1171.1h0M1345.6 1162.6h0M1344.0 1186.2h0M1340.7 1180.8h0M1340.9 1182.7h0M1337.6 1172.6h0M1345.8 1181.6h0M1346.0 1175.1h0M1346.3 1191.3h0M1345.7 1191.5h0M1349.0 1188.8h0M1330.3 1150.6h0M1337.1 1149.3h0M1345.5 1183.0h0M1338.9 1179.5h0M1338.2 1163.8h0M1347.1 1189.3h0M1349.3 1186.7h0M1337.0 1171.9h0" stroke="#f2e21b" stroke-width="1.5" stroke-linecap="round" fill="none"/>
<path d="M1341.7 1129.0h0M1336.8 1104.3h0M1361.3 1048.7h0M1341.7 1150.7h0M1369.1 1037.4h0M1351.3 1048.6h0M1334.4 1094.2h0M1333.4 1108.9h0M1337.9 1130.6h0M1339.0 1129.9h0M1331.3 1071.5h0M1334.0 1057.1h0M1344.8 1073.7h0M1369.2 1033.4h0M1334.3 1106.0h0M1336.1 1090.9h0M1339.0 1096.6h0M1339.3 1054.9h0M1333.4 1083.7h0M1333.4 1132.0h0M1338.0 1107.4h0M1357.4 1050.7h0M1337.4 1143.2h0M1334.9 1084.6h0M1364.4 1037.9h0M1340.5 1060.1h0M1345.2 1061.9h0M1349.0 1043.9h0M1346.4 1061.5h0M1338.6 1101.6h0M1349.2 1055.8h0M1338.7 1131.6h0M1336.6 1061.8h0M1371.6 1036.6h0M1357.0 1045.0h0M1333.1 1121.1h0M1334.9 1088.6h0M1328.9 1091.9h0M1343.6 1093.3h0M1359.1 1045.9h0M1339.8 1082.6h0M1340.4 1116.0h0M1364.6 1043.3h0M1331.8 1143.8h0M1345.2 1123.9h0M1335.9 1094.3h0M1363.3 1040.4h0M1351.1 1046.4h0M1356.8 1042.6h0M1351.0 1053.5h0" stroke="#c8bc20" stroke-width="1.3" stroke-linecap="round" fill="none"/>
<g clip-path="url(#pc33)"><g transform="translate(1396.0 1008.0)"><g fill="#a8e8f4" filter="url(#sp)"><use href="#g"/></g></g></g>
<g clip-path="url(#pc33)"><g transform="translate(1396.0 1008.0)"><g fill="#3a6a74" filter="url(#sp2)"><use href="#gb"/></g></g></g>
<path d="M1462.9 1129.0h0M1458.0 1104.3h0M1482.5 1048.7h0M1462.9 1150.7h0M1490.3 1037.4h0M1472.5 1048.6h0M1455.6 1094.2h0M1454.6 1108.9h0M1459.1 1130.6h0M1460.2 1129.9h0M1452.5 1071.5h0M1455.2 1057.1h0M1466.0 1073.7h0M1490.4 1033.4h0M1455.5 1106.0h0M1457.3 1090.9h0M1460.2 1096.6h0M1460.5 1054.9h0M1454.6 1083.7h0M1454.6 1132.0h0M1459.2 1107.4h0M1478.6 1050.7h0M1458.6 1143.2h0M1456.1 1084.6h0M1485.6 1037.9h0M1461.7 1060.1h0M1466.4 1061.9h0M1470.2 1043.9h0M1467.6 1061.5h0M1459.8 1101.6h0M1470.4 1055.8h0M1459.9 1131.6h0M1457.8 1061.8h0M1492.8 1036.6h0M1478.2 1045.0h0M1454.3 1121.1h0M1456.1 1088.6h0M1450.1 1091.9h0M1464.8 1093.3h0M1480.3 1045.9h0" stroke="#c8bc20" stroke-width="1.3" stroke-linecap="round" fill="none"/>
<rect x="1039.3" y="1189.0" width="27.7" height="6.0" fill="#fff"/>
<text transform="translate(1039.5 1029.0)" font-size="19" font-weight="bold" font-style="italic" fill="#fff">DUSP6</text>
<text transform="translate(1160.7 1029.0)" font-size="19" font-weight="bold" font-style="italic" fill="#fff">SPRY4</text>
<text transform="translate(1281.3 1029.0)" font-size="19" font-weight="bold" font-style="italic" fill="#fff">FGF8</text>
<text transform="translate(1402.5 1029.0)" font-size="19" font-weight="bold" fill="#fff">Merged</text>
<text transform="translate(1271.3 998.0)" font-size="29.4" text-anchor="middle">201B7 Luc_+MG</text>
<text transform="translate(990.4 1126.0) rotate(-90)" font-size="28" text-anchor="middle">96h</text>
<rect x="68.1" y="2271.5" width="146.4" height="242.5" fill="#05080a"/>
<rect x="218.4" y="2271.5" width="145.8" height="242.5" fill="#05080a"/>
<rect x="368.2" y="2271.5" width="145.2" height="242.5" fill="#05080a"/>
<rect x="517.9" y="2271.5" width="146.4" height="242.5" fill="#05080a"/>
<rect x="33.8" y="2271.5" width="29.5" height="242.5" fill="#000"/>
<text transform="translate(55.8 2500.0) rotate(-90) scale(1.0 1)" font-size="19.6" font-weight="bold" xml:space="preserve"><tspan fill="#5fd6dc">pERK</tspan><tspan fill="#fff"> / </tspan><tspan fill="#e05cc4">CTNNB1</tspan><tspan fill="#fff"> / </tspan><tspan fill="#f4e93a">TBX6</tspan></text>
<g clip-path="url(#pc34)"><g transform="translate(68.1 2271.5)"><g fill="url(#vg38)" filter="url(#sp)"><use href="#p"/></g></g></g>
<g clip-path="url(#pc35)"><g transform="translate(218.4 2271.5)"><g fill="#962e8a" filter="url(#sp)"><use href="#p"/></g></g></g>
<g clip-path="url(#pc36)"><g transform="translate(368.2 2271.5)"><g fill="url(#vg39)" filter="url(#sp)"><use href="#p"/></g></g></g>
<g clip-path="url(#pc37)"><g transform="translate(517.9 2271.5)"><g fill="#9a3894" filter="url(#sp)"><use href="#p"/></g></g></g>
<g clip-path="url(#pc37)"><g transform="translate(517.9 2271.5)" style="mix-blend-mode:screen"><g fill="url(#vg40)" filter="url(#sp)"><use href="#pt"/></g></g></g>
<path d="M565.3 2304.5h0M562.6 2307.4h0M596.3 2329.2h0M608.9 2313.4h0M588.5 2314.6h0M600.2 2333.9h0M581.5 2311.5h0M550.2 2314.2h0M583.0 2301.6h0M567.8 2307.1h0M612.9 2334.6h0M595.1 2312.6h0M545.0 2307.7h0M617.5 2320.7h0M540.0 2309.7h0M533.5 2304.6h0M568.4 2312.6h0M598.3 2308.1h0M541.1 2306.6h0M598.8 2322.8h0M617.7 2324.1h0M600.0 2301.9h0M590.3 2307.5h0M599.7 2308.4h0M603.2 2304.3h0M534.0 2318.9h0M610.2 2310.5h0M568.9 2325.9h0M591.6 2318.7h0M606.1 2319.1h0M592.0 2307.6h0M546.3 2309.4h0M566.7 2326.5h0M590.9 2308.7h0M558.8 2319.2h0M623.7 2330.4h0M605.5 2325.3h0M582.8 2315.8h0M557.0 2308.0h0M588.0 2304.3h0" stroke="#f2e21b" stroke-width="1.5" stroke-linecap="round" fill="none"/>
<rect x="78.1" y="2502.0" width="31.5" height="6.0" fill="#fff"/>
<text transform="translate(78.1 2291.5)" font-size="19" font-weight="bold" fill="#fff">pERK</text>
<text transform="translate(228.4 2291.5)" font-size="19" font-weight="bold" fill="#fff">CTNNB1</text>
<text transform="translate(378.2 2291.5)" font-size="19" font-weight="bold" fill="#fff">TBX6</text>
<text transform="translate(527.9 2291.5)" font-size="19" font-weight="bold" fill="#fff">Merged</text>
<text transform="translate(363.7 2257.2)" font-size="29.4" text-anchor="middle">201B7 Luc_+MG</text>
<text transform="translate(23.6 2383.0) rotate(-90)" font-size="25.5" text-anchor="middle">96h</text>
<rect x="1247.6" y="2269.7" width="146.2" height="244.3" fill="#05080a"/>
<rect x="1398.3" y="2269.7" width="146.1" height="244.3" fill="#05080a"/>
<rect x="1548.3" y="2269.7" width="146.7" height="244.3" fill="#05080a"/>
<rect x="1698.4" y="2269.7" width="147.3" height="244.3" fill="#05080a"/>
<rect x="1213.8" y="2269.7" width="29.9" height="244.3" fill="#000"/>
<text transform="translate(1236.0 2500.0) rotate(-90) scale(1.0 1)" font-size="19.6" font-weight="bold" xml:space="preserve"><tspan fill="#5fd6dc">pERK</tspan><tspan fill="#fff"> / </tspan><tspan fill="#e05cc4">CTNNB1</tspan><tspan fill="#fff"> / </tspan><tspan fill="#f4e93a">TBX6</tspan></text>
<g clip-path="url(#pc46)"><g transform="translate(1247.6 2269.7)"><g fill="url(#vg45)" filter="url(#sp)"><use href="#r"/></g></g></g>
<g clip-path="url(#pc47)"><g transform="translate(1398.3 2269.7)"><g fill="#962e8a" filter="url(#sp)"><use href="#r"/></g></g></g>
<g clip-path="url(#pc48)"><g transform="translate(1548.3 2269.7)"><g fill="#b8ac1c" filter="url(#sp)"><use href="#r"/></g></g></g>
<g clip-path="url(#pc49)"><g transform="translate(1698.4 2269.7)"><g fill="url(#vg50)" filter="url(#sp)"><use href="#r"/></g></g></g>
<g clip-path="url(#pc49)"><g transform="translate(1698.4 2269.7)"><g fill="#ecd4dc" filter="url(#sp2)"><use href="#rt"/></g></g></g>
<rect x="1256.2" y="2502.0" width="59.8" height="6.5" fill="#fff"/>
<text transform="translate(1257.6 2291.5)" font-size="19" font-weight="bold" fill="#fff">pERK</text>
<text transform="translate(1408.3 2291.5)" font-size="19" font-weight="bold" fill="#fff">CTNNB1</text>
<text transform="translate(1558.3 2291.5)" font-size="19" font-weight="bold" fill="#fff">TBX6</text>
<text transform="translate(1708.4 2291.5)" font-size="19" font-weight="bold" fill="#fff">Merged</text>
<text transform="translate(1549.2 2257.2)" font-size="29.4" text-anchor="middle">201B7 Luc_+MG</text>
<text transform="translate(1199.5 2386.0) rotate(-90)" font-size="25.5" text-anchor="middle">96h</text>
<rect x="63.6" y="1305.6" width="472.9" height="170.5" fill="#090504"/>
<rect x="63.6" y="1465.1" width="472.9" height="11.0" fill="#040202"/>
<rect x="63.6" y="1498.6" width="472.9" height="170.7" fill="#030303"/>
<text transform="translate(103.0 1299.1) scale(0.82 1)" font-size="22.5" text-anchor="middle" font-style="italic">WNT3A</text>
<use href="#E96" x="62.0" y="1307.1"/>
<g clip-path="url(#rc51)"><use href="#E96r" x="62.0" y="1307.1" filter="url(#rr)"/></g>
<path d="M99.3 1436.8h0M103.5 1430.5h0M105.4 1441.6h0M107.4 1434.2h0M101.0 1428.0h0M103.2 1438.2h0M107.0 1434.8h0M103.6 1441.2h0" stroke="#e3262c" stroke-opacity="0.92" stroke-width="2.7" stroke-linecap="round" fill="none"/>
<use href="#E120" x="64.0" y="1499.7"/>
<path d="M113.0 1532.3h0M111.8 1535.1h0" stroke="#e3262c" stroke-opacity="0.92" stroke-width="2.7" stroke-linecap="round" fill="none"/>
<text transform="translate(181.8 1299.1) scale(0.82 1)" font-size="22.5" text-anchor="middle" font-style="italic">WNT5A</text>
<use href="#E96" x="140.8" y="1307.1"/>
<g clip-path="url(#rc52)"><use href="#E96r" x="140.8" y="1307.1" filter="url(#rr)"/></g>
<path d="M171.5 1354.0h0M167.9 1351.4h0M159.8 1375.4h0M203.8 1332.6h0M204.7 1337.8h0M191.2 1335.1h0M160.8 1356.9h0M206.4 1340.5h0M185.8 1352.7h0M209.7 1337.8h0M163.0 1360.1h0M201.8 1333.4h0M189.2 1351.4h0M192.0 1347.5h0M168.7 1356.8h0M197.7 1341.6h0M171.0 1350.3h0M185.4 1350.4h0M174.2 1336.6h0M171.6 1410.1h0M178.8 1358.3h0M167.5 1360.0h0M159.9 1380.3h0M172.7 1338.9h0M169.7 1351.4h0M180.3 1409.8h0M168.3 1393.2h0M167.5 1372.1h0M175.9 1406.6h0M154.9 1355.2h0M179.2 1334.7h0M208.2 1335.2h0M154.5 1351.0h0M181.9 1353.0h0M173.7 1409.0h0M179.8 1335.9h0M167.6 1333.0h0M206.2 1338.7h0M191.1 1332.0h0M159.8 1367.9h0M171.1 1408.1h0M173.3 1349.2h0M163.5 1354.3h0M175.5 1339.0h0M190.2 1346.4h0M191.7 1330.4h0M170.1 1379.0h0M203.1 1342.9h0M186.4 1326.4h0M193.3 1341.7h0M195.2 1334.5h0M205.2 1338.7h0M201.1 1334.5h0M184.1 1351.0h0M204.1 1332.4h0M174.4 1387.0h0M161.2 1346.7h0M161.2 1339.6h0M167.6 1365.3h0M192.3 1345.3h0M170.3 1394.5h0M172.7 1384.6h0M159.3 1340.9h0M167.0 1371.0h0M167.3 1361.6h0M174.5 1390.4h0M188.4 1347.6h0M201.6 1344.9h0M176.9 1333.9h0M169.8 1378.6h0M168.5 1353.5h0M187.6 1331.7h0M194.0 1327.4h0M178.4 1396.7h0M198.6 1333.7h0M154.6 1355.7h0M172.6 1331.2h0M182.1 1337.8h0M178.0 1347.2h0M159.2 1361.3h0" stroke="#e3262c" stroke-opacity="0.92" stroke-width="2.7" stroke-linecap="round" fill="none"/>
<use href="#E120" x="142.8" y="1499.7"/>
<g clip-path="url(#rc53)"><use href="#E120r" x="142.8" y="1499.7" filter="url(#rr)"/></g>
<path d="M190.2 1621.6h0M191.0 1612.2h0M188.2 1610.0h0M180.8 1562.2h0M187.6 1570.0h0M192.3 1546.7h0M184.1 1617.5h0M184.8 1574.9h0M188.7 1593.8h0M186.4 1570.1h0M185.8 1627.5h0M183.8 1561.2h0M193.5 1591.9h0M192.6 1585.9h0M191.8 1617.4h0M188.7 1575.3h0M189.8 1615.9h0M188.2 1590.6h0M192.2 1533.2h0M191.7 1573.5h0M191.2 1535.7h0M187.1 1562.5h0M187.2 1610.3h0M186.8 1529.3h0M192.7 1612.2h0M175.8 1511.7h0M189.3 1624.2h0M193.9 1525.6h0M189.3 1536.0h0M194.3 1591.6h0M188.6 1524.6h0M184.6 1571.6h0M185.1 1613.5h0M193.8 1520.8h0M190.9 1571.9h0M183.5 1556.7h0M192.2 1610.1h0M184.5 1572.0h0M195.8 1539.5h0M183.7 1632.8h0M186.1 1574.0h0M184.9 1541.0h0M188.4 1570.7h0M184.9 1568.0h0M184.1 1578.3h0M189.2 1611.5h0M180.6 1520.1h0M170.0 1513.7h0M185.1 1575.4h0M192.6 1549.6h0M183.0 1571.9h0M188.6 1560.7h0M192.7 1595.9h0M194.9 1554.7h0M186.1 1593.3h0M185.0 1610.5h0M192.3 1596.0h0M198.2 1516.2h0M187.9 1552.3h0M187.7 1597.1h0M197.9 1517.1h0M184.6 1625.2h0M188.8 1628.5h0M193.7 1529.8h0M188.0 1586.1h0M188.4 1578.1h0M178.5 1527.0h0M188.8 1640.8h0M188.2 1621.3h0M188.5 1543.1h0" stroke="#e3262c" stroke-opacity="0.92" stroke-width="2.7" stroke-linecap="round" fill="none"/>
<line x1="142.4" y1="1305.6" x2="142.4" y2="1476.1" stroke="#f0f0f0" stroke-width="1.4"/>
<line x1="142.4" y1="1498.6" x2="142.4" y2="1669.3" stroke="#f0f0f0" stroke-width="1.4"/>
<text transform="translate(260.6 1299.1) scale(0.82 1)" font-size="22.5" text-anchor="middle" font-style="italic">WNT5B</text>
<use href="#E96" x="219.6" y="1307.1"/>
<g clip-path="url(#rc54)"><use href="#E96r" x="219.6" y="1307.1" filter="url(#rr)"/></g>
<path d="M256.8 1329.1h0M238.4 1348.1h0M272.4 1347.4h0M251.5 1361.7h0M244.5 1358.4h0M264.3 1327.5h0M271.7 1330.6h0M238.7 1336.3h0M265.0 1347.2h0M243.9 1384.4h0M239.8 1369.3h0M243.7 1341.0h0M280.5 1339.7h0M263.6 1345.4h0M273.6 1349.4h0M277.8 1346.3h0M243.2 1372.2h0M238.4 1368.7h0M257.8 1422.3h0M241.4 1392.3h0M264.8 1346.2h0M247.0 1350.4h0M251.0 1396.8h0M239.2 1350.1h0M262.8 1439.4h0M259.0 1331.4h0M262.6 1337.1h0M248.7 1351.1h0M274.2 1333.3h0M265.7 1335.9h0" stroke="#e3262c" stroke-opacity="0.92" stroke-width="2.7" stroke-linecap="round" fill="none"/>
<use href="#E120" x="221.6" y="1499.7"/>
<path d="M263.4 1641.2h0M253.9 1648.4h0M260.9 1652.4h0M261.2 1656.3h0M255.3 1646.9h0M264.4 1640.8h0M263.3 1643.6h0M263.8 1637.4h0M264.8 1647.4h0M248.5 1660.3h0M250.6 1657.7h0M265.2 1642.1h0M261.7 1648.1h0M261.6 1646.9h0M264.2 1652.6h0M268.6 1579.2h0M265.6 1636.4h0M262.3 1633.4h0M268.3 1554.0h0M263.6 1596.6h0M269.7 1634.5h0M263.9 1549.7h0M263.0 1626.6h0M269.9 1535.1h0M267.9 1611.2h0M269.1 1599.3h0M269.6 1519.3h0M266.6 1575.6h0M271.4 1542.4h0M273.0 1537.5h0" stroke="#e3262c" stroke-opacity="0.92" stroke-width="2.7" stroke-linecap="round" fill="none"/>
<line x1="221.2" y1="1305.6" x2="221.2" y2="1476.1" stroke="#f0f0f0" stroke-width="1.4"/>
<line x1="221.2" y1="1498.6" x2="221.2" y2="1669.3" stroke="#f0f0f0" stroke-width="1.4"/>
<text transform="translate(339.5 1299.1) scale(0.82 1)" font-size="22.5" text-anchor="middle" font-style="italic">WNT8A</text>
<use href="#E96" x="298.5" y="1307.1"/>
<path d="M343.9 1422.8h0M340.4 1344.0h0M352.9 1326.7h0M326.8 1376.6h0M343.9 1336.0h0M325.7 1342.9h0M355.6 1327.9h0M336.9 1401.0h0M335.1 1414.7h0M333.0 1356.1h0M346.7 1347.6h0M342.5 1427.6h0M347.0 1443.3h0M346.2 1451.1h0M353.6 1450.8h0M344.5 1448.5h0M341.8 1445.2h0M358.1 1454.7h0" stroke="#e3262c" stroke-opacity="0.92" stroke-width="2.7" stroke-linecap="round" fill="none"/>
<use href="#E120" x="300.5" y="1499.7"/>
<path d="M337.0 1650.7h0M331.4 1656.4h0M344.9 1624.3h0M349.6 1593.3h0M333.4 1517.9h0M345.3 1625.0h0M351.1 1548.6h0M342.9 1628.4h0" stroke="#e3262c" stroke-opacity="0.92" stroke-width="2.7" stroke-linecap="round" fill="none"/>
<line x1="300.1" y1="1305.6" x2="300.1" y2="1476.1" stroke="#f0f0f0" stroke-width="1.4"/>
<line x1="300.1" y1="1498.6" x2="300.1" y2="1669.3" stroke="#f0f0f0" stroke-width="1.4"/>
<text transform="translate(418.3 1299.1) scale(0.82 1)" font-size="22.5" text-anchor="middle" font-style="italic">AXIN2</text>
<use href="#E96" x="377.3" y="1307.1"/>
<path d="M399.6 1343.0h0M430.9 1331.0h0M413.6 1332.6h0M421.3 1333.8h0M399.1 1335.7h0M405.9 1373.9h0M434.3 1332.5h0M404.5 1370.3h0M392.2 1345.1h0M443.3 1328.6h0M401.1 1347.1h0M413.3 1404.5h0M391.8 1356.4h0M434.1 1337.3h0M412.9 1404.2h0M395.5 1377.4h0M408.2 1348.7h0M418.4 1337.3h0M395.8 1343.8h0M417.9 1356.0h0M406.0 1337.5h0M414.6 1330.2h0M396.3 1339.8h0M421.6 1344.3h0M401.9 1357.5h0M398.7 1342.5h0M409.1 1382.8h0M403.1 1353.0h0M417.3 1400.7h0M426.4 1325.2h0M414.7 1337.0h0M409.9 1364.0h0M400.1 1378.5h0M415.2 1327.5h0M389.0 1353.1h0M413.5 1428.4h0M421.4 1433.7h0M422.0 1428.5h0M414.3 1409.0h0M423.1 1447.1h0M439.5 1454.4h0M436.9 1454.6h0M418.0 1437.1h0M420.0 1413.2h0M426.6 1442.1h0M428.7 1457.1h0M415.2 1421.6h0M416.7 1425.3h0M419.2 1435.8h0" stroke="#e3262c" stroke-opacity="0.92" stroke-width="2.7" stroke-linecap="round" fill="none"/>
<use href="#E120" x="379.3" y="1499.7"/>
<path d="M416.8 1507.0h0M424.9 1550.0h0M431.4 1527.4h0M431.1 1536.4h0M423.8 1521.1h0M425.1 1638.4h0M421.4 1558.4h0M425.8 1634.4h0M415.8 1510.9h0M431.6 1554.0h0M426.0 1513.2h0M417.3 1513.9h0M422.9 1587.4h0M426.8 1631.6h0M414.5 1529.1h0M420.5 1618.1h0M427.7 1549.6h0M425.3 1614.2h0M423.1 1512.1h0M422.9 1632.2h0M433.1 1525.1h0M428.3 1555.9h0M422.1 1611.8h0M420.0 1618.1h0M421.0 1595.6h0M425.0 1647.4h0M416.3 1649.7h0M423.6 1610.0h0M412.2 1512.8h0M426.1 1602.0h0M421.4 1540.1h0M423.2 1630.2h0M428.6 1533.7h0M399.3 1522.1h0M428.7 1537.0h0M427.6 1554.3h0M428.0 1546.3h0M422.5 1647.7h0M424.1 1519.4h0M421.1 1606.6h0" stroke="#e3262c" stroke-opacity="0.92" stroke-width="2.7" stroke-linecap="round" fill="none"/>
<line x1="378.9" y1="1305.6" x2="378.9" y2="1476.1" stroke="#f0f0f0" stroke-width="1.4"/>
<line x1="378.9" y1="1498.6" x2="378.9" y2="1669.3" stroke="#f0f0f0" stroke-width="1.4"/>
<text transform="translate(497.1 1299.1) scale(0.82 1)" font-size="22.5" text-anchor="middle" font-style="italic">LEF1</text>
<use href="#E96" x="456.1" y="1307.1"/>
<g clip-path="url(#rc55)"><use href="#E96r" x="456.1" y="1307.1" filter="url(#rr)"/></g>
<path d="M489.8 1415.0h0M489.9 1333.4h0M483.9 1394.7h0M489.0 1417.2h0M498.6 1335.3h0M501.1 1327.9h0M484.9 1410.4h0M493.7 1420.0h0M496.1 1327.4h0M498.1 1405.0h0M483.1 1338.2h0M485.8 1364.5h0M485.4 1380.0h0M498.3 1407.6h0M511.7 1344.2h0M483.5 1351.1h0M487.4 1402.3h0M529.0 1330.9h0M481.3 1351.6h0M500.3 1351.1h0M484.9 1358.9h0M493.5 1350.0h0M519.9 1339.3h0M470.2 1349.2h0M484.3 1362.8h0M478.0 1391.2h0M488.3 1349.9h0M479.5 1337.2h0M487.0 1356.5h0M510.8 1327.1h0M527.8 1336.2h0M501.0 1429.0h0M502.3 1346.6h0M513.3 1326.9h0M507.3 1333.3h0M515.3 1347.3h0M483.4 1358.9h0M519.7 1333.2h0M489.0 1402.3h0M483.5 1349.7h0" stroke="#e3262c" stroke-opacity="0.92" stroke-width="2.7" stroke-linecap="round" fill="none"/>
<use href="#E120" x="458.1" y="1499.7"/>
<g clip-path="url(#rc56)"><use href="#E120r" x="458.1" y="1499.7" filter="url(#rr)"/></g>
<path d="M499.9 1629.5h0M481.6 1524.9h0M499.4 1576.6h0M509.1 1534.6h0M498.1 1643.3h0M497.1 1583.8h0M508.1 1599.1h0M503.4 1547.3h0M506.4 1563.1h0M503.7 1610.1h0M506.0 1567.7h0M489.5 1523.4h0M512.0 1538.5h0M509.1 1581.0h0M502.7 1616.6h0M498.7 1631.3h0M502.0 1609.0h0M499.0 1590.5h0M503.8 1623.2h0M505.5 1597.0h0M507.0 1572.1h0M480.8 1517.7h0M505.3 1629.3h0M496.7 1590.6h0M508.7 1535.0h0M505.9 1636.4h0M500.0 1568.1h0M502.9 1576.4h0M499.3 1514.8h0M507.0 1536.6h0M496.1 1528.5h0M504.8 1548.4h0M505.9 1580.1h0M503.6 1614.7h0M501.9 1561.0h0M499.1 1609.9h0M478.1 1514.3h0M509.7 1529.7h0M504.5 1512.2h0M499.6 1561.1h0M502.2 1573.6h0M496.7 1564.0h0M488.5 1531.1h0M496.9 1524.7h0M503.6 1636.8h0" stroke="#e3262c" stroke-opacity="0.92" stroke-width="2.7" stroke-linecap="round" fill="none"/>
<line x1="457.7" y1="1305.6" x2="457.7" y2="1476.1" stroke="#f0f0f0" stroke-width="1.4"/>
<line x1="457.7" y1="1498.6" x2="457.7" y2="1669.3" stroke="#f0f0f0" stroke-width="1.4"/>
<line x1="29.0" y1="1361.5" x2="29.0" y2="1625.5" stroke="#e8643a" stroke-width="3.2"/>
<text transform="translate(18.9 1566.0) rotate(-90)" font-size="25">409B2_+MG</text>
<text transform="translate(54.3 1402.5) rotate(-90)" font-size="24">96h</text>
<text transform="translate(54.3 1625.0) rotate(-90)" font-size="24">120h</text>
<rect x="1005.0" y="1304.5" width="495.0" height="171.5" fill="#090504"/>
<rect x="1005.0" y="1465.0" width="495.0" height="11.0" fill="#040202"/>
<rect x="1005.0" y="1496.3" width="495.0" height="171.5" fill="#030303"/>
<text transform="translate(1046.2 1298.5) scale(0.82 1)" font-size="22.5" text-anchor="middle" font-style="italic">DACT2</text>
<use href="#E96" x="1005.2" y="1306.5"/>
<path d="M1037.1 1332.7h0M1030.1 1345.3h0M1033.0 1350.1h0M1067.1 1334.1h0M1040.6 1418.3h0M1060.5 1335.1h0M1028.7 1376.6h0M1041.6 1347.3h0M1061.7 1323.6h0M1042.6 1435.0h0" stroke="#e3262c" stroke-opacity="0.92" stroke-width="2.7" stroke-linecap="round" fill="none"/>
<use href="#E120" x="1007.2" y="1497.8"/>
<path d="M1054.6 1504.0h0M1044.6 1515.3h0M1056.3 1554.0h0M1047.5 1648.3h0M1048.5 1558.0h0M1052.7 1633.9h0M1046.0 1647.2h0M1047.9 1596.7h0" stroke="#e3262c" stroke-opacity="0.92" stroke-width="2.7" stroke-linecap="round" fill="none"/>
<text transform="translate(1128.8 1298.5) scale(0.82 1)" font-size="22.5" text-anchor="middle" font-style="italic">DKK1</text>
<use href="#E96" x="1087.8" y="1306.5"/>
<path d="M1113.4 1375.9h0M1118.6 1407.3h0M1124.4 1418.4h0M1130.9 1416.8h0M1123.7 1383.4h0M1110.1 1377.2h0M1121.0 1393.3h0M1126.4 1396.7h0M1126.5 1419.9h0M1115.1 1374.0h0M1114.9 1402.3h0M1114.5 1400.2h0M1126.3 1415.7h0M1106.7 1382.2h0M1114.3 1378.0h0M1115.5 1395.8h0M1125.6 1407.3h0M1117.9 1394.5h0M1111.0 1390.6h0M1118.9 1377.7h0M1119.0 1382.3h0M1109.0 1377.0h0M1129.9 1417.6h0M1128.0 1415.5h0M1119.6 1413.6h0M1120.6 1389.7h0M1117.1 1378.2h0M1122.5 1408.5h0M1119.5 1371.9h0M1124.0 1410.1h0M1106.6 1381.9h0M1112.8 1393.3h0M1131.6 1413.9h0M1120.0 1403.7h0M1106.6 1377.7h0M1109.6 1377.5h0M1125.7 1407.2h0M1122.6 1402.9h0M1109.9 1373.5h0M1118.8 1401.1h0M1116.2 1409.1h0M1113.6 1373.9h0M1123.7 1416.0h0M1123.0 1384.0h0M1115.0 1389.7h0M1107.6 1385.2h0M1119.1 1397.2h0M1126.8 1394.2h0M1108.0 1369.2h0M1120.8 1395.3h0M1123.1 1389.1h0M1122.5 1404.0h0M1120.5 1412.9h0M1127.4 1402.9h0M1110.3 1376.2h0M1118.6 1380.0h0M1119.6 1385.2h0M1128.3 1413.8h0M1116.6 1392.9h0M1127.3 1411.3h0M1120.2 1395.4h0M1126.8 1417.0h0M1117.4 1403.4h0M1130.6 1418.9h0M1115.6 1403.1h0M1123.9 1413.7h0M1126.8 1411.6h0M1124.5 1392.5h0M1122.3 1411.7h0M1121.5 1398.6h0M1114.8 1381.3h0M1148.1 1334.2h0M1149.0 1337.8h0M1136.5 1448.1h0M1157.0 1329.6h0M1126.2 1336.0h0M1154.0 1333.0h0M1142.1 1325.7h0M1143.6 1339.6h0M1125.5 1353.8h0M1134.9 1432.2h0M1149.8 1333.3h0M1131.7 1445.4h0M1133.0 1349.1h0M1113.0 1370.3h0M1161.4 1332.3h0M1128.5 1440.8h0M1140.3 1326.1h0M1133.0 1448.5h0M1121.5 1352.4h0M1112.4 1379.8h0M1125.2 1426.7h0M1131.9 1444.5h0M1148.1 1330.8h0M1133.0 1353.6h0" stroke="#e3262c" stroke-opacity="0.92" stroke-width="2.7" stroke-linecap="round" fill="none"/>
<use href="#E120" x="1089.8" y="1497.8"/>
<path d="M1135.7 1518.0h0M1130.6 1564.0h0M1128.7 1642.6h0M1129.4 1591.4h0M1137.8 1602.0h0M1137.6 1599.5h0M1131.7 1644.6h0M1120.0 1529.2h0M1136.8 1534.4h0M1132.9 1648.4h0M1137.2 1516.4h0M1129.3 1604.0h0M1132.1 1612.0h0M1120.0 1522.1h0M1138.6 1567.7h0M1141.4 1541.7h0M1125.2 1511.5h0M1116.6 1519.5h0M1132.6 1646.8h0M1132.2 1548.6h0M1118.5 1522.1h0M1136.3 1542.1h0M1134.9 1537.5h0M1136.9 1614.7h0M1131.8 1527.9h0M1135.2 1606.9h0M1141.6 1545.6h0M1133.5 1602.2h0M1114.9 1659.0h0M1131.1 1609.6h0" stroke="#e3262c" stroke-opacity="0.92" stroke-width="2.7" stroke-linecap="round" fill="none"/>
<line x1="1087.5" y1="1304.5" x2="1087.5" y2="1476.0" stroke="#f0f0f0" stroke-width="2.7"/>
<line x1="1087.5" y1="1496.3" x2="1087.5" y2="1667.8" stroke="#f0f0f0" stroke-width="2.7"/>
<text transform="translate(1211.2 1298.5) scale(0.82 1)" font-size="22.5" text-anchor="middle" font-style="italic">RSPO3</text>
<use href="#E96" x="1170.2" y="1306.5"/>
<path d="M1221.8 1340.4h0M1219.6 1334.7h0M1185.7 1343.2h0M1193.0 1341.3h0M1222.1 1330.0h0M1187.4 1370.7h0M1232.3 1336.0h0M1184.2 1342.7h0M1205.8 1350.9h0M1240.1 1329.3h0M1219.2 1326.7h0M1189.4 1344.0h0M1223.3 1329.2h0M1210.4 1328.8h0M1198.0 1379.9h0M1240.5 1331.8h0M1237.1 1337.8h0M1233.0 1328.9h0M1197.1 1370.5h0M1196.6 1349.3h0M1219.8 1350.3h0M1231.4 1338.3h0M1217.6 1330.3h0M1194.2 1357.8h0M1198.8 1339.9h0M1233.8 1325.4h0M1242.1 1333.3h0M1201.0 1330.7h0M1209.2 1352.3h0M1189.9 1354.5h0M1206.7 1350.9h0M1185.7 1346.5h0M1208.1 1326.8h0M1196.9 1369.9h0M1226.5 1343.3h0M1198.5 1340.7h0M1192.9 1342.1h0M1209.2 1348.5h0M1228.1 1324.8h0M1197.7 1366.0h0M1203.0 1350.5h0M1190.6 1353.8h0M1188.4 1336.7h0M1191.0 1362.3h0M1217.1 1343.4h0M1204.6 1411.5h0M1192.7 1380.6h0M1217.0 1447.5h0M1208.1 1427.0h0M1199.1 1392.7h0M1207.2 1420.3h0M1211.4 1429.5h0M1223.4 1455.6h0M1211.8 1435.0h0M1212.1 1428.8h0M1205.8 1427.1h0M1216.9 1444.8h0M1203.6 1378.4h0M1218.6 1435.0h0M1206.5 1408.6h0M1210.5 1417.7h0M1206.6 1401.1h0M1205.9 1399.0h0M1222.0 1446.6h0M1203.6 1376.9h0M1215.0 1445.3h0M1191.9 1385.8h0M1204.7 1422.1h0M1202.8 1385.7h0M1205.0 1420.0h0M1205.0 1392.8h0M1195.1 1396.6h0M1200.2 1409.8h0M1200.3 1403.1h0M1210.5 1437.5h0" stroke="#e3262c" stroke-opacity="0.92" stroke-width="2.7" stroke-linecap="round" fill="none"/>
<use href="#E120" x="1172.2" y="1497.8"/>
<path d="M1205.3 1660.4h0M1220.7 1545.0h0M1215.7 1516.5h0M1217.7 1505.2h0M1212.8 1551.0h0M1212.3 1635.2h0M1208.5 1566.6h0M1200.2 1654.1h0M1207.7 1506.9h0M1210.7 1591.9h0M1222.8 1555.5h0M1224.2 1534.1h0M1213.7 1508.4h0M1220.7 1543.1h0M1225.7 1524.4h0M1217.6 1639.8h0M1217.7 1560.3h0M1212.8 1569.0h0M1223.8 1549.9h0M1218.5 1633.1h0M1217.0 1605.7h0M1220.0 1588.4h0M1218.2 1569.9h0M1218.5 1540.3h0M1218.5 1638.3h0M1219.9 1570.5h0M1223.2 1536.0h0M1221.0 1600.8h0M1213.9 1632.5h0M1218.5 1621.0h0M1222.2 1526.6h0M1218.9 1540.6h0M1217.2 1592.7h0M1221.6 1605.0h0M1221.5 1531.8h0M1217.1 1634.8h0M1220.3 1577.4h0M1214.6 1640.6h0M1215.6 1584.1h0M1216.4 1616.5h0M1218.7 1547.7h0M1220.0 1637.9h0M1224.3 1538.8h0M1217.7 1628.2h0M1222.9 1544.8h0" stroke="#e3262c" stroke-opacity="0.92" stroke-width="2.7" stroke-linecap="round" fill="none"/>
<line x1="1170.0" y1="1304.5" x2="1170.0" y2="1476.0" stroke="#f0f0f0" stroke-width="2.7"/>
<line x1="1170.0" y1="1496.3" x2="1170.0" y2="1667.8" stroke="#f0f0f0" stroke-width="2.7"/>
<text transform="translate(1293.8 1298.5) scale(0.82 1)" font-size="22.5" text-anchor="middle" font-style="italic">RSPO4</text>
<use href="#E96" x="1252.8" y="1306.5"/>
<path d="M1302.3 1332.2h0M1302.3 1349.5h0M1274.4 1349.6h0M1283.6 1355.7h0M1316.4 1332.8h0M1273.7 1378.4h0M1293.3 1423.8h0M1283.5 1360.6h0" stroke="#e3262c" stroke-opacity="0.92" stroke-width="2.7" stroke-linecap="round" fill="none"/>
<use href="#E120" x="1254.8" y="1497.8"/>
<path d="M1298.5 1526.4h0M1307.5 1545.5h0M1295.3 1549.6h0M1299.4 1552.5h0M1308.1 1527.0h0M1295.2 1569.2h0M1301.3 1596.5h0M1301.3 1561.1h0M1299.6 1597.2h0M1294.1 1505.9h0" stroke="#e3262c" stroke-opacity="0.92" stroke-width="2.7" stroke-linecap="round" fill="none"/>
<line x1="1252.5" y1="1304.5" x2="1252.5" y2="1476.0" stroke="#f0f0f0" stroke-width="2.7"/>
<line x1="1252.5" y1="1496.3" x2="1252.5" y2="1667.8" stroke="#f0f0f0" stroke-width="2.7"/>
<text transform="translate(1376.2 1298.5) scale(0.82 1)" font-size="22.5" text-anchor="middle" font-style="italic">SFRP1</text>
<use href="#E96" x="1335.2" y="1306.5"/>
<g clip-path="url(#rc57)"><use href="#E96r" x="1335.2" y="1306.5" filter="url(#rr)"/></g>
<use href="#E120" x="1337.2" y="1497.8"/>
<g clip-path="url(#rc58)"><use href="#E120r" x="1337.2" y="1497.8" filter="url(#rr)"/></g>
<line x1="1335.0" y1="1304.5" x2="1335.0" y2="1476.0" stroke="#f0f0f0" stroke-width="2.7"/>
<line x1="1335.0" y1="1496.3" x2="1335.0" y2="1667.8" stroke="#f0f0f0" stroke-width="2.7"/>
<text transform="translate(1458.8 1298.5) scale(0.82 1)" font-size="22.5" text-anchor="middle" font-style="italic">SFRP2</text>
<use href="#E96" x="1417.8" y="1306.5"/>
<path d="M1460.0 1348.7h0M1444.3 1355.1h0M1445.0 1355.9h0M1475.4 1333.9h0M1460.8 1327.8h0M1431.0 1349.3h0M1482.9 1329.1h0M1439.7 1332.2h0M1490.4 1334.1h0M1447.6 1384.9h0M1439.8 1366.8h0M1442.4 1392.3h0M1443.8 1383.7h0M1443.3 1343.7h0M1458.6 1326.9h0M1478.0 1340.5h0M1467.1 1348.6h0M1454.3 1331.4h0M1438.0 1347.2h0M1445.6 1341.1h0M1480.0 1335.6h0M1446.8 1364.2h0M1438.4 1339.1h0M1481.3 1334.6h0M1480.6 1333.7h0M1446.3 1358.7h0M1476.9 1330.7h0M1444.9 1335.9h0M1442.4 1381.6h0M1479.9 1341.2h0M1472.0 1345.9h0M1446.1 1330.2h0M1464.7 1335.9h0M1471.5 1324.6h0M1480.8 1337.7h0M1455.9 1352.5h0M1469.9 1342.2h0M1446.8 1350.8h0M1435.6 1339.6h0M1462.6 1335.0h0M1442.3 1364.7h0M1479.2 1342.5h0M1445.8 1335.4h0M1455.6 1348.4h0M1453.5 1351.6h0M1479.9 1343.9h0M1458.4 1356.6h0M1442.7 1371.5h0M1445.1 1344.1h0M1468.3 1329.4h0M1446.9 1364.8h0M1442.3 1353.3h0M1452.7 1356.1h0M1454.0 1353.1h0M1479.1 1335.8h0M1455.9 1432.9h0M1461.9 1439.6h0M1470.4 1447.2h0M1471.3 1455.7h0M1468.9 1448.9h0M1479.3 1457.5h0M1439.9 1387.1h0M1457.9 1439.4h0M1449.4 1393.6h0M1455.5 1418.3h0M1476.8 1454.8h0M1471.4 1449.3h0M1454.9 1404.7h0M1464.6 1437.0h0M1452.9 1405.7h0M1464.2 1433.5h0M1457.6 1408.3h0M1471.2 1453.3h0M1469.3 1453.7h0M1454.0 1404.7h0M1463.5 1429.2h0M1455.3 1420.7h0M1463.7 1447.8h0M1476.9 1454.2h0M1456.8 1438.1h0M1442.7 1395.5h0M1471.5 1449.4h0M1478.9 1453.4h0M1456.3 1435.0h0M1450.1 1380.1h0M1446.9 1411.2h0M1468.2 1449.7h0M1453.5 1410.7h0M1463.5 1442.0h0M1454.5 1394.4h0" stroke="#e3262c" stroke-opacity="0.92" stroke-width="2.7" stroke-linecap="round" fill="none"/>
<use href="#E120" x="1419.8" y="1497.8"/>
<path d="M1461.7 1587.1h0M1458.9 1603.0h0M1454.0 1657.6h0M1449.8 1657.0h0M1463.3 1630.7h0M1450.0 1660.1h0M1441.4 1516.6h0M1455.2 1661.1h0M1452.9 1527.6h0M1464.2 1552.2h0M1465.8 1610.8h0M1458.0 1561.8h0M1468.1 1597.3h0M1460.8 1646.1h0M1468.5 1528.8h0M1472.0 1527.8h0M1468.5 1573.0h0M1471.8 1587.0h0M1455.9 1523.4h0M1464.0 1609.7h0M1458.8 1530.9h0M1466.9 1566.9h0M1466.1 1626.9h0M1463.0 1523.6h0M1455.5 1564.4h0M1452.8 1657.8h0M1465.3 1621.7h0M1470.2 1548.4h0M1457.9 1524.5h0M1462.7 1642.3h0M1462.3 1573.4h0M1469.2 1581.8h0M1459.4 1517.5h0M1470.2 1540.9h0M1462.3 1545.6h0M1467.8 1569.2h0M1467.9 1598.2h0M1463.6 1576.2h0M1449.6 1652.5h0M1460.3 1659.3h0M1466.2 1575.4h0M1464.3 1630.5h0M1446.7 1662.7h0M1466.7 1561.6h0M1471.4 1527.6h0M1469.0 1549.5h0M1463.3 1509.0h0M1458.5 1645.4h0M1457.0 1645.0h0M1460.6 1526.3h0M1463.3 1555.8h0M1460.8 1566.2h0M1468.1 1594.7h0M1462.6 1621.1h0M1474.6 1511.7h0M1463.4 1516.6h0M1459.8 1555.6h0M1452.2 1656.7h0M1458.0 1531.7h0M1467.9 1541.3h0M1460.3 1636.4h0M1466.5 1543.0h0M1468.2 1513.7h0M1460.3 1610.0h0M1452.8 1661.7h0M1454.6 1527.3h0M1451.4 1652.0h0M1459.3 1644.5h0M1472.0 1534.9h0M1467.5 1604.4h0" stroke="#e3262c" stroke-opacity="0.92" stroke-width="2.7" stroke-linecap="round" fill="none"/>
<line x1="1417.5" y1="1304.5" x2="1417.5" y2="1476.0" stroke="#f0f0f0" stroke-width="2.7"/>
<line x1="1417.5" y1="1496.3" x2="1417.5" y2="1667.8" stroke="#f0f0f0" stroke-width="2.7"/>
<line x1="968.5" y1="1361.5" x2="968.5" y2="1620.0" stroke="#e8643a" stroke-width="3.2"/>
<text transform="translate(958.5 1566.0) rotate(-90)" font-size="25">409B2_+MG</text>
<text transform="translate(994.5 1402.5) rotate(-90)" font-size="24">96h</text>
<text transform="translate(994.5 1625.0) rotate(-90)" font-size="24">120h</text>
<rect x="62.2" y="1793.2" width="727.2" height="173.4" fill="#090504"/>
<rect x="62.2" y="1955.6" width="727.2" height="11.0" fill="#040202"/>
<rect x="62.2" y="1985.6" width="727.2" height="173.8" fill="#030303"/>
<text transform="translate(102.6 1787.1) scale(0.82 1)" font-size="22.5" text-anchor="middle" font-style="italic">FGF4</text>
<use href="#E96" x="61.6" y="1796.2"/>
<path d="M119.3 1947.8h0M113.0 1947.6h0M113.8 1942.3h0M107.1 1937.6h0M108.5 1934.9h0M118.9 1944.8h0M108.9 1933.5h0M124.0 1946.0h0M121.0 1945.6h0M106.6 1932.8h0M114.3 1948.1h0M108.1 1935.0h0" stroke="#e3262c" stroke-opacity="0.92" stroke-width="2.7" stroke-linecap="round" fill="none"/>
<use href="#E120" x="63.6" y="1988.2"/>
<path d="M105.0 2121.5h0M104.9 2097.6h0M105.1 2075.8h0" stroke="#e3262c" stroke-opacity="0.92" stroke-width="2.7" stroke-linecap="round" fill="none"/>
<text transform="translate(183.4 1787.1) scale(0.82 1)" font-size="22.5" text-anchor="middle" font-style="italic">FGF8</text>
<use href="#E96" x="142.4" y="1796.2"/>
<g clip-path="url(#rc59)"><use href="#E96r" x="142.4" y="1796.2" filter="url(#rr)"/></g>
<path d="M174.0 1895.7h0M177.4 1908.1h0M180.8 1912.6h0M173.5 1891.0h0M181.1 1925.9h0M184.7 1911.0h0M179.6 1909.1h0M180.0 1888.3h0M181.3 1910.4h0M180.9 1903.5h0M174.5 1881.1h0M178.5 1911.3h0M175.7 1882.7h0M188.2 1911.6h0M182.5 1898.7h0M183.4 1903.5h0M177.2 1887.0h0M184.4 1921.5h0M184.5 1914.5h0M179.1 1895.1h0M183.3 1915.7h0M178.0 1903.5h0M184.3 1914.5h0M181.9 1923.3h0M180.5 1901.5h0M184.0 1921.2h0M183.6 1926.5h0M182.1 1924.0h0M178.3 1912.9h0M185.0 1914.4h0M183.0 1823.6h0M178.6 1844.2h0M174.6 1870.5h0M164.7 1861.0h0M174.9 1854.9h0M156.2 1834.3h0M193.4 1817.5h0M171.4 1839.3h0M193.5 1824.2h0M181.5 1840.3h0" stroke="#e3262c" stroke-opacity="0.92" stroke-width="2.7" stroke-linecap="round" fill="none"/>
<use href="#E120" x="144.4" y="1988.2"/>
<path d="M181.5 2135.4h0M174.3 2144.3h0M172.0 2147.9h0M185.7 2132.0h0M176.4 2149.7h0M175.2 2146.6h0M170.9 2145.0h0M187.6 2131.5h0M185.1 2141.9h0M184.9 2138.0h0M188.7 2128.4h0M183.5 2142.4h0M187.7 2128.7h0M185.6 2144.4h0M188.5 2135.9h0M186.9 2139.7h0M185.9 2130.8h0M180.7 2148.5h0M174.4 2146.4h0M184.4 2135.0h0M179.9 2149.0h0M183.8 2139.8h0M181.1 2147.6h0M178.4 2150.2h0M184.7 2136.8h0M192.7 2082.2h0M193.6 2083.7h0M195.0 2089.9h0M184.8 2101.4h0M188.2 2073.6h0M191.3 2099.4h0M192.8 2110.8h0M184.5 2085.4h0M191.2 2110.6h0M192.6 2065.8h0M184.9 2122.9h0M188.5 2120.8h0M186.3 2097.9h0M190.9 2129.5h0M189.7 2111.1h0M186.2 2067.4h0M187.5 2063.6h0M191.9 2125.6h0M189.7 2078.9h0M191.9 2102.9h0M185.5 2061.3h0M188.7 2070.1h0M188.2 2073.3h0M188.1 2058.4h0M191.5 2082.8h0" stroke="#e3262c" stroke-opacity="0.92" stroke-width="2.7" stroke-linecap="round" fill="none"/>
<line x1="143.0" y1="1793.2" x2="143.0" y2="1966.6" stroke="#f0f0f0" stroke-width="1.4"/>
<line x1="143.0" y1="1985.6" x2="143.0" y2="2159.4" stroke="#f0f0f0" stroke-width="1.4"/>
<text transform="translate(264.2 1787.1) scale(0.82 1)" font-size="22.5" text-anchor="middle" font-style="italic">FGF9</text>
<use href="#E96" x="223.2" y="1796.2"/>
<path d="M264.8 1927.9h0M246.3 1854.7h0M263.0 1929.3h0M246.1 1862.4h0M251.2 1885.7h0M245.6 1849.7h0M268.0 1916.5h0M272.4 1943.0h0M266.6 1936.8h0M256.4 1874.8h0M247.8 1886.3h0M253.5 1898.9h0M259.5 1894.2h0M253.2 1842.3h0M241.0 1860.6h0M250.3 1882.6h0M250.8 1866.6h0M257.5 1877.9h0M272.6 1936.6h0M250.8 1851.9h0M278.8 1939.9h0M266.3 1930.6h0M254.7 1900.8h0M250.0 1878.8h0M242.6 1873.0h0M270.2 1930.8h0M262.1 1886.0h0M243.0 1872.1h0M265.1 1927.0h0M269.2 1911.8h0M255.7 1890.4h0M246.8 1861.3h0M271.9 1934.1h0M243.3 1850.7h0M253.7 1901.8h0M250.7 1851.1h0M269.4 1935.3h0M279.6 1945.8h0M274.8 1934.3h0M251.5 1885.9h0M257.6 1906.4h0M267.9 1919.4h0M247.8 1853.3h0M253.1 1844.8h0M265.1 1896.2h0" stroke="#e3262c" stroke-opacity="0.92" stroke-width="2.7" stroke-linecap="round" fill="none"/>
<use href="#E120" x="225.2" y="1988.2"/>
<path d="M250.1 2148.2h0M272.5 2127.7h0M265.8 2113.0h0M267.0 2118.6h0M264.7 2048.9h0M265.4 2071.7h0M268.8 2036.8h0M273.7 2104.9h0M267.8 2132.9h0M266.8 2126.1h0M272.7 2060.0h0M266.4 2070.3h0M264.8 2087.1h0M272.3 2080.3h0M275.0 2027.7h0M263.9 2046.5h0M268.7 2065.6h0M267.3 2052.2h0M273.2 2064.4h0M267.9 2127.6h0M272.6 2038.0h0M273.0 2130.4h0M269.0 2120.2h0M267.1 2087.6h0M267.6 2062.8h0M259.6 2058.3h0M270.3 2120.3h0M275.2 2071.5h0M260.0 2057.4h0M260.2 2145.6h0M263.2 2140.7h0M269.0 2132.0h0M267.8 2123.0h0M273.8 2123.8h0M267.0 2037.6h0M261.1 2137.5h0M272.7 2035.9h0M267.4 2125.5h0M268.4 2137.2h0M271.8 2124.7h0M270.5 2067.8h0M268.3 2093.4h0M273.6 2108.2h0M270.0 2038.0h0M274.9 2030.0h0" stroke="#e3262c" stroke-opacity="0.92" stroke-width="2.7" stroke-linecap="round" fill="none"/>
<line x1="223.8" y1="1793.2" x2="223.8" y2="1966.6" stroke="#f0f0f0" stroke-width="1.4"/>
<line x1="223.8" y1="1985.6" x2="223.8" y2="2159.4" stroke="#f0f0f0" stroke-width="1.4"/>
<text transform="translate(345.0 1787.1) scale(0.82 1)" font-size="22.5" text-anchor="middle" font-style="italic">FGF17</text>
<use href="#E96" x="304.0" y="1796.2"/>
<g clip-path="url(#rc60)"><use href="#E96r" x="304.0" y="1796.2" filter="url(#rr)"/></g>
<path d="M324.0 1838.9h0M337.8 1825.6h0M358.0 1816.5h0M340.9 1824.5h0M343.5 1897.4h0M333.3 1880.0h0M336.1 1820.6h0M376.6 1818.8h0" stroke="#e3262c" stroke-opacity="0.92" stroke-width="2.7" stroke-linecap="round" fill="none"/>
<use href="#E120" x="306.0" y="1988.2"/>
<path d="M349.7 2133.1h0M353.9 2129.1h0M343.4 2133.4h0M345.4 2134.5h0M345.5 2150.4h0M340.3 2144.2h0M348.9 2127.7h0M351.1 2133.4h0M330.9 2151.7h0M349.8 2131.9h0M349.7 2134.7h0M348.3 2125.3h0M329.6 2148.4h0M347.7 2141.1h0M335.6 2148.7h0M350.3 2132.5h0M346.5 2148.0h0M343.8 2145.4h0M340.3 2148.4h0M348.5 2135.8h0M351.9 2125.5h0M336.3 2145.5h0M351.8 2131.4h0M350.9 2134.1h0M353.2 2130.3h0M353.4 2124.7h0M334.8 2018.7h0M352.3 2030.3h0M348.6 2093.5h0M342.5 2001.7h0M349.8 2093.3h0M356.9 2069.1h0M355.6 2019.3h0" stroke="#e3262c" stroke-opacity="0.92" stroke-width="2.7" stroke-linecap="round" fill="none"/>
<line x1="304.6" y1="1793.2" x2="304.6" y2="1966.6" stroke="#f0f0f0" stroke-width="1.4"/>
<line x1="304.6" y1="1985.6" x2="304.6" y2="2159.4" stroke="#f0f0f0" stroke-width="1.4"/>
<text transform="translate(425.8 1787.1) scale(0.82 1)" font-size="22.5" text-anchor="middle" font-style="italic">FGF18</text>
<use href="#E96" x="384.8" y="1796.2"/>
<path d="M450.0 1824.4h0M430.2 1912.9h0M410.1 1862.4h0M418.3 1824.8h0M429.0 1823.0h0M410.7 1884.0h0M430.2 1841.0h0M423.7 1916.7h0M402.2 1857.5h0M424.1 1904.9h0M431.3 1839.2h0M421.8 1885.5h0M433.4 1820.7h0M411.4 1826.3h0M442.4 1829.5h0M449.8 1826.8h0M404.9 1836.2h0M430.2 1826.7h0M435.5 1939.3h0M421.5 1916.6h0M426.0 1931.3h0M444.0 1943.6h0M431.6 1931.4h0M416.6 1888.3h0M417.8 1824.3h0M450.0 1816.9h0M415.4 1825.9h0M408.7 1840.1h0M407.0 1830.4h0M408.8 1837.7h0M407.3 1846.3h0M414.7 1847.4h0M414.9 1851.4h0M426.3 1930.9h0M413.0 1885.7h0M416.5 1849.7h0M430.0 1914.6h0M456.0 1821.6h0M404.6 1864.3h0M444.2 1833.3h0M438.1 1834.3h0M422.3 1887.6h0M437.9 1836.5h0M439.5 1822.8h0M422.9 1823.6h0M440.3 1938.9h0M410.0 1833.0h0M437.9 1934.2h0M432.0 1932.8h0M415.0 1842.9h0M441.5 1831.2h0M425.0 1840.6h0M428.0 1912.0h0M440.3 1945.3h0M414.7 1872.6h0M416.2 1821.0h0M454.9 1820.8h0M428.4 1844.5h0M420.8 1824.6h0M422.0 1905.5h0M421.5 1841.0h0M428.3 1822.2h0M418.2 1870.8h0M414.3 1849.5h0M416.4 1888.2h0M405.0 1864.9h0M440.7 1816.1h0M436.7 1830.3h0M436.5 1823.4h0M422.1 1822.9h0M406.2 1850.4h0M445.2 1943.0h0M442.6 1946.3h0M430.0 1911.5h0M439.1 1824.6h0M433.1 1928.3h0M411.9 1849.7h0M410.9 1854.5h0M438.8 1834.5h0M438.3 1831.5h0M413.8 1853.8h0M440.1 1819.0h0M419.0 1846.6h0M435.0 1831.6h0M414.6 1820.9h0M454.7 1821.7h0M408.9 1854.2h0M422.0 1923.7h0M424.6 1900.0h0M412.7 1887.0h0M420.2 1906.6h0M411.5 1841.3h0M399.4 1829.0h0M425.7 1910.7h0M428.2 1842.2h0M435.4 1935.8h0M412.5 1861.2h0M429.2 1843.5h0M433.7 1839.4h0M420.9 1839.3h0M423.1 1903.2h0M447.5 1814.5h0M432.3 1931.2h0M424.2 1923.7h0M417.2 1826.1h0M417.5 1849.7h0M439.9 1820.4h0M434.5 1927.9h0M429.3 1922.6h0M425.3 1905.9h0" stroke="#e3262c" stroke-opacity="0.92" stroke-width="2.7" stroke-linecap="round" fill="none"/>
<use href="#E120" x="386.8" y="1988.2"/>
<g clip-path="url(#rc61)"><use href="#E120r" x="386.8" y="1988.2" filter="url(#rr)"/></g>
<path d="M435.2 2018.4h0M437.6 2040.0h0M431.5 2067.7h0M430.8 2005.6h0M418.0 2007.4h0M427.9 2001.0h0M429.6 2032.4h0M432.7 2052.0h0M429.7 2065.9h0M424.2 2020.0h0M431.9 2026.9h0M434.2 2061.9h0M439.4 2022.5h0M439.4 2033.8h0M432.9 1998.3h0M436.0 2070.7h0M436.2 2032.4h0M430.5 2073.6h0M436.9 2041.8h0M421.7 2005.2h0M427.4 2010.1h0M429.8 2016.1h0M434.1 2031.3h0M429.6 2039.2h0M431.1 2058.2h0M431.1 2005.2h0M431.9 2028.4h0M429.2 2049.4h0M424.3 2018.4h0M438.6 2016.8h0M427.5 2000.5h0M432.0 2072.8h0M414.5 2005.2h0M433.9 2048.6h0M433.6 2059.4h0M419.9 2013.4h0M430.1 2045.9h0M429.1 2070.8h0M424.9 2059.6h0M424.7 2048.8h0" stroke="#e3262c" stroke-opacity="0.92" stroke-width="2.7" stroke-linecap="round" fill="none"/>
<line x1="385.4" y1="1793.2" x2="385.4" y2="1966.6" stroke="#f0f0f0" stroke-width="1.4"/>
<line x1="385.4" y1="1985.6" x2="385.4" y2="2159.4" stroke="#f0f0f0" stroke-width="1.4"/>
<text transform="translate(506.6 1787.1) scale(0.82 1)" font-size="22.5" text-anchor="middle" font-style="italic">FGFBP3</text>
<use href="#E96" x="465.6" y="1796.2"/>
<path d="M519.4 1829.5h0M486.2 1845.4h0M529.7 1830.8h0M517.8 1828.0h0M510.5 1913.4h0M491.2 1839.7h0" stroke="#e3262c" stroke-opacity="0.92" stroke-width="2.7" stroke-linecap="round" fill="none"/>
<use href="#E120" x="467.6" y="1988.2"/>
<path d="M513.8 2026.3h0M510.7 2131.1h0M494.8 2147.6h0M510.9 2112.9h0" stroke="#e3262c" stroke-opacity="0.92" stroke-width="2.7" stroke-linecap="round" fill="none"/>
<line x1="466.2" y1="1793.2" x2="466.2" y2="1966.6" stroke="#f0f0f0" stroke-width="1.4"/>
<line x1="466.2" y1="1985.6" x2="466.2" y2="2159.4" stroke="#f0f0f0" stroke-width="1.4"/>
<text transform="translate(587.4 1787.1) scale(0.82 1)" font-size="22.5" text-anchor="middle" font-style="italic">DUSP6</text>
<use href="#E96" x="546.4" y="1796.2"/>
<g clip-path="url(#rc62)"><use href="#E96r" x="546.4" y="1796.2" filter="url(#rr)"/></g>
<path d="M588.9 1897.5h0M581.5 1891.1h0M589.1 1912.7h0M589.5 1923.3h0M592.2 1913.1h0M581.7 1880.1h0M582.0 1911.0h0M574.9 1898.2h0M569.5 1880.8h0M571.4 1878.0h0M582.8 1919.1h0M578.2 1896.6h0M586.3 1925.2h0M581.4 1897.6h0M589.0 1927.6h0M591.8 1923.6h0M571.1 1887.0h0M593.3 1928.3h0M588.2 1906.8h0M580.1 1897.8h0M591.2 1915.2h0M591.2 1918.1h0M587.0 1916.8h0M584.2 1905.1h0M584.4 1914.1h0M592.5 1909.4h0M592.9 1928.4h0M577.8 1900.0h0M580.5 1884.5h0M587.0 1911.5h0M578.4 1829.3h0M610.4 1819.2h0M577.5 1865.3h0M564.5 1845.9h0M578.8 1853.9h0M606.2 1821.9h0M608.8 1826.4h0M578.5 1840.6h0M605.7 1828.2h0M587.7 1837.0h0" stroke="#e3262c" stroke-opacity="0.92" stroke-width="2.7" stroke-linecap="round" fill="none"/>
<use href="#E120" x="548.4" y="1988.2"/>
<g clip-path="url(#rc63)"><use href="#E120r" x="548.4" y="1988.2" filter="url(#rr)"/></g>
<path d="M599.8 2031.9h0M600.5 2015.2h0M592.4 2025.5h0M576.6 1996.9h0M601.5 2029.8h0M601.9 2016.0h0M598.0 2036.0h0M576.1 1995.8h0M600.8 2019.2h0M600.8 2018.4h0M599.1 2024.2h0M599.4 2016.1h0M575.8 2004.3h0M583.9 2003.3h0M597.7 2035.0h0M600.9 2022.5h0M596.9 2026.9h0M585.0 2010.3h0M585.6 2003.5h0M573.3 2015.9h0" stroke="#e3262c" stroke-opacity="0.92" stroke-width="2.7" stroke-linecap="round" fill="none"/>
<line x1="547.0" y1="1793.2" x2="547.0" y2="1966.6" stroke="#f0f0f0" stroke-width="1.4"/>
<line x1="547.0" y1="1985.6" x2="547.0" y2="2159.4" stroke="#f0f0f0" stroke-width="1.4"/>
<text transform="translate(668.2 1787.1) scale(0.82 1)" font-size="22.5" text-anchor="middle" font-style="italic">SPRY2</text>
<use href="#E96" x="627.2" y="1796.2"/>
<path d="M674.2 1940.4h0M674.7 1938.9h0M665.8 1882.6h0M659.8 1875.0h0M665.6 1900.2h0M658.2 1829.9h0M660.3 1846.1h0M665.4 1819.2h0M655.7 1871.5h0M646.8 1837.7h0M656.5 1838.1h0M670.9 1837.6h0M688.9 1812.7h0M690.6 1823.5h0M675.1 1836.2h0M671.4 1824.5h0M663.0 1817.9h0M682.7 1819.5h0M689.9 1830.0h0M666.8 1839.8h0M653.0 1836.9h0M691.7 1826.2h0M657.4 1902.6h0M664.8 1826.4h0M692.4 1822.4h0M661.8 1870.5h0M669.6 1921.6h0M666.1 1845.8h0M653.4 1848.9h0M655.7 1891.3h0M658.0 1880.0h0M672.7 1823.1h0M692.9 1823.3h0M650.9 1865.8h0M647.3 1851.9h0M663.5 1827.6h0M653.5 1851.3h0M658.3 1863.4h0M689.7 1823.9h0M652.9 1838.3h0M668.1 1840.1h0M660.5 1820.8h0M668.9 1834.0h0M653.5 1868.1h0M688.0 1828.0h0M660.9 1876.0h0M650.6 1841.0h0M678.9 1940.3h0M660.0 1902.0h0M653.4 1823.0h0M656.1 1899.3h0M681.7 1814.6h0M666.6 1926.1h0M674.5 1941.0h0M662.1 1838.5h0" stroke="#e3262c" stroke-opacity="0.92" stroke-width="2.7" stroke-linecap="round" fill="none"/>
<use href="#E120" x="629.2" y="1988.2"/>
<path d="M669.3 2123.0h0M668.5 2049.8h0M659.1 1993.6h0M674.0 2033.8h0M672.3 2128.2h0M678.8 2065.2h0M675.6 2002.7h0M673.3 2111.0h0M676.2 2096.7h0M670.0 2086.4h0M669.0 1995.1h0M675.4 2083.3h0M669.8 2118.9h0M659.5 2012.5h0M660.0 2013.8h0M676.4 2049.0h0M658.8 2151.1h0M676.8 2059.3h0M679.9 2046.9h0M669.6 2028.9h0M676.5 2007.0h0M678.0 2053.6h0M661.4 2018.9h0M659.1 2150.7h0M668.6 2079.0h0M682.5 2007.4h0M680.2 2022.7h0M678.6 2059.1h0M675.5 2088.6h0M676.0 2042.7h0M672.9 2122.8h0M674.1 2053.0h0M667.9 2071.1h0M674.0 2063.7h0M667.8 2018.5h0M679.6 2021.2h0M670.3 2110.9h0M673.2 2133.7h0M677.6 2114.7h0M673.2 2019.6h0M671.6 2054.1h0M676.1 2055.3h0M673.4 2130.3h0M673.3 2099.1h0M675.1 2038.8h0M669.9 2012.0h0M673.1 2030.0h0M672.2 2059.2h0M681.5 2025.0h0M673.7 2108.8h0M676.3 2113.5h0M680.6 1999.5h0M670.3 2095.4h0M670.2 2086.6h0M667.3 2075.9h0M678.5 2123.6h0M676.9 2092.3h0M654.1 2149.3h0M669.5 2050.1h0M672.1 2037.2h0" stroke="#e3262c" stroke-opacity="0.92" stroke-width="2.7" stroke-linecap="round" fill="none"/>
<line x1="627.8" y1="1793.2" x2="627.8" y2="1966.6" stroke="#f0f0f0" stroke-width="1.4"/>
<line x1="627.8" y1="1985.6" x2="627.8" y2="2159.4" stroke="#f0f0f0" stroke-width="1.4"/>
<text transform="translate(749.0 1787.1) scale(0.82 1)" font-size="22.5" text-anchor="middle" font-style="italic">SPRY4</text>
<use href="#E96" x="708.0" y="1796.2"/>
<g clip-path="url(#rc64)"><use href="#E96r" x="708.0" y="1796.2" filter="url(#rr)"/></g>
<path d="M755.5 1824.0h0M765.9 1828.4h0M750.4 1842.8h0M754.8 1835.7h0M753.9 1822.4h0M744.3 1824.2h0M728.9 1852.5h0M721.7 1836.4h0M747.7 1920.2h0M727.7 1837.4h0" stroke="#e3262c" stroke-opacity="0.92" stroke-width="2.7" stroke-linecap="round" fill="none"/>
<use href="#E120" x="710.0" y="1988.2"/>
<path d="M754.8 2134.7h0M752.2 2133.0h0M748.8 2141.7h0M752.1 2136.4h0M753.7 2133.5h0M755.6 2130.0h0M736.7 2145.4h0M751.3 2127.4h0M748.2 2135.9h0M753.7 2133.9h0M747.8 2138.1h0M755.2 2132.2h0M751.3 2135.1h0M743.0 2150.6h0M750.9 2131.0h0M749.6 2127.7h0M749.6 2138.1h0M739.5 2146.7h0M742.1 2147.9h0M750.1 2135.4h0M747.9 2049.1h0M753.4 2051.2h0M751.8 2058.5h0M755.8 2120.3h0M755.2 2066.9h0M760.3 2069.5h0M749.8 2044.3h0M753.8 2038.6h0M754.7 2064.1h0M756.6 2086.9h0" stroke="#e3262c" stroke-opacity="0.92" stroke-width="2.7" stroke-linecap="round" fill="none"/>
<line x1="708.6" y1="1793.2" x2="708.6" y2="1966.6" stroke="#f0f0f0" stroke-width="1.4"/>
<line x1="708.6" y1="1985.6" x2="708.6" y2="2159.4" stroke="#f0f0f0" stroke-width="1.4"/>
<line x1="28.5" y1="1851.0" x2="28.5" y2="2114.0" stroke="#e8643a" stroke-width="3.2"/>
<text transform="translate(18.9 2056.0) rotate(-90)" font-size="25">409B2_+MG</text>
<text transform="translate(54.3 1892.0) rotate(-90)" font-size="24">96h</text>
<text transform="translate(54.3 2114.0) rotate(-90)" font-size="24">120h</text>
<rect x="1201.8" y="1793.0" width="320.8" height="173.0" fill="#090504"/>
<rect x="1201.8" y="1955.0" width="320.8" height="11.0" fill="#040202"/>
<rect x="1201.8" y="1986.7" width="320.8" height="172.8" fill="#030303"/>
<text transform="translate(1241.9 1787.1) scale(0.86 1)" font-size="22.5" text-anchor="middle" font-style="italic">FGFR1</text>
<use href="#E96" x="1200.9" y="1795.8"/>
<path d="M1219.1 1852.1h0M1240.5 1817.9h0M1235.9 1917.0h0M1230.5 1898.3h0M1222.0 1847.7h0M1245.0 1901.6h0M1231.5 1821.3h0M1214.0 1842.2h0M1238.9 1892.7h0M1254.1 1823.3h0M1231.6 1818.4h0M1241.7 1891.6h0M1223.8 1830.5h0M1254.6 1816.7h0M1232.2 1848.6h0M1226.0 1824.9h0M1244.8 1899.4h0M1230.7 1881.5h0M1245.1 1921.9h0M1252.3 1947.5h0M1227.5 1851.8h0M1223.5 1828.9h0M1254.0 1836.0h0M1249.2 1933.9h0M1232.4 1881.9h0M1218.6 1861.3h0M1228.3 1876.0h0M1271.5 1819.2h0M1219.6 1850.4h0M1241.9 1892.1h0M1223.4 1828.7h0M1231.6 1826.9h0M1231.9 1871.7h0M1244.4 1921.4h0M1239.9 1835.1h0M1256.5 1828.6h0M1227.0 1817.3h0M1244.7 1935.8h0M1236.9 1918.3h0M1225.7 1866.3h0M1247.8 1932.9h0M1236.8 1907.9h0M1233.8 1841.1h0M1230.4 1826.8h0M1244.4 1824.9h0" stroke="#e3262c" stroke-opacity="0.92" stroke-width="2.7" stroke-linecap="round" fill="none"/>
<use href="#E120" x="1202.9" y="1988.9"/>
<path d="M1239.5 2051.5h0M1234.0 2012.8h0M1243.6 2088.5h0M1239.9 2075.6h0M1241.5 2052.3h0M1254.2 2075.7h0M1244.3 2143.1h0M1248.0 2120.4h0M1241.9 2050.9h0M1250.3 2039.9h0M1244.1 2009.8h0M1252.6 2069.4h0M1248.6 2124.1h0M1252.3 2036.3h0M1244.4 2008.7h0M1246.8 2072.0h0M1252.1 2039.3h0M1249.0 2049.2h0M1242.3 2142.5h0M1249.3 2087.1h0M1243.9 2108.5h0M1246.1 2053.1h0M1249.4 2121.1h0M1251.0 2010.0h0M1244.1 2069.0h0M1250.8 2092.2h0M1243.9 2076.2h0M1247.2 2127.4h0M1246.5 2128.9h0M1242.6 2112.0h0M1239.9 2050.2h0M1246.3 2127.3h0M1242.4 2147.9h0M1251.3 2015.1h0M1245.9 2057.6h0M1248.8 2036.0h0M1252.4 2034.7h0M1243.5 2097.7h0M1243.7 2053.1h0M1252.2 2114.8h0" stroke="#e3262c" stroke-opacity="0.92" stroke-width="2.7" stroke-linecap="round" fill="none"/>
<text transform="translate(1322.1 1787.1) scale(0.86 1)" font-size="22.5" text-anchor="middle" font-style="italic">FGFR2</text>
<use href="#E96" x="1281.1" y="1795.8"/>
<path d="M1330.3 1933.2h0M1302.7 1836.1h0M1309.5 1888.6h0M1307.9 1848.3h0M1341.5 1834.1h0M1323.5 1820.8h0M1331.4 1819.5h0M1331.5 1929.3h0M1309.3 1852.0h0M1304.5 1845.2h0M1329.0 1943.7h0M1305.2 1876.5h0M1319.3 1885.5h0M1343.2 1821.8h0M1309.9 1848.7h0M1301.0 1851.6h0M1325.2 1920.8h0M1316.8 1879.2h0M1309.2 1822.0h0M1321.9 1903.2h0M1300.7 1848.9h0M1293.7 1835.7h0M1303.3 1846.1h0M1307.6 1866.1h0M1347.6 1820.3h0M1316.1 1901.7h0M1315.1 1888.1h0M1323.9 1823.1h0M1301.3 1844.7h0M1324.8 1919.2h0M1298.6 1837.1h0M1314.5 1859.7h0M1307.8 1824.1h0M1313.2 1842.2h0M1294.8 1841.8h0M1349.7 1823.9h0M1310.0 1865.7h0M1309.1 1884.8h0M1298.6 1844.3h0M1346.9 1821.5h0M1317.8 1898.4h0M1306.4 1873.0h0M1337.7 1827.7h0M1305.0 1842.1h0M1311.4 1871.6h0M1344.4 1824.3h0M1312.4 1876.1h0M1321.1 1895.2h0M1306.9 1846.0h0M1335.1 1819.0h0M1348.3 1827.7h0M1321.1 1820.1h0M1348.6 1825.9h0M1302.7 1847.0h0M1321.5 1931.4h0M1305.0 1864.6h0M1298.6 1840.7h0M1330.3 1926.0h0M1308.1 1823.6h0M1312.9 1881.1h0M1345.3 1816.8h0M1298.5 1834.2h0M1328.8 1927.4h0M1349.0 1828.8h0M1323.2 1931.8h0M1331.0 1943.1h0M1319.4 1920.1h0M1335.0 1938.1h0M1298.8 1835.8h0M1345.2 1820.0h0M1316.6 1828.2h0M1322.3 1843.0h0M1298.4 1842.5h0M1323.8 1913.2h0M1306.5 1844.1h0" stroke="#e3262c" stroke-opacity="0.92" stroke-width="2.7" stroke-linecap="round" fill="none"/>
<use href="#E120" x="1283.1" y="1988.9"/>
<path d="M1333.3 2096.7h0M1329.0 2042.2h0M1324.4 2072.3h0M1326.8 2048.4h0M1335.1 2031.3h0M1330.4 2128.5h0M1329.2 2135.3h0M1322.7 2130.0h0M1328.3 2019.8h0M1333.4 2027.6h0M1323.5 2102.8h0M1325.3 2064.1h0M1332.7 2069.7h0M1332.3 2023.2h0M1325.7 2047.3h0M1320.4 2053.6h0M1329.4 2085.9h0M1332.6 2064.8h0M1315.6 2151.0h0M1306.6 2003.5h0M1331.0 2032.8h0M1326.8 2112.2h0M1331.6 2114.9h0M1324.2 2048.9h0M1326.8 2061.0h0M1326.8 2110.3h0M1324.6 2077.3h0M1323.4 2134.9h0M1322.0 2003.4h0M1321.0 2050.1h0M1329.0 2084.2h0M1313.7 2005.8h0M1332.5 2055.5h0M1329.0 2005.7h0M1328.9 2040.8h0M1305.3 2011.3h0M1336.0 2024.3h0M1313.5 2149.5h0M1333.1 2026.0h0M1334.0 2081.9h0M1322.2 2011.4h0M1329.7 2079.0h0M1320.6 2141.7h0M1329.4 2104.4h0M1326.4 2131.2h0M1324.3 2087.6h0M1314.4 2019.0h0M1326.0 2116.5h0M1332.0 2072.8h0M1328.4 2048.8h0M1319.8 2146.1h0M1335.1 2024.3h0M1322.8 2099.7h0M1302.4 2011.5h0M1330.7 2102.4h0M1325.7 2034.2h0M1325.5 2122.0h0M1321.4 2137.3h0M1325.8 2135.8h0M1321.8 2048.3h0M1326.4 2005.7h0M1327.3 2065.9h0M1332.9 2019.0h0M1312.0 2005.9h0M1332.6 2093.1h0M1335.6 2027.2h0M1324.0 2094.8h0M1325.3 2102.2h0M1326.6 2091.1h0M1331.0 2099.8h0M1330.7 2115.0h0M1328.1 2100.5h0M1327.6 2118.5h0M1314.0 2147.7h0M1328.4 2074.0h0M1326.4 2049.1h0M1334.5 2021.7h0M1334.4 2037.3h0M1323.9 2106.1h0M1327.9 2120.8h0M1329.5 2068.8h0M1327.2 2126.4h0M1325.8 2128.5h0M1330.4 2035.5h0M1329.7 2026.9h0M1326.8 2104.6h0M1325.5 2070.9h0M1331.4 2092.1h0M1328.0 2087.8h0M1326.3 2135.5h0" stroke="#e3262c" stroke-opacity="0.92" stroke-width="2.7" stroke-linecap="round" fill="none"/>
<line x1="1282.0" y1="1793.0" x2="1282.0" y2="1966.0" stroke="#f0f0f0" stroke-width="1.4"/>
<line x1="1282.0" y1="1986.7" x2="1282.0" y2="2159.5" stroke="#f0f0f0" stroke-width="1.4"/>
<text transform="translate(1402.3 1787.1) scale(0.86 1)" font-size="22.5" text-anchor="middle" font-style="italic">FGFR3</text>
<use href="#E96" x="1361.3" y="1795.8"/>
<path d="M1409.1 1929.8h0M1393.4 1895.8h0M1390.9 1886.5h0M1427.4 1826.9h0" stroke="#e3262c" stroke-opacity="0.92" stroke-width="2.7" stroke-linecap="round" fill="none"/>
<use href="#E120" x="1363.3" y="1988.9"/>
<path d="M1413.0 2096.1h0M1406.8 2076.1h0M1403.2 2113.8h0M1400.5 2150.2h0" stroke="#e3262c" stroke-opacity="0.92" stroke-width="2.7" stroke-linecap="round" fill="none"/>
<line x1="1362.2" y1="1793.0" x2="1362.2" y2="1966.0" stroke="#f0f0f0" stroke-width="1.4"/>
<line x1="1362.2" y1="1986.7" x2="1362.2" y2="2159.5" stroke="#f0f0f0" stroke-width="1.4"/>
<text transform="translate(1482.5 1787.1) scale(0.86 1)" font-size="22.5" text-anchor="middle" font-style="italic">FGFR4</text>
<use href="#E96" x="1441.5" y="1795.8"/>
<path d="M1472.6 1842.4h0M1510.7 1821.8h0M1486.9 1927.5h0M1471.9 1874.7h0M1478.4 1893.8h0M1491.9 1814.2h0M1510.8 1822.6h0M1472.5 1905.1h0M1494.4 1934.9h0M1456.3 1837.3h0M1467.1 1875.4h0M1464.8 1872.8h0M1495.7 1940.2h0M1486.7 1931.6h0M1464.5 1834.1h0M1502.6 1942.2h0M1498.8 1826.5h0M1511.3 1822.2h0M1479.5 1818.2h0M1483.0 1815.1h0M1489.3 1935.4h0M1458.5 1863.3h0" stroke="#e3262c" stroke-opacity="0.92" stroke-width="2.7" stroke-linecap="round" fill="none"/>
<use href="#E120" x="1443.5" y="1988.9"/>
<path d="M1488.4 2041.0h0M1496.8 2023.2h0M1476.4 2140.8h0M1491.5 2096.5h0M1472.4 2146.4h0M1494.1 2018.4h0M1487.4 2128.5h0M1495.6 2021.7h0M1481.5 2144.9h0M1480.9 2144.2h0M1492.4 2086.4h0M1493.5 2095.3h0M1467.0 2006.2h0M1483.2 2136.6h0M1483.6 2061.0h0M1485.3 2110.5h0M1475.7 2012.6h0M1495.1 2075.2h0M1467.9 2148.6h0M1490.2 2093.4h0M1490.4 2011.4h0M1492.6 2026.3h0M1494.2 2039.0h0M1473.8 2149.4h0M1484.9 2096.0h0M1490.0 2001.7h0M1487.3 2062.0h0M1496.7 2017.6h0" stroke="#e3262c" stroke-opacity="0.92" stroke-width="2.7" stroke-linecap="round" fill="none"/>
<line x1="1442.4" y1="1793.0" x2="1442.4" y2="1966.0" stroke="#f0f0f0" stroke-width="1.4"/>
<line x1="1442.4" y1="1986.7" x2="1442.4" y2="2159.5" stroke="#f0f0f0" stroke-width="1.4"/>
<line x1="1168.5" y1="1851.0" x2="1168.5" y2="2114.0" stroke="#e8643a" stroke-width="3.2"/>
<text transform="translate(1158.5 2056.0) rotate(-90)" font-size="25">409B2_+MG</text>
<text transform="translate(1194.5 1892.0) rotate(-90)" font-size="24">96h</text>
<text transform="translate(1194.5 2114.0) rotate(-90)" font-size="24">120h</text>
<text transform="translate(10.5 32.5)" font-size="44" font-weight="bold">a</text>
<text transform="translate(601.0 33.0)" font-size="44" font-weight="bold">b</text>
<text transform="translate(1312.5 201.0)" font-size="44" font-weight="bold">c</text>
<text transform="translate(10.0 717.7)" font-size="44" font-weight="bold">d</text>
<text transform="translate(956.5 718.4)" font-size="44" font-weight="bold">e</text>
<text transform="translate(3.5 995.7)" font-size="44" font-weight="bold">f</text>
<text transform="translate(949.5 991.7)" font-size="44" font-weight="bold">g</text>
<text transform="translate(4.5 1273.0)" font-size="44" font-weight="bold">h</text>
<text transform="translate(563.0 1272.2)" font-size="44" font-weight="bold">i</text>
<text transform="translate(946.5 1265.0)" font-size="44" font-weight="bold">j</text>
<text transform="translate(1539.0 1272.3)" font-size="44" font-weight="bold">k</text>
<text transform="translate(4.0 1747.9)" font-size="44" font-weight="bold">l</text>
<text transform="translate(791.5 1747.9)" font-size="44" font-weight="bold">m</text>
<text transform="translate(1148.0 1746.5)" font-size="44" font-weight="bold">n</text>
<text transform="translate(1538.5 1746.5)" font-size="44" font-weight="bold">o</text>
<text transform="translate(3.0 2233.5)" font-size="44" font-weight="bold">p</text>
<text transform="translate(681.0 2233.5)" font-size="44" font-weight="bold">q</text>
<text transform="translate(1161.0 2234.7)" font-size="44" font-weight="bold">r</text></svg></body></html>
